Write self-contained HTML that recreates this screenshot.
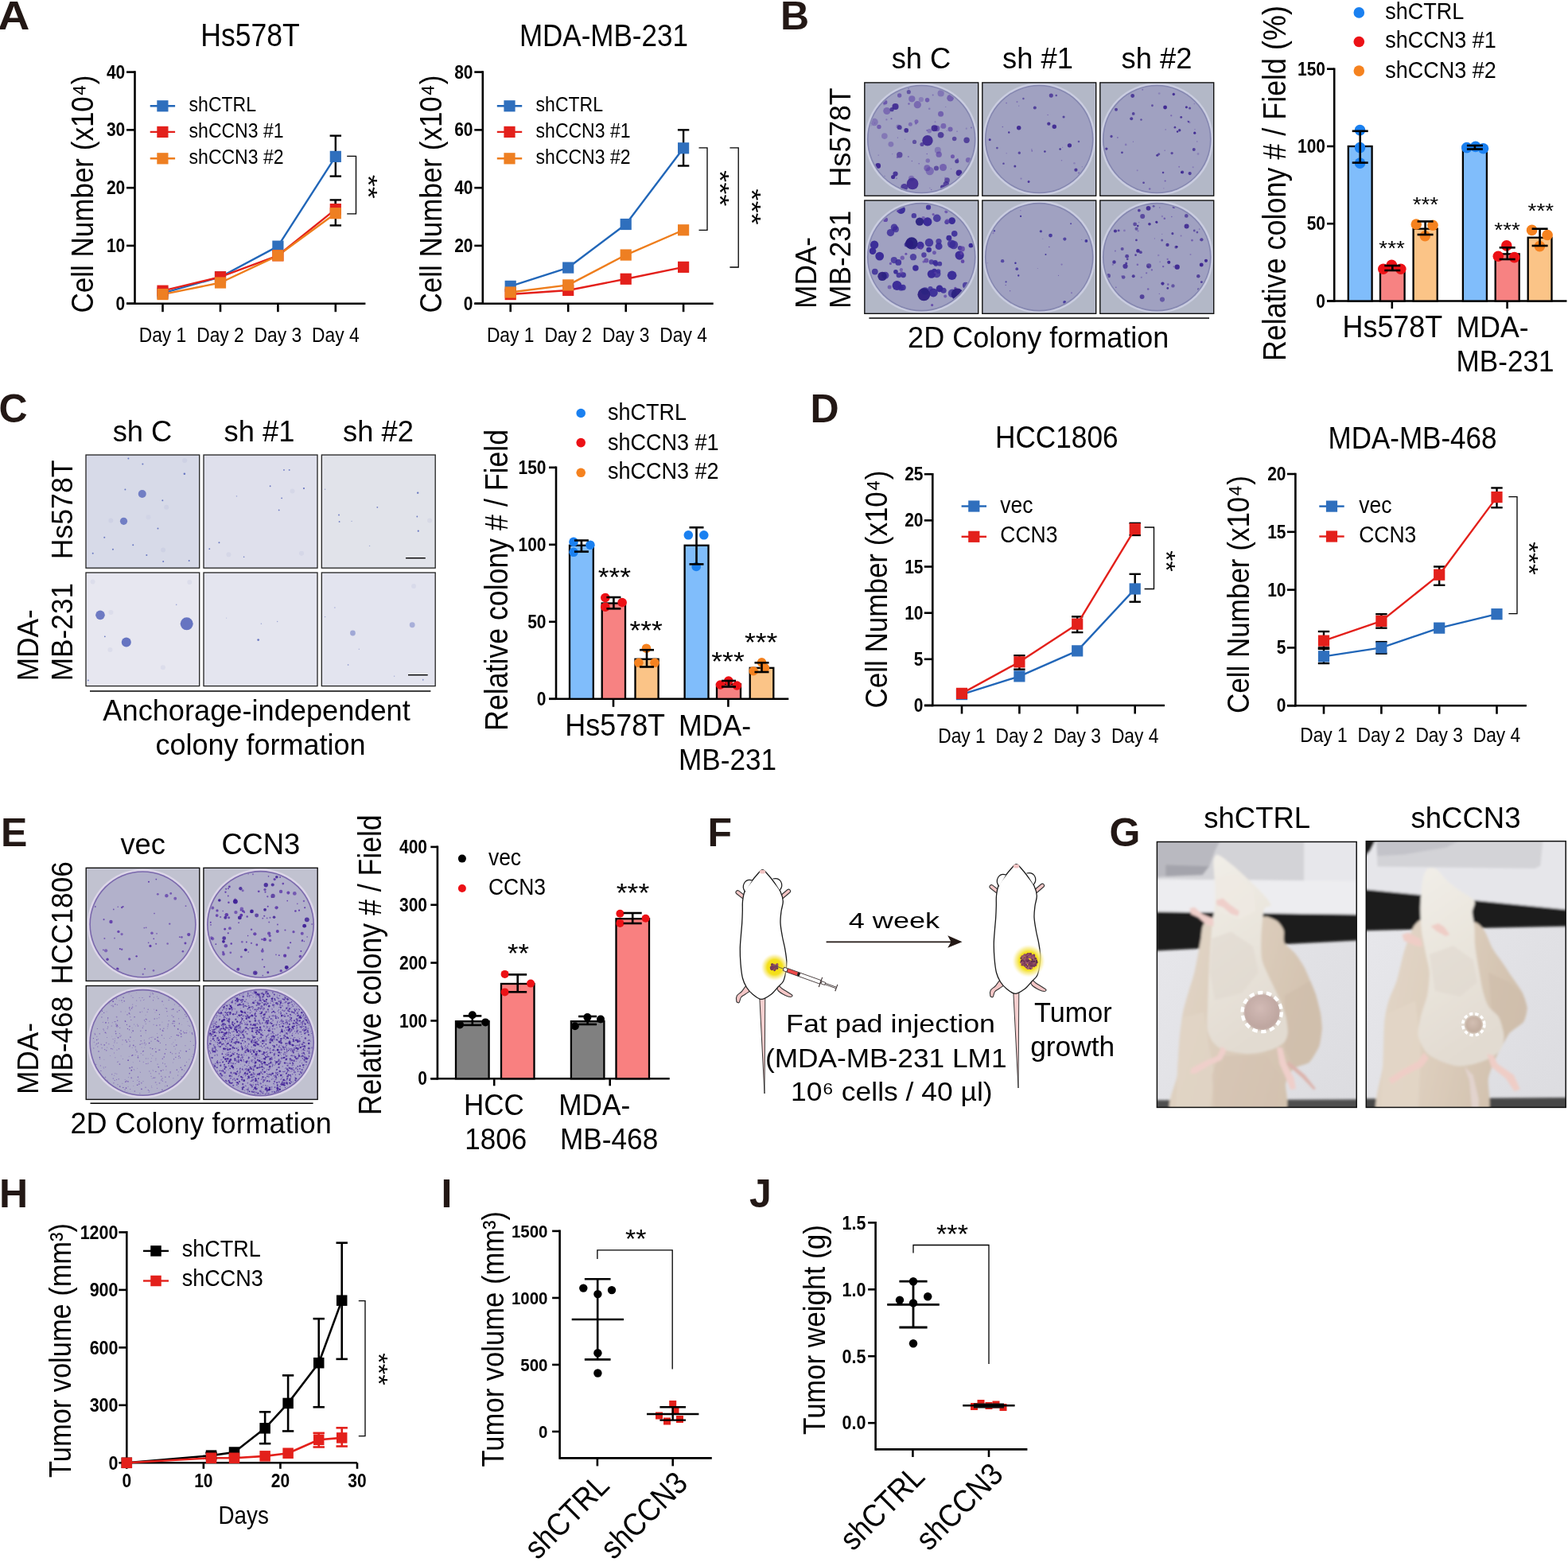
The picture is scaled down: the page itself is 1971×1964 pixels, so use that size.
<!DOCTYPE html>
<html><head><meta charset="utf-8"><title>Figure</title>
<style>html,body{margin:0;padding:0;background:#fff;}svg{display:block;}text{font-family:"Liberation Sans", Arial, Helvetica, sans-serif;}</style></head><body>
<svg xmlns="http://www.w3.org/2000/svg" width="1971" height="1964" viewBox="0 0 1971 1964">
<defs><filter id="soft" x="-20%" y="-20%" width="140%" height="140%"><feGaussianBlur stdDeviation="0.55"/></filter><clipPath id="pc1"><rect x="1086.8" y="103.9" width="142.9" height="142.3"/></clipPath><clipPath id="pc1d"><circle cx="1158.25" cy="175.05" r="66.31"/></clipPath><clipPath id="pc2"><rect x="1234.8" y="103.9" width="142.9" height="142.3"/></clipPath><clipPath id="pc2d"><circle cx="1306.25" cy="175.05" r="66.31"/></clipPath><clipPath id="pc3"><rect x="1382.8" y="103.9" width="142.9" height="142.3"/></clipPath><clipPath id="pc3d"><circle cx="1454.25" cy="175.05" r="66.31"/></clipPath><clipPath id="pc4"><rect x="1086.8" y="252" width="142.9" height="142.3"/></clipPath><clipPath id="pc4d"><circle cx="1158.25" cy="323.15" r="66.31"/></clipPath><clipPath id="pc5"><rect x="1234.8" y="252" width="142.9" height="142.3"/></clipPath><clipPath id="pc5d"><circle cx="1306.25" cy="323.15" r="66.31"/></clipPath><clipPath id="pc6"><rect x="1382.8" y="252" width="142.9" height="142.3"/></clipPath><clipPath id="pc6d"><circle cx="1454.25" cy="323.15" r="66.31"/></clipPath><clipPath id="pc7"><rect x="108" y="572" width="142.7" height="142.2"/></clipPath><clipPath id="pc8"><rect x="256" y="572" width="143" height="142.2"/></clipPath><clipPath id="pc9"><rect x="404.3" y="572" width="142.9" height="142.2"/></clipPath><clipPath id="pc10"><rect x="108" y="720" width="142.7" height="142.6"/></clipPath><clipPath id="pc11"><rect x="256" y="720" width="143" height="142.6"/></clipPath><clipPath id="pc12"><rect x="404.3" y="720" width="142.9" height="142.6"/></clipPath><clipPath id="pc13"><rect x="108.2" y="1091.3" width="142.6" height="142.1"/></clipPath><clipPath id="pc13d"><circle cx="179.5" cy="1162.35" r="65.16"/></clipPath><clipPath id="pc14"><rect x="255.9" y="1091.3" width="143.3" height="142.1"/></clipPath><clipPath id="pc14d"><circle cx="327.55" cy="1162.35" r="65.5"/></clipPath><clipPath id="pc15"><rect x="108.2" y="1239.5" width="142.6" height="142.9"/></clipPath><clipPath id="pc15d"><circle cx="179.5" cy="1310.95" r="65.16"/></clipPath><clipPath id="pc16"><rect x="255.9" y="1239.5" width="143.3" height="142.9"/></clipPath><clipPath id="pc16d"><circle cx="327.55" cy="1310.95" r="65.5"/></clipPath><clipPath id="ph1"><rect x="1454.4" y="1058.5" width="250.8" height="333.9"/></clipPath><linearGradient id="g1bg" x1="0" y1="0" x2="1" y2="1"><stop offset="0" stop-color="#e9e9ed"/><stop offset="1" stop-color="#dcdce0"/></linearGradient><linearGradient id="g1hand" x1="0" y1="0" x2="1" y2="0.4"><stop offset="0" stop-color="#e2d6c8"/><stop offset="0.5" stop-color="#dccdbc"/><stop offset="1" stop-color="#d2c1ae"/></linearGradient><linearGradient id="g1m" x1="0" y1="0" x2="0.3" y2="1"><stop offset="0" stop-color="#f1eee8"/><stop offset="0.6" stop-color="#e8e3da"/><stop offset="1" stop-color="#e2dbd1"/></linearGradient><clipPath id="ph2"><rect x="1717.3" y="1057.7" width="250.9" height="334.7"/></clipPath><linearGradient id="g2hand" x1="0" y1="0" x2="1" y2="0.3"><stop offset="0" stop-color="#e3d7c9"/><stop offset="0.5" stop-color="#ddcebd"/><stop offset="1" stop-color="#d1c0ad"/></linearGradient><filter id="blur1" x="-30%" y="-30%" width="160%" height="160%"><feGaussianBlur stdDeviation="1.2"/></filter><filter id="blur2" x="-5%" y="-5%" width="110%" height="110%"><feGaussianBlur stdDeviation="1.6"/></filter><radialGradient id="glow"><stop offset="0" stop-color="#f2dc00"/><stop offset="0.55" stop-color="#f4e020"/><stop offset="0.8" stop-color="#f8ec90" stop-opacity="0.7"/><stop offset="1" stop-color="#fff8d0" stop-opacity="0"/></radialGradient><radialGradient id="tum1" cx="0.45" cy="0.4"><stop offset="0" stop-color="#d2bab5"/><stop offset="1" stop-color="#bfa7a1"/></radialGradient><radialGradient id="tum2" cx="0.45" cy="0.4"><stop offset="0" stop-color="#d3bfb3"/><stop offset="1" stop-color="#c2ad9f"/></radialGradient></defs>
<rect x="0" y="0" width="1971" height="1964" fill="#fff"/>
<text transform="translate(-2.7 37.2) scale(1.1 1)" x="0" y="0" font-size="50.5" font-weight="bold" fill="#231815">A</text>
<text x="314.5" y="58" font-size="39.76" text-anchor="middle" textLength="124.31" lengthAdjust="spacingAndGlyphs">Hs578T</text>
<line x1="169.5" y1="89.3" x2="169.5" y2="383" stroke="#000" stroke-width="2.6"/>
<line x1="159" y1="90.6" x2="169.5" y2="90.6" stroke="#000" stroke-width="2.6"/>
<text x="157.3" y="98.68" font-size="23.52" text-anchor="end" font-weight="bold" textLength="23.36" lengthAdjust="spacingAndGlyphs">40</text>
<line x1="159" y1="163.38" x2="169.5" y2="163.38" stroke="#000" stroke-width="2.6"/>
<text x="157.3" y="171.46" font-size="23.52" text-anchor="end" font-weight="bold" textLength="23.36" lengthAdjust="spacingAndGlyphs">30</text>
<line x1="159" y1="236.15" x2="169.5" y2="236.15" stroke="#000" stroke-width="2.6"/>
<text x="157.3" y="244.23" font-size="23.52" text-anchor="end" font-weight="bold" textLength="23.36" lengthAdjust="spacingAndGlyphs">20</text>
<line x1="159" y1="308.92" x2="169.5" y2="308.92" stroke="#000" stroke-width="2.6"/>
<text x="157.3" y="317.01" font-size="23.52" text-anchor="end" font-weight="bold" textLength="23.36" lengthAdjust="spacingAndGlyphs">10</text>
<line x1="159" y1="381.7" x2="169.5" y2="381.7" stroke="#000" stroke-width="2.6"/>
<text x="157.3" y="389.78" font-size="23.52" text-anchor="end" font-weight="bold" textLength="11.68" lengthAdjust="spacingAndGlyphs">0</text>
<line x1="159" y1="381.7" x2="459.4" y2="381.7" stroke="#000" stroke-width="2.6"/>
<line x1="204.5" y1="381.7" x2="204.5" y2="392.2" stroke="#000" stroke-width="2.6"/>
<line x1="277" y1="381.7" x2="277" y2="392.2" stroke="#000" stroke-width="2.6"/>
<line x1="349.4" y1="381.7" x2="349.4" y2="392.2" stroke="#000" stroke-width="2.6"/>
<line x1="421.8" y1="381.7" x2="421.8" y2="392.2" stroke="#000" stroke-width="2.6"/>
<text x="204.5" y="429.6" font-size="25.54" text-anchor="middle" textLength="59.56" lengthAdjust="spacingAndGlyphs">Day 1</text>
<text x="277" y="429.6" font-size="25.54" text-anchor="middle" textLength="59.56" lengthAdjust="spacingAndGlyphs">Day 2</text>
<text x="349.4" y="429.6" font-size="25.54" text-anchor="middle" textLength="59.56" lengthAdjust="spacingAndGlyphs">Day 3</text>
<text x="421.8" y="429.6" font-size="25.54" text-anchor="middle" textLength="59.56" lengthAdjust="spacingAndGlyphs">Day 4</text>
<text transform="translate(116.5 244) rotate(-90)" x="0" y="0" font-size="39.2" text-anchor="middle" textLength="299.01" lengthAdjust="spacingAndGlyphs">Cell Number (x10⁴)</text>
<line x1="421.8" y1="170.65" x2="421.8" y2="221.59" stroke="#000" stroke-width="2.4"/>
<line x1="414.6" y1="170.65" x2="429" y2="170.65" stroke="#000" stroke-width="2.4"/>
<line x1="414.6" y1="221.59" x2="429" y2="221.59" stroke="#000" stroke-width="2.4"/>
<line x1="421.8" y1="251.43" x2="421.8" y2="283.45" stroke="#000" stroke-width="2.4"/>
<line x1="414.6" y1="251.43" x2="429" y2="251.43" stroke="#000" stroke-width="2.4"/>
<line x1="414.6" y1="283.45" x2="429" y2="283.45" stroke="#000" stroke-width="2.4"/>
<path d="M204.5 368.6 L277 348.22 L349.4 309.65 L421.8 196.85" fill="none" stroke="#2166b8" stroke-width="2.4" stroke-linejoin="round"/>
<path d="M204.5 365.69 L277 348.22 L349.4 321.3 L421.8 263.08" fill="none" stroke="#e3201b" stroke-width="2.4" stroke-linejoin="round"/>
<path d="M204.5 370.06 L277 355.5 L349.4 321.3 L421.8 268.17" fill="none" stroke="#ee7d1c" stroke-width="2.4" stroke-linejoin="round"/>
<rect x="197.4" y="361.5" width="14.2" height="14.2" fill="#2f6fbd" stroke="none" stroke-width="1"/>
<rect x="269.9" y="341.12" width="14.2" height="14.2" fill="#2f6fbd" stroke="none" stroke-width="1"/>
<rect x="342.3" y="302.55" width="14.2" height="14.2" fill="#2f6fbd" stroke="none" stroke-width="1"/>
<rect x="414.7" y="189.75" width="14.2" height="14.2" fill="#2f6fbd" stroke="none" stroke-width="1"/>
<rect x="197.4" y="358.59" width="14.2" height="14.2" fill="#e3201b" stroke="none" stroke-width="1"/>
<rect x="269.9" y="341.12" width="14.2" height="14.2" fill="#e3201b" stroke="none" stroke-width="1"/>
<rect x="342.3" y="314.2" width="14.2" height="14.2" fill="#e3201b" stroke="none" stroke-width="1"/>
<rect x="414.7" y="255.98" width="14.2" height="14.2" fill="#e3201b" stroke="none" stroke-width="1"/>
<rect x="197.4" y="362.96" width="14.2" height="14.2" fill="#ee7f22" stroke="none" stroke-width="1"/>
<rect x="269.9" y="348.4" width="14.2" height="14.2" fill="#ee7f22" stroke="none" stroke-width="1"/>
<rect x="342.3" y="314.2" width="14.2" height="14.2" fill="#ee7f22" stroke="none" stroke-width="1"/>
<rect x="414.7" y="261.07" width="14.2" height="14.2" fill="#ee7f22" stroke="none" stroke-width="1"/>
<line x1="421.8" y1="251.43" x2="421.8" y2="256.08" stroke="#000" stroke-width="2.4"/>
<path d="M436.2 196.4 L447.5 196.4 L447.5 268.9 L436.2 268.9" fill="none" stroke="#000" stroke-width="1.3"/>
<text transform="translate(452 234.75) rotate(90)" x="0" y="0" font-size="31" text-anchor="middle" textLength="30" lengthAdjust="spacingAndGlyphs">**</text>
<line x1="188.7" y1="133.3" x2="220.1" y2="133.3" stroke="#2166b8" stroke-width="2.4"/>
<rect x="197.3" y="126.2" width="14.2" height="14.2" fill="#2f6fbd" stroke="none" stroke-width="1"/>
<text x="237.6" y="139.9" font-size="25.76" textLength="84.35" lengthAdjust="spacingAndGlyphs">shCTRL</text>
<line x1="188.7" y1="165.9" x2="220.1" y2="165.9" stroke="#e3201b" stroke-width="2.4"/>
<rect x="197.3" y="158.8" width="14.2" height="14.2" fill="#e3201b" stroke="none" stroke-width="1"/>
<text x="237.6" y="172.6" font-size="25.76" textLength="118.89" lengthAdjust="spacingAndGlyphs">shCCN3 #1</text>
<line x1="188.7" y1="199.3" x2="220.1" y2="199.3" stroke="#ee7d1c" stroke-width="2.4"/>
<rect x="197.3" y="192.2" width="14.2" height="14.2" fill="#ee7f22" stroke="none" stroke-width="1"/>
<text x="237.6" y="206.1" font-size="25.76" textLength="118.89" lengthAdjust="spacingAndGlyphs">shCCN3 #2</text>
<text x="758.9" y="58" font-size="39.2" text-anchor="middle" textLength="211.99" lengthAdjust="spacingAndGlyphs">MDA-MB-231</text>
<line x1="606.8" y1="89.3" x2="606.8" y2="383" stroke="#000" stroke-width="2.6"/>
<line x1="596.3" y1="90.58" x2="606.8" y2="90.58" stroke="#000" stroke-width="2.6"/>
<text x="594.5" y="98.66" font-size="23.52" text-anchor="end" font-weight="bold" textLength="23.36" lengthAdjust="spacingAndGlyphs">80</text>
<line x1="596.3" y1="163.36" x2="606.8" y2="163.36" stroke="#000" stroke-width="2.6"/>
<text x="594.5" y="171.45" font-size="23.52" text-anchor="end" font-weight="bold" textLength="23.36" lengthAdjust="spacingAndGlyphs">60</text>
<line x1="596.3" y1="236.14" x2="606.8" y2="236.14" stroke="#000" stroke-width="2.6"/>
<text x="594.5" y="244.22" font-size="23.52" text-anchor="end" font-weight="bold" textLength="23.36" lengthAdjust="spacingAndGlyphs">40</text>
<line x1="596.3" y1="308.92" x2="606.8" y2="308.92" stroke="#000" stroke-width="2.6"/>
<text x="594.5" y="317" font-size="23.52" text-anchor="end" font-weight="bold" textLength="23.36" lengthAdjust="spacingAndGlyphs">20</text>
<line x1="596.3" y1="381.7" x2="606.8" y2="381.7" stroke="#000" stroke-width="2.6"/>
<text x="594.5" y="389.78" font-size="23.52" text-anchor="end" font-weight="bold" textLength="11.68" lengthAdjust="spacingAndGlyphs">0</text>
<line x1="596.5" y1="381.7" x2="896.7" y2="381.7" stroke="#000" stroke-width="2.6"/>
<line x1="641.7" y1="381.7" x2="641.7" y2="392.2" stroke="#000" stroke-width="2.6"/>
<line x1="714.2" y1="381.7" x2="714.2" y2="392.2" stroke="#000" stroke-width="2.6"/>
<line x1="786.7" y1="381.7" x2="786.7" y2="392.2" stroke="#000" stroke-width="2.6"/>
<line x1="859.1" y1="381.7" x2="859.1" y2="392.2" stroke="#000" stroke-width="2.6"/>
<text x="641.7" y="429.6" font-size="25.54" text-anchor="middle" textLength="59.56" lengthAdjust="spacingAndGlyphs">Day 1</text>
<text x="714.2" y="429.6" font-size="25.54" text-anchor="middle" textLength="59.56" lengthAdjust="spacingAndGlyphs">Day 2</text>
<text x="786.7" y="429.6" font-size="25.54" text-anchor="middle" textLength="59.56" lengthAdjust="spacingAndGlyphs">Day 3</text>
<text x="859.1" y="429.6" font-size="25.54" text-anchor="middle" textLength="59.56" lengthAdjust="spacingAndGlyphs">Day 4</text>
<text transform="translate(555 244) rotate(-90)" x="0" y="0" font-size="39.2" text-anchor="middle" textLength="299.01" lengthAdjust="spacingAndGlyphs">Cell Number (x10⁴)</text>
<line x1="859.1" y1="163.36" x2="859.1" y2="208.48" stroke="#000" stroke-width="2.4"/>
<line x1="851.9" y1="163.36" x2="866.3" y2="163.36" stroke="#000" stroke-width="2.4"/>
<line x1="851.9" y1="208.48" x2="866.3" y2="208.48" stroke="#000" stroke-width="2.4"/>
<path d="M641.7 359.87 L714.2 336.58 L786.7 281.99 L859.1 186.29" fill="none" stroke="#2166b8" stroke-width="2.4" stroke-linejoin="round"/>
<path d="M641.7 370.06 L714.2 364.96 L786.7 350.77 L859.1 335.85" fill="none" stroke="#e3201b" stroke-width="2.4" stroke-linejoin="round"/>
<path d="M641.7 367.51 L714.2 358.41 L786.7 320.56 L859.1 289.27" fill="none" stroke="#ee7d1c" stroke-width="2.4" stroke-linejoin="round"/>
<rect x="634.6" y="352.77" width="14.2" height="14.2" fill="#2f6fbd" stroke="none" stroke-width="1"/>
<rect x="707.1" y="329.48" width="14.2" height="14.2" fill="#2f6fbd" stroke="none" stroke-width="1"/>
<rect x="779.6" y="274.89" width="14.2" height="14.2" fill="#2f6fbd" stroke="none" stroke-width="1"/>
<rect x="852" y="179.19" width="14.2" height="14.2" fill="#2f6fbd" stroke="none" stroke-width="1"/>
<rect x="634.6" y="362.96" width="14.2" height="14.2" fill="#e3201b" stroke="none" stroke-width="1"/>
<rect x="707.1" y="357.86" width="14.2" height="14.2" fill="#e3201b" stroke="none" stroke-width="1"/>
<rect x="779.6" y="343.67" width="14.2" height="14.2" fill="#e3201b" stroke="none" stroke-width="1"/>
<rect x="852" y="328.75" width="14.2" height="14.2" fill="#e3201b" stroke="none" stroke-width="1"/>
<rect x="634.6" y="360.41" width="14.2" height="14.2" fill="#ee7f22" stroke="none" stroke-width="1"/>
<rect x="707.1" y="351.31" width="14.2" height="14.2" fill="#ee7f22" stroke="none" stroke-width="1"/>
<rect x="779.6" y="313.46" width="14.2" height="14.2" fill="#ee7f22" stroke="none" stroke-width="1"/>
<rect x="852" y="282.17" width="14.2" height="14.2" fill="#ee7f22" stroke="none" stroke-width="1"/>
<path d="M878.5 185.8 L889 185.8 L889 289.3 L878.5 289.3" fill="none" stroke="#000" stroke-width="1.3"/>
<text transform="translate(894 236.8) rotate(90)" x="0" y="0" font-size="31" text-anchor="middle" textLength="45.5" lengthAdjust="spacingAndGlyphs">***</text>
<path d="M917.4 185.8 L928.2 185.8 L928.2 336 L917.4 336" fill="none" stroke="#000" stroke-width="1.3"/>
<text transform="translate(934.1 260) rotate(90)" x="0" y="0" font-size="31" text-anchor="middle" textLength="45.5" lengthAdjust="spacingAndGlyphs">***</text>
<line x1="624.8" y1="133.3" x2="656.2" y2="133.3" stroke="#2166b8" stroke-width="2.4"/>
<rect x="633.4" y="126.2" width="14.2" height="14.2" fill="#2f6fbd" stroke="none" stroke-width="1"/>
<text x="673.6" y="139.9" font-size="25.76" textLength="84.35" lengthAdjust="spacingAndGlyphs">shCTRL</text>
<line x1="624.8" y1="165.9" x2="656.2" y2="165.9" stroke="#e3201b" stroke-width="2.4"/>
<rect x="633.4" y="158.8" width="14.2" height="14.2" fill="#e3201b" stroke="none" stroke-width="1"/>
<text x="673.6" y="172.6" font-size="25.76" textLength="118.89" lengthAdjust="spacingAndGlyphs">shCCN3 #1</text>
<line x1="624.8" y1="199.3" x2="656.2" y2="199.3" stroke="#ee7d1c" stroke-width="2.4"/>
<rect x="633.4" y="192.2" width="14.2" height="14.2" fill="#ee7f22" stroke="none" stroke-width="1"/>
<text x="673.6" y="206.1" font-size="25.76" textLength="118.89" lengthAdjust="spacingAndGlyphs">shCCN3 #2</text>
<text x="981" y="37" font-size="50" font-weight="bold" fill="#231815">B</text>
<text x="1158" y="86.2" font-size="36.3" text-anchor="middle">sh C</text>
<text x="1304.5" y="86.2" font-size="36.3" text-anchor="middle">sh #1</text>
<text x="1454" y="86.2" font-size="36.3" text-anchor="middle">sh #2</text>
<text transform="translate(1069.3 172.8) rotate(-90)" x="0" y="0" font-size="37.02" text-anchor="middle" textLength="124.66" lengthAdjust="spacingAndGlyphs">Hs578T</text>
<text transform="translate(1026 387.9) rotate(-90)" x="0" y="0" font-size="36.61" textLength="89.95" lengthAdjust="spacingAndGlyphs">MDA-</text>
<text transform="translate(1069.3 387.9) rotate(-90)" x="0" y="0" font-size="36.61" textLength="123.26" lengthAdjust="spacingAndGlyphs">MB-231</text>
<g clip-path="url(#pc1)">
<rect x="1086.8" y="103.9" width="142.9" height="142.3" fill="#b3b8c7" stroke="none" stroke-width="1"/>
<circle cx="1158.25" cy="175.05" r="70.81" fill="#cacde0"/>
<circle cx="1158.25" cy="175.05" r="68.31" fill="#8587b0"/>
<circle cx="1158.25" cy="175.05" r="66.71" fill="#a0a1c1"/>
<g clip-path="url(#pc1d)" filter="url(#soft)">
<circle cx="1185.51" cy="210.5" r="4.53" fill="#5b3fa6" fill-opacity="0.63"/>
<circle cx="1153.31" cy="131.67" r="4.65" fill="#5b3fa6" fill-opacity="0.56"/>
<circle cx="1197.46" cy="196.66" r="2.53" fill="#5b3fa6" fill-opacity="0.72"/>
<circle cx="1194.54" cy="162.52" r="3.02" fill="#5b3fa6" fill-opacity="0.66"/>
<circle cx="1166.26" cy="201.89" r="2.75" fill="#5b3fa6" fill-opacity="0.49"/>
<circle cx="1112.62" cy="128.65" r="2.79" fill="#5b3fa6" fill-opacity="0.73"/>
<circle cx="1099.08" cy="153.58" r="4.72" fill="#5b3fa6" fill-opacity="0.41"/>
<circle cx="1144.35" cy="156.28" r="2.5" fill="#5b3fa6" fill-opacity="0.51"/>
<circle cx="1165.59" cy="125.7" r="2.75" fill="#5b3fa6" fill-opacity="0.69"/>
<circle cx="1185.92" cy="158.4" r="3.4" fill="#5b3fa6" fill-opacity="0.61"/>
<circle cx="1177.54" cy="161.46" r="3.74" fill="#5b3fa6" fill-opacity="0.74"/>
<circle cx="1114.78" cy="139.5" r="4.55" fill="#5b3fa6" fill-opacity="0.55"/>
<circle cx="1145.62" cy="224.41" r="3.65" fill="#5b3fa6" fill-opacity="0.49"/>
<circle cx="1182.57" cy="143.36" r="3.51" fill="#5b3fa6" fill-opacity="0.65"/>
<circle cx="1182.67" cy="117.44" r="4.08" fill="#5b3fa6" fill-opacity="0.45"/>
<circle cx="1194.56" cy="123.29" r="4.31" fill="#5b3fa6" fill-opacity="0.66"/>
<circle cx="1111.84" cy="171.08" r="3.83" fill="#5b3fa6" fill-opacity="0.41"/>
<circle cx="1130.65" cy="120.05" r="2.7" fill="#5b3fa6" fill-opacity="0.65"/>
<circle cx="1151.98" cy="152.85" r="2.53" fill="#5b3fa6" fill-opacity="0.59"/>
<circle cx="1165.36" cy="211.27" r="3.97" fill="#5b3fa6" fill-opacity="0.61"/>
<circle cx="1157.86" cy="125.07" r="3.08" fill="#5b3fa6" fill-opacity="0.36"/>
<circle cx="1180.21" cy="194.17" r="3.64" fill="#5b3fa6" fill-opacity="0.64"/>
<circle cx="1168.76" cy="215.09" r="5.22" fill="#5b3fa6" fill-opacity="0.51"/>
<circle cx="1146.3" cy="124.29" r="4.11" fill="#5b3fa6" fill-opacity="0.54"/>
<circle cx="1104.95" cy="159.53" r="2.69" fill="#5b3fa6" fill-opacity="0.67"/>
<circle cx="1168.29" cy="164.74" r="2.76" fill="#5b3fa6" fill-opacity="0.45"/>
<circle cx="1178.83" cy="188.91" r="4.04" fill="#5b3fa6" fill-opacity="0.4"/>
<circle cx="1217.14" cy="201.33" r="3.26" fill="#5b3fa6" fill-opacity="0.57"/>
<circle cx="1119.89" cy="181.34" r="3.42" fill="#5b3fa6" fill-opacity="0.43"/>
<circle cx="1129.1" cy="159.09" r="2.67" fill="#5b3fa6" fill-opacity="0.43"/>
<circle cx="1103.67" cy="208.39" r="3.42" fill="#3b2590" fill-opacity="0.94"/>
<circle cx="1130.77" cy="194.81" r="3.7" fill="#3b2590" fill-opacity="0.67"/>
<circle cx="1199.68" cy="174.55" r="2.78" fill="#3b2590" fill-opacity="0.69"/>
<circle cx="1136.71" cy="235.5" r="4.48" fill="#3b2590" fill-opacity="0.8"/>
<circle cx="1158.99" cy="181.55" r="2.55" fill="#3b2590" fill-opacity="0.7"/>
<circle cx="1125.51" cy="134.04" r="4.08" fill="#3b2590" fill-opacity="0.89"/>
<circle cx="1125.54" cy="218.55" r="3.09" fill="#3b2590" fill-opacity="0.85"/>
<circle cx="1184.55" cy="235.06" r="2.51" fill="#3b2590" fill-opacity="0.82"/>
<circle cx="1122.63" cy="222.51" r="2.61" fill="#3b2590" fill-opacity="0.91"/>
<circle cx="1215.09" cy="176.2" r="3.68" fill="#3b2590" fill-opacity="0.78"/>
<circle cx="1176.98" cy="211.51" r="3.1" fill="#3b2590" fill-opacity="0.67"/>
<circle cx="1190.54" cy="226.64" r="3.31" fill="#3b2590" fill-opacity="0.69"/>
<circle cx="1121.05" cy="137.65" r="2.6" fill="#3b2590" fill-opacity="0.8"/>
<circle cx="1139.19" cy="163.88" r="2.83" fill="#3b2590" fill-opacity="0.9"/>
<circle cx="1130.72" cy="160.13" r="2.99" fill="#3b2590" fill-opacity="0.76"/>
<circle cx="1142.3" cy="115.64" r="2.55" fill="#3b2590" fill-opacity="0.62"/>
<circle cx="1149.5" cy="178.42" r="2.62" fill="#3b2590" fill-opacity="0.64"/>
<circle cx="1202.78" cy="202.73" r="2.56" fill="#3b2590" fill-opacity="0.8"/>
<circle cx="1182.54" cy="169.8" r="3.82" fill="#3b2590" fill-opacity="0.8"/>
<circle cx="1189.31" cy="231.72" r="3.76" fill="#3b2590" fill-opacity="0.73"/>
<circle cx="1174.6" cy="161.25" r="4.02" fill="#3b2590" fill-opacity="0.89"/>
<circle cx="1205.57" cy="217.3" r="3.89" fill="#3b2590" fill-opacity="0.92"/>
<circle cx="1147.04" cy="230.91" r="7.38" fill="#3b2590" fill-opacity="0.88"/>
<circle cx="1165.96" cy="176.77" r="6.72" fill="#3b2590" fill-opacity="0.9"/>
<circle cx="1195.49" cy="212.29" r="0.61" fill="#5b3fa6" fill-opacity="0.49"/>
<circle cx="1128.4" cy="173.05" r="0.61" fill="#5b3fa6" fill-opacity="0.66"/>
<circle cx="1188.77" cy="134.37" r="0.6" fill="#5b3fa6" fill-opacity="0.51"/>
<circle cx="1214.76" cy="161.67" r="1.06" fill="#5b3fa6" fill-opacity="0.32"/>
<circle cx="1130.06" cy="159.93" r="1.38" fill="#5b3fa6" fill-opacity="0.3"/>
<circle cx="1168.85" cy="236.34" r="0.63" fill="#5b3fa6" fill-opacity="0.42"/>
<circle cx="1136.64" cy="233.44" r="1.06" fill="#5b3fa6" fill-opacity="0.67"/>
<circle cx="1165.27" cy="193.46" r="0.76" fill="#5b3fa6" fill-opacity="0.61"/>
<circle cx="1111.26" cy="131.42" r="1.08" fill="#5b3fa6" fill-opacity="0.33"/>
<circle cx="1146.35" cy="202.51" r="0.71" fill="#5b3fa6" fill-opacity="0.57"/>
<circle cx="1104.15" cy="195.04" r="0.6" fill="#5b3fa6" fill-opacity="0.66"/>
<circle cx="1188.17" cy="223.73" r="1.22" fill="#5b3fa6" fill-opacity="0.32"/>
<circle cx="1095.08" cy="157.83" r="0.6" fill="#5b3fa6" fill-opacity="0.5"/>
<circle cx="1121.72" cy="193.58" r="0.67" fill="#5b3fa6" fill-opacity="0.37"/>
<circle cx="1155.15" cy="205.82" r="0.73" fill="#5b3fa6" fill-opacity="0.66"/>
<circle cx="1190.33" cy="164.41" r="0.6" fill="#5b3fa6" fill-opacity="0.41"/>
<circle cx="1175.52" cy="153.24" r="1.03" fill="#5b3fa6" fill-opacity="0.34"/>
<circle cx="1141.87" cy="196.89" r="0.99" fill="#5b3fa6" fill-opacity="0.45"/>
<circle cx="1165.37" cy="127.85" r="0.81" fill="#5b3fa6" fill-opacity="0.31"/>
<circle cx="1165.18" cy="163.92" r="0.88" fill="#5b3fa6" fill-opacity="0.7"/>
<circle cx="1168.23" cy="136.79" r="1.32" fill="#5b3fa6" fill-opacity="0.4"/>
<circle cx="1114.41" cy="150.4" r="1.09" fill="#5b3fa6" fill-opacity="0.42"/>
<circle cx="1128.02" cy="197.7" r="1.3" fill="#5b3fa6" fill-opacity="0.6"/>
<circle cx="1127.03" cy="224.32" r="0.99" fill="#5b3fa6" fill-opacity="0.4"/>
<circle cx="1137.53" cy="175.17" r="0.68" fill="#5b3fa6" fill-opacity="0.33"/>
<circle cx="1203.72" cy="200.32" r="1.2" fill="#5b3fa6" fill-opacity="0.63"/>
<circle cx="1170.68" cy="238.39" r="0.76" fill="#5b3fa6" fill-opacity="0.58"/>
<circle cx="1120.49" cy="149.21" r="1.06" fill="#5b3fa6" fill-opacity="0.66"/>
<circle cx="1142.49" cy="130.44" r="1.24" fill="#5b3fa6" fill-opacity="0.6"/>
<circle cx="1112.03" cy="221.61" r="0.8" fill="#5b3fa6" fill-opacity="0.32"/>
<circle cx="1220.95" cy="160.47" r="0.91" fill="#5b3fa6" fill-opacity="0.6"/>
<circle cx="1151.32" cy="155.41" r="1.17" fill="#5b3fa6" fill-opacity="0.55"/>
<circle cx="1203.07" cy="165.14" r="0.72" fill="#5b3fa6" fill-opacity="0.61"/>
<circle cx="1099.71" cy="154.82" r="0.61" fill="#5b3fa6" fill-opacity="0.57"/>
<circle cx="1182.13" cy="159.84" r="0.62" fill="#5b3fa6" fill-opacity="0.5"/>
<circle cx="1128.2" cy="131.78" r="0.91" fill="#5b3fa6" fill-opacity="0.44"/>
<circle cx="1142.08" cy="111.15" r="0.89" fill="#5b3fa6" fill-opacity="0.46"/>
<circle cx="1185.65" cy="169.62" r="0.94" fill="#5b3fa6" fill-opacity="0.64"/>
<circle cx="1172.67" cy="119.55" r="1.05" fill="#5b3fa6" fill-opacity="0.48"/>
<circle cx="1160.82" cy="174.49" r="0.82" fill="#5b3fa6" fill-opacity="0.48"/>
</g></g>
<rect x="1086.8" y="103.9" width="142.9" height="142.3" fill="none" stroke="#111" stroke-width="1.4"/>
<g clip-path="url(#pc2)">
<rect x="1234.8" y="103.9" width="142.9" height="142.3" fill="#b3b8c7" stroke="none" stroke-width="1"/>
<circle cx="1306.25" cy="175.05" r="70.81" fill="#cacde0"/>
<circle cx="1306.25" cy="175.05" r="68.31" fill="#8587b0"/>
<circle cx="1306.25" cy="175.05" r="66.71" fill="#a0a1c1"/>
<g clip-path="url(#pc2d)" filter="url(#soft)">
<circle cx="1280.71" cy="160.77" r="2.72" fill="#3b2590" fill-opacity="0.92"/>
<circle cx="1253.39" cy="186.12" r="1.36" fill="#3b2590" fill-opacity="0.68"/>
<circle cx="1293.03" cy="228.62" r="1.36" fill="#3b2590" fill-opacity="0.94"/>
<circle cx="1332.6" cy="187.52" r="1.24" fill="#3b2590" fill-opacity="0.87"/>
<circle cx="1275.81" cy="208.92" r="1.5" fill="#3b2590" fill-opacity="0.82"/>
<circle cx="1281.34" cy="192.23" r="1.65" fill="#3b2590" fill-opacity="0.71"/>
<circle cx="1352.42" cy="213.63" r="2.1" fill="#3b2590" fill-opacity="0.83"/>
<circle cx="1337.05" cy="147.01" r="1.57" fill="#3b2590" fill-opacity="0.75"/>
<circle cx="1261.48" cy="205.66" r="1.2" fill="#3b2590" fill-opacity="0.76"/>
<circle cx="1268.22" cy="166.53" r="1.21" fill="#3b2590" fill-opacity="0.85"/>
<circle cx="1355.98" cy="178" r="1.3" fill="#3b2590" fill-opacity="0.61"/>
<circle cx="1313.41" cy="190.47" r="1.29" fill="#3b2590" fill-opacity="0.84"/>
<circle cx="1300.82" cy="135.48" r="2.04" fill="#3b2590" fill-opacity="0.77"/>
<circle cx="1244.2" cy="175.65" r="1.48" fill="#3b2590" fill-opacity="0.9"/>
<circle cx="1286.42" cy="123.95" r="1.2" fill="#3b2590" fill-opacity="0.63"/>
<circle cx="1344.45" cy="182.83" r="2.67" fill="#3b2590" fill-opacity="0.91"/>
<circle cx="1318.33" cy="155.64" r="2.15" fill="#3b2590" fill-opacity="0.87"/>
<circle cx="1327.72" cy="120.08" r="1.28" fill="#3b2590" fill-opacity="0.66"/>
<circle cx="1321.3" cy="120.1" r="2.55" fill="#3b2590" fill-opacity="0.76"/>
<circle cx="1325.28" cy="159.22" r="2.7" fill="#3b2590" fill-opacity="0.91"/>
<circle cx="1297.24" cy="189.74" r="0.93" fill="#5b3fa6" fill-opacity="0.58"/>
<circle cx="1296.87" cy="187.89" r="0.72" fill="#5b3fa6" fill-opacity="0.63"/>
<circle cx="1360.31" cy="209.66" r="0.7" fill="#5b3fa6" fill-opacity="0.38"/>
<circle cx="1356.27" cy="217.61" r="1.28" fill="#5b3fa6" fill-opacity="0.43"/>
<circle cx="1350.46" cy="205.35" r="1.27" fill="#5b3fa6" fill-opacity="0.3"/>
<circle cx="1265.1" cy="129.52" r="0.85" fill="#5b3fa6" fill-opacity="0.53"/>
<circle cx="1317.08" cy="144.53" r="0.71" fill="#5b3fa6" fill-opacity="0.56"/>
<circle cx="1260.33" cy="159.38" r="0.75" fill="#5b3fa6" fill-opacity="0.67"/>
<circle cx="1293.28" cy="228.12" r="1.28" fill="#5b3fa6" fill-opacity="0.46"/>
<circle cx="1335.58" cy="185.47" r="0.61" fill="#5b3fa6" fill-opacity="0.36"/>
<circle cx="1334.46" cy="201.69" r="0.78" fill="#5b3fa6" fill-opacity="0.48"/>
<circle cx="1278.51" cy="128.08" r="1.06" fill="#5b3fa6" fill-opacity="0.45"/>
<circle cx="1280.66" cy="133.07" r="0.64" fill="#5b3fa6" fill-opacity="0.52"/>
<circle cx="1283.55" cy="224.61" r="1.1" fill="#5b3fa6" fill-opacity="0.4"/>
<circle cx="1265.19" cy="192.78" r="0.73" fill="#5b3fa6" fill-opacity="0.32"/>
</g></g>
<rect x="1234.8" y="103.9" width="142.9" height="142.3" fill="none" stroke="#111" stroke-width="1.4"/>
<g clip-path="url(#pc3)">
<rect x="1382.8" y="103.9" width="142.9" height="142.3" fill="#b3b8c7" stroke="none" stroke-width="1"/>
<circle cx="1454.25" cy="175.05" r="70.81" fill="#cacde0"/>
<circle cx="1454.25" cy="175.05" r="68.31" fill="#8587b0"/>
<circle cx="1454.25" cy="175.05" r="66.71" fill="#a0a1c1"/>
<g clip-path="url(#pc3d)" filter="url(#soft)">
<circle cx="1485.32" cy="216.8" r="1.31" fill="#3b2590" fill-opacity="0.85"/>
<circle cx="1422.22" cy="149.28" r="1.98" fill="#3b2590" fill-opacity="0.8"/>
<circle cx="1500.76" cy="188" r="1.98" fill="#3b2590" fill-opacity="0.78"/>
<circle cx="1495.57" cy="135.99" r="1.57" fill="#3b2590" fill-opacity="0.68"/>
<circle cx="1495.64" cy="218.05" r="2.12" fill="#3b2590" fill-opacity="0.81"/>
<circle cx="1410.43" cy="191.85" r="1.37" fill="#3b2590" fill-opacity="0.79"/>
<circle cx="1486.19" cy="216.41" r="2" fill="#3b2590" fill-opacity="0.83"/>
<circle cx="1454.7" cy="195.16" r="1.51" fill="#3b2590" fill-opacity="0.84"/>
<circle cx="1397.03" cy="171.48" r="1.65" fill="#3b2590" fill-opacity="0.74"/>
<circle cx="1476.91" cy="160.18" r="1.35" fill="#3b2590" fill-opacity="0.81"/>
<circle cx="1424.67" cy="142.99" r="1.87" fill="#3b2590" fill-opacity="0.75"/>
<circle cx="1423.68" cy="120.52" r="2.4" fill="#3b2590" fill-opacity="0.82"/>
<circle cx="1390.84" cy="187.09" r="1.68" fill="#3b2590" fill-opacity="0.82"/>
<circle cx="1491.39" cy="134.74" r="1.59" fill="#3b2590" fill-opacity="0.86"/>
<circle cx="1403.01" cy="137.68" r="1.99" fill="#3b2590" fill-opacity="0.79"/>
<circle cx="1501.77" cy="167.22" r="1.6" fill="#3b2590" fill-opacity="0.93"/>
<circle cx="1480.07" cy="165.58" r="1.23" fill="#3b2590" fill-opacity="0.9"/>
<circle cx="1484.7" cy="147.42" r="1.41" fill="#3b2590" fill-opacity="0.84"/>
<circle cx="1482.72" cy="163.8" r="1.68" fill="#3b2590" fill-opacity="0.83"/>
<circle cx="1462.04" cy="217.04" r="1.29" fill="#3b2590" fill-opacity="0.77"/>
<circle cx="1456.62" cy="193.73" r="1.59" fill="#3b2590" fill-opacity="0.65"/>
<circle cx="1473.13" cy="192.53" r="1.63" fill="#3b2590" fill-opacity="0.71"/>
<circle cx="1448.45" cy="132.76" r="1.39" fill="#3b2590" fill-opacity="0.67"/>
<circle cx="1437.57" cy="229.73" r="1.34" fill="#3b2590" fill-opacity="0.76"/>
<circle cx="1475.31" cy="118.44" r="1.7" fill="#3b2590" fill-opacity="0.89"/>
<circle cx="1434.48" cy="150.42" r="1.25" fill="#3b2590" fill-opacity="0.66"/>
<circle cx="1464.58" cy="134.97" r="2.43" fill="#3b2590" fill-opacity="0.94"/>
<circle cx="1493.96" cy="153.01" r="1.2" fill="#3b2590" fill-opacity="0.7"/>
<circle cx="1464.62" cy="227.45" r="1.07" fill="#5b3fa6" fill-opacity="0.67"/>
<circle cx="1436.19" cy="112.66" r="1.01" fill="#5b3fa6" fill-opacity="0.49"/>
<circle cx="1472.25" cy="145.37" r="1.15" fill="#5b3fa6" fill-opacity="0.59"/>
<circle cx="1465.17" cy="162.95" r="0.67" fill="#5b3fa6" fill-opacity="0.68"/>
<circle cx="1482.19" cy="209.74" r="0.97" fill="#5b3fa6" fill-opacity="0.49"/>
<circle cx="1501.29" cy="130.47" r="0.76" fill="#5b3fa6" fill-opacity="0.35"/>
<circle cx="1492.62" cy="152.2" r="0.7" fill="#5b3fa6" fill-opacity="0.36"/>
<circle cx="1504.78" cy="177.92" r="0.72" fill="#5b3fa6" fill-opacity="0.52"/>
<circle cx="1495.28" cy="153.93" r="1.34" fill="#5b3fa6" fill-opacity="0.33"/>
<circle cx="1457.16" cy="117.52" r="1.35" fill="#5b3fa6" fill-opacity="0.31"/>
<circle cx="1404.84" cy="172.98" r="0.97" fill="#5b3fa6" fill-opacity="0.49"/>
<circle cx="1445.21" cy="237.4" r="1.26" fill="#5b3fa6" fill-opacity="0.58"/>
<circle cx="1501.97" cy="162.54" r="0.62" fill="#5b3fa6" fill-opacity="0.58"/>
<circle cx="1499.68" cy="210.23" r="1.02" fill="#5b3fa6" fill-opacity="0.38"/>
<circle cx="1464.16" cy="189.14" r="0.66" fill="#5b3fa6" fill-opacity="0.69"/>
<circle cx="1462.86" cy="236.8" r="0.64" fill="#5b3fa6" fill-opacity="0.44"/>
<circle cx="1415.16" cy="181.93" r="1.36" fill="#5b3fa6" fill-opacity="0.4"/>
<circle cx="1424.38" cy="178.14" r="0.63" fill="#5b3fa6" fill-opacity="0.58"/>
<circle cx="1429.67" cy="214.26" r="1.06" fill="#5b3fa6" fill-opacity="0.34"/>
<circle cx="1506.04" cy="193.51" r="1.39" fill="#5b3fa6" fill-opacity="0.31"/>
</g></g>
<rect x="1382.8" y="103.9" width="142.9" height="142.3" fill="none" stroke="#111" stroke-width="1.4"/>
<g clip-path="url(#pc4)">
<rect x="1086.8" y="252" width="142.9" height="142.3" fill="#b3b8c7" stroke="none" stroke-width="1"/>
<circle cx="1158.25" cy="323.15" r="70.81" fill="#cacde0"/>
<circle cx="1158.25" cy="323.15" r="68.31" fill="#8587b0"/>
<circle cx="1158.25" cy="323.15" r="66.71" fill="#a0a1c1"/>
<g clip-path="url(#pc4d)" filter="url(#soft)">
<circle cx="1196.08" cy="306.57" r="5.18" fill="#3a2a98" fill-opacity="0.81"/>
<circle cx="1123.79" cy="327.05" r="4.08" fill="#3a2a98" fill-opacity="0.77"/>
<circle cx="1125.96" cy="341.77" r="2.83" fill="#3a2a98" fill-opacity="0.95"/>
<circle cx="1180.17" cy="309.7" r="4.41" fill="#3a2a98" fill-opacity="0.88"/>
<circle cx="1112.86" cy="346.25" r="4.52" fill="#3a2a98" fill-opacity="0.82"/>
<circle cx="1127.53" cy="359.02" r="5.97" fill="#3a2a98" fill-opacity="0.98"/>
<circle cx="1165.87" cy="278.93" r="5.57" fill="#3a2a98" fill-opacity="0.99"/>
<circle cx="1180" cy="303.62" r="3.64" fill="#3a2a98" fill-opacity="0.81"/>
<circle cx="1099.79" cy="341.55" r="3.91" fill="#3a2a98" fill-opacity="0.83"/>
<circle cx="1170.93" cy="344.5" r="5.19" fill="#3a2a98" fill-opacity="0.99"/>
<circle cx="1161.42" cy="320.49" r="3.24" fill="#3a2a98" fill-opacity="0.79"/>
<circle cx="1129.25" cy="329.91" r="3.89" fill="#3a2a98" fill-opacity="0.86"/>
<circle cx="1126" cy="288.19" r="3.94" fill="#3a2a98" fill-opacity="0.76"/>
<circle cx="1198.8" cy="307.86" r="5.4" fill="#3a2a98" fill-opacity="0.83"/>
<circle cx="1213.86" cy="358.72" r="3.91" fill="#3a2a98" fill-opacity="0.79"/>
<circle cx="1220.44" cy="308.58" r="2.92" fill="#3a2a98" fill-opacity="0.99"/>
<circle cx="1174.44" cy="340.62" r="2.98" fill="#3a2a98" fill-opacity="0.97"/>
<circle cx="1119.42" cy="292.57" r="4.67" fill="#3a2a98" fill-opacity="0.82"/>
<circle cx="1175.57" cy="330.14" r="3.17" fill="#3a2a98" fill-opacity="0.9"/>
<circle cx="1170.81" cy="329.39" r="3.09" fill="#3a2a98" fill-opacity="0.75"/>
<circle cx="1181.23" cy="331.65" r="2.93" fill="#3a2a98" fill-opacity="0.83"/>
<circle cx="1190.08" cy="279.3" r="2.8" fill="#3a2a98" fill-opacity="0.77"/>
<circle cx="1134.96" cy="361.59" r="3.78" fill="#3a2a98" fill-opacity="0.88"/>
<circle cx="1148.84" cy="271.16" r="3.19" fill="#3a2a98" fill-opacity="0.82"/>
<circle cx="1206.16" cy="321.07" r="5.61" fill="#3a2a98" fill-opacity="0.98"/>
<circle cx="1177.81" cy="274.45" r="4.84" fill="#3a2a98" fill-opacity="0.82"/>
<circle cx="1169.51" cy="363.03" r="3.06" fill="#3a2a98" fill-opacity="0.8"/>
<circle cx="1179.55" cy="341.08" r="2.81" fill="#3a2a98" fill-opacity="0.78"/>
<circle cx="1156.89" cy="308.57" r="4.71" fill="#3a2a98" fill-opacity="0.93"/>
<circle cx="1181.01" cy="362.9" r="4.3" fill="#3a2a98" fill-opacity="0.99"/>
<circle cx="1139.45" cy="307.51" r="2.84" fill="#3a2a98" fill-opacity="0.79"/>
<circle cx="1197.09" cy="368.73" r="5.29" fill="#3a2a98" fill-opacity="0.78"/>
<circle cx="1167.04" cy="260.74" r="3.13" fill="#3a2a98" fill-opacity="0.88"/>
<circle cx="1162.75" cy="366.09" r="4.94" fill="#3a2a98" fill-opacity="0.8"/>
<circle cx="1105.68" cy="322.1" r="5.39" fill="#3a2a98" fill-opacity="0.99"/>
<circle cx="1192.87" cy="299.3" r="3.46" fill="#3a2a98" fill-opacity="0.98"/>
<circle cx="1196.68" cy="277.59" r="4.32" fill="#3a2a98" fill-opacity="0.99"/>
<circle cx="1177.53" cy="344.3" r="4.92" fill="#3a2a98" fill-opacity="0.82"/>
<circle cx="1124.02" cy="285.95" r="4.35" fill="#3a2a98" fill-opacity="0.82"/>
<circle cx="1206.67" cy="311.87" r="2.8" fill="#3a2a98" fill-opacity="0.83"/>
<circle cx="1097" cy="315.57" r="4.33" fill="#3a2a98" fill-opacity="0.99"/>
<circle cx="1150.9" cy="336.92" r="3.76" fill="#3a2a98" fill-opacity="0.98"/>
<circle cx="1099.04" cy="307.82" r="5.24" fill="#3a2a98" fill-opacity="0.97"/>
<circle cx="1147.95" cy="323.18" r="4.18" fill="#3a2a98" fill-opacity="0.77"/>
<circle cx="1135.41" cy="345.65" r="3.49" fill="#3a2a98" fill-opacity="0.87"/>
<circle cx="1132.64" cy="263.6" r="5.3" fill="#3a2a98" fill-opacity="0.96"/>
<circle cx="1186.08" cy="365.21" r="3.56" fill="#3a2a98" fill-opacity="0.86"/>
<circle cx="1196.66" cy="346.25" r="5.81" fill="#3a2a98" fill-opacity="0.97"/>
<circle cx="1167.95" cy="304.98" r="5.28" fill="#3a2a98" fill-opacity="0.85"/>
<circle cx="1132.49" cy="362.19" r="3.38" fill="#3a2a98" fill-opacity="0.81"/>
<circle cx="1199.74" cy="293.87" r="3.8" fill="#3a2a98" fill-opacity="0.88"/>
<circle cx="1176.51" cy="331.91" r="2.82" fill="#3a2a98" fill-opacity="0.84"/>
<circle cx="1167.64" cy="314.1" r="3.31" fill="#3a2a98" fill-opacity="0.97"/>
<circle cx="1173.26" cy="367.92" r="5.53" fill="#3a2a98" fill-opacity="0.94"/>
<circle cx="1129.82" cy="345.95" r="3.26" fill="#3a2a98" fill-opacity="0.83"/>
<circle cx="1208.57" cy="318.61" r="2.08" fill="#5b3fa6" fill-opacity="0.88"/>
<circle cx="1133.2" cy="343.12" r="2.24" fill="#5b3fa6" fill-opacity="0.63"/>
<circle cx="1160.99" cy="322.08" r="1.96" fill="#5b3fa6" fill-opacity="0.61"/>
<circle cx="1171.64" cy="383.59" r="1.62" fill="#5b3fa6" fill-opacity="0.83"/>
<circle cx="1150.15" cy="310.58" r="3.38" fill="#5b3fa6" fill-opacity="0.61"/>
<circle cx="1189.36" cy="266.34" r="2.01" fill="#5b3fa6" fill-opacity="0.71"/>
<circle cx="1118.13" cy="360.93" r="2.5" fill="#5b3fa6" fill-opacity="0.65"/>
<circle cx="1175.61" cy="342.69" r="1.55" fill="#5b3fa6" fill-opacity="0.63"/>
<circle cx="1134.25" cy="324.15" r="2.62" fill="#5b3fa6" fill-opacity="0.69"/>
<circle cx="1174.45" cy="317.75" r="2.48" fill="#5b3fa6" fill-opacity="0.74"/>
<circle cx="1157.82" cy="312.03" r="1.66" fill="#5b3fa6" fill-opacity="0.88"/>
<circle cx="1119.41" cy="331.38" r="1.55" fill="#5b3fa6" fill-opacity="0.78"/>
<circle cx="1209.52" cy="312.94" r="3.37" fill="#5b3fa6" fill-opacity="0.79"/>
<circle cx="1210.07" cy="328.69" r="2.33" fill="#5b3fa6" fill-opacity="0.89"/>
<circle cx="1173.17" cy="269.55" r="1.6" fill="#5b3fa6" fill-opacity="0.73"/>
<circle cx="1160.61" cy="274.51" r="2.39" fill="#5b3fa6" fill-opacity="0.63"/>
<circle cx="1138.87" cy="319.26" r="1.51" fill="#5b3fa6" fill-opacity="0.82"/>
<circle cx="1132.84" cy="339.14" r="2.14" fill="#5b3fa6" fill-opacity="0.62"/>
<circle cx="1113.1" cy="276.14" r="2.93" fill="#5b3fa6" fill-opacity="0.86"/>
<circle cx="1129.02" cy="265.24" r="2.05" fill="#5b3fa6" fill-opacity="0.63"/>
<circle cx="1161.08" cy="329.11" r="1.69" fill="#5b3fa6" fill-opacity="0.63"/>
<circle cx="1188.19" cy="372.48" r="1.96" fill="#5b3fa6" fill-opacity="0.7"/>
<circle cx="1200.9" cy="362.52" r="1.76" fill="#5b3fa6" fill-opacity="0.87"/>
<circle cx="1164.34" cy="327.54" r="2.99" fill="#5b3fa6" fill-opacity="0.75"/>
<circle cx="1190.8" cy="278.01" r="2.69" fill="#5b3fa6" fill-opacity="0.68"/>
<circle cx="1145.98" cy="305.78" r="7.61" fill="#2a2080" fill-opacity="0.99"/>
<circle cx="1143.11" cy="306.41" r="5.3" fill="#2a2080" fill-opacity="0.95"/>
<circle cx="1203.43" cy="370.14" r="7.67" fill="#2a2080" fill-opacity="0.95"/>
<circle cx="1161.38" cy="370.26" r="7.96" fill="#2a2080" fill-opacity="0.94"/>
<circle cx="1156.02" cy="278.53" r="5.15" fill="#2a2080" fill-opacity="0.93"/>
<circle cx="1109.04" cy="347.37" r="5.72" fill="#2a2080" fill-opacity="0.92"/>
</g></g>
<rect x="1086.8" y="252" width="142.9" height="142.3" fill="none" stroke="#111" stroke-width="1.4"/>
<g clip-path="url(#pc5)">
<rect x="1234.8" y="252" width="142.9" height="142.3" fill="#b3b8c7" stroke="none" stroke-width="1"/>
<circle cx="1306.25" cy="323.15" r="70.81" fill="#cacde0"/>
<circle cx="1306.25" cy="323.15" r="68.31" fill="#8587b0"/>
<circle cx="1306.25" cy="323.15" r="66.71" fill="#a0a1c1"/>
<g clip-path="url(#pc5d)" filter="url(#soft)">
<circle cx="1320.51" cy="296.09" r="2.37" fill="#3a2a98" fill-opacity="0.85"/>
<circle cx="1264.58" cy="354.4" r="1.1" fill="#3a2a98" fill-opacity="0.76"/>
<circle cx="1278.25" cy="338.17" r="1.82" fill="#3a2a98" fill-opacity="0.82"/>
<circle cx="1280.25" cy="346.5" r="1.16" fill="#3a2a98" fill-opacity="0.91"/>
<circle cx="1338.36" cy="300.6" r="2.08" fill="#3a2a98" fill-opacity="0.79"/>
<circle cx="1308.37" cy="290.82" r="1.64" fill="#3a2a98" fill-opacity="0.82"/>
<circle cx="1346.1" cy="281.21" r="1.05" fill="#3a2a98" fill-opacity="0.73"/>
<circle cx="1276.45" cy="330.79" r="1.17" fill="#3a2a98" fill-opacity="0.99"/>
<circle cx="1314.42" cy="319.96" r="1" fill="#3a2a98" fill-opacity="0.89"/>
<circle cx="1365.39" cy="302.95" r="1.87" fill="#3a2a98" fill-opacity="0.92"/>
<circle cx="1260.12" cy="328.14" r="2.19" fill="#3a2a98" fill-opacity="0.73"/>
<circle cx="1283.06" cy="271.91" r="1.09" fill="#3a2a98" fill-opacity="0.93"/>
<circle cx="1338.2" cy="380.03" r="2" fill="#3a2a98" fill-opacity="0.84"/>
<circle cx="1249.71" cy="290.21" r="1.33" fill="#3a2a98" fill-opacity="0.76"/>
<circle cx="1282.88" cy="264.63" r="0.54" fill="#5b3fa6" fill-opacity="0.61"/>
<circle cx="1264.16" cy="358.51" r="0.73" fill="#5b3fa6" fill-opacity="0.68"/>
<circle cx="1248.36" cy="293.17" r="1.16" fill="#5b3fa6" fill-opacity="0.35"/>
<circle cx="1359.68" cy="301.26" r="0.54" fill="#5b3fa6" fill-opacity="0.53"/>
<circle cx="1304.29" cy="337.45" r="0.51" fill="#5b3fa6" fill-opacity="0.45"/>
<circle cx="1318.82" cy="310.45" r="0.81" fill="#5b3fa6" fill-opacity="0.65"/>
<circle cx="1269.6" cy="365.76" r="0.82" fill="#5b3fa6" fill-opacity="0.6"/>
<circle cx="1241" cy="330.74" r="0.68" fill="#5b3fa6" fill-opacity="0.38"/>
<circle cx="1330.54" cy="346.39" r="0.53" fill="#5b3fa6" fill-opacity="0.68"/>
<circle cx="1346.98" cy="368.27" r="0.97" fill="#5b3fa6" fill-opacity="0.49"/>
<circle cx="1334.57" cy="332.52" r="1.13" fill="#5b3fa6" fill-opacity="0.47"/>
<circle cx="1310.83" cy="300.18" r="0.51" fill="#5b3fa6" fill-opacity="0.44"/>
</g></g>
<rect x="1234.8" y="252" width="142.9" height="142.3" fill="none" stroke="#111" stroke-width="1.4"/>
<g clip-path="url(#pc6)">
<rect x="1382.8" y="252" width="142.9" height="142.3" fill="#b3b8c7" stroke="none" stroke-width="1"/>
<circle cx="1454.25" cy="323.15" r="70.81" fill="#cacde0"/>
<circle cx="1454.25" cy="323.15" r="68.31" fill="#8587b0"/>
<circle cx="1454.25" cy="323.15" r="66.71" fill="#a0a1c1"/>
<g clip-path="url(#pc6d)" filter="url(#soft)">
<circle cx="1400.51" cy="329.51" r="2.23" fill="#3b2590" fill-opacity="0.83"/>
<circle cx="1501.24" cy="290.02" r="1.42" fill="#3b2590" fill-opacity="0.64"/>
<circle cx="1414.49" cy="334.76" r="3.1" fill="#3b2590" fill-opacity="0.84"/>
<circle cx="1415.71" cy="330.91" r="1.51" fill="#3b2590" fill-opacity="0.79"/>
<circle cx="1478.33" cy="310.66" r="1.88" fill="#3b2590" fill-opacity="0.69"/>
<circle cx="1428.42" cy="301.92" r="1.33" fill="#3b2590" fill-opacity="0.82"/>
<circle cx="1435.56" cy="373.11" r="2.94" fill="#3b2590" fill-opacity="0.78"/>
<circle cx="1504.86" cy="292.05" r="1.33" fill="#3b2590" fill-opacity="0.65"/>
<circle cx="1430.24" cy="284.08" r="1.3" fill="#3b2590" fill-opacity="0.88"/>
<circle cx="1428.53" cy="287.8" r="2.02" fill="#3b2590" fill-opacity="0.62"/>
<circle cx="1430.48" cy="315.42" r="2.33" fill="#3b2590" fill-opacity="0.93"/>
<circle cx="1461.44" cy="356.53" r="2.13" fill="#3b2590" fill-opacity="0.9"/>
<circle cx="1474.44" cy="359.39" r="2.19" fill="#3b2590" fill-opacity="0.62"/>
<circle cx="1506.27" cy="347.27" r="2.23" fill="#3b2590" fill-opacity="0.78"/>
<circle cx="1433.86" cy="317.13" r="1.93" fill="#3b2590" fill-opacity="0.74"/>
<circle cx="1427.58" cy="320.7" r="1.33" fill="#3b2590" fill-opacity="0.76"/>
<circle cx="1436.17" cy="272.08" r="3.02" fill="#3b2590" fill-opacity="0.7"/>
<circle cx="1424.72" cy="347.25" r="1.98" fill="#3b2590" fill-opacity="0.82"/>
<circle cx="1467.49" cy="307.94" r="2.13" fill="#3b2590" fill-opacity="0.86"/>
<circle cx="1454.14" cy="279.63" r="1.34" fill="#3b2590" fill-opacity="0.68"/>
<circle cx="1406.13" cy="289.88" r="1.49" fill="#3b2590" fill-opacity="0.68"/>
<circle cx="1444.07" cy="334.36" r="3.12" fill="#3b2590" fill-opacity="0.69"/>
<circle cx="1393.36" cy="346.69" r="2.61" fill="#3b2590" fill-opacity="0.66"/>
<circle cx="1510.4" cy="301.33" r="2.11" fill="#3b2590" fill-opacity="0.73"/>
<circle cx="1491.3" cy="271.4" r="2.34" fill="#3b2590" fill-opacity="0.68"/>
<circle cx="1491.59" cy="284.38" r="3" fill="#3b2590" fill-opacity="0.88"/>
<circle cx="1431.86" cy="264.52" r="1.86" fill="#3b2590" fill-opacity="0.79"/>
<circle cx="1453.64" cy="279.19" r="1.39" fill="#3b2590" fill-opacity="0.88"/>
<circle cx="1410.66" cy="312.93" r="2.04" fill="#3b2590" fill-opacity="0.67"/>
<circle cx="1473.89" cy="293.63" r="1.53" fill="#3b2590" fill-opacity="0.8"/>
<circle cx="1417.22" cy="325.81" r="1.34" fill="#3b2590" fill-opacity="0.73"/>
<circle cx="1412.17" cy="348.48" r="2.29" fill="#3b2590" fill-opacity="0.66"/>
<circle cx="1469.24" cy="329.8" r="2.08" fill="#3b2590" fill-opacity="0.92"/>
<circle cx="1450.14" cy="259.37" r="1.41" fill="#3b2590" fill-opacity="0.63"/>
<circle cx="1444.96" cy="281.8" r="1.82" fill="#3b2590" fill-opacity="0.88"/>
<circle cx="1510.37" cy="354.63" r="1.45" fill="#3b2590" fill-opacity="0.78"/>
<circle cx="1426.64" cy="281.91" r="2.43" fill="#3b2590" fill-opacity="0.67"/>
<circle cx="1460.98" cy="376.6" r="3.05" fill="#3b2590" fill-opacity="0.58"/>
<circle cx="1506.34" cy="363.56" r="1.32" fill="#3b2590" fill-opacity="0.6"/>
<circle cx="1416.62" cy="322.19" r="2.42" fill="#3b2590" fill-opacity="0.74"/>
<circle cx="1460.64" cy="302.02" r="1.5" fill="#3b2590" fill-opacity="0.63"/>
<circle cx="1475.54" cy="260.38" r="1.74" fill="#3b2590" fill-opacity="0.64"/>
<circle cx="1479.71" cy="335.69" r="3.15" fill="#3b2590" fill-opacity="0.93"/>
<circle cx="1479.26" cy="310.28" r="1.34" fill="#3b2590" fill-opacity="0.95"/>
<circle cx="1443.53" cy="261.79" r="2.91" fill="#3b2590" fill-opacity="0.9"/>
<circle cx="1515.97" cy="327.84" r="2.11" fill="#3b2590" fill-opacity="0.94"/>
<circle cx="1467.81" cy="362.42" r="1.38" fill="#3b2590" fill-opacity="0.86"/>
<circle cx="1401.94" cy="290.47" r="2.09" fill="#3b2590" fill-opacity="0.87"/>
<circle cx="1443.24" cy="335.47" r="1.33" fill="#3b2590" fill-opacity="0.58"/>
<circle cx="1510.19" cy="332.96" r="2.48" fill="#3b2590" fill-opacity="0.95"/>
<circle cx="1460.76" cy="294.34" r="0.66" fill="#5b3fa6" fill-opacity="0.45"/>
<circle cx="1441.12" cy="343.37" r="1.14" fill="#5b3fa6" fill-opacity="0.59"/>
<circle cx="1410.22" cy="347.14" r="0.97" fill="#5b3fa6" fill-opacity="0.53"/>
<circle cx="1413.41" cy="289.96" r="1.38" fill="#5b3fa6" fill-opacity="0.42"/>
<circle cx="1475.49" cy="335.31" r="0.97" fill="#5b3fa6" fill-opacity="0.49"/>
<circle cx="1498.45" cy="302.16" r="1.29" fill="#5b3fa6" fill-opacity="0.64"/>
<circle cx="1434.76" cy="348.8" r="1.04" fill="#5b3fa6" fill-opacity="0.47"/>
<circle cx="1462.17" cy="335.08" r="1.2" fill="#5b3fa6" fill-opacity="0.69"/>
<circle cx="1451.39" cy="299.92" r="0.6" fill="#5b3fa6" fill-opacity="0.55"/>
<circle cx="1402.79" cy="361.23" r="0.84" fill="#5b3fa6" fill-opacity="0.58"/>
<circle cx="1467.67" cy="325.92" r="1.13" fill="#5b3fa6" fill-opacity="0.55"/>
<circle cx="1484.62" cy="296.48" r="0.93" fill="#5b3fa6" fill-opacity="0.49"/>
<circle cx="1460.85" cy="271.93" r="1.22" fill="#5b3fa6" fill-opacity="0.36"/>
<circle cx="1430.56" cy="290.44" r="1.16" fill="#5b3fa6" fill-opacity="0.46"/>
<circle cx="1458.15" cy="329.25" r="0.89" fill="#5b3fa6" fill-opacity="0.35"/>
<circle cx="1457.69" cy="261" r="0.75" fill="#5b3fa6" fill-opacity="0.6"/>
<circle cx="1431.66" cy="279.53" r="0.62" fill="#5b3fa6" fill-opacity="0.69"/>
<circle cx="1447.88" cy="339.43" r="1.14" fill="#5b3fa6" fill-opacity="0.68"/>
<circle cx="1472.81" cy="272.42" r="0.75" fill="#5b3fa6" fill-opacity="0.69"/>
<circle cx="1398.86" cy="332.71" r="1.16" fill="#5b3fa6" fill-opacity="0.46"/>
<circle cx="1496.47" cy="319.93" r="1.05" fill="#5b3fa6" fill-opacity="0.39"/>
<circle cx="1457.3" cy="369.38" r="0.65" fill="#5b3fa6" fill-opacity="0.58"/>
<circle cx="1468.29" cy="357.61" r="1.28" fill="#5b3fa6" fill-opacity="0.65"/>
<circle cx="1508.53" cy="301.78" r="0.75" fill="#5b3fa6" fill-opacity="0.43"/>
<circle cx="1463.81" cy="274.75" r="1.31" fill="#5b3fa6" fill-opacity="0.67"/>
<circle cx="1429.86" cy="332.74" r="1.27" fill="#5b3fa6" fill-opacity="0.62"/>
<circle cx="1401.88" cy="315.61" r="1.04" fill="#5b3fa6" fill-opacity="0.5"/>
<circle cx="1443.2" cy="363.42" r="1.27" fill="#5b3fa6" fill-opacity="0.65"/>
<circle cx="1507.68" cy="288.12" r="0.88" fill="#5b3fa6" fill-opacity="0.44"/>
<circle cx="1456.2" cy="321.03" r="1.24" fill="#5b3fa6" fill-opacity="0.32"/>
</g></g>
<rect x="1382.8" y="252" width="142.9" height="142.3" fill="none" stroke="#111" stroke-width="1.4"/>
<line x1="1092.4" y1="400" x2="1520" y2="400" stroke="#000" stroke-width="1.6"/>
<text x="1305.2" y="437" font-size="36.72" text-anchor="middle" textLength="328.16" lengthAdjust="spacingAndGlyphs">2D Colony formation</text>
<line x1="1677.2" y1="85.4" x2="1677.2" y2="379.8" stroke="#000" stroke-width="2.6"/>
<line x1="1668" y1="86.7" x2="1677.2" y2="86.7" stroke="#000" stroke-width="2.6"/>
<text x="1666" y="94.79" font-size="23.52" text-anchor="end" font-weight="bold" textLength="35.04" lengthAdjust="spacingAndGlyphs">150</text>
<line x1="1668" y1="183.97" x2="1677.2" y2="183.97" stroke="#000" stroke-width="2.6"/>
<text x="1666" y="192.06" font-size="23.52" text-anchor="end" font-weight="bold" textLength="35.04" lengthAdjust="spacingAndGlyphs">100</text>
<line x1="1668" y1="281.24" x2="1677.2" y2="281.24" stroke="#000" stroke-width="2.6"/>
<text x="1666" y="289.32" font-size="23.52" text-anchor="end" font-weight="bold" textLength="23.36" lengthAdjust="spacingAndGlyphs">50</text>
<line x1="1668" y1="378.5" x2="1677.2" y2="378.5" stroke="#000" stroke-width="2.6"/>
<text x="1666" y="386.58" font-size="23.52" text-anchor="end" font-weight="bold" textLength="11.68" lengthAdjust="spacingAndGlyphs">0</text>
<line x1="1668" y1="378.5" x2="1969.5" y2="378.5" stroke="#000" stroke-width="2.6"/>
<line x1="1749.8" y1="378.5" x2="1749.8" y2="388" stroke="#000" stroke-width="2.6"/>
<line x1="1894.6" y1="378.5" x2="1894.6" y2="388" stroke="#000" stroke-width="2.6"/>
<rect x="1694.8" y="183.97" width="29.8" height="194.53" fill="#80bdfb" stroke="#000" stroke-width="2.3"/>
<rect x="1735" y="337.07" width="30.6" height="41.43" fill="#f78282" stroke="#000" stroke-width="2.3"/>
<rect x="1776.6" y="287.65" width="30.1" height="90.85" fill="#fbc487" stroke="#000" stroke-width="2.3"/>
<rect x="1838.9" y="183.97" width="30" height="194.53" fill="#80bdfb" stroke="#000" stroke-width="2.3"/>
<rect x="1879.7" y="319.36" width="30" height="59.14" fill="#f78282" stroke="#000" stroke-width="2.3"/>
<rect x="1920.7" y="298.74" width="29.8" height="79.76" fill="#fbc487" stroke="#000" stroke-width="2.3"/>
<circle cx="1709.5" cy="163.6" r="6.8" fill="#1a80f0"/>
<circle cx="1709.5" cy="185.6" r="6.8" fill="#1a80f0"/>
<circle cx="1709.5" cy="205.1" r="6.8" fill="#1a80f0"/>
<circle cx="1738.8" cy="338.2" r="6.8" fill="#ec1116"/>
<circle cx="1749.3" cy="333.3" r="6.8" fill="#ec1116"/>
<circle cx="1760.8" cy="338.2" r="6.8" fill="#ec1116"/>
<circle cx="1780.3" cy="282" r="6.8" fill="#f5821f"/>
<circle cx="1791.3" cy="296.7" r="6.8" fill="#f5821f"/>
<circle cx="1801" cy="283.3" r="6.8" fill="#f5821f"/>
<circle cx="1843.8" cy="185.6" r="6.8" fill="#1a80f0"/>
<circle cx="1854.8" cy="184.4" r="6.8" fill="#1a80f0"/>
<circle cx="1864.5" cy="186.8" r="6.8" fill="#1a80f0"/>
<circle cx="1883.3" cy="322.3" r="6.8" fill="#ec1116"/>
<circle cx="1893.8" cy="308.9" r="6.8" fill="#ec1116"/>
<circle cx="1903.6" cy="323.6" r="6.8" fill="#ec1116"/>
<circle cx="1925.6" cy="289.4" r="6.8" fill="#f5821f"/>
<circle cx="1935.4" cy="309.6" r="6.8" fill="#f5821f"/>
<circle cx="1945.1" cy="295.5" r="6.8" fill="#f5821f"/>
<line x1="1709.7" y1="164.8" x2="1709.7" y2="204.6" stroke="#000" stroke-width="2.6"/>
<line x1="1699.7" y1="164.8" x2="1719.7" y2="164.8" stroke="#000" stroke-width="2.6"/>
<line x1="1699.7" y1="204.6" x2="1719.7" y2="204.6" stroke="#000" stroke-width="2.6"/>
<line x1="1750.3" y1="334" x2="1750.3" y2="340" stroke="#000" stroke-width="2.6"/>
<line x1="1740.3" y1="334" x2="1760.3" y2="334" stroke="#000" stroke-width="2.6"/>
<line x1="1740.3" y1="340" x2="1760.3" y2="340" stroke="#000" stroke-width="2.6"/>
<line x1="1791.6" y1="278.4" x2="1791.6" y2="295" stroke="#000" stroke-width="2.6"/>
<line x1="1781.6" y1="278.4" x2="1801.6" y2="278.4" stroke="#000" stroke-width="2.6"/>
<line x1="1781.6" y1="295" x2="1801.6" y2="295" stroke="#000" stroke-width="2.6"/>
<line x1="1853.9" y1="183" x2="1853.9" y2="187.5" stroke="#000" stroke-width="2.6"/>
<line x1="1843.9" y1="183" x2="1863.9" y2="183" stroke="#000" stroke-width="2.6"/>
<line x1="1843.9" y1="187.5" x2="1863.9" y2="187.5" stroke="#000" stroke-width="2.6"/>
<line x1="1894.7" y1="311.3" x2="1894.7" y2="326" stroke="#000" stroke-width="2.6"/>
<line x1="1884.7" y1="311.3" x2="1904.7" y2="311.3" stroke="#000" stroke-width="2.6"/>
<line x1="1884.7" y1="326" x2="1904.7" y2="326" stroke="#000" stroke-width="2.6"/>
<line x1="1935.6" y1="287.7" x2="1935.6" y2="309" stroke="#000" stroke-width="2.6"/>
<line x1="1925.6" y1="287.7" x2="1945.6" y2="287.7" stroke="#000" stroke-width="2.6"/>
<line x1="1925.6" y1="309" x2="1945.6" y2="309" stroke="#000" stroke-width="2.6"/>
<text x="1749.6" y="320.8" font-size="26" text-anchor="middle" textLength="32.5" lengthAdjust="spacingAndGlyphs">***</text>
<text x="1791.9" y="265.5" font-size="26" text-anchor="middle" textLength="32.5" lengthAdjust="spacingAndGlyphs">***</text>
<text x="1894.6" y="297.6" font-size="26" text-anchor="middle" textLength="32.5" lengthAdjust="spacingAndGlyphs">***</text>
<text x="1936.8" y="273.8" font-size="26" text-anchor="middle" textLength="32.5" lengthAdjust="spacingAndGlyphs">***</text>
<circle cx="1708.3" cy="15.9" r="6.8" fill="#1a80f0"/>
<text x="1741.2" y="23.7" font-size="30.24" textLength="99.02" lengthAdjust="spacingAndGlyphs">shCTRL</text>
<circle cx="1708.3" cy="52.5" r="6.8" fill="#ec1116"/>
<text x="1741.2" y="60.3" font-size="30.24" textLength="139.56" lengthAdjust="spacingAndGlyphs">shCCN3 #1</text>
<circle cx="1708.3" cy="89.1" r="6.8" fill="#f5821f"/>
<text x="1741.2" y="97.7" font-size="30.24" textLength="139.56" lengthAdjust="spacingAndGlyphs">shCCN3 #2</text>
<text transform="translate(1615.5 230.6) rotate(-90)" x="0" y="0" font-size="40.21" text-anchor="middle" textLength="446.94" lengthAdjust="spacingAndGlyphs">Relative colony # / Field (%)</text>
<text x="1750.4" y="423.9" font-size="38.05" text-anchor="middle" textLength="125.71" lengthAdjust="spacingAndGlyphs">Hs578T</text>
<text x="1830.6" y="423.9" font-size="37.74" textLength="90.97" lengthAdjust="spacingAndGlyphs">MDA-</text>
<text x="1830.6" y="466.8" font-size="37.21" textLength="122.91" lengthAdjust="spacingAndGlyphs">MB-231</text>
<text x="-1.5" y="530.5" font-size="50" font-weight="bold" fill="#231815">C</text>
<text x="179" y="554.8" font-size="36.3" text-anchor="middle">sh C</text>
<text x="326" y="554.8" font-size="36.3" text-anchor="middle">sh #1</text>
<text x="475.5" y="554.8" font-size="36.3" text-anchor="middle">sh #2</text>
<text transform="translate(91 640.9) rotate(-90)" x="0" y="0" font-size="37.02" text-anchor="middle" textLength="124.66" lengthAdjust="spacingAndGlyphs">Hs578T</text>
<text transform="translate(47.5 856.2) rotate(-90)" x="0" y="0" font-size="36.61" textLength="89.95" lengthAdjust="spacingAndGlyphs">MDA-</text>
<text transform="translate(91 856.2) rotate(-90)" x="0" y="0" font-size="36.61" textLength="123.26" lengthAdjust="spacingAndGlyphs">MB-231</text>
<g clip-path="url(#pc7)">
<rect x="108" y="572" width="142.7" height="142.2" fill="#d7dae8" stroke="none" stroke-width="1"/>
<g filter="url(#soft)">
<circle cx="178.78" cy="621.06" r="5" fill="#4f5fb8" fill-opacity="0.75"/>
<circle cx="155.52" cy="655.33" r="4.6" fill="#4f5fb8" fill-opacity="0.75"/>
<circle cx="231.86" cy="595.75" r="1.3" fill="#4f5fb8" fill-opacity="0.8"/>
<circle cx="204.32" cy="629.16" r="1" fill="#4f5fb8" fill-opacity="0.8"/>
<circle cx="198.47" cy="664.57" r="1" fill="#4f5fb8" fill-opacity="0.8"/>
<circle cx="179.35" cy="583.38" r="1" fill="#4f5fb8" fill-opacity="0.8"/>
<circle cx="131.26" cy="675.66" r="1" fill="#4f5fb8" fill-opacity="0.8"/>
<circle cx="141.96" cy="690.74" r="1" fill="#4f5fb8" fill-opacity="0.8"/>
<circle cx="184.34" cy="697.99" r="1" fill="#4f5fb8" fill-opacity="0.8"/>
<circle cx="205.18" cy="706.09" r="1" fill="#4f5fb8" fill-opacity="0.8"/>
<circle cx="237.71" cy="704.96" r="1" fill="#4f5fb8" fill-opacity="0.8"/>
<circle cx="116.7" cy="695.86" r="1" fill="#4f5fb8" fill-opacity="0.8"/>
<circle cx="167.22" cy="685.19" r="1" fill="#4f5fb8" fill-opacity="0.8"/>
<circle cx="157.37" cy="615.51" r="1" fill="#4f5fb8" fill-opacity="0.8"/>
<circle cx="161.37" cy="576.41" r="1" fill="#4f5fb8" fill-opacity="0.8"/>
<circle cx="209.17" cy="637.84" r="3" fill="#8890c8" fill-opacity="0.12"/>
<circle cx="232.15" cy="579.11" r="3" fill="#8890c8" fill-opacity="0.12"/>
<circle cx="139.39" cy="654.48" r="3" fill="#8890c8" fill-opacity="0.12"/>
<circle cx="205.04" cy="691.45" r="3" fill="#8890c8" fill-opacity="0.12"/>
<circle cx="186.49" cy="650.21" r="3" fill="#8890c8" fill-opacity="0.08"/>
</g></g>
<rect x="108" y="572" width="142.7" height="142.2" fill="none" stroke="#222" stroke-width="1.3"/>
<g clip-path="url(#pc8)">
<rect x="256" y="572" width="143" height="142.2" fill="#dfe0ec" stroke="none" stroke-width="1"/>
<g filter="url(#soft)">
<circle cx="339.65" cy="611.25" r="0.9" fill="#4f5fb8" fill-opacity="0.8"/>
<circle cx="356.96" cy="590.91" r="0.9" fill="#4f5fb8" fill-opacity="0.8"/>
<circle cx="363.68" cy="590.91" r="0.9" fill="#4f5fb8" fill-opacity="0.8"/>
<circle cx="381.98" cy="614.09" r="1.1" fill="#4f5fb8" fill-opacity="0.8"/>
<circle cx="354.1" cy="626.32" r="0.9" fill="#4f5fb8" fill-opacity="0.8"/>
<circle cx="350.67" cy="641.39" r="0.9" fill="#4f5fb8" fill-opacity="0.8"/>
<circle cx="275.45" cy="682.35" r="1" fill="#4f5fb8" fill-opacity="0.8"/>
<circle cx="263.29" cy="690.17" r="0.9" fill="#4f5fb8" fill-opacity="0.8"/>
<circle cx="306.62" cy="700.26" r="0.8" fill="#4f5fb8" fill-opacity="0.8"/>
<circle cx="297.47" cy="623.9" r="0.8" fill="#4f5fb8" fill-opacity="0.4"/>
<circle cx="367.54" cy="617.5" r="3" fill="#8890c8" fill-opacity="0.12"/>
<circle cx="287.46" cy="697.14" r="3" fill="#8890c8" fill-opacity="0.12"/>
<circle cx="378.98" cy="695.71" r="3" fill="#8890c8" fill-opacity="0.12"/>
</g></g>
<rect x="256" y="572" width="143" height="142.2" fill="none" stroke="#222" stroke-width="1.3"/>
<g clip-path="url(#pc9)">
<rect x="404.3" y="572" width="142.9" height="142.2" fill="#e1e3ea" stroke="none" stroke-width="1"/>
<g filter="url(#soft)">
<circle cx="525.19" cy="619.64" r="1.2" fill="#4f5fb8" fill-opacity="0.8"/>
<circle cx="474.32" cy="637.84" r="0.9" fill="#4f5fb8" fill-opacity="0.8"/>
<circle cx="426.02" cy="647.51" r="0.9" fill="#4f5fb8" fill-opacity="0.8"/>
<circle cx="426.59" cy="655.9" r="0.9" fill="#4f5fb8" fill-opacity="0.8"/>
<circle cx="524.34" cy="649.5" r="0.9" fill="#4f5fb8" fill-opacity="0.8"/>
<circle cx="525.77" cy="667.7" r="1.1" fill="#4f5fb8" fill-opacity="0.8"/>
<circle cx="442.03" cy="655.33" r="0.7" fill="#4f5fb8" fill-opacity="0.5"/>
<circle cx="464.6" cy="686.33" r="0.7" fill="#4f5fb8" fill-opacity="0.5"/>
<circle cx="408.59" cy="615.23" r="0.7" fill="#4f5fb8" fill-opacity="0.5"/>
<circle cx="540.06" cy="654.48" r="3" fill="#8890c8" fill-opacity="0.12"/>
</g></g>
<rect x="404.3" y="572" width="142.9" height="142.2" fill="none" stroke="#222" stroke-width="1.3"/>
<g clip-path="url(#pc10)">
<rect x="108" y="720" width="142.7" height="142.6" fill="#e7e7f0" stroke="none" stroke-width="1"/>
<g filter="url(#soft)">
<circle cx="125.98" cy="773.33" r="5.8" fill="#4f5fb8" fill-opacity="0.8"/>
<circle cx="158.8" cy="807.56" r="6" fill="#4f5fb8" fill-opacity="0.85"/>
<circle cx="234.72" cy="784.31" r="8" fill="#4f5fb8" fill-opacity="0.85"/>
<circle cx="131.83" cy="800.28" r="0.9" fill="#4f5fb8" fill-opacity="0.8"/>
<circle cx="110.85" cy="855.47" r="0.9" fill="#4f5fb8" fill-opacity="0.8"/>
<circle cx="138.4" cy="817.11" r="3" fill="#8890c8" fill-opacity="0.12"/>
<circle cx="204.89" cy="839.36" r="3" fill="#8890c8" fill-opacity="0.12"/>
<circle cx="221.73" cy="760.36" r="0.8" fill="#4f5fb8" fill-opacity="0.5"/>
<circle cx="238.29" cy="732.12" r="3" fill="#8890c8" fill-opacity="0.12"/>
<circle cx="139.39" cy="769.91" r="3" fill="#8890c8" fill-opacity="0.12"/>
<circle cx="116.56" cy="731.41" r="3" fill="#8890c8" fill-opacity="0.12"/>
</g></g>
<rect x="108" y="720" width="142.7" height="142.6" fill="none" stroke="#222" stroke-width="1.3"/>
<g clip-path="url(#pc11)">
<rect x="256" y="720" width="143" height="142.6" fill="#e4e5ef" stroke="none" stroke-width="1"/>
<g filter="url(#soft)">
<circle cx="324.64" cy="804.56" r="1.4" fill="#4f5fb8" fill-opacity="0.8"/>
<circle cx="328.36" cy="784.31" r="0.7" fill="#4f5fb8" fill-opacity="0.5"/>
<circle cx="348.66" cy="781.46" r="0.7" fill="#4f5fb8" fill-opacity="0.5"/>
<circle cx="284.6" cy="777.04" r="0.6" fill="#4f5fb8" fill-opacity="0.3"/>
</g></g>
<rect x="256" y="720" width="143" height="142.6" fill="none" stroke="#222" stroke-width="1.3"/>
<g clip-path="url(#pc12)">
<rect x="404.3" y="720" width="142.9" height="142.6" fill="#e3e4ef" stroke="none" stroke-width="1"/>
<g filter="url(#soft)">
<circle cx="443.45" cy="796.01" r="3.4" fill="#4f5fb8" fill-opacity="0.45"/>
<circle cx="518.19" cy="785.74" r="3.4" fill="#4f5fb8" fill-opacity="0.4"/>
<circle cx="420.88" cy="764.06" r="0.7" fill="#4f5fb8" fill-opacity="0.5"/>
<circle cx="408.59" cy="775.61" r="0.7" fill="#4f5fb8" fill-opacity="0.5"/>
<circle cx="437.6" cy="835.93" r="0.9" fill="#4f5fb8" fill-opacity="0.5"/>
<circle cx="451.31" cy="816.25" r="0.7" fill="#4f5fb8" fill-opacity="0.4"/>
<circle cx="495.61" cy="850.19" r="0.7" fill="#4f5fb8" fill-opacity="0.4"/>
<circle cx="531.77" cy="854.76" r="0.9" fill="#4f5fb8" fill-opacity="0.6"/>
<circle cx="520.05" cy="737.11" r="3" fill="#8890c8" fill-opacity="0.12"/>
</g></g>
<rect x="404.3" y="720" width="142.9" height="142.6" fill="none" stroke="#222" stroke-width="1.3"/>
<line x1="510" y1="701.7" x2="534.8" y2="701.7" stroke="#000" stroke-width="1.4"/>
<line x1="513" y1="848.7" x2="537.7" y2="848.7" stroke="#000" stroke-width="1.4"/>
<line x1="113" y1="869" x2="541.4" y2="869" stroke="#000" stroke-width="1.6"/>
<text x="322.6" y="905.7" font-size="36.92" text-anchor="middle" textLength="386.46" lengthAdjust="spacingAndGlyphs">Anchorage-independent</text>
<text x="327.5" y="948.5" font-size="36.72" text-anchor="middle" textLength="264.14" lengthAdjust="spacingAndGlyphs">colony formation</text>
<line x1="699" y1="586.5" x2="699" y2="880.1" stroke="#000" stroke-width="2.6"/>
<line x1="690" y1="587.8" x2="699" y2="587.8" stroke="#000" stroke-width="2.6"/>
<text x="686.5" y="595.88" font-size="23.52" text-anchor="end" font-weight="bold" textLength="35.04" lengthAdjust="spacingAndGlyphs">150</text>
<line x1="690" y1="684.8" x2="699" y2="684.8" stroke="#000" stroke-width="2.6"/>
<text x="686.5" y="692.88" font-size="23.52" text-anchor="end" font-weight="bold" textLength="35.04" lengthAdjust="spacingAndGlyphs">100</text>
<line x1="690" y1="781.8" x2="699" y2="781.8" stroke="#000" stroke-width="2.6"/>
<text x="686.5" y="789.88" font-size="23.52" text-anchor="end" font-weight="bold" textLength="23.36" lengthAdjust="spacingAndGlyphs">50</text>
<line x1="690" y1="878.8" x2="699" y2="878.8" stroke="#000" stroke-width="2.6"/>
<text x="686.5" y="886.88" font-size="23.52" text-anchor="end" font-weight="bold" textLength="11.68" lengthAdjust="spacingAndGlyphs">0</text>
<line x1="690" y1="878.8" x2="991.3" y2="878.8" stroke="#000" stroke-width="2.6"/>
<line x1="771" y1="878.8" x2="771" y2="888.8" stroke="#000" stroke-width="2.6"/>
<line x1="915.4" y1="878.8" x2="915.4" y2="888.8" stroke="#000" stroke-width="2.6"/>
<rect x="716" y="685.77" width="29.8" height="193.03" fill="#80bdfb" stroke="#000" stroke-width="2.3"/>
<rect x="756.7" y="758.52" width="29.3" height="120.28" fill="#f78282" stroke="#000" stroke-width="2.3"/>
<rect x="798.5" y="828.75" width="29.1" height="50.05" fill="#fbc487" stroke="#000" stroke-width="2.3"/>
<rect x="860.6" y="685.77" width="29.9" height="193.03" fill="#80bdfb" stroke="#000" stroke-width="2.3"/>
<rect x="901" y="860.37" width="30" height="18.43" fill="#f78282" stroke="#000" stroke-width="2.3"/>
<rect x="942.7" y="839.81" width="29.6" height="38.99" fill="#fbc487" stroke="#000" stroke-width="2.3"/>
<circle cx="721" cy="681.4" r="5.8" fill="#1a80f0"/>
<circle cx="721" cy="694.3" r="5.8" fill="#1a80f0"/>
<circle cx="741.9" cy="685.2" r="5.8" fill="#1a80f0"/>
<circle cx="760.8" cy="751.5" r="5.8" fill="#ec1116"/>
<circle cx="760.8" cy="763.2" r="5.8" fill="#ec1116"/>
<circle cx="782.1" cy="757.5" r="5.8" fill="#ec1116"/>
<circle cx="812.5" cy="815.2" r="5.8" fill="#f5821f"/>
<circle cx="802.9" cy="833.3" r="5.8" fill="#f5821f"/>
<circle cx="823" cy="833.3" r="5.8" fill="#f5821f"/>
<circle cx="865.3" cy="672.8" r="5.8" fill="#1a80f0"/>
<circle cx="884.8" cy="672.8" r="5.8" fill="#1a80f0"/>
<circle cx="875.2" cy="712.5" r="5.8" fill="#1a80f0"/>
<circle cx="905.5" cy="861" r="5.8" fill="#ec1116"/>
<circle cx="915.8" cy="856" r="5.8" fill="#ec1116"/>
<circle cx="926.3" cy="862" r="5.8" fill="#ec1116"/>
<circle cx="947.1" cy="843.7" r="5.8" fill="#f5821f"/>
<circle cx="957.5" cy="832.8" r="5.8" fill="#f5821f"/>
<circle cx="961.4" cy="839.8" r="5.8" fill="#f5821f"/>
<line x1="730.9" y1="679.5" x2="730.9" y2="693.6" stroke="#000" stroke-width="2.6"/>
<line x1="721.9" y1="679.5" x2="739.9" y2="679.5" stroke="#000" stroke-width="2.6"/>
<line x1="721.9" y1="693.6" x2="739.9" y2="693.6" stroke="#000" stroke-width="2.6"/>
<line x1="771.4" y1="751" x2="771.4" y2="765.3" stroke="#000" stroke-width="2.6"/>
<line x1="762.4" y1="751" x2="780.4" y2="751" stroke="#000" stroke-width="2.6"/>
<line x1="762.4" y1="765.3" x2="780.4" y2="765.3" stroke="#000" stroke-width="2.6"/>
<line x1="813" y1="817.2" x2="813" y2="838.5" stroke="#000" stroke-width="2.6"/>
<line x1="804" y1="817.2" x2="822" y2="817.2" stroke="#000" stroke-width="2.6"/>
<line x1="804" y1="838.5" x2="822" y2="838.5" stroke="#000" stroke-width="2.6"/>
<line x1="875.5" y1="663.2" x2="875.5" y2="709.4" stroke="#000" stroke-width="2.6"/>
<line x1="866.5" y1="663.2" x2="884.5" y2="663.2" stroke="#000" stroke-width="2.6"/>
<line x1="866.5" y1="709.4" x2="884.5" y2="709.4" stroke="#000" stroke-width="2.6"/>
<line x1="916" y1="856" x2="916" y2="863.5" stroke="#000" stroke-width="2.6"/>
<line x1="907" y1="856" x2="925" y2="856" stroke="#000" stroke-width="2.6"/>
<line x1="907" y1="863.5" x2="925" y2="863.5" stroke="#000" stroke-width="2.6"/>
<line x1="957.5" y1="833.3" x2="957.5" y2="845" stroke="#000" stroke-width="2.6"/>
<line x1="948.5" y1="833.3" x2="966.5" y2="833.3" stroke="#000" stroke-width="2.6"/>
<line x1="948.5" y1="845" x2="966.5" y2="845" stroke="#000" stroke-width="2.6"/>
<text x="772.4" y="736.5" font-size="33" text-anchor="middle" textLength="41.5" lengthAdjust="spacingAndGlyphs">***</text>
<text x="812.2" y="803.7" font-size="33" text-anchor="middle" textLength="41.5" lengthAdjust="spacingAndGlyphs">***</text>
<text x="915" y="842.5" font-size="33" text-anchor="middle" textLength="41.5" lengthAdjust="spacingAndGlyphs">***</text>
<text x="956.7" y="818.6" font-size="33" text-anchor="middle" textLength="41.5" lengthAdjust="spacingAndGlyphs">***</text>
<circle cx="730.2" cy="519.5" r="5.8" fill="#1a80f0"/>
<text x="764" y="528" font-size="30.24" textLength="99.02" lengthAdjust="spacingAndGlyphs">shCTRL</text>
<circle cx="730.2" cy="556.6" r="5.8" fill="#ec1116"/>
<text x="764" y="565.7" font-size="30.24" textLength="139.56" lengthAdjust="spacingAndGlyphs">shCCN3 #1</text>
<circle cx="730.2" cy="594.3" r="5.8" fill="#f5821f"/>
<text x="764" y="602" font-size="30.24" textLength="139.56" lengthAdjust="spacingAndGlyphs">shCCN3 #2</text>
<text transform="translate(638 729.4) rotate(-90)" x="0" y="0" font-size="39.98" text-anchor="middle" textLength="379.01" lengthAdjust="spacingAndGlyphs">Relative colony # / Field</text>
<text x="773.2" y="924.8" font-size="38.05" text-anchor="middle" textLength="125.71" lengthAdjust="spacingAndGlyphs">Hs578T</text>
<text x="853.1" y="924.8" font-size="37.74" textLength="90.97" lengthAdjust="spacingAndGlyphs">MDA-</text>
<text x="853.1" y="968" font-size="37.21" textLength="122.91" lengthAdjust="spacingAndGlyphs">MB-231</text>
<text x="1018.5" y="530.7" font-size="50" font-weight="bold" fill="#231815">D</text>
<text x="1328.3" y="563" font-size="39.42" text-anchor="middle" textLength="154.57" lengthAdjust="spacingAndGlyphs">HCC1806</text>
<line x1="1172.3" y1="594.9" x2="1172.3" y2="888.3" stroke="#000" stroke-width="2.6"/>
<line x1="1161.8" y1="596.2" x2="1172.3" y2="596.2" stroke="#000" stroke-width="2.6"/>
<text x="1160.5" y="604.29" font-size="23.52" text-anchor="end" font-weight="bold" textLength="23.36" lengthAdjust="spacingAndGlyphs">25</text>
<line x1="1161.8" y1="654.36" x2="1172.3" y2="654.36" stroke="#000" stroke-width="2.6"/>
<text x="1160.5" y="662.45" font-size="23.52" text-anchor="end" font-weight="bold" textLength="23.36" lengthAdjust="spacingAndGlyphs">20</text>
<line x1="1161.8" y1="712.52" x2="1172.3" y2="712.52" stroke="#000" stroke-width="2.6"/>
<text x="1160.5" y="720.61" font-size="23.52" text-anchor="end" font-weight="bold" textLength="23.36" lengthAdjust="spacingAndGlyphs">15</text>
<line x1="1161.8" y1="770.68" x2="1172.3" y2="770.68" stroke="#000" stroke-width="2.6"/>
<text x="1160.5" y="778.77" font-size="23.52" text-anchor="end" font-weight="bold" textLength="23.36" lengthAdjust="spacingAndGlyphs">10</text>
<line x1="1161.8" y1="828.84" x2="1172.3" y2="828.84" stroke="#000" stroke-width="2.6"/>
<text x="1160.5" y="836.93" font-size="23.52" text-anchor="end" font-weight="bold" textLength="11.68" lengthAdjust="spacingAndGlyphs">5</text>
<line x1="1161.8" y1="887" x2="1172.3" y2="887" stroke="#000" stroke-width="2.6"/>
<text x="1160.5" y="895.09" font-size="23.52" text-anchor="end" font-weight="bold" textLength="11.68" lengthAdjust="spacingAndGlyphs">0</text>
<line x1="1162" y1="887" x2="1464" y2="887" stroke="#000" stroke-width="2.6"/>
<line x1="1209" y1="887" x2="1209" y2="897.5" stroke="#000" stroke-width="2.6"/>
<line x1="1281.4" y1="887" x2="1281.4" y2="897.5" stroke="#000" stroke-width="2.6"/>
<line x1="1354.2" y1="887" x2="1354.2" y2="897.5" stroke="#000" stroke-width="2.6"/>
<line x1="1426.7" y1="887" x2="1426.7" y2="897.5" stroke="#000" stroke-width="2.6"/>
<text x="1209" y="934" font-size="25.54" text-anchor="middle" textLength="59.56" lengthAdjust="spacingAndGlyphs">Day 1</text>
<text x="1281.4" y="934" font-size="25.54" text-anchor="middle" textLength="59.56" lengthAdjust="spacingAndGlyphs">Day 2</text>
<text x="1354.2" y="934" font-size="25.54" text-anchor="middle" textLength="59.56" lengthAdjust="spacingAndGlyphs">Day 3</text>
<text x="1426.7" y="934" font-size="25.54" text-anchor="middle" textLength="59.56" lengthAdjust="spacingAndGlyphs">Day 4</text>
<text transform="translate(1115.2 741) rotate(-90)" x="0" y="0" font-size="39.2" text-anchor="middle" textLength="299.01" lengthAdjust="spacingAndGlyphs">Cell Number (x10⁴)</text>
<line x1="1281.4" y1="824.19" x2="1281.4" y2="841.64" stroke="#000" stroke-width="2.4"/>
<line x1="1274.2" y1="824.19" x2="1288.6" y2="824.19" stroke="#000" stroke-width="2.4"/>
<line x1="1274.2" y1="841.64" x2="1288.6" y2="841.64" stroke="#000" stroke-width="2.4"/>
<line x1="1354.2" y1="775.33" x2="1354.2" y2="795.11" stroke="#000" stroke-width="2.4"/>
<line x1="1347" y1="775.33" x2="1361.4" y2="775.33" stroke="#000" stroke-width="2.4"/>
<line x1="1347" y1="795.11" x2="1361.4" y2="795.11" stroke="#000" stroke-width="2.4"/>
<line x1="1426.7" y1="657.85" x2="1426.7" y2="672.97" stroke="#000" stroke-width="2.4"/>
<line x1="1419.5" y1="657.85" x2="1433.9" y2="657.85" stroke="#000" stroke-width="2.4"/>
<line x1="1419.5" y1="672.97" x2="1433.9" y2="672.97" stroke="#000" stroke-width="2.4"/>
<line x1="1426.7" y1="721.83" x2="1426.7" y2="756.72" stroke="#000" stroke-width="2.4"/>
<line x1="1419.5" y1="721.83" x2="1433.9" y2="721.83" stroke="#000" stroke-width="2.4"/>
<line x1="1419.5" y1="756.72" x2="1433.9" y2="756.72" stroke="#000" stroke-width="2.4"/>
<path d="M1209 873.04 L1281.4 850.36 L1354.2 818.37 L1426.7 740.44" fill="none" stroke="#2166b8" stroke-width="2.4" stroke-linejoin="round"/>
<path d="M1209 871.88 L1281.4 832.33 L1354.2 784.64 L1426.7 665.06" fill="none" stroke="#e3201b" stroke-width="2.4" stroke-linejoin="round"/>
<rect x="1201.9" y="865.94" width="14.2" height="14.2" fill="#2f6fbd" stroke="none" stroke-width="1"/>
<rect x="1274.3" y="843.26" width="14.2" height="14.2" fill="#2f6fbd" stroke="none" stroke-width="1"/>
<rect x="1347.1" y="811.27" width="14.2" height="14.2" fill="#2f6fbd" stroke="none" stroke-width="1"/>
<rect x="1419.6" y="733.34" width="14.2" height="14.2" fill="#2f6fbd" stroke="none" stroke-width="1"/>
<rect x="1201.9" y="864.78" width="14.2" height="14.2" fill="#e3201b" stroke="none" stroke-width="1"/>
<rect x="1274.3" y="825.23" width="14.2" height="14.2" fill="#e3201b" stroke="none" stroke-width="1"/>
<rect x="1347.1" y="777.54" width="14.2" height="14.2" fill="#e3201b" stroke="none" stroke-width="1"/>
<rect x="1419.6" y="657.96" width="14.2" height="14.2" fill="#e3201b" stroke="none" stroke-width="1"/>
<path d="M1438.6 663 L1450.5 663 L1450.5 740.5 L1438.6 740.5" fill="none" stroke="#000" stroke-width="1.3"/>
<text transform="translate(1454.6 705.5) rotate(90)" x="0" y="0" font-size="31" text-anchor="middle" textLength="26.5" lengthAdjust="spacingAndGlyphs">**</text>
<line x1="1208.6" y1="636.5" x2="1240" y2="636.5" stroke="#2166b8" stroke-width="2.4"/>
<rect x="1217.2" y="629.4" width="14.2" height="14.2" fill="#2f6fbd" stroke="none" stroke-width="1"/>
<text x="1257.3" y="644.8" font-size="29.68" textLength="41.24" lengthAdjust="spacingAndGlyphs">vec</text>
<line x1="1208.6" y1="674.8" x2="1240" y2="674.8" stroke="#e3201b" stroke-width="2.4"/>
<rect x="1217.2" y="667.7" width="14.2" height="14.2" fill="#e3201b" stroke="none" stroke-width="1"/>
<text x="1257.3" y="681.6" font-size="29.68" textLength="72.15" lengthAdjust="spacingAndGlyphs">CCN3</text>
<text x="1775.5" y="563.5" font-size="39.2" text-anchor="middle" textLength="211.99" lengthAdjust="spacingAndGlyphs">MDA-MB-468</text>
<line x1="1628.4" y1="594.7" x2="1628.4" y2="888.5" stroke="#000" stroke-width="2.6"/>
<line x1="1617.9" y1="596" x2="1628.4" y2="596" stroke="#000" stroke-width="2.6"/>
<text x="1616.5" y="604.09" font-size="23.52" text-anchor="end" font-weight="bold" textLength="23.36" lengthAdjust="spacingAndGlyphs">20</text>
<line x1="1617.9" y1="668.8" x2="1628.4" y2="668.8" stroke="#000" stroke-width="2.6"/>
<text x="1616.5" y="676.89" font-size="23.52" text-anchor="end" font-weight="bold" textLength="23.36" lengthAdjust="spacingAndGlyphs">15</text>
<line x1="1617.9" y1="741.6" x2="1628.4" y2="741.6" stroke="#000" stroke-width="2.6"/>
<text x="1616.5" y="749.69" font-size="23.52" text-anchor="end" font-weight="bold" textLength="23.36" lengthAdjust="spacingAndGlyphs">10</text>
<line x1="1617.9" y1="814.4" x2="1628.4" y2="814.4" stroke="#000" stroke-width="2.6"/>
<text x="1616.5" y="822.49" font-size="23.52" text-anchor="end" font-weight="bold" textLength="11.68" lengthAdjust="spacingAndGlyphs">5</text>
<line x1="1617.9" y1="887.2" x2="1628.4" y2="887.2" stroke="#000" stroke-width="2.6"/>
<text x="1616.5" y="895.29" font-size="23.52" text-anchor="end" font-weight="bold" textLength="11.68" lengthAdjust="spacingAndGlyphs">0</text>
<line x1="1618.4" y1="887.2" x2="1918.9" y2="887.2" stroke="#000" stroke-width="2.6"/>
<line x1="1664" y1="887.2" x2="1664" y2="897.7" stroke="#000" stroke-width="2.6"/>
<line x1="1736.4" y1="887.2" x2="1736.4" y2="897.7" stroke="#000" stroke-width="2.6"/>
<line x1="1809.2" y1="887.2" x2="1809.2" y2="897.7" stroke="#000" stroke-width="2.6"/>
<line x1="1881.5" y1="887.2" x2="1881.5" y2="897.7" stroke="#000" stroke-width="2.6"/>
<text x="1664" y="932.5" font-size="25.54" text-anchor="middle" textLength="59.56" lengthAdjust="spacingAndGlyphs">Day 1</text>
<text x="1736.4" y="932.5" font-size="25.54" text-anchor="middle" textLength="59.56" lengthAdjust="spacingAndGlyphs">Day 2</text>
<text x="1809.2" y="932.5" font-size="25.54" text-anchor="middle" textLength="59.56" lengthAdjust="spacingAndGlyphs">Day 3</text>
<text x="1881.5" y="932.5" font-size="25.54" text-anchor="middle" textLength="59.56" lengthAdjust="spacingAndGlyphs">Day 4</text>
<text transform="translate(1569.8 747.5) rotate(-90)" x="0" y="0" font-size="39.2" text-anchor="middle" textLength="299.01" lengthAdjust="spacingAndGlyphs">Cell Number (x10⁴)</text>
<line x1="1664" y1="794.02" x2="1664" y2="815.86" stroke="#000" stroke-width="2.4"/>
<line x1="1656.8" y1="794.02" x2="1671.2" y2="794.02" stroke="#000" stroke-width="2.4"/>
<line x1="1656.8" y1="815.86" x2="1671.2" y2="815.86" stroke="#000" stroke-width="2.4"/>
<line x1="1736.4" y1="772.18" x2="1736.4" y2="789.65" stroke="#000" stroke-width="2.4"/>
<line x1="1729.2" y1="772.18" x2="1743.6" y2="772.18" stroke="#000" stroke-width="2.4"/>
<line x1="1729.2" y1="789.65" x2="1743.6" y2="789.65" stroke="#000" stroke-width="2.4"/>
<line x1="1809.2" y1="712.48" x2="1809.2" y2="735.78" stroke="#000" stroke-width="2.4"/>
<line x1="1802" y1="712.48" x2="1816.4" y2="712.48" stroke="#000" stroke-width="2.4"/>
<line x1="1802" y1="735.78" x2="1816.4" y2="735.78" stroke="#000" stroke-width="2.4"/>
<line x1="1881.5" y1="613.47" x2="1881.5" y2="638.22" stroke="#000" stroke-width="2.4"/>
<line x1="1874.3" y1="613.47" x2="1888.7" y2="613.47" stroke="#000" stroke-width="2.4"/>
<line x1="1874.3" y1="638.22" x2="1888.7" y2="638.22" stroke="#000" stroke-width="2.4"/>
<line x1="1664" y1="814.4" x2="1664" y2="834.06" stroke="#000" stroke-width="2.4"/>
<line x1="1656.8" y1="814.4" x2="1671.2" y2="814.4" stroke="#000" stroke-width="2.4"/>
<line x1="1656.8" y1="834.06" x2="1671.2" y2="834.06" stroke="#000" stroke-width="2.4"/>
<line x1="1736.4" y1="807.12" x2="1736.4" y2="821.68" stroke="#000" stroke-width="2.4"/>
<line x1="1729.2" y1="807.12" x2="1743.6" y2="807.12" stroke="#000" stroke-width="2.4"/>
<line x1="1729.2" y1="821.68" x2="1743.6" y2="821.68" stroke="#000" stroke-width="2.4"/>
<path d="M1664 825.32 L1736.4 814.4 L1809.2 789.65 L1881.5 772.18" fill="none" stroke="#2166b8" stroke-width="2.4" stroke-linejoin="round"/>
<path d="M1664 805.66 L1736.4 780.91 L1809.2 722.67 L1881.5 625.12" fill="none" stroke="#e3201b" stroke-width="2.4" stroke-linejoin="round"/>
<rect x="1656.9" y="818.22" width="14.2" height="14.2" fill="#2f6fbd" stroke="none" stroke-width="1"/>
<rect x="1729.3" y="807.3" width="14.2" height="14.2" fill="#2f6fbd" stroke="none" stroke-width="1"/>
<rect x="1802.1" y="782.55" width="14.2" height="14.2" fill="#2f6fbd" stroke="none" stroke-width="1"/>
<rect x="1874.4" y="765.08" width="14.2" height="14.2" fill="#2f6fbd" stroke="none" stroke-width="1"/>
<rect x="1656.9" y="798.56" width="14.2" height="14.2" fill="#e3201b" stroke="none" stroke-width="1"/>
<rect x="1729.3" y="773.81" width="14.2" height="14.2" fill="#e3201b" stroke="none" stroke-width="1"/>
<rect x="1802.1" y="715.57" width="14.2" height="14.2" fill="#e3201b" stroke="none" stroke-width="1"/>
<rect x="1874.4" y="618.02" width="14.2" height="14.2" fill="#e3201b" stroke="none" stroke-width="1"/>
<path d="M1896.4 624.6 L1907 624.6 L1907 771.7 L1896.4 771.7" fill="none" stroke="#000" stroke-width="1.3"/>
<text transform="translate(1910.6 702) rotate(90)" x="0" y="0" font-size="31" text-anchor="middle" textLength="41.5" lengthAdjust="spacingAndGlyphs">***</text>
<line x1="1658.3" y1="636.6" x2="1689.7" y2="636.6" stroke="#2166b8" stroke-width="2.4"/>
<rect x="1666.9" y="629.5" width="14.2" height="14.2" fill="#2f6fbd" stroke="none" stroke-width="1"/>
<text x="1708.2" y="644.8" font-size="29.68" textLength="41.24" lengthAdjust="spacingAndGlyphs">vec</text>
<line x1="1658.3" y1="674.5" x2="1689.7" y2="674.5" stroke="#e3201b" stroke-width="2.4"/>
<rect x="1666.9" y="667.4" width="14.2" height="14.2" fill="#e3201b" stroke="none" stroke-width="1"/>
<text x="1708.2" y="681.6" font-size="29.68" textLength="72.15" lengthAdjust="spacingAndGlyphs">CCN3</text>
<text x="1" y="1063.7" font-size="50" font-weight="bold" fill="#231815">E</text>
<text x="179.7" y="1073.8" font-size="37.03" text-anchor="middle" textLength="56.49" lengthAdjust="spacingAndGlyphs">vec</text>
<text x="327.8" y="1073.8" font-size="37.03" text-anchor="middle" textLength="98.84" lengthAdjust="spacingAndGlyphs">CCN3</text>
<text transform="translate(91 1160.5) rotate(-90)" x="0" y="0" font-size="36.61" text-anchor="middle" textLength="154.57" lengthAdjust="spacingAndGlyphs">HCC1806</text>
<text transform="translate(47.5 1376) rotate(-90)" x="0" y="0" font-size="36.61" textLength="89.95" lengthAdjust="spacingAndGlyphs">MDA-</text>
<text transform="translate(91 1376) rotate(-90)" x="0" y="0" font-size="36.61" textLength="123.26" lengthAdjust="spacingAndGlyphs">MB-468</text>
<g clip-path="url(#pc13)">
<rect x="108.2" y="1091.3" width="142.6" height="142.1" fill="#c1c2d0" stroke="none" stroke-width="1"/>
<circle cx="179.5" cy="1162.35" r="69.66" fill="#dcd6e8"/>
<circle cx="179.5" cy="1162.35" r="67.16" fill="#7a68ac"/>
<circle cx="179.5" cy="1162.35" r="65.56" fill="#b2b1cb"/>
<g clip-path="url(#pc13d)" filter="url(#soft)">
<circle cx="148.23" cy="1140.31" r="0.8" fill="#5a34a8" fill-opacity="0.72"/>
<circle cx="198.31" cy="1124.35" r="1.42" fill="#5a34a8" fill-opacity="0.66"/>
<circle cx="143.97" cy="1179.71" r="0.87" fill="#5a34a8" fill-opacity="0.69"/>
<circle cx="229.88" cy="1196.27" r="1.3" fill="#5a34a8" fill-opacity="0.78"/>
<circle cx="186.97" cy="1108.73" r="1.03" fill="#5a34a8" fill-opacity="0.91"/>
<circle cx="119.76" cy="1140.1" r="1" fill="#5a34a8" fill-opacity="0.72"/>
<circle cx="232.94" cy="1186.01" r="1.49" fill="#5a34a8" fill-opacity="0.88"/>
<circle cx="135.02" cy="1206.21" r="1.71" fill="#5a34a8" fill-opacity="0.88"/>
<circle cx="237.23" cy="1175.08" r="2.11" fill="#5a34a8" fill-opacity="0.86"/>
<circle cx="131.38" cy="1179.93" r="1" fill="#5a34a8" fill-opacity="0.67"/>
<circle cx="220.24" cy="1129.74" r="1.95" fill="#5a34a8" fill-opacity="0.68"/>
<circle cx="129.85" cy="1194.29" r="0.87" fill="#5a34a8" fill-opacity="0.78"/>
<circle cx="148.91" cy="1171.38" r="1.71" fill="#5a34a8" fill-opacity="0.83"/>
<circle cx="133.06" cy="1195.29" r="2.15" fill="#5a34a8" fill-opacity="0.63"/>
<circle cx="213.22" cy="1161.6" r="1.2" fill="#5a34a8" fill-opacity="0.67"/>
<circle cx="225.86" cy="1178.19" r="0.86" fill="#5a34a8" fill-opacity="0.81"/>
<circle cx="233.55" cy="1139.2" r="0.9" fill="#5a34a8" fill-opacity="0.67"/>
<circle cx="209.38" cy="1126.25" r="2.19" fill="#5a34a8" fill-opacity="0.73"/>
<circle cx="142.79" cy="1143.46" r="0.84" fill="#5a34a8" fill-opacity="0.77"/>
<circle cx="139.47" cy="1159" r="2.18" fill="#5a34a8" fill-opacity="0.85"/>
<circle cx="181.31" cy="1166.64" r="0.84" fill="#5a34a8" fill-opacity="0.65"/>
<circle cx="190.95" cy="1173.34" r="1.76" fill="#5a34a8" fill-opacity="0.71"/>
<circle cx="153.18" cy="1193.75" r="1.22" fill="#5a34a8" fill-opacity="0.72"/>
<circle cx="130.55" cy="1156.14" r="1.02" fill="#5a34a8" fill-opacity="0.78"/>
<circle cx="196.18" cy="1186.78" r="1.06" fill="#5a34a8" fill-opacity="0.72"/>
<circle cx="162.66" cy="1205.82" r="1.61" fill="#5a34a8" fill-opacity="0.8"/>
<circle cx="183.62" cy="1166.32" r="0.91" fill="#5a34a8" fill-opacity="0.66"/>
<circle cx="196.33" cy="1105.6" r="0.91" fill="#5a34a8" fill-opacity="0.88"/>
<circle cx="214.72" cy="1123.4" r="1.4" fill="#5a34a8" fill-opacity="0.72"/>
<circle cx="154.6" cy="1140.02" r="1.09" fill="#5a34a8" fill-opacity="0.84"/>
<circle cx="179.69" cy="1224.88" r="1.05" fill="#5a34a8" fill-opacity="0.64"/>
<circle cx="153.15" cy="1140.97" r="1.18" fill="#5a34a8" fill-opacity="0.79"/>
<circle cx="188.95" cy="1189.43" r="1.57" fill="#5a34a8" fill-opacity="0.92"/>
<circle cx="197.06" cy="1173.81" r="0.86" fill="#5a34a8" fill-opacity="0.64"/>
<circle cx="228.45" cy="1178.41" r="1.31" fill="#5a34a8" fill-opacity="0.7"/>
<circle cx="150.84" cy="1193.11" r="1.07" fill="#5a34a8" fill-opacity="0.86"/>
<circle cx="210.64" cy="1186.57" r="1.24" fill="#5a34a8" fill-opacity="0.64"/>
<circle cx="153.08" cy="1174.58" r="1.61" fill="#5a34a8" fill-opacity="0.63"/>
<circle cx="186.63" cy="1185.32" r="0.83" fill="#5a34a8" fill-opacity="0.8"/>
<circle cx="192.96" cy="1220.34" r="1.29" fill="#5a34a8" fill-opacity="0.61"/>
<circle cx="147.66" cy="1218.2" r="1.78" fill="#5a34a8" fill-opacity="0.92"/>
<circle cx="193.26" cy="1180.34" r="0.87" fill="#5a34a8" fill-opacity="0.84"/>
<circle cx="194" cy="1148.56" r="0.83" fill="#5a34a8" fill-opacity="0.78"/>
<circle cx="171.64" cy="1202.35" r="1.18" fill="#5a34a8" fill-opacity="0.94"/>
<circle cx="182.06" cy="1218.29" r="0.92" fill="#5a34a8" fill-opacity="0.79"/>
</g></g>
<rect x="108.2" y="1091.3" width="142.6" height="142.1" fill="none" stroke="#111" stroke-width="1.4"/>
<g clip-path="url(#pc14)">
<rect x="255.9" y="1091.3" width="143.3" height="142.1" fill="#c1c2d0" stroke="none" stroke-width="1"/>
<circle cx="327.55" cy="1162.35" r="70" fill="#dcd6e8"/>
<circle cx="327.55" cy="1162.35" r="67.5" fill="#7a68ac"/>
<circle cx="327.55" cy="1162.35" r="65.9" fill="#b2b1cb"/>
<g clip-path="url(#pc14d)" filter="url(#soft)">
<circle cx="280.45" cy="1197.15" r="1.35" fill="#5a34a8" fill-opacity="0.76"/>
<circle cx="332.24" cy="1215.69" r="1.01" fill="#5a34a8" fill-opacity="0.94"/>
<circle cx="330.28" cy="1226.53" r="0.85" fill="#5a34a8" fill-opacity="0.76"/>
<circle cx="267.17" cy="1141.54" r="2.04" fill="#5a34a8" fill-opacity="0.71"/>
<circle cx="286.96" cy="1117.27" r="0.92" fill="#5a34a8" fill-opacity="0.89"/>
<circle cx="352.1" cy="1102.9" r="0.96" fill="#5a34a8" fill-opacity="0.86"/>
<circle cx="265.79" cy="1179.22" r="1.88" fill="#5a34a8" fill-opacity="0.61"/>
<circle cx="383.16" cy="1141.33" r="1.04" fill="#5a34a8" fill-opacity="0.94"/>
<circle cx="360.58" cy="1216.6" r="1.54" fill="#5a34a8" fill-opacity="0.61"/>
<circle cx="341.32" cy="1128.18" r="0.83" fill="#5a34a8" fill-opacity="0.66"/>
<circle cx="365.14" cy="1185.24" r="1.05" fill="#5a34a8" fill-opacity="0.92"/>
<circle cx="311.59" cy="1176.6" r="0.8" fill="#5a34a8" fill-opacity="0.85"/>
<circle cx="377.46" cy="1202.58" r="1.84" fill="#5a34a8" fill-opacity="0.8"/>
<circle cx="296.43" cy="1147.11" r="2.17" fill="#5a34a8" fill-opacity="0.71"/>
<circle cx="358.12" cy="1201.67" r="2.09" fill="#5a34a8" fill-opacity="0.94"/>
<circle cx="304.28" cy="1184.37" r="1.3" fill="#5a34a8" fill-opacity="0.64"/>
<circle cx="302.65" cy="1144.48" r="1.06" fill="#5a34a8" fill-opacity="0.88"/>
<circle cx="376.01" cy="1144.66" r="1.04" fill="#5a34a8" fill-opacity="0.93"/>
<circle cx="287.41" cy="1134.77" r="1.21" fill="#5a34a8" fill-opacity="0.89"/>
<circle cx="315.97" cy="1185.91" r="1.14" fill="#5a34a8" fill-opacity="0.71"/>
<circle cx="339.56" cy="1182.42" r="1.73" fill="#5a34a8" fill-opacity="0.68"/>
<circle cx="362.36" cy="1122.62" r="2.03" fill="#5a34a8" fill-opacity="0.83"/>
<circle cx="382.37" cy="1183.62" r="0.81" fill="#5a34a8" fill-opacity="0.75"/>
<circle cx="353.05" cy="1121.02" r="2.19" fill="#5a34a8" fill-opacity="0.78"/>
<circle cx="333.49" cy="1121.52" r="1.12" fill="#5a34a8" fill-opacity="0.82"/>
<circle cx="288.94" cy="1167.18" r="1.92" fill="#5a34a8" fill-opacity="0.74"/>
<circle cx="371.41" cy="1145.54" r="1.23" fill="#5a34a8" fill-opacity="0.93"/>
<circle cx="287.64" cy="1153.8" r="1.56" fill="#5a34a8" fill-opacity="0.78"/>
<circle cx="358.42" cy="1169.52" r="1.05" fill="#5a34a8" fill-opacity="0.81"/>
<circle cx="286.81" cy="1173.35" r="1.12" fill="#5a34a8" fill-opacity="0.88"/>
<circle cx="309.89" cy="1184.54" r="0.95" fill="#5a34a8" fill-opacity="0.88"/>
<circle cx="312.2" cy="1197.03" r="0.88" fill="#5a34a8" fill-opacity="0.61"/>
<circle cx="338.23" cy="1159.38" r="1" fill="#5a34a8" fill-opacity="0.68"/>
<circle cx="320.64" cy="1222.7" r="0.82" fill="#5a34a8" fill-opacity="0.93"/>
<circle cx="282.68" cy="1168.24" r="1.39" fill="#5a34a8" fill-opacity="0.91"/>
<circle cx="350.82" cy="1201.17" r="0.93" fill="#5a34a8" fill-opacity="0.85"/>
<circle cx="336.8" cy="1222.71" r="1.48" fill="#5a34a8" fill-opacity="0.95"/>
<circle cx="373.83" cy="1136.34" r="0.8" fill="#5a34a8" fill-opacity="0.73"/>
<circle cx="305.15" cy="1119.82" r="1.55" fill="#5a34a8" fill-opacity="0.65"/>
<circle cx="362.41" cy="1191.73" r="1.74" fill="#5a34a8" fill-opacity="0.61"/>
<circle cx="336.29" cy="1127.31" r="1.1" fill="#5a34a8" fill-opacity="0.8"/>
<circle cx="305.43" cy="1145.59" r="1.65" fill="#5a34a8" fill-opacity="0.89"/>
<circle cx="299.27" cy="1218.78" r="1.97" fill="#5a34a8" fill-opacity="0.89"/>
<circle cx="280.19" cy="1145.52" r="0.8" fill="#5a34a8" fill-opacity="0.77"/>
<circle cx="392.13" cy="1162.06" r="0.82" fill="#5a34a8" fill-opacity="0.94"/>
<circle cx="346.98" cy="1200.32" r="0.91" fill="#5a34a8" fill-opacity="0.67"/>
<circle cx="283.49" cy="1121.76" r="1.15" fill="#5a34a8" fill-opacity="0.86"/>
<circle cx="300.07" cy="1160.18" r="0.85" fill="#5a34a8" fill-opacity="0.88"/>
<circle cx="265.87" cy="1180.36" r="1.07" fill="#5a34a8" fill-opacity="0.64"/>
<circle cx="370.31" cy="1123.38" r="2.37" fill="#5a34a8" fill-opacity="0.71"/>
<circle cx="347.52" cy="1141.32" r="2.09" fill="#5a34a8" fill-opacity="0.83"/>
<circle cx="322.85" cy="1187.98" r="1.43" fill="#5a34a8" fill-opacity="0.83"/>
<circle cx="264.98" cy="1162.84" r="0.95" fill="#5a34a8" fill-opacity="0.73"/>
<circle cx="348.82" cy="1171.06" r="1.98" fill="#5a34a8" fill-opacity="0.88"/>
<circle cx="325.16" cy="1120.85" r="1.43" fill="#5a34a8" fill-opacity="0.66"/>
<circle cx="380.15" cy="1182.06" r="0.91" fill="#5a34a8" fill-opacity="0.86"/>
<circle cx="339.47" cy="1153.84" r="1.07" fill="#5a34a8" fill-opacity="0.64"/>
<circle cx="353.22" cy="1220.66" r="1.65" fill="#5a34a8" fill-opacity="0.82"/>
<circle cx="289.83" cy="1197.78" r="1.37" fill="#5a34a8" fill-opacity="0.67"/>
<circle cx="330.07" cy="1193.34" r="1.07" fill="#5a34a8" fill-opacity="0.77"/>
<circle cx="307.08" cy="1147.21" r="1.05" fill="#5a34a8" fill-opacity="0.85"/>
<circle cx="310.72" cy="1152.42" r="1.27" fill="#5a34a8" fill-opacity="0.82"/>
<circle cx="348.51" cy="1140.75" r="0.9" fill="#5a34a8" fill-opacity="0.81"/>
<circle cx="332.21" cy="1151.77" r="1.06" fill="#5a34a8" fill-opacity="0.83"/>
<circle cx="320.32" cy="1174.34" r="2.16" fill="#5a34a8" fill-opacity="0.84"/>
<circle cx="329.29" cy="1181.13" r="1.02" fill="#5a34a8" fill-opacity="0.81"/>
<circle cx="312.16" cy="1098.79" r="0.8" fill="#5a34a8" fill-opacity="0.8"/>
<circle cx="336.71" cy="1139.86" r="1.01" fill="#5a34a8" fill-opacity="0.92"/>
<circle cx="284.19" cy="1117.77" r="0.96" fill="#5a34a8" fill-opacity="0.91"/>
<circle cx="361.2" cy="1132.63" r="0.8" fill="#5a34a8" fill-opacity="0.91"/>
<circle cx="345.15" cy="1105.57" r="1.63" fill="#5a34a8" fill-opacity="0.85"/>
<circle cx="338.15" cy="1173.68" r="2.15" fill="#5a34a8" fill-opacity="0.82"/>
<circle cx="286.78" cy="1126.47" r="0.93" fill="#5a34a8" fill-opacity="0.87"/>
<circle cx="381.94" cy="1132.98" r="1.16" fill="#5a34a8" fill-opacity="0.66"/>
<circle cx="303.27" cy="1150.79" r="2.05" fill="#5a34a8" fill-opacity="0.95"/>
<circle cx="283.83" cy="1189.29" r="2.27" fill="#5a34a8" fill-opacity="0.79"/>
<circle cx="288.36" cy="1114.97" r="1.38" fill="#5a34a8" fill-opacity="0.91"/>
<circle cx="379.74" cy="1173.78" r="2.01" fill="#5a34a8" fill-opacity="0.77"/>
<circle cx="321.53" cy="1223.61" r="1.72" fill="#5a34a8" fill-opacity="0.61"/>
<circle cx="386.14" cy="1178" r="0.81" fill="#5a34a8" fill-opacity="0.83"/>
<circle cx="271.33" cy="1187.21" r="0.89" fill="#5a34a8" fill-opacity="0.9"/>
<circle cx="277.15" cy="1153.06" r="1.15" fill="#5a34a8" fill-opacity="0.7"/>
<circle cx="316.07" cy="1168.76" r="1.24" fill="#5a34a8" fill-opacity="0.74"/>
<circle cx="267.17" cy="1180.34" r="2.07" fill="#5a34a8" fill-opacity="0.66"/>
<circle cx="295.63" cy="1131.23" r="1.85" fill="#5a34a8" fill-opacity="0.72"/>
<circle cx="303.38" cy="1203.11" r="1.41" fill="#5a34a8" fill-opacity="0.63"/>
<circle cx="273" cy="1144.9" r="1.61" fill="#5a34a8" fill-opacity="0.84"/>
<circle cx="290.74" cy="1186.61" r="1.25" fill="#5a34a8" fill-opacity="0.9"/>
<circle cx="264.76" cy="1159.72" r="0.93" fill="#5a34a8" fill-opacity="0.94"/>
<circle cx="348.95" cy="1162.46" r="1.01" fill="#5a34a8" fill-opacity="0.78"/>
<circle cx="272.69" cy="1151.04" r="1.89" fill="#5a34a8" fill-opacity="0.82"/>
<circle cx="378.39" cy="1196.1" r="1.01" fill="#5a34a8" fill-opacity="0.93"/>
<circle cx="315.76" cy="1146.84" r="1.22" fill="#5a34a8" fill-opacity="0.92"/>
<circle cx="284.8" cy="1150.25" r="2.3" fill="#5a34a8" fill-opacity="0.92"/>
<circle cx="329.83" cy="1195.76" r="1.97" fill="#5a34a8" fill-opacity="0.74"/>
<circle cx="330.29" cy="1154.63" r="0.94" fill="#5a34a8" fill-opacity="0.72"/>
<circle cx="317.96" cy="1099.21" r="0.95" fill="#5a34a8" fill-opacity="0.6"/>
<circle cx="333.01" cy="1118.57" r="1.65" fill="#5a34a8" fill-opacity="0.77"/>
<circle cx="329.86" cy="1206.5" r="0.96" fill="#5a34a8" fill-opacity="0.85"/>
<circle cx="332.66" cy="1181.13" r="2.17" fill="#5a34a8" fill-opacity="0.92"/>
<circle cx="379.85" cy="1182.98" r="1.27" fill="#5a34a8" fill-opacity="0.64"/>
<circle cx="335.67" cy="1154.46" r="0.9" fill="#5a34a8" fill-opacity="0.66"/>
<circle cx="339.2" cy="1176.52" r="1.62" fill="#5a34a8" fill-opacity="0.78"/>
<circle cx="303.85" cy="1142.64" r="2.26" fill="#5a34a8" fill-opacity="0.66"/>
<circle cx="307.06" cy="1146.12" r="0.8" fill="#5a34a8" fill-opacity="0.82"/>
<circle cx="368.99" cy="1171.73" r="1.63" fill="#5a34a8" fill-opacity="0.79"/>
<circle cx="355.79" cy="1111.04" r="1.35" fill="#5a34a8" fill-opacity="0.82"/>
<circle cx="325.38" cy="1120.76" r="0.85" fill="#5a34a8" fill-opacity="0.89"/>
<circle cx="337.52" cy="1101.78" r="0.85" fill="#5a34a8" fill-opacity="0.82"/>
<circle cx="281" cy="1199.66" r="1.84" fill="#5a34a8" fill-opacity="0.79"/>
<circle cx="382.65" cy="1164.19" r="2.41" fill="#3e1e96" fill-opacity="0.94"/>
<circle cx="295.88" cy="1133.58" r="2.95" fill="#3e1e96" fill-opacity="0.94"/>
<circle cx="316.48" cy="1145.88" r="2.36" fill="#3e1e96" fill-opacity="0.94"/>
<circle cx="322.63" cy="1150.96" r="2.48" fill="#3e1e96" fill-opacity="0.71"/>
<circle cx="347.84" cy="1102.77" r="1.83" fill="#3e1e96" fill-opacity="0.86"/>
<circle cx="334.28" cy="1112.74" r="2.66" fill="#3e1e96" fill-opacity="0.86"/>
<circle cx="280.94" cy="1183.82" r="1.9" fill="#3e1e96" fill-opacity="0.95"/>
<circle cx="308.77" cy="1194.29" r="1.9" fill="#3e1e96" fill-opacity="0.94"/>
<circle cx="301.36" cy="1153.9" r="2.44" fill="#3e1e96" fill-opacity="0.9"/>
<circle cx="275.81" cy="1131.99" r="1.8" fill="#3e1e96" fill-opacity="0.92"/>
<circle cx="344.54" cy="1153.26" r="1.83" fill="#3e1e96" fill-opacity="0.83"/>
<circle cx="283.35" cy="1153.68" r="2.05" fill="#3e1e96" fill-opacity="0.83"/>
<circle cx="302.39" cy="1117.27" r="2.15" fill="#3e1e96" fill-opacity="0.83"/>
<circle cx="343.07" cy="1126.43" r="2.63" fill="#3e1e96" fill-opacity="0.7"/>
<circle cx="360.25" cy="1216.44" r="2.48" fill="#3e1e96" fill-opacity="0.92"/>
<circle cx="281.71" cy="1179.67" r="2.41" fill="#3e1e96" fill-opacity="0.83"/>
<circle cx="342.73" cy="1112.44" r="2.06" fill="#3e1e96" fill-opacity="0.82"/>
<circle cx="320.75" cy="1223.25" r="2.76" fill="#3e1e96" fill-opacity="0.73"/>
<circle cx="385.8" cy="1156.37" r="2.93" fill="#3e1e96" fill-opacity="0.83"/>
<circle cx="333.03" cy="1143.79" r="1.87" fill="#3e1e96" fill-opacity="0.91"/>
</g></g>
<rect x="255.9" y="1091.3" width="143.3" height="142.1" fill="none" stroke="#111" stroke-width="1.4"/>
<g clip-path="url(#pc15)">
<rect x="108.2" y="1239.5" width="142.6" height="142.9" fill="#c1c2d0" stroke="none" stroke-width="1"/>
<circle cx="179.5" cy="1310.95" r="69.66" fill="#dcd6e8"/>
<circle cx="179.5" cy="1310.95" r="67.16" fill="#7a68ac"/>
<circle cx="179.5" cy="1310.95" r="65.56" fill="#b2b1cb"/>
<g clip-path="url(#pc15d)" filter="url(#soft)">
<circle cx="152.62" cy="1302.02" r="0.51" fill="#5a34a8" fill-opacity="0.48"/>
<circle cx="127.89" cy="1278.99" r="0.62" fill="#5a34a8" fill-opacity="0.71"/>
<circle cx="162.78" cy="1349.83" r="0.74" fill="#5a34a8" fill-opacity="0.73"/>
<circle cx="198.41" cy="1341.24" r="0.47" fill="#5a34a8" fill-opacity="0.45"/>
<circle cx="162.97" cy="1290.58" r="0.72" fill="#5a34a8" fill-opacity="0.72"/>
<circle cx="230.64" cy="1297.24" r="0.64" fill="#5a34a8" fill-opacity="0.49"/>
<circle cx="163.06" cy="1274.88" r="0.52" fill="#5a34a8" fill-opacity="0.56"/>
<circle cx="191.75" cy="1319.13" r="0.46" fill="#5a34a8" fill-opacity="0.71"/>
<circle cx="219.17" cy="1289.68" r="0.75" fill="#5a34a8" fill-opacity="0.68"/>
<circle cx="130.18" cy="1341.95" r="0.52" fill="#5a34a8" fill-opacity="0.62"/>
<circle cx="133.7" cy="1311.18" r="0.59" fill="#5a34a8" fill-opacity="0.64"/>
<circle cx="147.28" cy="1289.16" r="0.85" fill="#5a34a8" fill-opacity="0.68"/>
<circle cx="212.66" cy="1353.93" r="0.6" fill="#5a34a8" fill-opacity="0.79"/>
<circle cx="159.26" cy="1310.1" r="0.78" fill="#5a34a8" fill-opacity="0.68"/>
<circle cx="219.45" cy="1284.18" r="0.76" fill="#5a34a8" fill-opacity="0.63"/>
<circle cx="170.87" cy="1320.5" r="0.54" fill="#5a34a8" fill-opacity="0.62"/>
<circle cx="128.16" cy="1317.64" r="0.69" fill="#5a34a8" fill-opacity="0.48"/>
<circle cx="144.82" cy="1262.87" r="0.75" fill="#5a34a8" fill-opacity="0.72"/>
<circle cx="190.51" cy="1365.76" r="0.57" fill="#5a34a8" fill-opacity="0.4"/>
<circle cx="187.81" cy="1346.99" r="0.76" fill="#5a34a8" fill-opacity="0.36"/>
<circle cx="191.35" cy="1355.87" r="0.59" fill="#5a34a8" fill-opacity="0.38"/>
<circle cx="232.53" cy="1339.89" r="0.83" fill="#5a34a8" fill-opacity="0.66"/>
<circle cx="183.01" cy="1367.16" r="0.72" fill="#5a34a8" fill-opacity="0.53"/>
<circle cx="159.72" cy="1359.72" r="0.56" fill="#5a34a8" fill-opacity="0.56"/>
<circle cx="198.12" cy="1338.01" r="0.62" fill="#5a34a8" fill-opacity="0.55"/>
<circle cx="154.11" cy="1307.67" r="0.66" fill="#5a34a8" fill-opacity="0.4"/>
<circle cx="150.75" cy="1292.37" r="0.65" fill="#5a34a8" fill-opacity="0.48"/>
<circle cx="188.99" cy="1317.85" r="0.76" fill="#5a34a8" fill-opacity="0.45"/>
<circle cx="144.57" cy="1305.97" r="0.45" fill="#5a34a8" fill-opacity="0.69"/>
<circle cx="165.52" cy="1298.15" r="0.47" fill="#5a34a8" fill-opacity="0.71"/>
<circle cx="146.39" cy="1255.87" r="0.58" fill="#5a34a8" fill-opacity="0.76"/>
<circle cx="207.45" cy="1365.72" r="0.51" fill="#5a34a8" fill-opacity="0.43"/>
<circle cx="159.39" cy="1288.31" r="0.62" fill="#5a34a8" fill-opacity="0.78"/>
<circle cx="207.34" cy="1337.82" r="0.78" fill="#5a34a8" fill-opacity="0.36"/>
<circle cx="174.18" cy="1356.73" r="0.45" fill="#5a34a8" fill-opacity="0.37"/>
<circle cx="179.31" cy="1292.32" r="0.68" fill="#5a34a8" fill-opacity="0.58"/>
<circle cx="179.08" cy="1311.74" r="0.51" fill="#5a34a8" fill-opacity="0.36"/>
<circle cx="200.88" cy="1288.8" r="0.63" fill="#5a34a8" fill-opacity="0.71"/>
<circle cx="216.87" cy="1286.86" r="0.7" fill="#5a34a8" fill-opacity="0.76"/>
<circle cx="226.51" cy="1329.88" r="0.52" fill="#5a34a8" fill-opacity="0.76"/>
<circle cx="153.87" cy="1362.34" r="0.51" fill="#5a34a8" fill-opacity="0.4"/>
<circle cx="179.88" cy="1326.59" r="0.49" fill="#5a34a8" fill-opacity="0.7"/>
<circle cx="164.78" cy="1282.55" r="0.57" fill="#5a34a8" fill-opacity="0.73"/>
<circle cx="125.36" cy="1329.57" r="0.72" fill="#5a34a8" fill-opacity="0.78"/>
<circle cx="125.55" cy="1331.32" r="0.68" fill="#5a34a8" fill-opacity="0.38"/>
<circle cx="156.2" cy="1258.77" r="0.73" fill="#5a34a8" fill-opacity="0.71"/>
<circle cx="135.08" cy="1293.37" r="0.6" fill="#5a34a8" fill-opacity="0.58"/>
<circle cx="197.62" cy="1368.38" r="0.54" fill="#5a34a8" fill-opacity="0.44"/>
<circle cx="180.42" cy="1321.22" r="0.55" fill="#5a34a8" fill-opacity="0.76"/>
<circle cx="224.26" cy="1301.92" r="0.87" fill="#5a34a8" fill-opacity="0.6"/>
<circle cx="234.05" cy="1321.69" r="0.8" fill="#5a34a8" fill-opacity="0.75"/>
<circle cx="181.39" cy="1308.03" r="0.67" fill="#5a34a8" fill-opacity="0.38"/>
<circle cx="143.49" cy="1352.19" r="0.52" fill="#5a34a8" fill-opacity="0.4"/>
<circle cx="119.5" cy="1300.78" r="0.76" fill="#5a34a8" fill-opacity="0.53"/>
<circle cx="210.2" cy="1365.25" r="0.83" fill="#5a34a8" fill-opacity="0.62"/>
<circle cx="205.84" cy="1293.28" r="0.69" fill="#5a34a8" fill-opacity="0.55"/>
<circle cx="192.06" cy="1304.03" r="0.52" fill="#5a34a8" fill-opacity="0.42"/>
<circle cx="134.69" cy="1317.05" r="0.47" fill="#5a34a8" fill-opacity="0.59"/>
<circle cx="197.94" cy="1308.4" r="0.89" fill="#5a34a8" fill-opacity="0.62"/>
<circle cx="205.33" cy="1263.55" r="0.45" fill="#5a34a8" fill-opacity="0.42"/>
<circle cx="143.62" cy="1323.88" r="0.55" fill="#5a34a8" fill-opacity="0.43"/>
<circle cx="146.52" cy="1357.55" r="0.63" fill="#5a34a8" fill-opacity="0.57"/>
<circle cx="135.4" cy="1282.22" r="0.48" fill="#5a34a8" fill-opacity="0.65"/>
<circle cx="172.65" cy="1288.18" r="0.56" fill="#5a34a8" fill-opacity="0.44"/>
<circle cx="176.15" cy="1272.74" r="0.79" fill="#5a34a8" fill-opacity="0.54"/>
<circle cx="187.81" cy="1311.44" r="0.71" fill="#5a34a8" fill-opacity="0.6"/>
<circle cx="163.9" cy="1304.03" r="0.86" fill="#5a34a8" fill-opacity="0.53"/>
<circle cx="157.09" cy="1370.17" r="0.63" fill="#5a34a8" fill-opacity="0.61"/>
<circle cx="200.92" cy="1320.06" r="0.58" fill="#5a34a8" fill-opacity="0.5"/>
<circle cx="148.51" cy="1304.65" r="0.89" fill="#5a34a8" fill-opacity="0.61"/>
<circle cx="162.62" cy="1294.72" r="0.66" fill="#5a34a8" fill-opacity="0.59"/>
<circle cx="147.66" cy="1283.15" r="0.77" fill="#5a34a8" fill-opacity="0.62"/>
<circle cx="191.69" cy="1248.51" r="0.6" fill="#5a34a8" fill-opacity="0.5"/>
<circle cx="206.22" cy="1305.41" r="0.51" fill="#5a34a8" fill-opacity="0.49"/>
<circle cx="168.24" cy="1344.61" r="0.49" fill="#5a34a8" fill-opacity="0.62"/>
<circle cx="165.59" cy="1327.37" r="0.57" fill="#5a34a8" fill-opacity="0.66"/>
<circle cx="203.89" cy="1370.26" r="0.88" fill="#5a34a8" fill-opacity="0.53"/>
<circle cx="144.13" cy="1358.47" r="0.58" fill="#5a34a8" fill-opacity="0.68"/>
<circle cx="217.76" cy="1284.25" r="0.67" fill="#5a34a8" fill-opacity="0.71"/>
<circle cx="150.26" cy="1299.49" r="0.52" fill="#5a34a8" fill-opacity="0.7"/>
<circle cx="234.23" cy="1277.97" r="0.81" fill="#5a34a8" fill-opacity="0.62"/>
<circle cx="220.41" cy="1318.98" r="0.51" fill="#5a34a8" fill-opacity="0.4"/>
<circle cx="165.2" cy="1355.24" r="0.9" fill="#5a34a8" fill-opacity="0.43"/>
<circle cx="121.68" cy="1307.5" r="0.7" fill="#5a34a8" fill-opacity="0.7"/>
<circle cx="176.1" cy="1313.31" r="0.73" fill="#5a34a8" fill-opacity="0.61"/>
<circle cx="183.25" cy="1287.34" r="0.48" fill="#5a34a8" fill-opacity="0.69"/>
<circle cx="143.34" cy="1316.39" r="0.47" fill="#5a34a8" fill-opacity="0.46"/>
<circle cx="180.28" cy="1335.34" r="0.68" fill="#5a34a8" fill-opacity="0.39"/>
<circle cx="176.57" cy="1348.44" r="0.51" fill="#5a34a8" fill-opacity="0.41"/>
<circle cx="190.9" cy="1367.57" r="0.45" fill="#5a34a8" fill-opacity="0.63"/>
<circle cx="145" cy="1284.71" r="0.57" fill="#5a34a8" fill-opacity="0.7"/>
<circle cx="225.41" cy="1287.04" r="0.68" fill="#5a34a8" fill-opacity="0.66"/>
<circle cx="212.28" cy="1283.47" r="0.83" fill="#5a34a8" fill-opacity="0.37"/>
<circle cx="132.63" cy="1341.86" r="0.7" fill="#5a34a8" fill-opacity="0.45"/>
<circle cx="218.88" cy="1315.62" r="0.69" fill="#5a34a8" fill-opacity="0.55"/>
<circle cx="218.26" cy="1283.53" r="0.46" fill="#5a34a8" fill-opacity="0.78"/>
<circle cx="227.76" cy="1303.28" r="0.87" fill="#5a34a8" fill-opacity="0.48"/>
<circle cx="234.25" cy="1322.27" r="0.74" fill="#5a34a8" fill-opacity="0.38"/>
<circle cx="119.08" cy="1299.25" r="0.51" fill="#5a34a8" fill-opacity="0.72"/>
<circle cx="146.94" cy="1320.13" r="0.72" fill="#5a34a8" fill-opacity="0.36"/>
<circle cx="221.71" cy="1314.01" r="0.9" fill="#5a34a8" fill-opacity="0.47"/>
<circle cx="211.38" cy="1287.67" r="0.71" fill="#5a34a8" fill-opacity="0.38"/>
<circle cx="183.59" cy="1337.5" r="0.52" fill="#5a34a8" fill-opacity="0.62"/>
<circle cx="212.81" cy="1255.42" r="0.48" fill="#5a34a8" fill-opacity="0.43"/>
<circle cx="149.98" cy="1258.02" r="0.47" fill="#5a34a8" fill-opacity="0.7"/>
<circle cx="151.03" cy="1303.38" r="0.53" fill="#5a34a8" fill-opacity="0.63"/>
<circle cx="235.84" cy="1284.3" r="0.48" fill="#5a34a8" fill-opacity="0.44"/>
<circle cx="220.86" cy="1329.41" r="0.61" fill="#5a34a8" fill-opacity="0.68"/>
<circle cx="153.9" cy="1313.15" r="0.49" fill="#5a34a8" fill-opacity="0.48"/>
<circle cx="165.21" cy="1345.92" r="0.88" fill="#5a34a8" fill-opacity="0.6"/>
<circle cx="175.82" cy="1374.74" r="0.52" fill="#5a34a8" fill-opacity="0.61"/>
<circle cx="181.54" cy="1282.84" r="0.63" fill="#5a34a8" fill-opacity="0.68"/>
<circle cx="195.97" cy="1347.21" r="0.47" fill="#5a34a8" fill-opacity="0.63"/>
<circle cx="177.26" cy="1324.57" r="0.64" fill="#5a34a8" fill-opacity="0.45"/>
<circle cx="207.26" cy="1324.91" r="0.81" fill="#5a34a8" fill-opacity="0.6"/>
<circle cx="219.38" cy="1262.99" r="0.61" fill="#5a34a8" fill-opacity="0.45"/>
<circle cx="163.02" cy="1309.26" r="0.57" fill="#5a34a8" fill-opacity="0.7"/>
<circle cx="227.23" cy="1342.22" r="0.75" fill="#5a34a8" fill-opacity="0.69"/>
<circle cx="175.15" cy="1254.43" r="0.49" fill="#5a34a8" fill-opacity="0.6"/>
<circle cx="130.66" cy="1343.21" r="0.45" fill="#5a34a8" fill-opacity="0.42"/>
<circle cx="186.15" cy="1269.19" r="0.62" fill="#5a34a8" fill-opacity="0.76"/>
<circle cx="193.38" cy="1355.34" r="0.72" fill="#5a34a8" fill-opacity="0.69"/>
<circle cx="194.92" cy="1306.4" r="0.74" fill="#5a34a8" fill-opacity="0.77"/>
<circle cx="216.1" cy="1276.84" r="0.68" fill="#5a34a8" fill-opacity="0.55"/>
<circle cx="150.72" cy="1366.08" r="0.9" fill="#5a34a8" fill-opacity="0.55"/>
<circle cx="174.87" cy="1363.06" r="0.83" fill="#5a34a8" fill-opacity="0.62"/>
<circle cx="171.71" cy="1248.15" r="0.45" fill="#5a34a8" fill-opacity="0.41"/>
<circle cx="158.99" cy="1358.9" r="0.59" fill="#5a34a8" fill-opacity="0.48"/>
<circle cx="147.8" cy="1335.34" r="0.71" fill="#5a34a8" fill-opacity="0.53"/>
<circle cx="132.37" cy="1298.34" r="0.81" fill="#5a34a8" fill-opacity="0.65"/>
<circle cx="225.29" cy="1327.57" r="0.52" fill="#5a34a8" fill-opacity="0.38"/>
<circle cx="136.91" cy="1312.64" r="0.53" fill="#5a34a8" fill-opacity="0.52"/>
<circle cx="188.32" cy="1253.09" r="0.89" fill="#5a34a8" fill-opacity="0.58"/>
<circle cx="199.43" cy="1309.3" r="0.84" fill="#5a34a8" fill-opacity="0.66"/>
<circle cx="130.71" cy="1295.67" r="0.52" fill="#5a34a8" fill-opacity="0.54"/>
<circle cx="161.34" cy="1354.59" r="0.45" fill="#5a34a8" fill-opacity="0.8"/>
<circle cx="192.35" cy="1249.65" r="0.85" fill="#5a34a8" fill-opacity="0.37"/>
<circle cx="231.7" cy="1298.82" r="0.81" fill="#5a34a8" fill-opacity="0.58"/>
<circle cx="167.72" cy="1314.48" r="0.87" fill="#5a34a8" fill-opacity="0.62"/>
<circle cx="172.64" cy="1364.24" r="0.83" fill="#5a34a8" fill-opacity="0.72"/>
<circle cx="155.08" cy="1254.28" r="0.77" fill="#5a34a8" fill-opacity="0.76"/>
<circle cx="177.25" cy="1302.51" r="0.81" fill="#5a34a8" fill-opacity="0.61"/>
<circle cx="176.77" cy="1296.14" r="0.74" fill="#5a34a8" fill-opacity="0.44"/>
<circle cx="175.59" cy="1334.15" r="0.53" fill="#5a34a8" fill-opacity="0.52"/>
<circle cx="234.44" cy="1335.58" r="0.52" fill="#5a34a8" fill-opacity="0.56"/>
<circle cx="189.26" cy="1325.27" r="0.47" fill="#5a34a8" fill-opacity="0.63"/>
<circle cx="203.99" cy="1355.93" r="0.69" fill="#5a34a8" fill-opacity="0.52"/>
<circle cx="181.31" cy="1312.15" r="0.59" fill="#5a34a8" fill-opacity="0.45"/>
<circle cx="214.08" cy="1349.16" r="0.73" fill="#5a34a8" fill-opacity="0.37"/>
<circle cx="168.15" cy="1308.6" r="0.48" fill="#5a34a8" fill-opacity="0.51"/>
<circle cx="145.71" cy="1299.53" r="0.85" fill="#5a34a8" fill-opacity="0.55"/>
<circle cx="174.98" cy="1360.09" r="0.72" fill="#5a34a8" fill-opacity="0.62"/>
<circle cx="228.86" cy="1344.89" r="0.78" fill="#5a34a8" fill-opacity="0.77"/>
<circle cx="167.21" cy="1296.29" r="0.87" fill="#5a34a8" fill-opacity="0.55"/>
<circle cx="136.41" cy="1286.02" r="0.52" fill="#5a34a8" fill-opacity="0.77"/>
<circle cx="131.23" cy="1313.81" r="0.9" fill="#5a34a8" fill-opacity="0.56"/>
<circle cx="236.82" cy="1289.23" r="0.51" fill="#5a34a8" fill-opacity="0.4"/>
<circle cx="194.96" cy="1272.94" r="0.49" fill="#5a34a8" fill-opacity="0.46"/>
<circle cx="142.9" cy="1361.79" r="0.77" fill="#5a34a8" fill-opacity="0.42"/>
<circle cx="204.99" cy="1345.25" r="0.6" fill="#5a34a8" fill-opacity="0.75"/>
<circle cx="147.97" cy="1363.72" r="0.56" fill="#5a34a8" fill-opacity="0.76"/>
<circle cx="234.38" cy="1298.57" r="0.85" fill="#5a34a8" fill-opacity="0.41"/>
<circle cx="126.36" cy="1339.94" r="0.67" fill="#5a34a8" fill-opacity="0.48"/>
<circle cx="192.01" cy="1345.32" r="0.48" fill="#5a34a8" fill-opacity="0.45"/>
<circle cx="130.69" cy="1273.42" r="0.64" fill="#5a34a8" fill-opacity="0.66"/>
<circle cx="162.06" cy="1249.33" r="0.47" fill="#5a34a8" fill-opacity="0.61"/>
<circle cx="187.37" cy="1311.72" r="0.61" fill="#5a34a8" fill-opacity="0.73"/>
<circle cx="189.25" cy="1250.66" r="0.49" fill="#5a34a8" fill-opacity="0.54"/>
<circle cx="190.74" cy="1330.74" r="0.46" fill="#5a34a8" fill-opacity="0.52"/>
<circle cx="169.06" cy="1278.66" r="0.77" fill="#5a34a8" fill-opacity="0.67"/>
<circle cx="182.58" cy="1284.65" r="0.58" fill="#5a34a8" fill-opacity="0.44"/>
<circle cx="199.37" cy="1341.68" r="0.78" fill="#5a34a8" fill-opacity="0.67"/>
<circle cx="204.03" cy="1259.05" r="0.9" fill="#5a34a8" fill-opacity="0.54"/>
<circle cx="218.9" cy="1286.76" r="0.49" fill="#5a34a8" fill-opacity="0.8"/>
<circle cx="129.96" cy="1294.06" r="0.89" fill="#5a34a8" fill-opacity="0.36"/>
<circle cx="242.77" cy="1325.64" r="0.52" fill="#5a34a8" fill-opacity="0.4"/>
<circle cx="154.41" cy="1331.55" r="0.48" fill="#5a34a8" fill-opacity="0.64"/>
<circle cx="238.08" cy="1319.25" r="0.55" fill="#5a34a8" fill-opacity="0.75"/>
<circle cx="128.3" cy="1271.2" r="0.83" fill="#5a34a8" fill-opacity="0.67"/>
<circle cx="192.51" cy="1257.81" r="0.53" fill="#5a34a8" fill-opacity="0.79"/>
<circle cx="190.06" cy="1309.24" r="0.63" fill="#5a34a8" fill-opacity="0.48"/>
<circle cx="154.81" cy="1367.39" r="0.65" fill="#5a34a8" fill-opacity="0.78"/>
<circle cx="148.08" cy="1290.65" r="0.76" fill="#5a34a8" fill-opacity="0.38"/>
<circle cx="149.5" cy="1318.71" r="0.75" fill="#5a34a8" fill-opacity="0.49"/>
<circle cx="199.93" cy="1279.64" r="0.53" fill="#5a34a8" fill-opacity="0.45"/>
<circle cx="241.78" cy="1300.54" r="0.76" fill="#5a34a8" fill-opacity="0.41"/>
<circle cx="148.75" cy="1334.56" r="0.47" fill="#5a34a8" fill-opacity="0.37"/>
<circle cx="144.81" cy="1349.77" r="0.56" fill="#5a34a8" fill-opacity="0.56"/>
<circle cx="225.44" cy="1265" r="0.79" fill="#5a34a8" fill-opacity="0.43"/>
<circle cx="141.46" cy="1318.94" r="0.74" fill="#5a34a8" fill-opacity="0.37"/>
<circle cx="180.03" cy="1290.15" r="0.58" fill="#5a34a8" fill-opacity="0.39"/>
<circle cx="158.74" cy="1359.15" r="0.46" fill="#5a34a8" fill-opacity="0.62"/>
<circle cx="194.26" cy="1280.98" r="0.85" fill="#5a34a8" fill-opacity="0.49"/>
<circle cx="226.95" cy="1321.13" r="0.54" fill="#5a34a8" fill-opacity="0.62"/>
<circle cx="208.68" cy="1319.31" r="0.61" fill="#5a34a8" fill-opacity="0.76"/>
<circle cx="132.96" cy="1285.81" r="0.85" fill="#5a34a8" fill-opacity="0.74"/>
<circle cx="122.28" cy="1293.53" r="0.56" fill="#5a34a8" fill-opacity="0.67"/>
<circle cx="195.96" cy="1331.05" r="0.51" fill="#5a34a8" fill-opacity="0.59"/>
<circle cx="193.69" cy="1269.1" r="0.46" fill="#5a34a8" fill-opacity="0.65"/>
<circle cx="166.95" cy="1295.77" r="0.48" fill="#5a34a8" fill-opacity="0.69"/>
<circle cx="153.7" cy="1260.6" r="0.47" fill="#5a34a8" fill-opacity="0.66"/>
<circle cx="169.33" cy="1372.09" r="0.81" fill="#5a34a8" fill-opacity="0.48"/>
<circle cx="177.81" cy="1361.64" r="0.89" fill="#5a34a8" fill-opacity="0.39"/>
<circle cx="140.66" cy="1303.04" r="0.46" fill="#5a34a8" fill-opacity="0.37"/>
<circle cx="196.11" cy="1360.91" r="0.54" fill="#5a34a8" fill-opacity="0.36"/>
<circle cx="173.38" cy="1327.78" r="0.51" fill="#5a34a8" fill-opacity="0.73"/>
<circle cx="166.93" cy="1266.64" r="0.45" fill="#5a34a8" fill-opacity="0.77"/>
<circle cx="157.08" cy="1357.55" r="0.47" fill="#5a34a8" fill-opacity="0.62"/>
<circle cx="161.1" cy="1333.21" r="0.88" fill="#5a34a8" fill-opacity="0.77"/>
<circle cx="128.17" cy="1275.37" r="0.49" fill="#5a34a8" fill-opacity="0.4"/>
<circle cx="228.11" cy="1353.71" r="0.82" fill="#5a34a8" fill-opacity="0.38"/>
<circle cx="187.37" cy="1305.87" r="0.51" fill="#5a34a8" fill-opacity="0.53"/>
<circle cx="187.96" cy="1284.13" r="0.64" fill="#5a34a8" fill-opacity="0.43"/>
<circle cx="189.03" cy="1248.69" r="0.5" fill="#5a34a8" fill-opacity="0.49"/>
<circle cx="182.67" cy="1314.21" r="0.5" fill="#5a34a8" fill-opacity="0.38"/>
<circle cx="234.9" cy="1295.85" r="0.49" fill="#5a34a8" fill-opacity="0.36"/>
<circle cx="225.23" cy="1323.89" r="0.53" fill="#5a34a8" fill-opacity="0.75"/>
<circle cx="143.83" cy="1310.89" r="0.67" fill="#5a34a8" fill-opacity="0.36"/>
<circle cx="146.16" cy="1302.72" r="0.47" fill="#5a34a8" fill-opacity="0.37"/>
<circle cx="198.21" cy="1304.38" r="0.8" fill="#5a34a8" fill-opacity="0.67"/>
<circle cx="137.78" cy="1261.92" r="0.45" fill="#5a34a8" fill-opacity="0.57"/>
<circle cx="183.49" cy="1312.73" r="0.68" fill="#5a34a8" fill-opacity="0.39"/>
<circle cx="197.46" cy="1253.08" r="0.57" fill="#5a34a8" fill-opacity="0.4"/>
<circle cx="237.86" cy="1331.93" r="0.52" fill="#5a34a8" fill-opacity="0.5"/>
<circle cx="142.65" cy="1314.75" r="0.46" fill="#5a34a8" fill-opacity="0.67"/>
<circle cx="147.02" cy="1311.32" r="0.48" fill="#5a34a8" fill-opacity="0.69"/>
<circle cx="195.41" cy="1360.92" r="0.67" fill="#5a34a8" fill-opacity="0.4"/>
<circle cx="181.29" cy="1267.81" r="0.53" fill="#5a34a8" fill-opacity="0.71"/>
<circle cx="203.95" cy="1285.11" r="0.47" fill="#5a34a8" fill-opacity="0.71"/>
<circle cx="207.87" cy="1354.19" r="0.81" fill="#5a34a8" fill-opacity="0.53"/>
<circle cx="223.74" cy="1293.92" r="0.86" fill="#5a34a8" fill-opacity="0.72"/>
<circle cx="159.99" cy="1275.78" r="0.65" fill="#5a34a8" fill-opacity="0.76"/>
<circle cx="209" cy="1345.08" r="0.45" fill="#5a34a8" fill-opacity="0.77"/>
<circle cx="166.17" cy="1317.59" r="0.48" fill="#5a34a8" fill-opacity="0.61"/>
<circle cx="217.89" cy="1355.8" r="0.56" fill="#5a34a8" fill-opacity="0.54"/>
<circle cx="177.2" cy="1308.68" r="0.77" fill="#5a34a8" fill-opacity="0.49"/>
<circle cx="210.67" cy="1277.52" r="0.49" fill="#5a34a8" fill-opacity="0.63"/>
<circle cx="135.59" cy="1291.22" r="0.64" fill="#5a34a8" fill-opacity="0.59"/>
<circle cx="204.88" cy="1296.26" r="0.78" fill="#5a34a8" fill-opacity="0.75"/>
<circle cx="181.82" cy="1317.18" r="0.46" fill="#5a34a8" fill-opacity="0.48"/>
<circle cx="225.97" cy="1298.51" r="0.69" fill="#5a34a8" fill-opacity="0.45"/>
<circle cx="191.96" cy="1327.22" r="0.5" fill="#5a34a8" fill-opacity="0.65"/>
<circle cx="151.99" cy="1272.05" r="0.57" fill="#5a34a8" fill-opacity="0.69"/>
<circle cx="223.71" cy="1352.04" r="0.5" fill="#5a34a8" fill-opacity="0.73"/>
<circle cx="167.24" cy="1335.79" r="0.46" fill="#5a34a8" fill-opacity="0.37"/>
<circle cx="146.86" cy="1350.33" r="0.47" fill="#5a34a8" fill-opacity="0.74"/>
<circle cx="176.03" cy="1347.69" r="0.46" fill="#5a34a8" fill-opacity="0.39"/>
<circle cx="208.08" cy="1267.6" r="0.69" fill="#5a34a8" fill-opacity="0.4"/>
<circle cx="157.81" cy="1272.03" r="0.46" fill="#5a34a8" fill-opacity="0.48"/>
<circle cx="146.86" cy="1291.12" r="0.75" fill="#5a34a8" fill-opacity="0.45"/>
<circle cx="151.11" cy="1301.84" r="0.48" fill="#5a34a8" fill-opacity="0.62"/>
<circle cx="202.87" cy="1357.96" r="0.59" fill="#5a34a8" fill-opacity="0.71"/>
<circle cx="241.14" cy="1328.17" r="0.49" fill="#5a34a8" fill-opacity="0.59"/>
<circle cx="200.46" cy="1275.59" r="0.61" fill="#5a34a8" fill-opacity="0.76"/>
<circle cx="145.9" cy="1287.79" r="0.71" fill="#5a34a8" fill-opacity="0.52"/>
<circle cx="146.65" cy="1278.66" r="0.85" fill="#5a34a8" fill-opacity="0.4"/>
<circle cx="122.78" cy="1316" r="0.62" fill="#5a34a8" fill-opacity="0.69"/>
<circle cx="162.92" cy="1315.81" r="0.8" fill="#5a34a8" fill-opacity="0.52"/>
<circle cx="144.31" cy="1308.75" r="0.79" fill="#5a34a8" fill-opacity="0.37"/>
<circle cx="224.64" cy="1330.72" r="0.47" fill="#5a34a8" fill-opacity="0.54"/>
<circle cx="215.17" cy="1303.55" r="0.54" fill="#5a34a8" fill-opacity="0.58"/>
<circle cx="152.89" cy="1258" r="0.63" fill="#5a34a8" fill-opacity="0.78"/>
<circle cx="231.35" cy="1346.21" r="0.54" fill="#5a34a8" fill-opacity="0.41"/>
<circle cx="202.47" cy="1346.39" r="0.8" fill="#5a34a8" fill-opacity="0.75"/>
<circle cx="172.78" cy="1343.32" r="0.49" fill="#5a34a8" fill-opacity="0.45"/>
<circle cx="217.91" cy="1310.71" r="0.45" fill="#5a34a8" fill-opacity="0.46"/>
<circle cx="203.45" cy="1301.77" r="0.66" fill="#5a34a8" fill-opacity="0.61"/>
<circle cx="179.66" cy="1322.02" r="0.82" fill="#5a34a8" fill-opacity="0.62"/>
<circle cx="157.76" cy="1360.26" r="0.82" fill="#5a34a8" fill-opacity="0.73"/>
<circle cx="202.84" cy="1353.31" r="0.65" fill="#5a34a8" fill-opacity="0.7"/>
<circle cx="158.05" cy="1308.01" r="0.82" fill="#5a34a8" fill-opacity="0.69"/>
<circle cx="216.05" cy="1312.86" r="0.5" fill="#5a34a8" fill-opacity="0.39"/>
<circle cx="160.88" cy="1372.39" r="0.45" fill="#5a34a8" fill-opacity="0.4"/>
<circle cx="162.84" cy="1266.73" r="0.52" fill="#5a34a8" fill-opacity="0.58"/>
<circle cx="200.55" cy="1361.91" r="0.86" fill="#5a34a8" fill-opacity="0.39"/>
<circle cx="163.14" cy="1342.76" r="0.88" fill="#5a34a8" fill-opacity="0.64"/>
<circle cx="184.46" cy="1281.91" r="0.77" fill="#5a34a8" fill-opacity="0.38"/>
<circle cx="133.71" cy="1320.81" r="0.83" fill="#5a34a8" fill-opacity="0.46"/>
<circle cx="204.29" cy="1331.28" r="0.77" fill="#5a34a8" fill-opacity="0.57"/>
<circle cx="201.44" cy="1294.06" r="0.69" fill="#5a34a8" fill-opacity="0.63"/>
<circle cx="208.26" cy="1360.46" r="0.81" fill="#5a34a8" fill-opacity="0.39"/>
<circle cx="170.97" cy="1264.79" r="0.52" fill="#5a34a8" fill-opacity="0.51"/>
<circle cx="178.83" cy="1271.99" r="0.45" fill="#5a34a8" fill-opacity="0.7"/>
<circle cx="135.67" cy="1280.06" r="0.72" fill="#5a34a8" fill-opacity="0.77"/>
<circle cx="208.75" cy="1340.86" r="0.85" fill="#5a34a8" fill-opacity="0.42"/>
<circle cx="170.58" cy="1318.99" r="0.58" fill="#5a34a8" fill-opacity="0.44"/>
<circle cx="181.52" cy="1256.87" r="0.47" fill="#5a34a8" fill-opacity="0.54"/>
<circle cx="146.22" cy="1290.12" r="0.84" fill="#5a34a8" fill-opacity="0.38"/>
<circle cx="162.18" cy="1328.59" r="0.45" fill="#5a34a8" fill-opacity="0.58"/>
<circle cx="181.92" cy="1310.84" r="0.54" fill="#5a34a8" fill-opacity="0.75"/>
<circle cx="233.29" cy="1298.84" r="0.57" fill="#5a34a8" fill-opacity="0.42"/>
<circle cx="131.68" cy="1319.65" r="0.72" fill="#5a34a8" fill-opacity="0.52"/>
<circle cx="220.19" cy="1307.73" r="0.49" fill="#5a34a8" fill-opacity="0.48"/>
<circle cx="211.25" cy="1289.02" r="0.56" fill="#5a34a8" fill-opacity="0.41"/>
<circle cx="183.07" cy="1298.84" r="0.45" fill="#5a34a8" fill-opacity="0.5"/>
<circle cx="126.88" cy="1346.5" r="0.6" fill="#5a34a8" fill-opacity="0.76"/>
<circle cx="189" cy="1304.54" r="0.5" fill="#5a34a8" fill-opacity="0.48"/>
<circle cx="132.49" cy="1354.45" r="0.82" fill="#5a34a8" fill-opacity="0.45"/>
<circle cx="217.98" cy="1278.58" r="0.81" fill="#5a34a8" fill-opacity="0.51"/>
<circle cx="166.69" cy="1263.06" r="0.5" fill="#5a34a8" fill-opacity="0.59"/>
<circle cx="200.12" cy="1350.02" r="0.7" fill="#5a34a8" fill-opacity="0.51"/>
<circle cx="186.21" cy="1337.02" r="0.52" fill="#5a34a8" fill-opacity="0.6"/>
<circle cx="173.51" cy="1290.05" r="0.77" fill="#5a34a8" fill-opacity="0.54"/>
<circle cx="178.1" cy="1312.56" r="0.51" fill="#5a34a8" fill-opacity="0.52"/>
<circle cx="210.56" cy="1293.25" r="0.46" fill="#5a34a8" fill-opacity="0.49"/>
<circle cx="172.78" cy="1358.21" r="0.45" fill="#5a34a8" fill-opacity="0.67"/>
<circle cx="168.95" cy="1345.84" r="0.47" fill="#5a34a8" fill-opacity="0.48"/>
<circle cx="144.06" cy="1284.42" r="0.53" fill="#5a34a8" fill-opacity="0.63"/>
<circle cx="161.02" cy="1359.81" r="0.85" fill="#5a34a8" fill-opacity="0.57"/>
<circle cx="147.45" cy="1263.37" r="0.68" fill="#5a34a8" fill-opacity="0.53"/>
<circle cx="141.9" cy="1264.07" r="0.55" fill="#5a34a8" fill-opacity="0.54"/>
<circle cx="171.75" cy="1258.07" r="0.53" fill="#5a34a8" fill-opacity="0.63"/>
<circle cx="228.61" cy="1288.6" r="0.46" fill="#5a34a8" fill-opacity="0.39"/>
<circle cx="191.77" cy="1318.59" r="0.69" fill="#5a34a8" fill-opacity="0.78"/>
<circle cx="117.45" cy="1305.58" r="0.64" fill="#5a34a8" fill-opacity="0.68"/>
<circle cx="200.02" cy="1320.24" r="0.67" fill="#5a34a8" fill-opacity="0.73"/>
<circle cx="239.4" cy="1309.29" r="0.52" fill="#5a34a8" fill-opacity="0.55"/>
<circle cx="172.05" cy="1322.44" r="0.87" fill="#5a34a8" fill-opacity="0.4"/>
<circle cx="152.12" cy="1327.87" r="0.48" fill="#5a34a8" fill-opacity="0.53"/>
<circle cx="222.44" cy="1301.54" r="0.78" fill="#5a34a8" fill-opacity="0.74"/>
<circle cx="158.52" cy="1368.04" r="0.88" fill="#5a34a8" fill-opacity="0.71"/>
<circle cx="134.04" cy="1271.97" r="0.47" fill="#5a34a8" fill-opacity="0.57"/>
<circle cx="157.23" cy="1283.53" r="0.7" fill="#5a34a8" fill-opacity="0.37"/>
<circle cx="142.11" cy="1306.5" r="0.54" fill="#5a34a8" fill-opacity="0.54"/>
<circle cx="189.4" cy="1349.63" r="0.57" fill="#5a34a8" fill-opacity="0.37"/>
<circle cx="224.77" cy="1328.22" r="0.69" fill="#5a34a8" fill-opacity="0.62"/>
<circle cx="195.83" cy="1347.46" r="0.62" fill="#5a34a8" fill-opacity="0.55"/>
<circle cx="178.03" cy="1317.04" r="0.46" fill="#5a34a8" fill-opacity="0.44"/>
<circle cx="167.26" cy="1359.43" r="0.52" fill="#5a34a8" fill-opacity="0.64"/>
<circle cx="140.13" cy="1264.33" r="0.6" fill="#5a34a8" fill-opacity="0.5"/>
<circle cx="196.01" cy="1322.6" r="0.82" fill="#5a34a8" fill-opacity="0.75"/>
<circle cx="196.94" cy="1289.36" r="0.78" fill="#5a34a8" fill-opacity="0.58"/>
<circle cx="118.26" cy="1310.22" r="0.55" fill="#5a34a8" fill-opacity="0.54"/>
<circle cx="243.34" cy="1314.28" r="0.55" fill="#5a34a8" fill-opacity="0.72"/>
<circle cx="166.18" cy="1292.44" r="0.46" fill="#5a34a8" fill-opacity="0.36"/>
<circle cx="209.8" cy="1271.69" r="0.66" fill="#5a34a8" fill-opacity="0.63"/>
<circle cx="216.57" cy="1324.83" r="0.69" fill="#5a34a8" fill-opacity="0.52"/>
<circle cx="157.61" cy="1284.16" r="0.78" fill="#5a34a8" fill-opacity="0.76"/>
<circle cx="206.2" cy="1329.05" r="0.74" fill="#5a34a8" fill-opacity="0.69"/>
<circle cx="167" cy="1254.37" r="0.51" fill="#5a34a8" fill-opacity="0.63"/>
<circle cx="197.06" cy="1363.76" r="0.53" fill="#5a34a8" fill-opacity="0.48"/>
<circle cx="150.44" cy="1338.2" r="0.83" fill="#5a34a8" fill-opacity="0.56"/>
<circle cx="179.95" cy="1359.62" r="0.64" fill="#5a34a8" fill-opacity="0.4"/>
<circle cx="173.46" cy="1329.63" r="0.85" fill="#5a34a8" fill-opacity="0.62"/>
<circle cx="183.47" cy="1281.35" r="0.66" fill="#5a34a8" fill-opacity="0.78"/>
<circle cx="196.7" cy="1270.41" r="0.8" fill="#5a34a8" fill-opacity="0.78"/>
<circle cx="227.66" cy="1300.11" r="0.8" fill="#5a34a8" fill-opacity="0.79"/>
<circle cx="214.37" cy="1323.2" r="0.68" fill="#5a34a8" fill-opacity="0.68"/>
<circle cx="140.72" cy="1350.86" r="0.67" fill="#5a34a8" fill-opacity="0.62"/>
<circle cx="195.04" cy="1355.07" r="0.71" fill="#5a34a8" fill-opacity="0.39"/>
<circle cx="163.73" cy="1269.97" r="0.61" fill="#5a34a8" fill-opacity="0.61"/>
<circle cx="138.64" cy="1327.59" r="0.47" fill="#5a34a8" fill-opacity="0.45"/>
<circle cx="187.68" cy="1371.79" r="0.5" fill="#5a34a8" fill-opacity="0.7"/>
<circle cx="120.48" cy="1338.54" r="0.81" fill="#5a34a8" fill-opacity="0.65"/>
<circle cx="170.14" cy="1326.64" r="0.47" fill="#5a34a8" fill-opacity="0.55"/>
<circle cx="224.19" cy="1347.82" r="0.51" fill="#5a34a8" fill-opacity="0.59"/>
<circle cx="134.94" cy="1358.16" r="0.52" fill="#5a34a8" fill-opacity="0.75"/>
<circle cx="142.28" cy="1265.44" r="0.89" fill="#5a34a8" fill-opacity="0.41"/>
<circle cx="170.1" cy="1316.11" r="0.66" fill="#5a34a8" fill-opacity="0.64"/>
<circle cx="165.61" cy="1267.9" r="0.81" fill="#5a34a8" fill-opacity="0.57"/>
<circle cx="165.49" cy="1345.35" r="0.65" fill="#5a34a8" fill-opacity="0.65"/>
<circle cx="186.29" cy="1370.67" r="0.64" fill="#5a34a8" fill-opacity="0.65"/>
<circle cx="142.07" cy="1259.21" r="0.85" fill="#5a34a8" fill-opacity="0.79"/>
<circle cx="165.86" cy="1341.9" r="0.85" fill="#5a34a8" fill-opacity="0.56"/>
<circle cx="180.59" cy="1257.48" r="0.46" fill="#5a34a8" fill-opacity="0.74"/>
<circle cx="139.67" cy="1318.54" r="0.78" fill="#5a34a8" fill-opacity="0.59"/>
<circle cx="208.52" cy="1313.7" r="0.64" fill="#5a34a8" fill-opacity="0.53"/>
<circle cx="173.48" cy="1354.23" r="0.72" fill="#5a34a8" fill-opacity="0.71"/>
<circle cx="224.58" cy="1280.8" r="0.59" fill="#5a34a8" fill-opacity="0.53"/>
<circle cx="214.18" cy="1347.87" r="0.89" fill="#5a34a8" fill-opacity="0.43"/>
<circle cx="192.59" cy="1346.25" r="0.45" fill="#5a34a8" fill-opacity="0.69"/>
<circle cx="222.3" cy="1345.26" r="0.73" fill="#5a34a8" fill-opacity="0.71"/>
<circle cx="220.88" cy="1324.72" r="0.67" fill="#5a34a8" fill-opacity="0.43"/>
<circle cx="125.2" cy="1299.86" r="0.64" fill="#5a34a8" fill-opacity="0.74"/>
<circle cx="163.41" cy="1313.98" r="0.58" fill="#5a34a8" fill-opacity="0.72"/>
<circle cx="134.48" cy="1304.54" r="0.46" fill="#5a34a8" fill-opacity="0.74"/>
<circle cx="238.31" cy="1290.24" r="0.66" fill="#5a34a8" fill-opacity="0.4"/>
<circle cx="142.29" cy="1356.06" r="0.63" fill="#5a34a8" fill-opacity="0.68"/>
<circle cx="151.99" cy="1252.75" r="0.49" fill="#5a34a8" fill-opacity="0.43"/>
<circle cx="204.39" cy="1359.22" r="0.72" fill="#5a34a8" fill-opacity="0.44"/>
<circle cx="161.01" cy="1366.33" r="0.46" fill="#5a34a8" fill-opacity="0.57"/>
<circle cx="120.2" cy="1314.07" r="0.51" fill="#5a34a8" fill-opacity="0.43"/>
<circle cx="232.65" cy="1275.58" r="0.61" fill="#5a34a8" fill-opacity="0.54"/>
<circle cx="177.92" cy="1369.4" r="0.81" fill="#5a34a8" fill-opacity="0.74"/>
<circle cx="127.24" cy="1313.34" r="0.79" fill="#5a34a8" fill-opacity="0.42"/>
<circle cx="209.48" cy="1268.09" r="0.64" fill="#5a34a8" fill-opacity="0.64"/>
<circle cx="233.03" cy="1314.67" r="0.59" fill="#5a34a8" fill-opacity="0.43"/>
<circle cx="121.55" cy="1312.49" r="0.82" fill="#5a34a8" fill-opacity="0.5"/>
<circle cx="201.44" cy="1311.44" r="0.64" fill="#5a34a8" fill-opacity="0.49"/>
<circle cx="238.76" cy="1297.73" r="0.49" fill="#5a34a8" fill-opacity="0.37"/>
<circle cx="183.28" cy="1295.77" r="0.82" fill="#5a34a8" fill-opacity="0.68"/>
<circle cx="123.28" cy="1306.55" r="0.45" fill="#5a34a8" fill-opacity="0.73"/>
<circle cx="140.17" cy="1290.03" r="0.5" fill="#5a34a8" fill-opacity="0.76"/>
<circle cx="161.75" cy="1307.15" r="0.7" fill="#5a34a8" fill-opacity="0.42"/>
<circle cx="213.34" cy="1305.59" r="0.51" fill="#5a34a8" fill-opacity="0.51"/>
<circle cx="183.04" cy="1276.36" r="0.49" fill="#5a34a8" fill-opacity="0.44"/>
<circle cx="210.88" cy="1290.82" r="0.55" fill="#5a34a8" fill-opacity="0.61"/>
<circle cx="186.09" cy="1330.96" r="0.46" fill="#5a34a8" fill-opacity="0.67"/>
<circle cx="133.54" cy="1299.07" r="0.5" fill="#5a34a8" fill-opacity="0.51"/>
<circle cx="195.84" cy="1333.09" r="0.47" fill="#5a34a8" fill-opacity="0.53"/>
<circle cx="145.25" cy="1296.73" r="0.75" fill="#5a34a8" fill-opacity="0.58"/>
<circle cx="170.42" cy="1289.96" r="0.45" fill="#5a34a8" fill-opacity="0.4"/>
<circle cx="123.57" cy="1311.5" r="0.63" fill="#5a34a8" fill-opacity="0.68"/>
<circle cx="204.18" cy="1295.28" r="0.63" fill="#5a34a8" fill-opacity="0.66"/>
<circle cx="227.41" cy="1295.79" r="0.84" fill="#5a34a8" fill-opacity="0.57"/>
<circle cx="217.75" cy="1268.81" r="0.84" fill="#5a34a8" fill-opacity="0.71"/>
<circle cx="231.02" cy="1280.55" r="0.52" fill="#5a34a8" fill-opacity="0.39"/>
<circle cx="204.59" cy="1336.8" r="0.53" fill="#5a34a8" fill-opacity="0.74"/>
<circle cx="141.19" cy="1285.79" r="0.5" fill="#5a34a8" fill-opacity="0.45"/>
<circle cx="124.01" cy="1321.98" r="0.75" fill="#5a34a8" fill-opacity="0.71"/>
<circle cx="212.14" cy="1257.62" r="0.54" fill="#5a34a8" fill-opacity="0.68"/>
<circle cx="179.01" cy="1254.54" r="0.58" fill="#5a34a8" fill-opacity="0.62"/>
<circle cx="197.47" cy="1299.61" r="0.48" fill="#5a34a8" fill-opacity="0.68"/>
<circle cx="168.59" cy="1288.1" r="0.65" fill="#5a34a8" fill-opacity="0.35"/>
<circle cx="222.91" cy="1272.3" r="0.8" fill="#5a34a8" fill-opacity="0.48"/>
<circle cx="189.89" cy="1334.52" r="0.63" fill="#5a34a8" fill-opacity="0.63"/>
<circle cx="217.39" cy="1335.94" r="0.49" fill="#5a34a8" fill-opacity="0.49"/>
<circle cx="165.01" cy="1251.99" r="0.5" fill="#5a34a8" fill-opacity="0.55"/>
<circle cx="198.99" cy="1255.49" r="0.66" fill="#5a34a8" fill-opacity="0.48"/>
<circle cx="166.64" cy="1326.84" r="0.79" fill="#5a34a8" fill-opacity="0.76"/>
<circle cx="166.43" cy="1266.02" r="0.65" fill="#5a34a8" fill-opacity="0.43"/>
<circle cx="218.58" cy="1331.73" r="0.68" fill="#5a34a8" fill-opacity="0.53"/>
<circle cx="163.77" cy="1278.79" r="0.47" fill="#5a34a8" fill-opacity="0.75"/>
<circle cx="183.51" cy="1331.01" r="0.66" fill="#5a34a8" fill-opacity="0.37"/>
<circle cx="185.01" cy="1337.56" r="0.59" fill="#5a34a8" fill-opacity="0.35"/>
<circle cx="219.48" cy="1290.62" r="0.63" fill="#5a34a8" fill-opacity="0.44"/>
<circle cx="163.74" cy="1369.51" r="0.57" fill="#5a34a8" fill-opacity="0.57"/>
<circle cx="241.41" cy="1299.06" r="0.79" fill="#5a34a8" fill-opacity="0.75"/>
<circle cx="117.77" cy="1317.96" r="0.64" fill="#5a34a8" fill-opacity="0.51"/>
<circle cx="190.07" cy="1353.33" r="0.65" fill="#5a34a8" fill-opacity="0.48"/>
<circle cx="121.83" cy="1303.39" r="0.55" fill="#5a34a8" fill-opacity="0.36"/>
<circle cx="160.43" cy="1293.6" r="0.71" fill="#5a34a8" fill-opacity="0.73"/>
<circle cx="225.29" cy="1270.53" r="0.83" fill="#5a34a8" fill-opacity="0.54"/>
<circle cx="162.33" cy="1274.09" r="0.81" fill="#5a34a8" fill-opacity="0.72"/>
<circle cx="195.71" cy="1318.15" r="0.48" fill="#5a34a8" fill-opacity="0.78"/>
<circle cx="144.93" cy="1329.78" r="0.53" fill="#5a34a8" fill-opacity="0.48"/>
<circle cx="162.71" cy="1268.08" r="0.65" fill="#5a34a8" fill-opacity="0.5"/>
<circle cx="197.33" cy="1280.79" r="0.58" fill="#5a34a8" fill-opacity="0.59"/>
<circle cx="193.09" cy="1288.36" r="0.67" fill="#5a34a8" fill-opacity="0.36"/>
<circle cx="167.85" cy="1365.46" r="0.47" fill="#5a34a8" fill-opacity="0.48"/>
<circle cx="187.19" cy="1373.42" r="0.46" fill="#5a34a8" fill-opacity="0.63"/>
<circle cx="149.26" cy="1356.86" r="0.78" fill="#5a34a8" fill-opacity="0.41"/>
<circle cx="130.88" cy="1332.18" r="0.47" fill="#5a34a8" fill-opacity="0.39"/>
<circle cx="176.69" cy="1258.05" r="0.53" fill="#5a34a8" fill-opacity="0.59"/>
<circle cx="215.97" cy="1269.24" r="0.68" fill="#5a34a8" fill-opacity="0.5"/>
<circle cx="190.63" cy="1304.29" r="0.47" fill="#5a34a8" fill-opacity="0.71"/>
<circle cx="162.56" cy="1266.94" r="0.67" fill="#5a34a8" fill-opacity="0.42"/>
<circle cx="185.15" cy="1272.54" r="0.69" fill="#5a34a8" fill-opacity="0.37"/>
<circle cx="193.42" cy="1254.09" r="0.51" fill="#5a34a8" fill-opacity="0.53"/>
<circle cx="129.18" cy="1285.19" r="0.47" fill="#5a34a8" fill-opacity="0.79"/>
</g></g>
<rect x="108.2" y="1239.5" width="142.6" height="142.9" fill="none" stroke="#111" stroke-width="1.4"/>
<g clip-path="url(#pc16)">
<rect x="255.9" y="1239.5" width="143.3" height="142.9" fill="#c1c2d0" stroke="none" stroke-width="1"/>
<circle cx="327.55" cy="1310.95" r="70" fill="#dcd6e8"/>
<circle cx="327.55" cy="1310.95" r="67.5" fill="#7a68ac"/>
<circle cx="327.55" cy="1310.95" r="65.9" fill="#aba6cb"/>
<g clip-path="url(#pc16d)" filter="url(#soft)">
<circle cx="341.78" cy="1280.93" r="0.52" fill="#3e1e96" fill-opacity="0.67"/>
<circle cx="352.86" cy="1306.21" r="0.87" fill="#3e1e96" fill-opacity="0.72"/>
<circle cx="332.93" cy="1347.7" r="0.65" fill="#3e1e96" fill-opacity="0.82"/>
<circle cx="286.2" cy="1273.21" r="1.02" fill="#3e1e96" fill-opacity="0.59"/>
<circle cx="357.18" cy="1271.16" r="0.93" fill="#3e1e96" fill-opacity="0.58"/>
<circle cx="304.85" cy="1369.4" r="1.12" fill="#3e1e96" fill-opacity="0.91"/>
<circle cx="326.18" cy="1333.75" r="1.3" fill="#3e1e96" fill-opacity="0.95"/>
<circle cx="338.42" cy="1264.45" r="0.89" fill="#3e1e96" fill-opacity="0.5"/>
<circle cx="341.13" cy="1367.55" r="0.51" fill="#3e1e96" fill-opacity="0.67"/>
<circle cx="321.31" cy="1260.28" r="0.5" fill="#3e1e96" fill-opacity="0.49"/>
<circle cx="301.84" cy="1297.41" r="1.01" fill="#3e1e96" fill-opacity="0.69"/>
<circle cx="301.74" cy="1287.2" r="0.66" fill="#3e1e96" fill-opacity="0.91"/>
<circle cx="378.36" cy="1276.43" r="0.68" fill="#3e1e96" fill-opacity="0.6"/>
<circle cx="345.25" cy="1255.78" r="0.89" fill="#3e1e96" fill-opacity="0.89"/>
<circle cx="362.92" cy="1341.51" r="0.56" fill="#3e1e96" fill-opacity="0.73"/>
<circle cx="359.79" cy="1327.9" r="0.95" fill="#3e1e96" fill-opacity="0.72"/>
<circle cx="381.43" cy="1310.68" r="0.95" fill="#3e1e96" fill-opacity="0.82"/>
<circle cx="381.47" cy="1283.62" r="1.04" fill="#3e1e96" fill-opacity="0.61"/>
<circle cx="288.24" cy="1281.38" r="1.22" fill="#3e1e96" fill-opacity="0.62"/>
<circle cx="340.86" cy="1351.81" r="0.82" fill="#3e1e96" fill-opacity="0.64"/>
<circle cx="319.57" cy="1353.71" r="0.61" fill="#3e1e96" fill-opacity="0.75"/>
<circle cx="332.21" cy="1323.57" r="1.38" fill="#3e1e96" fill-opacity="0.81"/>
<circle cx="276.45" cy="1335.98" r="0.96" fill="#3e1e96" fill-opacity="0.51"/>
<circle cx="333.97" cy="1355.04" r="0.85" fill="#3e1e96" fill-opacity="0.62"/>
<circle cx="300.92" cy="1332.93" r="0.57" fill="#3e1e96" fill-opacity="0.78"/>
<circle cx="365.48" cy="1327.24" r="0.53" fill="#3e1e96" fill-opacity="0.82"/>
<circle cx="308.3" cy="1309.86" r="0.88" fill="#3e1e96" fill-opacity="0.85"/>
<circle cx="367.22" cy="1263.46" r="0.58" fill="#3e1e96" fill-opacity="0.92"/>
<circle cx="364.4" cy="1308.13" r="0.53" fill="#3e1e96" fill-opacity="0.48"/>
<circle cx="356.34" cy="1287.07" r="0.86" fill="#3e1e96" fill-opacity="0.76"/>
<circle cx="328.44" cy="1357.03" r="0.6" fill="#3e1e96" fill-opacity="0.78"/>
<circle cx="303.05" cy="1284.67" r="0.79" fill="#3e1e96" fill-opacity="0.88"/>
<circle cx="275.24" cy="1306.96" r="0.5" fill="#3e1e96" fill-opacity="0.66"/>
<circle cx="280.94" cy="1329.26" r="1.02" fill="#3e1e96" fill-opacity="0.87"/>
<circle cx="294.99" cy="1286.81" r="0.74" fill="#3e1e96" fill-opacity="0.79"/>
<circle cx="380.24" cy="1327.45" r="1.25" fill="#3e1e96" fill-opacity="0.58"/>
<circle cx="354.94" cy="1347.36" r="0.53" fill="#3e1e96" fill-opacity="0.54"/>
<circle cx="322.06" cy="1269.34" r="0.98" fill="#3e1e96" fill-opacity="0.5"/>
<circle cx="362.55" cy="1351.54" r="0.99" fill="#3e1e96" fill-opacity="0.93"/>
<circle cx="392.5" cy="1317.46" r="1.24" fill="#3e1e96" fill-opacity="0.47"/>
<circle cx="327.65" cy="1294.28" r="1.14" fill="#3e1e96" fill-opacity="0.67"/>
<circle cx="327.56" cy="1287.52" r="0.62" fill="#3e1e96" fill-opacity="0.67"/>
<circle cx="267.75" cy="1306.41" r="1.16" fill="#3e1e96" fill-opacity="0.8"/>
<circle cx="274.64" cy="1308.34" r="0.94" fill="#3e1e96" fill-opacity="0.71"/>
<circle cx="297.89" cy="1334.96" r="0.74" fill="#3e1e96" fill-opacity="0.83"/>
<circle cx="379.24" cy="1349.58" r="0.72" fill="#3e1e96" fill-opacity="0.66"/>
<circle cx="313.81" cy="1284.63" r="0.93" fill="#3e1e96" fill-opacity="0.75"/>
<circle cx="362.34" cy="1339.22" r="0.56" fill="#3e1e96" fill-opacity="0.72"/>
<circle cx="387.93" cy="1301.19" r="1.09" fill="#3e1e96" fill-opacity="0.71"/>
<circle cx="341.83" cy="1284.25" r="0.51" fill="#3e1e96" fill-opacity="0.46"/>
<circle cx="304.42" cy="1319.21" r="0.85" fill="#3e1e96" fill-opacity="0.59"/>
<circle cx="306.92" cy="1358.65" r="1.07" fill="#3e1e96" fill-opacity="0.8"/>
<circle cx="332.45" cy="1275.59" r="0.97" fill="#3e1e96" fill-opacity="0.91"/>
<circle cx="352.75" cy="1272.32" r="0.85" fill="#3e1e96" fill-opacity="0.52"/>
<circle cx="379.08" cy="1321.01" r="0.61" fill="#3e1e96" fill-opacity="0.56"/>
<circle cx="335.01" cy="1280.46" r="0.51" fill="#3e1e96" fill-opacity="0.94"/>
<circle cx="275.72" cy="1274.32" r="0.77" fill="#3e1e96" fill-opacity="0.88"/>
<circle cx="375.12" cy="1276.73" r="1.26" fill="#3e1e96" fill-opacity="0.65"/>
<circle cx="374.19" cy="1308.39" r="1.27" fill="#3e1e96" fill-opacity="0.72"/>
<circle cx="323.22" cy="1324.75" r="0.73" fill="#3e1e96" fill-opacity="0.93"/>
<circle cx="288.9" cy="1343.39" r="0.52" fill="#3e1e96" fill-opacity="0.65"/>
<circle cx="385.16" cy="1335.23" r="1.09" fill="#3e1e96" fill-opacity="0.7"/>
<circle cx="328.65" cy="1295.74" r="1.32" fill="#3e1e96" fill-opacity="0.5"/>
<circle cx="297.43" cy="1290.42" r="1.27" fill="#3e1e96" fill-opacity="0.71"/>
<circle cx="366.54" cy="1259.66" r="0.89" fill="#3e1e96" fill-opacity="0.65"/>
<circle cx="323.81" cy="1333.27" r="0.63" fill="#3e1e96" fill-opacity="0.92"/>
<circle cx="323.32" cy="1342.99" r="1.07" fill="#3e1e96" fill-opacity="0.94"/>
<circle cx="344.04" cy="1362.5" r="0.75" fill="#3e1e96" fill-opacity="0.72"/>
<circle cx="388.11" cy="1307.92" r="0.56" fill="#3e1e96" fill-opacity="0.94"/>
<circle cx="333.68" cy="1248.73" r="0.82" fill="#3e1e96" fill-opacity="0.6"/>
<circle cx="282.47" cy="1299.87" r="0.85" fill="#3e1e96" fill-opacity="0.94"/>
<circle cx="315.64" cy="1309.12" r="0.79" fill="#3e1e96" fill-opacity="0.74"/>
<circle cx="298.22" cy="1325.35" r="0.61" fill="#3e1e96" fill-opacity="0.9"/>
<circle cx="364.13" cy="1293.96" r="0.68" fill="#3e1e96" fill-opacity="0.92"/>
<circle cx="274.62" cy="1272.81" r="1.08" fill="#3e1e96" fill-opacity="0.74"/>
<circle cx="378.1" cy="1297.49" r="0.94" fill="#3e1e96" fill-opacity="0.62"/>
<circle cx="364.91" cy="1333.88" r="0.51" fill="#3e1e96" fill-opacity="0.89"/>
<circle cx="297.88" cy="1343.85" r="0.57" fill="#3e1e96" fill-opacity="0.68"/>
<circle cx="301.52" cy="1263.34" r="1.26" fill="#3e1e96" fill-opacity="0.76"/>
<circle cx="319.73" cy="1373.12" r="1.18" fill="#3e1e96" fill-opacity="0.5"/>
<circle cx="272.72" cy="1342.24" r="1.04" fill="#3e1e96" fill-opacity="0.81"/>
<circle cx="270.18" cy="1286.5" r="0.63" fill="#3e1e96" fill-opacity="0.74"/>
<circle cx="320.36" cy="1293.22" r="0.7" fill="#3e1e96" fill-opacity="0.56"/>
<circle cx="308.64" cy="1352.66" r="0.61" fill="#3e1e96" fill-opacity="0.67"/>
<circle cx="328.85" cy="1248.99" r="0.82" fill="#3e1e96" fill-opacity="0.73"/>
<circle cx="265.79" cy="1329.31" r="0.56" fill="#3e1e96" fill-opacity="0.49"/>
<circle cx="342.52" cy="1272.03" r="0.53" fill="#3e1e96" fill-opacity="0.52"/>
<circle cx="281.97" cy="1298.45" r="0.59" fill="#3e1e96" fill-opacity="0.94"/>
<circle cx="281.5" cy="1286.6" r="0.72" fill="#3e1e96" fill-opacity="0.91"/>
<circle cx="279.57" cy="1297.59" r="0.74" fill="#3e1e96" fill-opacity="0.81"/>
<circle cx="358.76" cy="1343.42" r="0.58" fill="#3e1e96" fill-opacity="0.48"/>
<circle cx="338.29" cy="1277.24" r="0.57" fill="#3e1e96" fill-opacity="0.66"/>
<circle cx="345.04" cy="1354.74" r="0.55" fill="#3e1e96" fill-opacity="0.48"/>
<circle cx="348.77" cy="1278.37" r="0.58" fill="#3e1e96" fill-opacity="0.63"/>
<circle cx="270.3" cy="1302" r="0.85" fill="#3e1e96" fill-opacity="0.53"/>
<circle cx="335.77" cy="1372.45" r="0.82" fill="#3e1e96" fill-opacity="0.7"/>
<circle cx="280.76" cy="1282.45" r="1.01" fill="#3e1e96" fill-opacity="0.93"/>
<circle cx="386.32" cy="1321.51" r="0.6" fill="#3e1e96" fill-opacity="0.8"/>
<circle cx="325.49" cy="1250.87" r="0.92" fill="#3e1e96" fill-opacity="0.82"/>
<circle cx="317.57" cy="1320.12" r="0.74" fill="#3e1e96" fill-opacity="0.57"/>
<circle cx="315.41" cy="1288.32" r="0.57" fill="#3e1e96" fill-opacity="0.48"/>
<circle cx="359.85" cy="1273.81" r="0.55" fill="#3e1e96" fill-opacity="0.84"/>
<circle cx="347.71" cy="1355.38" r="0.55" fill="#3e1e96" fill-opacity="0.92"/>
<circle cx="336.38" cy="1249.49" r="1" fill="#3e1e96" fill-opacity="0.87"/>
<circle cx="325.77" cy="1298.01" r="1.22" fill="#3e1e96" fill-opacity="0.48"/>
<circle cx="272.65" cy="1290.15" r="0.51" fill="#3e1e96" fill-opacity="0.73"/>
<circle cx="380.86" cy="1277.69" r="0.84" fill="#3e1e96" fill-opacity="0.47"/>
<circle cx="288.8" cy="1352.78" r="1.22" fill="#3e1e96" fill-opacity="0.75"/>
<circle cx="270.19" cy="1316.51" r="1.35" fill="#3e1e96" fill-opacity="0.56"/>
<circle cx="329.76" cy="1334.72" r="0.57" fill="#3e1e96" fill-opacity="0.95"/>
<circle cx="290" cy="1314.66" r="0.56" fill="#3e1e96" fill-opacity="0.54"/>
<circle cx="308.7" cy="1314.69" r="0.53" fill="#3e1e96" fill-opacity="0.95"/>
<circle cx="341.03" cy="1308.09" r="0.66" fill="#3e1e96" fill-opacity="0.92"/>
<circle cx="369.85" cy="1290.24" r="0.87" fill="#3e1e96" fill-opacity="0.94"/>
<circle cx="307.92" cy="1294.21" r="0.52" fill="#3e1e96" fill-opacity="0.47"/>
<circle cx="299.76" cy="1329.06" r="1.38" fill="#3e1e96" fill-opacity="0.81"/>
<circle cx="326.4" cy="1339.04" r="0.77" fill="#3e1e96" fill-opacity="0.8"/>
<circle cx="332.05" cy="1263.39" r="1.08" fill="#3e1e96" fill-opacity="0.82"/>
<circle cx="316.6" cy="1325.22" r="0.87" fill="#3e1e96" fill-opacity="0.83"/>
<circle cx="381.36" cy="1319.89" r="0.89" fill="#3e1e96" fill-opacity="0.76"/>
<circle cx="348.4" cy="1368.34" r="1.27" fill="#3e1e96" fill-opacity="0.57"/>
<circle cx="312.72" cy="1264.38" r="0.65" fill="#3e1e96" fill-opacity="0.88"/>
<circle cx="323.94" cy="1329.22" r="0.76" fill="#3e1e96" fill-opacity="0.45"/>
<circle cx="332.62" cy="1314.8" r="0.54" fill="#3e1e96" fill-opacity="0.51"/>
<circle cx="379.35" cy="1273.22" r="1.33" fill="#3e1e96" fill-opacity="0.81"/>
<circle cx="330.88" cy="1280.2" r="1.33" fill="#3e1e96" fill-opacity="0.6"/>
<circle cx="287.37" cy="1336.89" r="1.14" fill="#3e1e96" fill-opacity="0.81"/>
<circle cx="368.48" cy="1337.37" r="0.91" fill="#3e1e96" fill-opacity="0.77"/>
<circle cx="376.38" cy="1297.45" r="0.51" fill="#3e1e96" fill-opacity="0.81"/>
<circle cx="363.65" cy="1268.87" r="1.07" fill="#3e1e96" fill-opacity="0.68"/>
<circle cx="329.29" cy="1268" r="0.65" fill="#3e1e96" fill-opacity="0.63"/>
<circle cx="280.72" cy="1306.08" r="1.31" fill="#3e1e96" fill-opacity="0.95"/>
<circle cx="364.96" cy="1281.65" r="0.84" fill="#3e1e96" fill-opacity="0.77"/>
<circle cx="305.19" cy="1363.16" r="1.09" fill="#3e1e96" fill-opacity="0.74"/>
<circle cx="268.43" cy="1294.86" r="1.06" fill="#3e1e96" fill-opacity="0.54"/>
<circle cx="374.26" cy="1310.48" r="0.6" fill="#3e1e96" fill-opacity="0.7"/>
<circle cx="363.53" cy="1283.79" r="1.06" fill="#3e1e96" fill-opacity="0.51"/>
<circle cx="328.23" cy="1277.09" r="0.52" fill="#3e1e96" fill-opacity="0.58"/>
<circle cx="308.44" cy="1258.95" r="0.51" fill="#3e1e96" fill-opacity="0.8"/>
<circle cx="313.66" cy="1372.37" r="0.84" fill="#3e1e96" fill-opacity="0.95"/>
<circle cx="362.03" cy="1297.95" r="0.53" fill="#3e1e96" fill-opacity="0.59"/>
<circle cx="338.93" cy="1330.64" r="0.87" fill="#3e1e96" fill-opacity="0.49"/>
<circle cx="297.99" cy="1324.8" r="0.73" fill="#3e1e96" fill-opacity="0.94"/>
<circle cx="266.29" cy="1300.68" r="0.53" fill="#3e1e96" fill-opacity="0.94"/>
<circle cx="276.33" cy="1277.87" r="0.6" fill="#3e1e96" fill-opacity="0.76"/>
<circle cx="351.42" cy="1370.08" r="0.64" fill="#3e1e96" fill-opacity="0.63"/>
<circle cx="323.16" cy="1292.13" r="1.1" fill="#3e1e96" fill-opacity="0.91"/>
<circle cx="337.32" cy="1295.41" r="0.89" fill="#3e1e96" fill-opacity="0.61"/>
<circle cx="374.35" cy="1309.93" r="1.12" fill="#3e1e96" fill-opacity="0.93"/>
<circle cx="326.19" cy="1321.59" r="1.31" fill="#3e1e96" fill-opacity="0.94"/>
<circle cx="379.83" cy="1286.52" r="1.32" fill="#3e1e96" fill-opacity="0.46"/>
<circle cx="381.53" cy="1318.31" r="0.62" fill="#3e1e96" fill-opacity="0.8"/>
<circle cx="370.83" cy="1287.61" r="0.64" fill="#3e1e96" fill-opacity="0.49"/>
<circle cx="264.93" cy="1291.9" r="1.06" fill="#3e1e96" fill-opacity="0.52"/>
<circle cx="277.7" cy="1338.15" r="0.5" fill="#3e1e96" fill-opacity="0.56"/>
<circle cx="346.83" cy="1354.45" r="1.33" fill="#3e1e96" fill-opacity="0.55"/>
<circle cx="347.06" cy="1280.37" r="0.89" fill="#3e1e96" fill-opacity="0.88"/>
<circle cx="347.83" cy="1371.92" r="0.52" fill="#3e1e96" fill-opacity="0.67"/>
<circle cx="328.99" cy="1331.73" r="0.53" fill="#3e1e96" fill-opacity="0.74"/>
<circle cx="358.41" cy="1336.63" r="1.02" fill="#3e1e96" fill-opacity="0.76"/>
<circle cx="342.9" cy="1289.99" r="1.32" fill="#3e1e96" fill-opacity="0.66"/>
<circle cx="358.52" cy="1329.14" r="0.51" fill="#3e1e96" fill-opacity="0.57"/>
<circle cx="360.12" cy="1318.08" r="0.71" fill="#3e1e96" fill-opacity="0.49"/>
<circle cx="347.59" cy="1372.93" r="0.7" fill="#3e1e96" fill-opacity="0.69"/>
<circle cx="375.56" cy="1268.79" r="0.83" fill="#3e1e96" fill-opacity="0.52"/>
<circle cx="281.69" cy="1268.21" r="0.58" fill="#3e1e96" fill-opacity="0.79"/>
<circle cx="353.5" cy="1327.15" r="0.52" fill="#3e1e96" fill-opacity="0.46"/>
<circle cx="365.7" cy="1343.53" r="1.3" fill="#3e1e96" fill-opacity="0.69"/>
<circle cx="305.02" cy="1319.05" r="0.91" fill="#3e1e96" fill-opacity="0.81"/>
<circle cx="319.72" cy="1340.71" r="1.18" fill="#3e1e96" fill-opacity="0.6"/>
<circle cx="324.54" cy="1267.4" r="0.68" fill="#3e1e96" fill-opacity="0.91"/>
<circle cx="344.08" cy="1266.07" r="0.63" fill="#3e1e96" fill-opacity="0.79"/>
<circle cx="353.73" cy="1363.55" r="1.38" fill="#3e1e96" fill-opacity="0.76"/>
<circle cx="322.68" cy="1264.07" r="1.1" fill="#3e1e96" fill-opacity="0.59"/>
<circle cx="382.84" cy="1325.57" r="0.71" fill="#3e1e96" fill-opacity="0.6"/>
<circle cx="327.06" cy="1371.74" r="1.22" fill="#3e1e96" fill-opacity="0.54"/>
<circle cx="334.34" cy="1312.84" r="0.92" fill="#3e1e96" fill-opacity="0.84"/>
<circle cx="367.23" cy="1344.6" r="0.53" fill="#3e1e96" fill-opacity="0.58"/>
<circle cx="299.86" cy="1289.44" r="1.24" fill="#3e1e96" fill-opacity="0.88"/>
<circle cx="334.72" cy="1366.11" r="0.55" fill="#3e1e96" fill-opacity="0.45"/>
<circle cx="326.14" cy="1266.53" r="0.61" fill="#3e1e96" fill-opacity="0.53"/>
<circle cx="282.9" cy="1308.32" r="0.89" fill="#3e1e96" fill-opacity="0.46"/>
<circle cx="283.86" cy="1358.94" r="1.21" fill="#3e1e96" fill-opacity="0.7"/>
<circle cx="298.91" cy="1327.2" r="0.51" fill="#3e1e96" fill-opacity="0.76"/>
<circle cx="328.13" cy="1267.01" r="0.64" fill="#3e1e96" fill-opacity="0.7"/>
<circle cx="348.01" cy="1307.48" r="1" fill="#3e1e96" fill-opacity="0.76"/>
<circle cx="313.54" cy="1252.17" r="0.83" fill="#3e1e96" fill-opacity="0.61"/>
<circle cx="364.08" cy="1256.69" r="0.55" fill="#3e1e96" fill-opacity="0.72"/>
<circle cx="311.36" cy="1314.86" r="0.52" fill="#3e1e96" fill-opacity="0.62"/>
<circle cx="313.97" cy="1348.04" r="1.11" fill="#3e1e96" fill-opacity="0.89"/>
<circle cx="348.28" cy="1335.22" r="1.11" fill="#3e1e96" fill-opacity="0.63"/>
<circle cx="370.7" cy="1287.09" r="0.62" fill="#3e1e96" fill-opacity="0.54"/>
<circle cx="336.26" cy="1285.61" r="1.28" fill="#3e1e96" fill-opacity="0.66"/>
<circle cx="382.27" cy="1296.19" r="0.82" fill="#3e1e96" fill-opacity="0.7"/>
<circle cx="298.11" cy="1284.34" r="1.13" fill="#3e1e96" fill-opacity="0.64"/>
<circle cx="341.65" cy="1273.17" r="0.64" fill="#3e1e96" fill-opacity="0.88"/>
<circle cx="364.07" cy="1312.19" r="1.37" fill="#3e1e96" fill-opacity="0.87"/>
<circle cx="353.07" cy="1357.11" r="0.62" fill="#3e1e96" fill-opacity="0.95"/>
<circle cx="377.59" cy="1291.02" r="0.87" fill="#3e1e96" fill-opacity="0.9"/>
<circle cx="299.63" cy="1362.24" r="0.64" fill="#3e1e96" fill-opacity="0.9"/>
<circle cx="381.79" cy="1290.58" r="0.67" fill="#3e1e96" fill-opacity="0.89"/>
<circle cx="338.66" cy="1293.48" r="1" fill="#3e1e96" fill-opacity="0.59"/>
<circle cx="295.16" cy="1348.6" r="0.56" fill="#3e1e96" fill-opacity="0.83"/>
<circle cx="308.42" cy="1322.73" r="1.22" fill="#3e1e96" fill-opacity="0.68"/>
<circle cx="357.42" cy="1319.45" r="0.84" fill="#3e1e96" fill-opacity="0.78"/>
<circle cx="311.55" cy="1306.63" r="1.05" fill="#3e1e96" fill-opacity="0.51"/>
<circle cx="326.51" cy="1263.17" r="0.59" fill="#3e1e96" fill-opacity="0.93"/>
<circle cx="370.86" cy="1304.47" r="0.56" fill="#3e1e96" fill-opacity="0.62"/>
<circle cx="334.15" cy="1368.33" r="1.08" fill="#3e1e96" fill-opacity="0.83"/>
<circle cx="380.84" cy="1315.67" r="0.93" fill="#3e1e96" fill-opacity="0.58"/>
<circle cx="372.65" cy="1292.95" r="0.52" fill="#3e1e96" fill-opacity="0.59"/>
<circle cx="364.36" cy="1266.95" r="0.51" fill="#3e1e96" fill-opacity="0.49"/>
<circle cx="288.99" cy="1333.93" r="1.33" fill="#3e1e96" fill-opacity="0.62"/>
<circle cx="283.64" cy="1279.17" r="0.57" fill="#3e1e96" fill-opacity="0.68"/>
<circle cx="284.27" cy="1298.93" r="1.24" fill="#3e1e96" fill-opacity="0.87"/>
<circle cx="325.46" cy="1307.83" r="0.6" fill="#3e1e96" fill-opacity="0.75"/>
<circle cx="326.47" cy="1341.66" r="1.11" fill="#3e1e96" fill-opacity="0.5"/>
<circle cx="331.89" cy="1311.5" r="0.57" fill="#3e1e96" fill-opacity="0.65"/>
<circle cx="357.14" cy="1358.26" r="1.09" fill="#3e1e96" fill-opacity="0.74"/>
<circle cx="344.5" cy="1299.59" r="0.5" fill="#3e1e96" fill-opacity="0.58"/>
<circle cx="265.24" cy="1302.57" r="0.77" fill="#3e1e96" fill-opacity="0.68"/>
<circle cx="348.89" cy="1369.96" r="1.25" fill="#3e1e96" fill-opacity="0.67"/>
<circle cx="271.77" cy="1291.22" r="1.21" fill="#3e1e96" fill-opacity="0.65"/>
<circle cx="374.5" cy="1282.34" r="0.51" fill="#3e1e96" fill-opacity="0.79"/>
<circle cx="309.2" cy="1316.99" r="0.67" fill="#3e1e96" fill-opacity="0.78"/>
<circle cx="331.62" cy="1282.53" r="0.78" fill="#3e1e96" fill-opacity="0.83"/>
<circle cx="370.93" cy="1271.04" r="1.04" fill="#3e1e96" fill-opacity="0.81"/>
<circle cx="372.89" cy="1321.64" r="0.68" fill="#3e1e96" fill-opacity="0.55"/>
<circle cx="383.82" cy="1335.12" r="0.58" fill="#3e1e96" fill-opacity="0.68"/>
<circle cx="281.26" cy="1300.32" r="0.71" fill="#3e1e96" fill-opacity="0.87"/>
<circle cx="352.29" cy="1325.46" r="0.59" fill="#3e1e96" fill-opacity="0.49"/>
<circle cx="309.29" cy="1365.43" r="0.54" fill="#3e1e96" fill-opacity="0.59"/>
<circle cx="373.88" cy="1277.31" r="1.01" fill="#3e1e96" fill-opacity="0.65"/>
<circle cx="299.41" cy="1263.71" r="1.13" fill="#3e1e96" fill-opacity="0.8"/>
<circle cx="341.1" cy="1366.45" r="0.5" fill="#3e1e96" fill-opacity="0.73"/>
<circle cx="337.68" cy="1272.15" r="0.66" fill="#3e1e96" fill-opacity="0.55"/>
<circle cx="359.81" cy="1331.94" r="1.34" fill="#3e1e96" fill-opacity="0.8"/>
<circle cx="351.64" cy="1310.49" r="0.93" fill="#3e1e96" fill-opacity="0.9"/>
<circle cx="372.97" cy="1317.7" r="1.07" fill="#3e1e96" fill-opacity="0.94"/>
<circle cx="270.04" cy="1327.01" r="0.84" fill="#3e1e96" fill-opacity="0.56"/>
<circle cx="347.21" cy="1335.56" r="1.38" fill="#3e1e96" fill-opacity="0.78"/>
<circle cx="328.87" cy="1265.24" r="1.27" fill="#3e1e96" fill-opacity="0.56"/>
<circle cx="332.65" cy="1348.07" r="1.25" fill="#3e1e96" fill-opacity="0.77"/>
<circle cx="295.85" cy="1333.63" r="0.55" fill="#3e1e96" fill-opacity="0.51"/>
<circle cx="383.86" cy="1305.47" r="1.24" fill="#3e1e96" fill-opacity="0.71"/>
<circle cx="289.54" cy="1343.63" r="0.56" fill="#3e1e96" fill-opacity="0.76"/>
<circle cx="262.8" cy="1316.87" r="0.6" fill="#3e1e96" fill-opacity="0.57"/>
<circle cx="348.93" cy="1368.41" r="1.09" fill="#3e1e96" fill-opacity="0.89"/>
<circle cx="367.48" cy="1292.37" r="0.53" fill="#3e1e96" fill-opacity="0.86"/>
<circle cx="326.93" cy="1261.56" r="0.64" fill="#3e1e96" fill-opacity="0.9"/>
<circle cx="343.47" cy="1302.53" r="1.35" fill="#3e1e96" fill-opacity="0.65"/>
<circle cx="358.16" cy="1260.77" r="0.66" fill="#3e1e96" fill-opacity="0.71"/>
<circle cx="331.11" cy="1342.57" r="0.54" fill="#3e1e96" fill-opacity="0.79"/>
<circle cx="304.25" cy="1357.51" r="1.1" fill="#3e1e96" fill-opacity="0.79"/>
<circle cx="289.07" cy="1275.53" r="0.72" fill="#3e1e96" fill-opacity="0.76"/>
<circle cx="358.77" cy="1326.54" r="0.5" fill="#3e1e96" fill-opacity="0.6"/>
<circle cx="304.53" cy="1320.48" r="0.53" fill="#3e1e96" fill-opacity="0.64"/>
<circle cx="263.82" cy="1312.15" r="1.02" fill="#3e1e96" fill-opacity="0.5"/>
<circle cx="381.25" cy="1339.28" r="1.22" fill="#3e1e96" fill-opacity="0.73"/>
<circle cx="317.21" cy="1366.47" r="0.67" fill="#3e1e96" fill-opacity="0.58"/>
<circle cx="328.49" cy="1322.03" r="0.81" fill="#3e1e96" fill-opacity="0.47"/>
<circle cx="385.68" cy="1283.48" r="1.13" fill="#3e1e96" fill-opacity="0.47"/>
<circle cx="288.29" cy="1286.32" r="0.65" fill="#3e1e96" fill-opacity="0.58"/>
<circle cx="307.91" cy="1288.17" r="0.58" fill="#3e1e96" fill-opacity="0.48"/>
<circle cx="313.52" cy="1355.68" r="0.58" fill="#3e1e96" fill-opacity="0.45"/>
<circle cx="340.06" cy="1330.53" r="0.53" fill="#3e1e96" fill-opacity="0.65"/>
<circle cx="337.73" cy="1283.9" r="0.81" fill="#3e1e96" fill-opacity="0.71"/>
<circle cx="317.28" cy="1289.43" r="0.6" fill="#3e1e96" fill-opacity="0.69"/>
<circle cx="271.19" cy="1293.38" r="0.61" fill="#3e1e96" fill-opacity="0.87"/>
<circle cx="337.5" cy="1249.68" r="0.5" fill="#3e1e96" fill-opacity="0.81"/>
<circle cx="338.81" cy="1350.91" r="1.18" fill="#3e1e96" fill-opacity="0.56"/>
<circle cx="360.74" cy="1344.48" r="0.98" fill="#3e1e96" fill-opacity="0.63"/>
<circle cx="355.21" cy="1340.95" r="0.6" fill="#3e1e96" fill-opacity="0.66"/>
<circle cx="312.22" cy="1346.11" r="1.4" fill="#3e1e96" fill-opacity="0.68"/>
<circle cx="317.93" cy="1372.96" r="0.69" fill="#3e1e96" fill-opacity="0.48"/>
<circle cx="309.04" cy="1351.32" r="0.66" fill="#3e1e96" fill-opacity="0.54"/>
<circle cx="301.03" cy="1334.1" r="0.71" fill="#3e1e96" fill-opacity="0.57"/>
<circle cx="380.1" cy="1319.57" r="0.54" fill="#3e1e96" fill-opacity="0.46"/>
<circle cx="267.98" cy="1322.05" r="1.37" fill="#3e1e96" fill-opacity="0.72"/>
<circle cx="270.92" cy="1309.88" r="0.55" fill="#3e1e96" fill-opacity="0.63"/>
<circle cx="319.34" cy="1288.45" r="1.16" fill="#3e1e96" fill-opacity="0.84"/>
<circle cx="339.83" cy="1323.5" r="1.18" fill="#3e1e96" fill-opacity="0.6"/>
<circle cx="360.16" cy="1349.44" r="0.64" fill="#3e1e96" fill-opacity="0.59"/>
<circle cx="278.18" cy="1304.96" r="1.09" fill="#3e1e96" fill-opacity="0.51"/>
<circle cx="284.2" cy="1346.52" r="0.6" fill="#3e1e96" fill-opacity="0.47"/>
<circle cx="348.75" cy="1366.65" r="1.19" fill="#3e1e96" fill-opacity="0.46"/>
<circle cx="331.58" cy="1275.79" r="0.53" fill="#3e1e96" fill-opacity="0.68"/>
<circle cx="299.79" cy="1333.03" r="0.5" fill="#3e1e96" fill-opacity="0.48"/>
<circle cx="378.79" cy="1300.43" r="0.6" fill="#3e1e96" fill-opacity="0.59"/>
<circle cx="287.15" cy="1323.38" r="0.86" fill="#3e1e96" fill-opacity="0.47"/>
<circle cx="367.09" cy="1313.71" r="1.11" fill="#3e1e96" fill-opacity="0.52"/>
<circle cx="286.94" cy="1292.64" r="0.78" fill="#3e1e96" fill-opacity="0.68"/>
<circle cx="365.54" cy="1353.9" r="0.62" fill="#3e1e96" fill-opacity="0.89"/>
<circle cx="317" cy="1301.84" r="0.94" fill="#3e1e96" fill-opacity="0.5"/>
<circle cx="331.93" cy="1275.41" r="0.59" fill="#3e1e96" fill-opacity="0.68"/>
<circle cx="293.86" cy="1349.28" r="1" fill="#3e1e96" fill-opacity="0.57"/>
<circle cx="298.97" cy="1321.8" r="0.51" fill="#3e1e96" fill-opacity="0.63"/>
<circle cx="287.7" cy="1284.43" r="1.14" fill="#3e1e96" fill-opacity="0.91"/>
<circle cx="338.61" cy="1252.86" r="0.89" fill="#3e1e96" fill-opacity="0.62"/>
<circle cx="298.18" cy="1257.09" r="0.77" fill="#3e1e96" fill-opacity="0.49"/>
<circle cx="313.33" cy="1266.73" r="1.3" fill="#3e1e96" fill-opacity="0.89"/>
<circle cx="318.13" cy="1364.17" r="0.94" fill="#3e1e96" fill-opacity="0.45"/>
<circle cx="356.18" cy="1358.12" r="0.96" fill="#3e1e96" fill-opacity="0.8"/>
<circle cx="299.53" cy="1320.33" r="1.12" fill="#3e1e96" fill-opacity="0.87"/>
<circle cx="379.71" cy="1345.13" r="1.14" fill="#3e1e96" fill-opacity="0.59"/>
<circle cx="375.2" cy="1325.09" r="0.74" fill="#3e1e96" fill-opacity="0.62"/>
<circle cx="302.06" cy="1347.99" r="0.92" fill="#3e1e96" fill-opacity="0.51"/>
<circle cx="328.93" cy="1366.73" r="1.11" fill="#3e1e96" fill-opacity="0.77"/>
<circle cx="284.6" cy="1305.56" r="0.57" fill="#3e1e96" fill-opacity="0.74"/>
<circle cx="334.78" cy="1369.53" r="0.53" fill="#3e1e96" fill-opacity="0.53"/>
<circle cx="302.92" cy="1257.72" r="1.14" fill="#3e1e96" fill-opacity="0.66"/>
<circle cx="343.89" cy="1271.79" r="1.11" fill="#3e1e96" fill-opacity="0.88"/>
<circle cx="363.55" cy="1311.04" r="1.2" fill="#3e1e96" fill-opacity="0.52"/>
<circle cx="372.02" cy="1356.22" r="1.27" fill="#3e1e96" fill-opacity="0.73"/>
<circle cx="362.04" cy="1277.46" r="0.83" fill="#3e1e96" fill-opacity="0.94"/>
<circle cx="343.29" cy="1277.32" r="1.27" fill="#3e1e96" fill-opacity="0.47"/>
<circle cx="316.04" cy="1344.14" r="0.68" fill="#3e1e96" fill-opacity="0.84"/>
<circle cx="352.05" cy="1263.44" r="0.89" fill="#3e1e96" fill-opacity="0.73"/>
<circle cx="330.64" cy="1269.83" r="0.59" fill="#3e1e96" fill-opacity="0.69"/>
<circle cx="346.94" cy="1348.3" r="0.62" fill="#3e1e96" fill-opacity="0.68"/>
<circle cx="369.21" cy="1327.4" r="0.57" fill="#3e1e96" fill-opacity="0.68"/>
<circle cx="298.65" cy="1291.72" r="0.52" fill="#3e1e96" fill-opacity="0.6"/>
<circle cx="312.17" cy="1331.35" r="0.66" fill="#3e1e96" fill-opacity="0.58"/>
<circle cx="277.29" cy="1311.23" r="1.1" fill="#3e1e96" fill-opacity="0.89"/>
<circle cx="275.25" cy="1296.81" r="0.99" fill="#3e1e96" fill-opacity="0.55"/>
<circle cx="321.57" cy="1248.19" r="1.35" fill="#3e1e96" fill-opacity="0.81"/>
<circle cx="329.25" cy="1272.52" r="1.01" fill="#3e1e96" fill-opacity="0.9"/>
<circle cx="334.27" cy="1272.85" r="1.15" fill="#3e1e96" fill-opacity="0.49"/>
<circle cx="329.93" cy="1298.56" r="0.51" fill="#3e1e96" fill-opacity="0.61"/>
<circle cx="342.57" cy="1297.99" r="0.79" fill="#3e1e96" fill-opacity="0.81"/>
<circle cx="321.35" cy="1356.55" r="1.21" fill="#3e1e96" fill-opacity="0.88"/>
<circle cx="371.98" cy="1358.9" r="1.02" fill="#3e1e96" fill-opacity="0.82"/>
<circle cx="361.06" cy="1304.65" r="1.25" fill="#3e1e96" fill-opacity="0.86"/>
<circle cx="348.36" cy="1260.5" r="0.54" fill="#3e1e96" fill-opacity="0.8"/>
<circle cx="344.79" cy="1250.56" r="1" fill="#3e1e96" fill-opacity="0.81"/>
<circle cx="335.75" cy="1344.48" r="0.59" fill="#3e1e96" fill-opacity="0.95"/>
<circle cx="276.16" cy="1281.69" r="0.97" fill="#3e1e96" fill-opacity="0.66"/>
<circle cx="380.23" cy="1284.8" r="0.81" fill="#3e1e96" fill-opacity="0.88"/>
<circle cx="327.9" cy="1335.33" r="1.23" fill="#3e1e96" fill-opacity="0.51"/>
<circle cx="312.81" cy="1339.45" r="0.5" fill="#3e1e96" fill-opacity="0.88"/>
<circle cx="331.67" cy="1331.12" r="1.18" fill="#3e1e96" fill-opacity="0.67"/>
<circle cx="280.84" cy="1293.25" r="1.24" fill="#3e1e96" fill-opacity="0.8"/>
<circle cx="310.15" cy="1278.86" r="0.89" fill="#3e1e96" fill-opacity="0.61"/>
<circle cx="327.68" cy="1299.46" r="0.62" fill="#3e1e96" fill-opacity="0.52"/>
<circle cx="281.69" cy="1281.62" r="0.53" fill="#3e1e96" fill-opacity="0.62"/>
<circle cx="357.67" cy="1336.42" r="0.91" fill="#3e1e96" fill-opacity="0.85"/>
<circle cx="325.05" cy="1263.79" r="0.68" fill="#3e1e96" fill-opacity="0.7"/>
<circle cx="271.97" cy="1279.33" r="0.59" fill="#3e1e96" fill-opacity="0.58"/>
<circle cx="371.42" cy="1315.05" r="0.92" fill="#3e1e96" fill-opacity="0.52"/>
<circle cx="368.16" cy="1314.34" r="1.27" fill="#3e1e96" fill-opacity="0.94"/>
<circle cx="375.36" cy="1314.39" r="0.55" fill="#3e1e96" fill-opacity="0.47"/>
<circle cx="273.15" cy="1292.11" r="0.76" fill="#3e1e96" fill-opacity="0.64"/>
<circle cx="331.96" cy="1282.89" r="0.54" fill="#3e1e96" fill-opacity="0.84"/>
<circle cx="270.59" cy="1317.94" r="1" fill="#3e1e96" fill-opacity="0.59"/>
<circle cx="287.89" cy="1283.18" r="0.66" fill="#3e1e96" fill-opacity="0.84"/>
<circle cx="342.06" cy="1255.84" r="1.38" fill="#3e1e96" fill-opacity="0.88"/>
<circle cx="368.75" cy="1286.8" r="1.2" fill="#3e1e96" fill-opacity="0.69"/>
<circle cx="276.62" cy="1316.05" r="1.1" fill="#3e1e96" fill-opacity="0.86"/>
<circle cx="277.25" cy="1350.17" r="1.3" fill="#3e1e96" fill-opacity="0.68"/>
<circle cx="319.21" cy="1289.03" r="0.58" fill="#3e1e96" fill-opacity="0.65"/>
<circle cx="317.94" cy="1355.07" r="0.5" fill="#3e1e96" fill-opacity="0.75"/>
<circle cx="304.64" cy="1367.53" r="0.86" fill="#3e1e96" fill-opacity="0.81"/>
<circle cx="335.36" cy="1374.15" r="0.75" fill="#3e1e96" fill-opacity="0.63"/>
<circle cx="377.15" cy="1347.34" r="0.51" fill="#3e1e96" fill-opacity="0.77"/>
<circle cx="375.84" cy="1283.85" r="0.63" fill="#3e1e96" fill-opacity="0.82"/>
<circle cx="338.59" cy="1359.65" r="1.1" fill="#3e1e96" fill-opacity="0.66"/>
<circle cx="307.7" cy="1350.15" r="1.12" fill="#3e1e96" fill-opacity="0.48"/>
<circle cx="301.27" cy="1349.19" r="0.66" fill="#3e1e96" fill-opacity="0.71"/>
<circle cx="353.39" cy="1273.96" r="0.6" fill="#3e1e96" fill-opacity="0.92"/>
<circle cx="327.8" cy="1268.14" r="0.59" fill="#3e1e96" fill-opacity="0.61"/>
<circle cx="272.98" cy="1325.49" r="0.55" fill="#3e1e96" fill-opacity="0.57"/>
<circle cx="367.75" cy="1338.07" r="0.69" fill="#3e1e96" fill-opacity="0.64"/>
<circle cx="332.71" cy="1295.52" r="0.7" fill="#3e1e96" fill-opacity="0.79"/>
<circle cx="334.7" cy="1323.6" r="0.55" fill="#3e1e96" fill-opacity="0.78"/>
<circle cx="368.15" cy="1292.5" r="0.63" fill="#3e1e96" fill-opacity="0.77"/>
<circle cx="333.37" cy="1262.31" r="1.25" fill="#3e1e96" fill-opacity="0.6"/>
<circle cx="301.64" cy="1289.01" r="0.77" fill="#3e1e96" fill-opacity="0.49"/>
<circle cx="348.33" cy="1253.88" r="0.8" fill="#3e1e96" fill-opacity="0.59"/>
<circle cx="316.95" cy="1351.25" r="0.81" fill="#3e1e96" fill-opacity="0.84"/>
<circle cx="383.16" cy="1326.66" r="0.51" fill="#3e1e96" fill-opacity="0.5"/>
<circle cx="385.02" cy="1338.7" r="0.72" fill="#3e1e96" fill-opacity="0.53"/>
<circle cx="327.68" cy="1362.42" r="1.11" fill="#3e1e96" fill-opacity="0.56"/>
<circle cx="321.19" cy="1367.29" r="0.64" fill="#3e1e96" fill-opacity="0.6"/>
<circle cx="334.32" cy="1329.21" r="1.28" fill="#3e1e96" fill-opacity="0.89"/>
<circle cx="324.38" cy="1350.76" r="1.22" fill="#3e1e96" fill-opacity="0.82"/>
<circle cx="273.02" cy="1347.1" r="0.78" fill="#3e1e96" fill-opacity="0.67"/>
<circle cx="309.97" cy="1336.09" r="0.86" fill="#3e1e96" fill-opacity="0.74"/>
<circle cx="273.4" cy="1291.53" r="1.33" fill="#3e1e96" fill-opacity="0.8"/>
<circle cx="331.76" cy="1308.98" r="1.4" fill="#3e1e96" fill-opacity="0.54"/>
<circle cx="335.9" cy="1353.25" r="0.85" fill="#3e1e96" fill-opacity="0.84"/>
<circle cx="318.85" cy="1310.42" r="1.13" fill="#3e1e96" fill-opacity="0.46"/>
<circle cx="337.77" cy="1370.65" r="1.2" fill="#3e1e96" fill-opacity="0.71"/>
<circle cx="307.01" cy="1326.72" r="0.59" fill="#3e1e96" fill-opacity="0.66"/>
<circle cx="380.17" cy="1290.03" r="0.67" fill="#3e1e96" fill-opacity="0.57"/>
<circle cx="323.24" cy="1295.68" r="1.13" fill="#3e1e96" fill-opacity="0.93"/>
<circle cx="302.01" cy="1343.41" r="0.9" fill="#3e1e96" fill-opacity="0.68"/>
<circle cx="383.81" cy="1291.48" r="0.77" fill="#3e1e96" fill-opacity="0.56"/>
<circle cx="339.71" cy="1295.46" r="0.62" fill="#3e1e96" fill-opacity="0.5"/>
<circle cx="337.97" cy="1300.18" r="0.68" fill="#3e1e96" fill-opacity="0.58"/>
<circle cx="284.88" cy="1298.13" r="0.77" fill="#3e1e96" fill-opacity="0.91"/>
<circle cx="327.95" cy="1310.13" r="0.76" fill="#3e1e96" fill-opacity="0.53"/>
<circle cx="324.77" cy="1364.34" r="0.78" fill="#3e1e96" fill-opacity="0.58"/>
<circle cx="369.78" cy="1273.5" r="0.93" fill="#3e1e96" fill-opacity="0.87"/>
<circle cx="356.74" cy="1325.22" r="0.92" fill="#3e1e96" fill-opacity="0.46"/>
<circle cx="362.22" cy="1291.56" r="1.4" fill="#3e1e96" fill-opacity="0.81"/>
<circle cx="291.93" cy="1350.72" r="0.56" fill="#3e1e96" fill-opacity="0.49"/>
<circle cx="306.52" cy="1302.45" r="0.98" fill="#3e1e96" fill-opacity="0.78"/>
<circle cx="303.68" cy="1357.63" r="0.52" fill="#3e1e96" fill-opacity="0.84"/>
<circle cx="320.61" cy="1307.73" r="0.86" fill="#3e1e96" fill-opacity="0.51"/>
<circle cx="318.13" cy="1266.6" r="0.93" fill="#3e1e96" fill-opacity="0.54"/>
<circle cx="344.14" cy="1315.62" r="1" fill="#3e1e96" fill-opacity="0.46"/>
<circle cx="357.35" cy="1256.73" r="1.27" fill="#3e1e96" fill-opacity="0.67"/>
<circle cx="289.8" cy="1265.59" r="0.72" fill="#3e1e96" fill-opacity="0.77"/>
<circle cx="312.83" cy="1330.11" r="0.9" fill="#3e1e96" fill-opacity="0.74"/>
<circle cx="348.8" cy="1351.22" r="1" fill="#3e1e96" fill-opacity="0.88"/>
<circle cx="372.53" cy="1331.02" r="1.05" fill="#3e1e96" fill-opacity="0.9"/>
<circle cx="299.98" cy="1335.38" r="0.91" fill="#3e1e96" fill-opacity="0.91"/>
<circle cx="330.04" cy="1312.17" r="0.88" fill="#3e1e96" fill-opacity="0.92"/>
<circle cx="278.65" cy="1314.73" r="0.57" fill="#3e1e96" fill-opacity="0.46"/>
<circle cx="302.64" cy="1311.7" r="0.67" fill="#3e1e96" fill-opacity="0.51"/>
<circle cx="322.9" cy="1297.48" r="0.78" fill="#3e1e96" fill-opacity="0.56"/>
<circle cx="296.12" cy="1261" r="0.57" fill="#3e1e96" fill-opacity="0.89"/>
<circle cx="352.02" cy="1291.01" r="0.99" fill="#3e1e96" fill-opacity="0.58"/>
<circle cx="360.45" cy="1361.77" r="1.24" fill="#3e1e96" fill-opacity="0.89"/>
<circle cx="372.35" cy="1342.72" r="0.98" fill="#3e1e96" fill-opacity="0.53"/>
<circle cx="363.53" cy="1351.97" r="0.71" fill="#3e1e96" fill-opacity="0.63"/>
<circle cx="366.35" cy="1283.48" r="1.04" fill="#3e1e96" fill-opacity="0.54"/>
<circle cx="359.54" cy="1342.57" r="0.52" fill="#3e1e96" fill-opacity="0.59"/>
<circle cx="336.81" cy="1328.5" r="1.11" fill="#3e1e96" fill-opacity="0.89"/>
<circle cx="374.06" cy="1330.88" r="0.66" fill="#3e1e96" fill-opacity="0.8"/>
<circle cx="321.24" cy="1289.21" r="0.87" fill="#3e1e96" fill-opacity="0.87"/>
<circle cx="321.5" cy="1311.6" r="1" fill="#3e1e96" fill-opacity="0.8"/>
<circle cx="327.82" cy="1347.9" r="0.69" fill="#3e1e96" fill-opacity="0.64"/>
<circle cx="353.15" cy="1323.35" r="0.68" fill="#3e1e96" fill-opacity="0.63"/>
<circle cx="319.56" cy="1322.94" r="1.02" fill="#3e1e96" fill-opacity="0.75"/>
<circle cx="293.59" cy="1289.63" r="0.79" fill="#3e1e96" fill-opacity="0.91"/>
<circle cx="341.48" cy="1329.68" r="0.82" fill="#3e1e96" fill-opacity="0.7"/>
<circle cx="289.92" cy="1332.43" r="1.35" fill="#3e1e96" fill-opacity="0.84"/>
<circle cx="309.6" cy="1335.15" r="1.31" fill="#3e1e96" fill-opacity="0.75"/>
<circle cx="373.36" cy="1314.37" r="0.57" fill="#3e1e96" fill-opacity="0.78"/>
<circle cx="335.04" cy="1263.38" r="0.99" fill="#3e1e96" fill-opacity="0.55"/>
<circle cx="308.39" cy="1287.54" r="0.77" fill="#3e1e96" fill-opacity="0.61"/>
<circle cx="311.58" cy="1268.52" r="0.87" fill="#3e1e96" fill-opacity="0.86"/>
<circle cx="300.26" cy="1295.95" r="1.1" fill="#3e1e96" fill-opacity="0.66"/>
<circle cx="316.58" cy="1333.34" r="1.29" fill="#3e1e96" fill-opacity="0.45"/>
<circle cx="314.51" cy="1363.61" r="1.14" fill="#3e1e96" fill-opacity="0.54"/>
<circle cx="365.25" cy="1359.41" r="0.5" fill="#3e1e96" fill-opacity="0.92"/>
<circle cx="371.38" cy="1351.48" r="0.51" fill="#3e1e96" fill-opacity="0.93"/>
<circle cx="357.94" cy="1275.54" r="0.63" fill="#3e1e96" fill-opacity="0.54"/>
<circle cx="324.48" cy="1313.25" r="1.33" fill="#3e1e96" fill-opacity="0.8"/>
<circle cx="320.97" cy="1290.96" r="0.7" fill="#3e1e96" fill-opacity="0.63"/>
<circle cx="361.06" cy="1327.63" r="0.59" fill="#3e1e96" fill-opacity="0.67"/>
<circle cx="275.81" cy="1311.39" r="0.96" fill="#3e1e96" fill-opacity="0.77"/>
<circle cx="309.93" cy="1343.37" r="0.6" fill="#3e1e96" fill-opacity="0.46"/>
<circle cx="342.84" cy="1314.57" r="0.8" fill="#3e1e96" fill-opacity="0.79"/>
<circle cx="346.82" cy="1278.86" r="0.87" fill="#3e1e96" fill-opacity="0.71"/>
<circle cx="313.93" cy="1306.43" r="0.9" fill="#3e1e96" fill-opacity="0.53"/>
<circle cx="353.62" cy="1311.34" r="1.29" fill="#3e1e96" fill-opacity="0.83"/>
<circle cx="311.85" cy="1293.48" r="0.54" fill="#3e1e96" fill-opacity="0.92"/>
<circle cx="383.58" cy="1288.27" r="0.73" fill="#3e1e96" fill-opacity="0.82"/>
<circle cx="367.86" cy="1320.44" r="0.81" fill="#3e1e96" fill-opacity="0.79"/>
<circle cx="312.29" cy="1367.92" r="0.73" fill="#3e1e96" fill-opacity="0.46"/>
<circle cx="276.92" cy="1309.86" r="0.63" fill="#3e1e96" fill-opacity="0.72"/>
<circle cx="311.87" cy="1371.01" r="0.86" fill="#3e1e96" fill-opacity="0.53"/>
<circle cx="288.24" cy="1334.64" r="1.21" fill="#3e1e96" fill-opacity="0.91"/>
<circle cx="343.14" cy="1299.43" r="0.5" fill="#3e1e96" fill-opacity="0.77"/>
<circle cx="318.89" cy="1322.4" r="1.08" fill="#3e1e96" fill-opacity="0.93"/>
<circle cx="373.71" cy="1286.92" r="1.27" fill="#3e1e96" fill-opacity="0.56"/>
<circle cx="352.88" cy="1274.66" r="0.89" fill="#3e1e96" fill-opacity="0.6"/>
<circle cx="360.15" cy="1299.03" r="1.01" fill="#3e1e96" fill-opacity="0.72"/>
<circle cx="353.84" cy="1319.76" r="1.4" fill="#3e1e96" fill-opacity="0.54"/>
<circle cx="355.14" cy="1270.2" r="1.01" fill="#3e1e96" fill-opacity="0.45"/>
<circle cx="270.22" cy="1322.22" r="1.05" fill="#3e1e96" fill-opacity="0.55"/>
<circle cx="309.76" cy="1280.75" r="1.26" fill="#3e1e96" fill-opacity="0.85"/>
<circle cx="315.33" cy="1354.8" r="0.62" fill="#3e1e96" fill-opacity="0.72"/>
<circle cx="269.55" cy="1302.5" r="0.66" fill="#3e1e96" fill-opacity="0.68"/>
<circle cx="269.73" cy="1341.21" r="1.24" fill="#3e1e96" fill-opacity="0.73"/>
<circle cx="283.23" cy="1328.5" r="0.53" fill="#3e1e96" fill-opacity="0.71"/>
<circle cx="305.61" cy="1273.04" r="0.58" fill="#3e1e96" fill-opacity="0.92"/>
<circle cx="384.32" cy="1330.8" r="1.01" fill="#3e1e96" fill-opacity="0.79"/>
<circle cx="358.92" cy="1295.1" r="0.5" fill="#3e1e96" fill-opacity="0.56"/>
<circle cx="307.81" cy="1271.09" r="0.55" fill="#3e1e96" fill-opacity="0.45"/>
<circle cx="325.03" cy="1267.49" r="0.92" fill="#3e1e96" fill-opacity="0.48"/>
<circle cx="378.42" cy="1348.13" r="0.67" fill="#3e1e96" fill-opacity="0.52"/>
<circle cx="318.14" cy="1353.47" r="0.84" fill="#3e1e96" fill-opacity="0.51"/>
<circle cx="292.54" cy="1311.36" r="0.54" fill="#3e1e96" fill-opacity="0.48"/>
<circle cx="336.99" cy="1249.13" r="1.15" fill="#3e1e96" fill-opacity="0.46"/>
<circle cx="299.25" cy="1334.32" r="0.64" fill="#3e1e96" fill-opacity="0.64"/>
<circle cx="368.67" cy="1272.72" r="0.68" fill="#3e1e96" fill-opacity="0.76"/>
<circle cx="350.66" cy="1332.16" r="1.02" fill="#3e1e96" fill-opacity="0.52"/>
<circle cx="296.97" cy="1295.09" r="1.35" fill="#3e1e96" fill-opacity="0.94"/>
<circle cx="298.44" cy="1361.31" r="1.21" fill="#3e1e96" fill-opacity="0.87"/>
<circle cx="381.71" cy="1323.92" r="1.06" fill="#3e1e96" fill-opacity="0.68"/>
<circle cx="352.51" cy="1366.32" r="0.54" fill="#3e1e96" fill-opacity="0.87"/>
<circle cx="370.17" cy="1269.09" r="1.1" fill="#3e1e96" fill-opacity="0.53"/>
<circle cx="358.96" cy="1303.58" r="0.78" fill="#3e1e96" fill-opacity="0.89"/>
<circle cx="305.43" cy="1277.69" r="0.98" fill="#3e1e96" fill-opacity="0.49"/>
<circle cx="311.48" cy="1369.87" r="1.15" fill="#3e1e96" fill-opacity="0.66"/>
<circle cx="351.23" cy="1314.17" r="0.52" fill="#3e1e96" fill-opacity="0.73"/>
<circle cx="287.88" cy="1294.76" r="1.06" fill="#3e1e96" fill-opacity="0.64"/>
<circle cx="344.39" cy="1327.1" r="0.69" fill="#3e1e96" fill-opacity="0.9"/>
<circle cx="333.98" cy="1317.74" r="0.72" fill="#3e1e96" fill-opacity="0.72"/>
<circle cx="335.04" cy="1338.31" r="0.67" fill="#3e1e96" fill-opacity="0.89"/>
<circle cx="286.19" cy="1312.14" r="1.03" fill="#3e1e96" fill-opacity="0.71"/>
<circle cx="369.49" cy="1309.32" r="0.88" fill="#3e1e96" fill-opacity="0.78"/>
<circle cx="331.7" cy="1290.22" r="0.93" fill="#3e1e96" fill-opacity="0.61"/>
<circle cx="331.97" cy="1315.18" r="0.83" fill="#3e1e96" fill-opacity="0.62"/>
<circle cx="391.06" cy="1324.08" r="0.57" fill="#3e1e96" fill-opacity="0.5"/>
<circle cx="297.12" cy="1350.5" r="1.19" fill="#3e1e96" fill-opacity="0.76"/>
<circle cx="284.04" cy="1305.91" r="0.89" fill="#3e1e96" fill-opacity="0.54"/>
<circle cx="347.98" cy="1349.26" r="0.62" fill="#3e1e96" fill-opacity="0.89"/>
<circle cx="287.57" cy="1272.5" r="0.72" fill="#3e1e96" fill-opacity="0.58"/>
<circle cx="330.01" cy="1344.9" r="0.95" fill="#3e1e96" fill-opacity="0.82"/>
<circle cx="326.26" cy="1267.88" r="0.74" fill="#3e1e96" fill-opacity="0.56"/>
<circle cx="329.72" cy="1316.77" r="0.78" fill="#3e1e96" fill-opacity="0.61"/>
<circle cx="303.98" cy="1282.41" r="0.71" fill="#3e1e96" fill-opacity="0.73"/>
<circle cx="337.11" cy="1318.53" r="0.57" fill="#3e1e96" fill-opacity="0.79"/>
<circle cx="285.08" cy="1306.03" r="0.96" fill="#3e1e96" fill-opacity="0.55"/>
<circle cx="373.65" cy="1283.51" r="0.87" fill="#3e1e96" fill-opacity="0.82"/>
<circle cx="304.79" cy="1330.42" r="0.89" fill="#3e1e96" fill-opacity="0.48"/>
<circle cx="328.68" cy="1274.04" r="0.97" fill="#3e1e96" fill-opacity="0.94"/>
<circle cx="287.94" cy="1281.79" r="0.96" fill="#3e1e96" fill-opacity="0.73"/>
<circle cx="266.73" cy="1330.11" r="1.15" fill="#3e1e96" fill-opacity="0.75"/>
<circle cx="290.41" cy="1348.23" r="0.83" fill="#3e1e96" fill-opacity="0.58"/>
<circle cx="341.49" cy="1357.08" r="0.61" fill="#3e1e96" fill-opacity="0.81"/>
<circle cx="318.69" cy="1345.35" r="1.05" fill="#3e1e96" fill-opacity="0.86"/>
<circle cx="323.02" cy="1375.02" r="0.53" fill="#3e1e96" fill-opacity="0.72"/>
<circle cx="275.31" cy="1311.58" r="0.87" fill="#3e1e96" fill-opacity="0.85"/>
<circle cx="332.49" cy="1258.7" r="1.27" fill="#3e1e96" fill-opacity="0.92"/>
<circle cx="306.71" cy="1324.73" r="0.54" fill="#3e1e96" fill-opacity="0.58"/>
<circle cx="321.84" cy="1298.11" r="1.11" fill="#3e1e96" fill-opacity="0.85"/>
<circle cx="325.49" cy="1283.64" r="1.36" fill="#3e1e96" fill-opacity="0.5"/>
<circle cx="303.12" cy="1271.4" r="1.23" fill="#3e1e96" fill-opacity="0.93"/>
<circle cx="342.4" cy="1340.77" r="0.72" fill="#3e1e96" fill-opacity="0.62"/>
<circle cx="298.35" cy="1259.14" r="1.17" fill="#3e1e96" fill-opacity="0.63"/>
<circle cx="290.39" cy="1361.84" r="0.89" fill="#3e1e96" fill-opacity="0.93"/>
<circle cx="285.94" cy="1283.43" r="1.09" fill="#3e1e96" fill-opacity="0.69"/>
<circle cx="375.84" cy="1326.85" r="1" fill="#3e1e96" fill-opacity="0.51"/>
<circle cx="324.01" cy="1296.9" r="0.5" fill="#3e1e96" fill-opacity="0.54"/>
<circle cx="351.77" cy="1369.86" r="1.26" fill="#3e1e96" fill-opacity="0.94"/>
<circle cx="291.57" cy="1309.37" r="0.52" fill="#3e1e96" fill-opacity="0.92"/>
<circle cx="290.45" cy="1348.9" r="1.27" fill="#3e1e96" fill-opacity="0.54"/>
<circle cx="383.68" cy="1287.49" r="0.71" fill="#3e1e96" fill-opacity="0.55"/>
<circle cx="267.51" cy="1295.7" r="0.56" fill="#3e1e96" fill-opacity="0.71"/>
<circle cx="384.29" cy="1287.38" r="0.68" fill="#3e1e96" fill-opacity="0.61"/>
<circle cx="306.93" cy="1304.36" r="1.19" fill="#3e1e96" fill-opacity="0.65"/>
<circle cx="365.71" cy="1321" r="0.71" fill="#3e1e96" fill-opacity="0.81"/>
<circle cx="342.2" cy="1323.39" r="0.53" fill="#3e1e96" fill-opacity="0.64"/>
<circle cx="364.91" cy="1318.71" r="0.65" fill="#3e1e96" fill-opacity="0.77"/>
<circle cx="333.65" cy="1375.63" r="0.77" fill="#3e1e96" fill-opacity="0.66"/>
<circle cx="334.61" cy="1259.61" r="0.86" fill="#3e1e96" fill-opacity="0.8"/>
<circle cx="281.27" cy="1330.07" r="0.91" fill="#3e1e96" fill-opacity="0.63"/>
<circle cx="314.7" cy="1284.44" r="0.98" fill="#3e1e96" fill-opacity="0.54"/>
<circle cx="355.68" cy="1261.41" r="0.5" fill="#3e1e96" fill-opacity="0.61"/>
<circle cx="317.21" cy="1358.34" r="1.32" fill="#3e1e96" fill-opacity="0.55"/>
<circle cx="306.14" cy="1265.09" r="1.03" fill="#3e1e96" fill-opacity="0.6"/>
<circle cx="284.07" cy="1292.23" r="1.12" fill="#3e1e96" fill-opacity="0.68"/>
<circle cx="294.09" cy="1296.65" r="0.58" fill="#3e1e96" fill-opacity="0.85"/>
<circle cx="295.82" cy="1350.63" r="0.51" fill="#3e1e96" fill-opacity="0.55"/>
<circle cx="330.34" cy="1308.73" r="1.24" fill="#3e1e96" fill-opacity="0.95"/>
<circle cx="303.64" cy="1333.12" r="0.53" fill="#3e1e96" fill-opacity="0.51"/>
<circle cx="263.26" cy="1321.52" r="0.61" fill="#3e1e96" fill-opacity="0.89"/>
<circle cx="297.66" cy="1301.83" r="1.06" fill="#3e1e96" fill-opacity="0.6"/>
<circle cx="326.22" cy="1349.9" r="1.13" fill="#3e1e96" fill-opacity="0.8"/>
<circle cx="285.83" cy="1273.44" r="0.53" fill="#3e1e96" fill-opacity="0.54"/>
<circle cx="341.63" cy="1303.4" r="1.25" fill="#3e1e96" fill-opacity="0.66"/>
<circle cx="362.04" cy="1353.68" r="0.68" fill="#3e1e96" fill-opacity="0.8"/>
<circle cx="320.5" cy="1303.84" r="0.93" fill="#3e1e96" fill-opacity="0.77"/>
<circle cx="285.16" cy="1359.69" r="0.56" fill="#3e1e96" fill-opacity="0.78"/>
<circle cx="299.78" cy="1310.55" r="1.28" fill="#3e1e96" fill-opacity="0.86"/>
<circle cx="276.4" cy="1309.95" r="0.64" fill="#3e1e96" fill-opacity="0.83"/>
<circle cx="363.75" cy="1309.46" r="0.94" fill="#3e1e96" fill-opacity="0.86"/>
<circle cx="311.63" cy="1373.62" r="0.51" fill="#3e1e96" fill-opacity="0.51"/>
<circle cx="349.56" cy="1270.96" r="0.7" fill="#3e1e96" fill-opacity="0.51"/>
<circle cx="333.72" cy="1369.87" r="1.12" fill="#3e1e96" fill-opacity="0.65"/>
<circle cx="307.31" cy="1370.84" r="0.55" fill="#3e1e96" fill-opacity="0.55"/>
<circle cx="300.68" cy="1310.97" r="0.55" fill="#3e1e96" fill-opacity="0.61"/>
<circle cx="332.58" cy="1278.96" r="0.9" fill="#3e1e96" fill-opacity="0.6"/>
<circle cx="265.14" cy="1308.76" r="0.91" fill="#3e1e96" fill-opacity="0.54"/>
<circle cx="383.5" cy="1281.41" r="0.74" fill="#3e1e96" fill-opacity="0.69"/>
<circle cx="293.61" cy="1325.44" r="1" fill="#3e1e96" fill-opacity="0.88"/>
<circle cx="315.29" cy="1288.48" r="1.08" fill="#3e1e96" fill-opacity="0.72"/>
<circle cx="388.46" cy="1328.49" r="0.69" fill="#3e1e96" fill-opacity="0.83"/>
<circle cx="335.06" cy="1346.56" r="0.55" fill="#3e1e96" fill-opacity="0.85"/>
<circle cx="335.35" cy="1322.7" r="0.62" fill="#3e1e96" fill-opacity="0.94"/>
<circle cx="285.76" cy="1317.56" r="0.6" fill="#3e1e96" fill-opacity="0.77"/>
<circle cx="287.17" cy="1302.67" r="0.55" fill="#3e1e96" fill-opacity="0.58"/>
<circle cx="381.33" cy="1328.25" r="0.67" fill="#3e1e96" fill-opacity="0.53"/>
<circle cx="338.14" cy="1370.08" r="1.17" fill="#3e1e96" fill-opacity="0.92"/>
<circle cx="303.43" cy="1279.79" r="0.81" fill="#3e1e96" fill-opacity="0.57"/>
<circle cx="339.12" cy="1252.37" r="1.08" fill="#3e1e96" fill-opacity="0.55"/>
<circle cx="339.82" cy="1308.64" r="0.57" fill="#3e1e96" fill-opacity="0.69"/>
<circle cx="279.06" cy="1313.16" r="1.06" fill="#3e1e96" fill-opacity="0.7"/>
<circle cx="368.26" cy="1322.11" r="1.16" fill="#3e1e96" fill-opacity="0.76"/>
<circle cx="319.13" cy="1261.26" r="0.9" fill="#3e1e96" fill-opacity="0.84"/>
<circle cx="356.5" cy="1330.08" r="1.09" fill="#3e1e96" fill-opacity="0.7"/>
<circle cx="342.06" cy="1272.47" r="0.55" fill="#3e1e96" fill-opacity="0.74"/>
<circle cx="336.88" cy="1282.61" r="0.56" fill="#3e1e96" fill-opacity="0.66"/>
<circle cx="323.86" cy="1252.03" r="0.74" fill="#3e1e96" fill-opacity="0.46"/>
<circle cx="358.88" cy="1285.67" r="0.64" fill="#3e1e96" fill-opacity="0.75"/>
<circle cx="352.6" cy="1260.68" r="0.64" fill="#3e1e96" fill-opacity="0.82"/>
<circle cx="354.16" cy="1330.61" r="1.37" fill="#3e1e96" fill-opacity="0.53"/>
<circle cx="387.52" cy="1293.28" r="0.52" fill="#3e1e96" fill-opacity="0.78"/>
<circle cx="340.56" cy="1306.54" r="1.33" fill="#3e1e96" fill-opacity="0.79"/>
<circle cx="334.01" cy="1285.69" r="1.21" fill="#3e1e96" fill-opacity="0.54"/>
<circle cx="289.65" cy="1361.83" r="0.68" fill="#3e1e96" fill-opacity="0.75"/>
<circle cx="382.89" cy="1333.82" r="0.56" fill="#3e1e96" fill-opacity="0.92"/>
<circle cx="383.43" cy="1329.57" r="1.29" fill="#3e1e96" fill-opacity="0.51"/>
<circle cx="303.88" cy="1316.32" r="1.18" fill="#3e1e96" fill-opacity="0.68"/>
<circle cx="310.87" cy="1350.46" r="1.16" fill="#3e1e96" fill-opacity="0.85"/>
<circle cx="347.58" cy="1345.29" r="0.96" fill="#3e1e96" fill-opacity="0.66"/>
<circle cx="324.62" cy="1333.23" r="0.5" fill="#3e1e96" fill-opacity="0.54"/>
<circle cx="336.87" cy="1269.42" r="1.09" fill="#3e1e96" fill-opacity="0.71"/>
<circle cx="264.98" cy="1330.05" r="0.52" fill="#3e1e96" fill-opacity="0.52"/>
<circle cx="290.37" cy="1336.59" r="0.83" fill="#3e1e96" fill-opacity="0.65"/>
<circle cx="336.8" cy="1301.54" r="0.85" fill="#3e1e96" fill-opacity="0.72"/>
<circle cx="374.31" cy="1340.95" r="0.83" fill="#3e1e96" fill-opacity="0.85"/>
<circle cx="291.48" cy="1340.49" r="1.15" fill="#3e1e96" fill-opacity="0.5"/>
<circle cx="310.97" cy="1320.07" r="1.39" fill="#3e1e96" fill-opacity="0.67"/>
<circle cx="354.64" cy="1295.14" r="0.65" fill="#3e1e96" fill-opacity="0.63"/>
<circle cx="345.06" cy="1359.9" r="1.21" fill="#3e1e96" fill-opacity="0.51"/>
<circle cx="340.03" cy="1261.15" r="0.7" fill="#3e1e96" fill-opacity="0.62"/>
<circle cx="298.09" cy="1347.53" r="0.9" fill="#3e1e96" fill-opacity="0.84"/>
<circle cx="380.69" cy="1315.38" r="0.63" fill="#3e1e96" fill-opacity="0.56"/>
<circle cx="329.92" cy="1286.1" r="0.94" fill="#3e1e96" fill-opacity="0.51"/>
<circle cx="309.51" cy="1336.1" r="0.52" fill="#3e1e96" fill-opacity="0.59"/>
<circle cx="297.68" cy="1256.43" r="1.13" fill="#3e1e96" fill-opacity="0.83"/>
<circle cx="375.04" cy="1295.17" r="0.54" fill="#3e1e96" fill-opacity="0.77"/>
<circle cx="277.93" cy="1273.45" r="1.24" fill="#3e1e96" fill-opacity="0.88"/>
<circle cx="381.23" cy="1276.09" r="0.74" fill="#3e1e96" fill-opacity="0.54"/>
<circle cx="284.63" cy="1268.45" r="1.17" fill="#3e1e96" fill-opacity="0.5"/>
<circle cx="284.71" cy="1273.86" r="0.85" fill="#3e1e96" fill-opacity="0.76"/>
<circle cx="298" cy="1307.45" r="0.83" fill="#3e1e96" fill-opacity="0.79"/>
<circle cx="300.95" cy="1360.19" r="1.09" fill="#3e1e96" fill-opacity="0.49"/>
<circle cx="293.73" cy="1343.99" r="0.54" fill="#3e1e96" fill-opacity="0.87"/>
<circle cx="360.41" cy="1336.73" r="0.53" fill="#3e1e96" fill-opacity="0.88"/>
<circle cx="317.19" cy="1248.85" r="0.51" fill="#3e1e96" fill-opacity="0.69"/>
<circle cx="378.37" cy="1328.26" r="0.55" fill="#3e1e96" fill-opacity="0.46"/>
<circle cx="282.27" cy="1265.56" r="0.62" fill="#3e1e96" fill-opacity="0.6"/>
<circle cx="382.22" cy="1324.46" r="0.77" fill="#3e1e96" fill-opacity="0.65"/>
<circle cx="350.7" cy="1341.98" r="0.87" fill="#3e1e96" fill-opacity="0.78"/>
<circle cx="388.53" cy="1324.45" r="0.5" fill="#3e1e96" fill-opacity="0.49"/>
<circle cx="305.19" cy="1329.07" r="0.67" fill="#3e1e96" fill-opacity="0.73"/>
<circle cx="314.5" cy="1341.84" r="1.03" fill="#3e1e96" fill-opacity="0.78"/>
<circle cx="305.83" cy="1262.65" r="1.08" fill="#3e1e96" fill-opacity="0.76"/>
<circle cx="363.84" cy="1310.6" r="1.2" fill="#3e1e96" fill-opacity="0.81"/>
<circle cx="330.62" cy="1257.11" r="0.92" fill="#3e1e96" fill-opacity="0.81"/>
<circle cx="296.55" cy="1291.97" r="1.01" fill="#3e1e96" fill-opacity="0.7"/>
<circle cx="335.38" cy="1368.37" r="1.14" fill="#3e1e96" fill-opacity="0.84"/>
<circle cx="316.86" cy="1354.72" r="0.9" fill="#3e1e96" fill-opacity="0.66"/>
<circle cx="291.4" cy="1353.16" r="0.69" fill="#3e1e96" fill-opacity="0.84"/>
<circle cx="354.24" cy="1276.99" r="1.21" fill="#3e1e96" fill-opacity="0.8"/>
<circle cx="363.94" cy="1293.53" r="1.1" fill="#3e1e96" fill-opacity="0.94"/>
<circle cx="311.77" cy="1250.09" r="0.96" fill="#3e1e96" fill-opacity="0.57"/>
<circle cx="373.41" cy="1292.28" r="0.75" fill="#3e1e96" fill-opacity="0.74"/>
<circle cx="292.7" cy="1357.55" r="0.85" fill="#3e1e96" fill-opacity="0.61"/>
<circle cx="311.72" cy="1293.75" r="1.04" fill="#3e1e96" fill-opacity="0.61"/>
<circle cx="287.31" cy="1276.95" r="0.57" fill="#3e1e96" fill-opacity="0.65"/>
<circle cx="306.08" cy="1346.18" r="0.55" fill="#3e1e96" fill-opacity="0.47"/>
<circle cx="278.84" cy="1289.04" r="1.15" fill="#3e1e96" fill-opacity="0.63"/>
<circle cx="328.25" cy="1304.39" r="1.08" fill="#3e1e96" fill-opacity="0.78"/>
<circle cx="348.13" cy="1301.58" r="0.63" fill="#3e1e96" fill-opacity="0.79"/>
<circle cx="300.23" cy="1292.83" r="0.8" fill="#3e1e96" fill-opacity="0.8"/>
<circle cx="366.3" cy="1280" r="0.9" fill="#3e1e96" fill-opacity="0.93"/>
<circle cx="273.29" cy="1310.84" r="0.74" fill="#3e1e96" fill-opacity="0.76"/>
<circle cx="388.56" cy="1289.49" r="0.59" fill="#3e1e96" fill-opacity="0.55"/>
<circle cx="385.38" cy="1294.39" r="0.53" fill="#3e1e96" fill-opacity="0.54"/>
<circle cx="334.53" cy="1339.04" r="0.68" fill="#3e1e96" fill-opacity="0.78"/>
<circle cx="300.17" cy="1310.73" r="0.51" fill="#3e1e96" fill-opacity="0.59"/>
<circle cx="316.97" cy="1308.32" r="1.39" fill="#3e1e96" fill-opacity="0.55"/>
<circle cx="364.19" cy="1358.16" r="1.03" fill="#3e1e96" fill-opacity="0.91"/>
<circle cx="340.07" cy="1286.36" r="1.24" fill="#3e1e96" fill-opacity="0.56"/>
<circle cx="364.15" cy="1268.3" r="0.83" fill="#3e1e96" fill-opacity="0.8"/>
<circle cx="364.9" cy="1331.56" r="1.36" fill="#3e1e96" fill-opacity="0.71"/>
<circle cx="281.81" cy="1278.56" r="0.99" fill="#3e1e96" fill-opacity="0.75"/>
<circle cx="358.97" cy="1312.83" r="0.61" fill="#3e1e96" fill-opacity="0.49"/>
<circle cx="284.48" cy="1334.39" r="0.78" fill="#3e1e96" fill-opacity="0.88"/>
<circle cx="279.81" cy="1287.23" r="0.85" fill="#3e1e96" fill-opacity="0.86"/>
<circle cx="312.92" cy="1355.26" r="0.97" fill="#3e1e96" fill-opacity="0.75"/>
<circle cx="385.76" cy="1331.19" r="1.27" fill="#3e1e96" fill-opacity="0.9"/>
<circle cx="284.33" cy="1270.8" r="0.64" fill="#3e1e96" fill-opacity="0.58"/>
<circle cx="321.18" cy="1311.1" r="0.64" fill="#3e1e96" fill-opacity="0.85"/>
<circle cx="317.06" cy="1296.61" r="1.2" fill="#3e1e96" fill-opacity="0.93"/>
<circle cx="268.2" cy="1291.39" r="0.76" fill="#3e1e96" fill-opacity="0.9"/>
<circle cx="386.35" cy="1286.11" r="0.65" fill="#3e1e96" fill-opacity="0.63"/>
<circle cx="266.68" cy="1294.53" r="0.53" fill="#3e1e96" fill-opacity="0.74"/>
<circle cx="336.53" cy="1261.7" r="1.16" fill="#3e1e96" fill-opacity="0.72"/>
<circle cx="320.75" cy="1318.93" r="0.58" fill="#3e1e96" fill-opacity="0.49"/>
<circle cx="287.69" cy="1359" r="0.53" fill="#3e1e96" fill-opacity="0.49"/>
<circle cx="307.68" cy="1339.34" r="0.92" fill="#3e1e96" fill-opacity="0.49"/>
<circle cx="388.6" cy="1324.07" r="1.01" fill="#3e1e96" fill-opacity="0.65"/>
<circle cx="388.19" cy="1311.99" r="1.36" fill="#3e1e96" fill-opacity="0.91"/>
<circle cx="275.62" cy="1282.69" r="0.5" fill="#3e1e96" fill-opacity="0.91"/>
<circle cx="330.89" cy="1364.86" r="0.6" fill="#3e1e96" fill-opacity="0.72"/>
<circle cx="361.79" cy="1257.7" r="0.66" fill="#3e1e96" fill-opacity="0.54"/>
<circle cx="268.4" cy="1338.68" r="1.1" fill="#3e1e96" fill-opacity="0.5"/>
<circle cx="303.55" cy="1314.66" r="0.51" fill="#3e1e96" fill-opacity="0.9"/>
<circle cx="384.52" cy="1293.92" r="1.22" fill="#3e1e96" fill-opacity="0.5"/>
<circle cx="367.79" cy="1336.2" r="0.82" fill="#3e1e96" fill-opacity="0.94"/>
<circle cx="335.22" cy="1246.88" r="1.35" fill="#3e1e96" fill-opacity="0.7"/>
<circle cx="320.39" cy="1292.31" r="0.57" fill="#3e1e96" fill-opacity="0.62"/>
<circle cx="305.05" cy="1297.3" r="1.27" fill="#3e1e96" fill-opacity="0.68"/>
<circle cx="334.19" cy="1257.56" r="0.51" fill="#3e1e96" fill-opacity="0.48"/>
<circle cx="319.06" cy="1249.68" r="0.51" fill="#3e1e96" fill-opacity="0.56"/>
<circle cx="276.89" cy="1294.81" r="1.32" fill="#3e1e96" fill-opacity="0.47"/>
<circle cx="361" cy="1330.91" r="0.53" fill="#3e1e96" fill-opacity="0.69"/>
<circle cx="379.62" cy="1336.86" r="0.61" fill="#3e1e96" fill-opacity="0.65"/>
<circle cx="311.21" cy="1252.47" r="1.1" fill="#3e1e96" fill-opacity="0.5"/>
<circle cx="272.28" cy="1298.67" r="0.56" fill="#3e1e96" fill-opacity="0.7"/>
<circle cx="292.25" cy="1258.36" r="0.69" fill="#3e1e96" fill-opacity="0.85"/>
<circle cx="295.8" cy="1275.09" r="0.58" fill="#3e1e96" fill-opacity="0.74"/>
<circle cx="317.27" cy="1277.24" r="1.19" fill="#3e1e96" fill-opacity="0.62"/>
<circle cx="369.62" cy="1334.12" r="1.15" fill="#3e1e96" fill-opacity="0.67"/>
<circle cx="377.2" cy="1278.7" r="1.33" fill="#3e1e96" fill-opacity="0.95"/>
<circle cx="383.64" cy="1332.67" r="0.5" fill="#3e1e96" fill-opacity="0.93"/>
<circle cx="267.3" cy="1318.54" r="1.3" fill="#3e1e96" fill-opacity="0.53"/>
<circle cx="280.14" cy="1269.51" r="0.5" fill="#3e1e96" fill-opacity="0.83"/>
<circle cx="363.96" cy="1319.79" r="0.74" fill="#3e1e96" fill-opacity="0.64"/>
<circle cx="358.3" cy="1300.07" r="0.6" fill="#3e1e96" fill-opacity="0.6"/>
<circle cx="319.84" cy="1314.23" r="1.36" fill="#3e1e96" fill-opacity="0.69"/>
<circle cx="329.35" cy="1301.53" r="0.99" fill="#3e1e96" fill-opacity="0.6"/>
<circle cx="283.52" cy="1291.07" r="0.51" fill="#3e1e96" fill-opacity="0.59"/>
<circle cx="332.24" cy="1335.69" r="1.25" fill="#3e1e96" fill-opacity="0.73"/>
<circle cx="298.65" cy="1346.85" r="0.79" fill="#3e1e96" fill-opacity="0.65"/>
<circle cx="304.13" cy="1297.9" r="0.73" fill="#3e1e96" fill-opacity="0.83"/>
<circle cx="286.38" cy="1319.68" r="1.3" fill="#3e1e96" fill-opacity="0.85"/>
<circle cx="352.45" cy="1261.36" r="0.83" fill="#3e1e96" fill-opacity="0.8"/>
<circle cx="311.05" cy="1305.3" r="0.59" fill="#3e1e96" fill-opacity="0.92"/>
<circle cx="286.44" cy="1331.45" r="1.34" fill="#3e1e96" fill-opacity="0.47"/>
<circle cx="339.2" cy="1341.17" r="1.34" fill="#3e1e96" fill-opacity="0.75"/>
<circle cx="320.6" cy="1274.86" r="1.06" fill="#3e1e96" fill-opacity="0.88"/>
<circle cx="300.76" cy="1359.47" r="0.79" fill="#3e1e96" fill-opacity="0.65"/>
<circle cx="354.92" cy="1290.41" r="0.54" fill="#3e1e96" fill-opacity="0.45"/>
<circle cx="321.55" cy="1325.1" r="1.02" fill="#3e1e96" fill-opacity="0.84"/>
<circle cx="299.48" cy="1363.29" r="0.73" fill="#3e1e96" fill-opacity="0.6"/>
<circle cx="361.32" cy="1347.69" r="0.68" fill="#3e1e96" fill-opacity="0.82"/>
<circle cx="371.44" cy="1343.83" r="0.7" fill="#3e1e96" fill-opacity="0.56"/>
<circle cx="382.83" cy="1315.57" r="1.35" fill="#3e1e96" fill-opacity="0.87"/>
<circle cx="382.57" cy="1320.48" r="0.76" fill="#3e1e96" fill-opacity="0.56"/>
<circle cx="353.61" cy="1277.99" r="0.56" fill="#3e1e96" fill-opacity="0.85"/>
<circle cx="292.43" cy="1324.65" r="1.07" fill="#3e1e96" fill-opacity="0.51"/>
<circle cx="296.01" cy="1258.23" r="0.89" fill="#3e1e96" fill-opacity="0.68"/>
<circle cx="311.69" cy="1248.55" r="0.76" fill="#3e1e96" fill-opacity="0.79"/>
<circle cx="268.55" cy="1321.56" r="0.5" fill="#3e1e96" fill-opacity="0.75"/>
<circle cx="325.33" cy="1296.59" r="0.67" fill="#3e1e96" fill-opacity="0.47"/>
<circle cx="288.93" cy="1304.69" r="0.82" fill="#3e1e96" fill-opacity="0.47"/>
<circle cx="281.93" cy="1282.4" r="1.37" fill="#3e1e96" fill-opacity="0.81"/>
<circle cx="351.87" cy="1336.54" r="1.29" fill="#3e1e96" fill-opacity="0.45"/>
<circle cx="367.27" cy="1344.32" r="1.01" fill="#3e1e96" fill-opacity="0.62"/>
<circle cx="316.19" cy="1316.56" r="0.71" fill="#3e1e96" fill-opacity="0.59"/>
<circle cx="326.76" cy="1321.47" r="1" fill="#3e1e96" fill-opacity="0.77"/>
<circle cx="336.16" cy="1283.86" r="0.63" fill="#3e1e96" fill-opacity="0.94"/>
<circle cx="306.56" cy="1367.06" r="0.88" fill="#3e1e96" fill-opacity="0.75"/>
<circle cx="307.78" cy="1292.69" r="0.57" fill="#3e1e96" fill-opacity="0.46"/>
<circle cx="351.45" cy="1251.86" r="0.92" fill="#3e1e96" fill-opacity="0.53"/>
<circle cx="305.19" cy="1341.29" r="0.52" fill="#3e1e96" fill-opacity="0.53"/>
<circle cx="271.63" cy="1288.14" r="0.82" fill="#3e1e96" fill-opacity="0.47"/>
<circle cx="298.32" cy="1258.77" r="0.55" fill="#3e1e96" fill-opacity="0.56"/>
<circle cx="264.6" cy="1295.91" r="0.64" fill="#3e1e96" fill-opacity="0.85"/>
<circle cx="310.7" cy="1288.2" r="1.31" fill="#3e1e96" fill-opacity="0.63"/>
<circle cx="357.57" cy="1302.31" r="1.33" fill="#3e1e96" fill-opacity="0.62"/>
<circle cx="281.84" cy="1279.72" r="0.59" fill="#3e1e96" fill-opacity="0.89"/>
<circle cx="294.75" cy="1303.66" r="0.94" fill="#3e1e96" fill-opacity="0.5"/>
<circle cx="279.41" cy="1325.15" r="0.85" fill="#3e1e96" fill-opacity="0.91"/>
<circle cx="368.84" cy="1293.49" r="0.93" fill="#3e1e96" fill-opacity="0.7"/>
<circle cx="367.5" cy="1299.71" r="0.52" fill="#3e1e96" fill-opacity="0.74"/>
<circle cx="341.17" cy="1256.07" r="0.58" fill="#3e1e96" fill-opacity="0.93"/>
<circle cx="388.16" cy="1327.01" r="0.62" fill="#3e1e96" fill-opacity="0.77"/>
<circle cx="383.33" cy="1318.01" r="0.71" fill="#3e1e96" fill-opacity="0.62"/>
<circle cx="373.43" cy="1295.09" r="0.7" fill="#3e1e96" fill-opacity="0.82"/>
<circle cx="291.95" cy="1297.37" r="0.66" fill="#3e1e96" fill-opacity="0.68"/>
<circle cx="331.64" cy="1276.18" r="1.32" fill="#3e1e96" fill-opacity="0.54"/>
<circle cx="366.29" cy="1266.55" r="0.56" fill="#3e1e96" fill-opacity="0.54"/>
<circle cx="308.88" cy="1297.23" r="0.73" fill="#3e1e96" fill-opacity="0.91"/>
<circle cx="369.23" cy="1339.35" r="0.57" fill="#3e1e96" fill-opacity="0.47"/>
<circle cx="344.44" cy="1372.54" r="0.89" fill="#3e1e96" fill-opacity="0.49"/>
<circle cx="379.19" cy="1313.62" r="0.56" fill="#3e1e96" fill-opacity="0.5"/>
<circle cx="326.24" cy="1274.44" r="0.62" fill="#3e1e96" fill-opacity="0.46"/>
<circle cx="342.34" cy="1320.59" r="0.5" fill="#3e1e96" fill-opacity="0.52"/>
<circle cx="368.15" cy="1306.54" r="0.7" fill="#3e1e96" fill-opacity="0.61"/>
<circle cx="342.26" cy="1336.87" r="0.72" fill="#3e1e96" fill-opacity="0.53"/>
<circle cx="320.96" cy="1287.85" r="1.15" fill="#3e1e96" fill-opacity="0.55"/>
<circle cx="353.29" cy="1287.16" r="0.52" fill="#3e1e96" fill-opacity="0.6"/>
<circle cx="311.44" cy="1316" r="0.57" fill="#3e1e96" fill-opacity="0.7"/>
<circle cx="340.65" cy="1281.12" r="0.83" fill="#3e1e96" fill-opacity="0.93"/>
<circle cx="324.71" cy="1342.45" r="1" fill="#3e1e96" fill-opacity="0.7"/>
<circle cx="362.21" cy="1296.54" r="0.81" fill="#3e1e96" fill-opacity="0.46"/>
<circle cx="360.94" cy="1299.96" r="0.92" fill="#3e1e96" fill-opacity="0.65"/>
<circle cx="314.43" cy="1292.02" r="0.5" fill="#3e1e96" fill-opacity="0.93"/>
<circle cx="320.91" cy="1292.23" r="0.67" fill="#3e1e96" fill-opacity="0.66"/>
<circle cx="366.74" cy="1318.95" r="1.05" fill="#3e1e96" fill-opacity="0.5"/>
<circle cx="349.39" cy="1300.34" r="0.59" fill="#3e1e96" fill-opacity="0.9"/>
<circle cx="371.74" cy="1317.79" r="1.36" fill="#3e1e96" fill-opacity="0.56"/>
<circle cx="276.54" cy="1303.53" r="0.5" fill="#3e1e96" fill-opacity="0.55"/>
<circle cx="346.65" cy="1301.72" r="0.62" fill="#3e1e96" fill-opacity="0.91"/>
<circle cx="297.89" cy="1255.68" r="1.1" fill="#3e1e96" fill-opacity="0.94"/>
<circle cx="290.57" cy="1292.87" r="1.27" fill="#3e1e96" fill-opacity="0.82"/>
<circle cx="355.12" cy="1360.69" r="1.37" fill="#3e1e96" fill-opacity="0.57"/>
<circle cx="320.22" cy="1349.44" r="0.51" fill="#3e1e96" fill-opacity="0.48"/>
<circle cx="382.91" cy="1286.47" r="0.79" fill="#3e1e96" fill-opacity="0.73"/>
<circle cx="369.98" cy="1283.33" r="1.14" fill="#3e1e96" fill-opacity="0.76"/>
<circle cx="330.84" cy="1372.56" r="0.7" fill="#3e1e96" fill-opacity="0.5"/>
<circle cx="359.55" cy="1291.95" r="0.59" fill="#3e1e96" fill-opacity="0.58"/>
<circle cx="321.33" cy="1366.49" r="0.96" fill="#3e1e96" fill-opacity="0.6"/>
<circle cx="298.35" cy="1284.78" r="1.15" fill="#3e1e96" fill-opacity="0.81"/>
<circle cx="303.13" cy="1298.88" r="0.62" fill="#3e1e96" fill-opacity="0.83"/>
<circle cx="288.86" cy="1342.94" r="0.55" fill="#3e1e96" fill-opacity="0.88"/>
<circle cx="284.97" cy="1334.21" r="1" fill="#3e1e96" fill-opacity="0.64"/>
<circle cx="289.59" cy="1323.08" r="0.81" fill="#3e1e96" fill-opacity="0.46"/>
<circle cx="326.1" cy="1294.81" r="1.17" fill="#3e1e96" fill-opacity="0.76"/>
<circle cx="349.12" cy="1320.2" r="1.37" fill="#3e1e96" fill-opacity="0.94"/>
<circle cx="290.75" cy="1308.92" r="0.78" fill="#3e1e96" fill-opacity="0.75"/>
<circle cx="371.3" cy="1356.4" r="0.53" fill="#3e1e96" fill-opacity="0.63"/>
<circle cx="288.82" cy="1307.7" r="0.58" fill="#3e1e96" fill-opacity="0.78"/>
<circle cx="362.31" cy="1261.8" r="1.36" fill="#3e1e96" fill-opacity="0.66"/>
<circle cx="356.18" cy="1347.63" r="0.71" fill="#3e1e96" fill-opacity="0.5"/>
<circle cx="354.1" cy="1355.75" r="0.6" fill="#3e1e96" fill-opacity="0.8"/>
<circle cx="283.81" cy="1315.43" r="0.83" fill="#3e1e96" fill-opacity="0.55"/>
<circle cx="382.22" cy="1280.19" r="0.57" fill="#3e1e96" fill-opacity="0.9"/>
<circle cx="297.56" cy="1333.13" r="0.64" fill="#3e1e96" fill-opacity="0.69"/>
<circle cx="291.26" cy="1266.46" r="1" fill="#3e1e96" fill-opacity="0.62"/>
<circle cx="284.13" cy="1290.32" r="0.71" fill="#3e1e96" fill-opacity="0.7"/>
<circle cx="376.42" cy="1350.79" r="0.89" fill="#3e1e96" fill-opacity="0.73"/>
<circle cx="329.44" cy="1337.57" r="1.25" fill="#3e1e96" fill-opacity="0.74"/>
<circle cx="315.93" cy="1266.09" r="1" fill="#3e1e96" fill-opacity="0.51"/>
<circle cx="362.03" cy="1345.72" r="1.15" fill="#3e1e96" fill-opacity="0.75"/>
<circle cx="329.84" cy="1249.12" r="0.91" fill="#3e1e96" fill-opacity="0.77"/>
<circle cx="266.64" cy="1320.13" r="0.54" fill="#3e1e96" fill-opacity="0.65"/>
<circle cx="313.48" cy="1307.79" r="0.5" fill="#3e1e96" fill-opacity="0.9"/>
<circle cx="364.49" cy="1298.62" r="0.5" fill="#3e1e96" fill-opacity="0.79"/>
<circle cx="347.91" cy="1313.81" r="1.04" fill="#3e1e96" fill-opacity="0.67"/>
<circle cx="371.02" cy="1354.61" r="0.51" fill="#3e1e96" fill-opacity="0.91"/>
<circle cx="361.81" cy="1282.74" r="0.6" fill="#3e1e96" fill-opacity="0.49"/>
<circle cx="281.91" cy="1340.91" r="0.81" fill="#3e1e96" fill-opacity="0.47"/>
<circle cx="302.05" cy="1285.55" r="0.8" fill="#3e1e96" fill-opacity="0.94"/>
<circle cx="347.42" cy="1288.56" r="1.12" fill="#3e1e96" fill-opacity="0.59"/>
<circle cx="313.72" cy="1284.19" r="0.83" fill="#3e1e96" fill-opacity="0.5"/>
<circle cx="345.6" cy="1273.02" r="0.79" fill="#3e1e96" fill-opacity="0.9"/>
<circle cx="318.18" cy="1303.53" r="1.2" fill="#3e1e96" fill-opacity="0.56"/>
<circle cx="308.85" cy="1274.43" r="0.62" fill="#3e1e96" fill-opacity="0.74"/>
<circle cx="299.79" cy="1301.92" r="1.05" fill="#3e1e96" fill-opacity="0.79"/>
<circle cx="304.28" cy="1259.65" r="0.82" fill="#3e1e96" fill-opacity="0.75"/>
<circle cx="318.13" cy="1373.07" r="0.86" fill="#3e1e96" fill-opacity="0.82"/>
<circle cx="344.4" cy="1317.33" r="0.58" fill="#3e1e96" fill-opacity="0.6"/>
<circle cx="379.95" cy="1312.85" r="1.22" fill="#3e1e96" fill-opacity="0.59"/>
<circle cx="382.55" cy="1328.99" r="0.81" fill="#3e1e96" fill-opacity="0.52"/>
<circle cx="306.59" cy="1276.84" r="0.54" fill="#3e1e96" fill-opacity="0.67"/>
<circle cx="308.22" cy="1264.7" r="0.89" fill="#3e1e96" fill-opacity="0.84"/>
<circle cx="336.76" cy="1354.15" r="0.51" fill="#3e1e96" fill-opacity="0.47"/>
<circle cx="381.82" cy="1284.78" r="0.54" fill="#3e1e96" fill-opacity="0.62"/>
<circle cx="324.48" cy="1374.5" r="0.78" fill="#3e1e96" fill-opacity="0.94"/>
<circle cx="268.12" cy="1300.3" r="0.68" fill="#3e1e96" fill-opacity="0.62"/>
<circle cx="324.92" cy="1257.77" r="0.55" fill="#3e1e96" fill-opacity="0.74"/>
<circle cx="293.66" cy="1301.54" r="0.72" fill="#3e1e96" fill-opacity="0.59"/>
<circle cx="325.93" cy="1261.74" r="0.76" fill="#3e1e96" fill-opacity="0.66"/>
<circle cx="355.09" cy="1284.52" r="1.21" fill="#3e1e96" fill-opacity="0.52"/>
<circle cx="291.69" cy="1260.17" r="1.23" fill="#3e1e96" fill-opacity="0.69"/>
<circle cx="268.27" cy="1289.87" r="0.82" fill="#3e1e96" fill-opacity="0.53"/>
<circle cx="349.63" cy="1304.67" r="1.1" fill="#3e1e96" fill-opacity="0.46"/>
<circle cx="363.11" cy="1290.24" r="0.75" fill="#3e1e96" fill-opacity="0.59"/>
<circle cx="305.05" cy="1257.23" r="1.28" fill="#3e1e96" fill-opacity="0.7"/>
<circle cx="306.5" cy="1311.61" r="0.61" fill="#3e1e96" fill-opacity="0.51"/>
<circle cx="326.43" cy="1286.13" r="1.01" fill="#3e1e96" fill-opacity="0.67"/>
<circle cx="368.89" cy="1323.6" r="1.06" fill="#3e1e96" fill-opacity="0.71"/>
<circle cx="350.29" cy="1368.78" r="0.66" fill="#3e1e96" fill-opacity="0.56"/>
<circle cx="337.16" cy="1282.91" r="0.84" fill="#3e1e96" fill-opacity="0.7"/>
<circle cx="318.73" cy="1343.04" r="0.67" fill="#3e1e96" fill-opacity="0.65"/>
<circle cx="292.35" cy="1285.38" r="1.07" fill="#3e1e96" fill-opacity="0.91"/>
<circle cx="318.54" cy="1348.91" r="0.83" fill="#3e1e96" fill-opacity="0.67"/>
<circle cx="351.14" cy="1288.56" r="0.79" fill="#3e1e96" fill-opacity="0.75"/>
<circle cx="280.69" cy="1287.95" r="1.14" fill="#3e1e96" fill-opacity="0.83"/>
<circle cx="312.89" cy="1279.42" r="1.37" fill="#3e1e96" fill-opacity="0.92"/>
<circle cx="309.39" cy="1320.75" r="0.77" fill="#3e1e96" fill-opacity="0.76"/>
<circle cx="328.44" cy="1348.87" r="0.9" fill="#3e1e96" fill-opacity="0.61"/>
<circle cx="300.04" cy="1352.95" r="0.72" fill="#3e1e96" fill-opacity="0.62"/>
<circle cx="342.77" cy="1338.98" r="1.06" fill="#3e1e96" fill-opacity="0.49"/>
<circle cx="371.36" cy="1308.08" r="0.8" fill="#3e1e96" fill-opacity="0.6"/>
<circle cx="306.04" cy="1332.69" r="0.74" fill="#3e1e96" fill-opacity="0.88"/>
<circle cx="289.1" cy="1268.27" r="0.97" fill="#3e1e96" fill-opacity="0.75"/>
<circle cx="283.58" cy="1318.59" r="1.05" fill="#3e1e96" fill-opacity="0.74"/>
<circle cx="326.33" cy="1257.43" r="0.51" fill="#3e1e96" fill-opacity="0.91"/>
<circle cx="358.77" cy="1269.98" r="0.5" fill="#3e1e96" fill-opacity="0.83"/>
<circle cx="316.74" cy="1343.9" r="0.68" fill="#3e1e96" fill-opacity="0.78"/>
<circle cx="315.13" cy="1343.17" r="1.2" fill="#3e1e96" fill-opacity="0.67"/>
<circle cx="323.74" cy="1306.01" r="0.75" fill="#3e1e96" fill-opacity="0.78"/>
<circle cx="317.84" cy="1268.17" r="0.51" fill="#3e1e96" fill-opacity="0.92"/>
<circle cx="310.67" cy="1318.6" r="0.57" fill="#3e1e96" fill-opacity="0.62"/>
<circle cx="338.09" cy="1250.93" r="0.72" fill="#3e1e96" fill-opacity="0.69"/>
<circle cx="340.84" cy="1350.98" r="1.16" fill="#3e1e96" fill-opacity="0.46"/>
<circle cx="354.46" cy="1283.48" r="0.59" fill="#3e1e96" fill-opacity="0.49"/>
<circle cx="320.44" cy="1280.27" r="1" fill="#3e1e96" fill-opacity="0.52"/>
<circle cx="325.18" cy="1293.86" r="0.51" fill="#3e1e96" fill-opacity="0.52"/>
<circle cx="350.81" cy="1323.3" r="1.25" fill="#3e1e96" fill-opacity="0.86"/>
<circle cx="378.22" cy="1279.78" r="1.29" fill="#3e1e96" fill-opacity="0.91"/>
<circle cx="360.44" cy="1274.61" r="0.74" fill="#3e1e96" fill-opacity="0.87"/>
<circle cx="291.44" cy="1327.15" r="0.69" fill="#3e1e96" fill-opacity="0.8"/>
<circle cx="298.52" cy="1255.62" r="1.07" fill="#3e1e96" fill-opacity="0.56"/>
<circle cx="369.57" cy="1332.96" r="0.76" fill="#3e1e96" fill-opacity="0.71"/>
<circle cx="374.06" cy="1344.62" r="0.86" fill="#3e1e96" fill-opacity="0.69"/>
<circle cx="366.95" cy="1327.31" r="1.03" fill="#3e1e96" fill-opacity="0.63"/>
<circle cx="295.96" cy="1337.33" r="0.64" fill="#3e1e96" fill-opacity="0.86"/>
<circle cx="352.96" cy="1258.94" r="1.22" fill="#3e1e96" fill-opacity="0.47"/>
<circle cx="373.12" cy="1331.95" r="0.51" fill="#3e1e96" fill-opacity="0.69"/>
<circle cx="333.07" cy="1331.27" r="1.16" fill="#3e1e96" fill-opacity="0.74"/>
<circle cx="330.01" cy="1346.92" r="0.71" fill="#3e1e96" fill-opacity="0.51"/>
<circle cx="322.67" cy="1271.35" r="0.55" fill="#3e1e96" fill-opacity="0.95"/>
<circle cx="304.73" cy="1317.92" r="0.99" fill="#3e1e96" fill-opacity="0.9"/>
<circle cx="330.81" cy="1374.47" r="0.8" fill="#3e1e96" fill-opacity="0.67"/>
<circle cx="334.9" cy="1283.82" r="0.97" fill="#3e1e96" fill-opacity="0.91"/>
<circle cx="295.65" cy="1358.26" r="0.84" fill="#3e1e96" fill-opacity="0.85"/>
<circle cx="324.21" cy="1249.13" r="0.64" fill="#3e1e96" fill-opacity="0.59"/>
<circle cx="358.72" cy="1316.59" r="0.88" fill="#3e1e96" fill-opacity="0.58"/>
<circle cx="349.91" cy="1372.07" r="0.95" fill="#3e1e96" fill-opacity="0.77"/>
<circle cx="324.57" cy="1262.17" r="1" fill="#3e1e96" fill-opacity="0.86"/>
<circle cx="290.56" cy="1327.05" r="1.08" fill="#3e1e96" fill-opacity="0.9"/>
<circle cx="319.15" cy="1350.56" r="0.7" fill="#3e1e96" fill-opacity="0.75"/>
<circle cx="368.26" cy="1265.2" r="0.9" fill="#3e1e96" fill-opacity="0.48"/>
<circle cx="360.43" cy="1319.41" r="0.77" fill="#3e1e96" fill-opacity="0.69"/>
<circle cx="343.85" cy="1310.19" r="0.51" fill="#3e1e96" fill-opacity="0.5"/>
<circle cx="371.05" cy="1358.28" r="0.73" fill="#3e1e96" fill-opacity="0.94"/>
<circle cx="288.97" cy="1291.32" r="1.19" fill="#3e1e96" fill-opacity="0.58"/>
<circle cx="357.08" cy="1329.75" r="1.12" fill="#3e1e96" fill-opacity="0.95"/>
<circle cx="283.81" cy="1310.47" r="0.56" fill="#3e1e96" fill-opacity="0.59"/>
<circle cx="302.97" cy="1295.7" r="0.56" fill="#3e1e96" fill-opacity="0.93"/>
<circle cx="271.31" cy="1320.06" r="0.88" fill="#3e1e96" fill-opacity="0.85"/>
<circle cx="345.5" cy="1367.04" r="0.84" fill="#3e1e96" fill-opacity="0.76"/>
<circle cx="362.09" cy="1270.28" r="1.14" fill="#3e1e96" fill-opacity="0.5"/>
<circle cx="319.24" cy="1313.95" r="1.14" fill="#3e1e96" fill-opacity="0.81"/>
<circle cx="368.75" cy="1309.05" r="0.64" fill="#3e1e96" fill-opacity="0.83"/>
<circle cx="350.46" cy="1269.65" r="0.56" fill="#3e1e96" fill-opacity="0.54"/>
<circle cx="298.43" cy="1257.87" r="0.51" fill="#3e1e96" fill-opacity="0.95"/>
<circle cx="292.86" cy="1337.22" r="1.13" fill="#3e1e96" fill-opacity="0.53"/>
<circle cx="266.53" cy="1320.83" r="0.7" fill="#3e1e96" fill-opacity="0.68"/>
<circle cx="342.13" cy="1308.18" r="1.23" fill="#3e1e96" fill-opacity="0.82"/>
<circle cx="319.38" cy="1329.12" r="0.57" fill="#3e1e96" fill-opacity="0.69"/>
<circle cx="374.76" cy="1330.09" r="0.79" fill="#3e1e96" fill-opacity="0.73"/>
<circle cx="354.15" cy="1282.12" r="0.74" fill="#3e1e96" fill-opacity="0.79"/>
<circle cx="323.44" cy="1286.4" r="0.5" fill="#3e1e96" fill-opacity="0.75"/>
<circle cx="367.31" cy="1339.64" r="0.71" fill="#3e1e96" fill-opacity="0.65"/>
<circle cx="280.72" cy="1312.45" r="1.03" fill="#3e1e96" fill-opacity="0.69"/>
<circle cx="268.24" cy="1306.27" r="0.73" fill="#3e1e96" fill-opacity="0.78"/>
<circle cx="295.4" cy="1261.89" r="0.56" fill="#3e1e96" fill-opacity="0.48"/>
<circle cx="369.49" cy="1286.72" r="0.62" fill="#3e1e96" fill-opacity="0.56"/>
<circle cx="378.71" cy="1328.75" r="0.65" fill="#3e1e96" fill-opacity="0.51"/>
<circle cx="339.68" cy="1318.33" r="0.87" fill="#3e1e96" fill-opacity="0.62"/>
<circle cx="372.95" cy="1281.87" r="0.96" fill="#3e1e96" fill-opacity="0.64"/>
<circle cx="365.05" cy="1356.41" r="0.65" fill="#3e1e96" fill-opacity="0.57"/>
<circle cx="360.62" cy="1321.1" r="0.65" fill="#3e1e96" fill-opacity="0.92"/>
<circle cx="354.33" cy="1296.64" r="1.37" fill="#3e1e96" fill-opacity="0.82"/>
<circle cx="289.45" cy="1302.01" r="0.73" fill="#3e1e96" fill-opacity="0.52"/>
<circle cx="343.05" cy="1283.16" r="0.79" fill="#3e1e96" fill-opacity="0.56"/>
<circle cx="264.5" cy="1312.45" r="1.32" fill="#3e1e96" fill-opacity="0.56"/>
<circle cx="279.3" cy="1284.47" r="1.16" fill="#3e1e96" fill-opacity="0.84"/>
<circle cx="339.88" cy="1296.61" r="0.55" fill="#3e1e96" fill-opacity="0.61"/>
<circle cx="270.11" cy="1322.22" r="1.24" fill="#3e1e96" fill-opacity="0.76"/>
<circle cx="379.46" cy="1324.31" r="0.64" fill="#3e1e96" fill-opacity="0.57"/>
<circle cx="321.66" cy="1363.72" r="0.99" fill="#3e1e96" fill-opacity="0.6"/>
<circle cx="349.95" cy="1255.35" r="1.19" fill="#3e1e96" fill-opacity="0.46"/>
<circle cx="302.29" cy="1293.5" r="0.5" fill="#3e1e96" fill-opacity="0.82"/>
<circle cx="283.41" cy="1300.07" r="0.72" fill="#3e1e96" fill-opacity="0.57"/>
<circle cx="269.45" cy="1289.65" r="0.88" fill="#3e1e96" fill-opacity="0.46"/>
<circle cx="297.18" cy="1296.49" r="1.07" fill="#3e1e96" fill-opacity="0.52"/>
<circle cx="311.61" cy="1349.05" r="0.74" fill="#3e1e96" fill-opacity="0.55"/>
<circle cx="341.61" cy="1286.93" r="0.95" fill="#3e1e96" fill-opacity="0.93"/>
<circle cx="273.1" cy="1326.86" r="0.72" fill="#3e1e96" fill-opacity="0.49"/>
<circle cx="312.71" cy="1353.56" r="1.23" fill="#3e1e96" fill-opacity="0.56"/>
<circle cx="315.27" cy="1287.04" r="0.58" fill="#3e1e96" fill-opacity="0.48"/>
<circle cx="387.23" cy="1298.1" r="1.15" fill="#3e1e96" fill-opacity="0.49"/>
<circle cx="292.05" cy="1340.21" r="0.98" fill="#3e1e96" fill-opacity="0.85"/>
<circle cx="321.19" cy="1328.88" r="0.54" fill="#3e1e96" fill-opacity="0.53"/>
<circle cx="298.82" cy="1258.24" r="1.09" fill="#3e1e96" fill-opacity="0.86"/>
<circle cx="350.61" cy="1349.47" r="0.55" fill="#3e1e96" fill-opacity="0.61"/>
<circle cx="292.27" cy="1291.19" r="0.5" fill="#3e1e96" fill-opacity="0.67"/>
<circle cx="321.88" cy="1369.34" r="1.4" fill="#3e1e96" fill-opacity="0.69"/>
<circle cx="301.9" cy="1291.5" r="1.28" fill="#3e1e96" fill-opacity="0.59"/>
<circle cx="385.3" cy="1282.65" r="1.17" fill="#3e1e96" fill-opacity="0.9"/>
<circle cx="321.97" cy="1326.19" r="1.32" fill="#3e1e96" fill-opacity="0.94"/>
<circle cx="376.8" cy="1343.81" r="0.93" fill="#3e1e96" fill-opacity="0.69"/>
<circle cx="304.57" cy="1355.03" r="1.25" fill="#3e1e96" fill-opacity="0.62"/>
<circle cx="283.89" cy="1300.56" r="0.73" fill="#3e1e96" fill-opacity="0.6"/>
<circle cx="281.42" cy="1266.25" r="1.34" fill="#3e1e96" fill-opacity="0.73"/>
<circle cx="287" cy="1300.18" r="0.63" fill="#3e1e96" fill-opacity="0.84"/>
<circle cx="320.5" cy="1367.96" r="1.32" fill="#3e1e96" fill-opacity="0.93"/>
<circle cx="288.25" cy="1359.91" r="0.76" fill="#3e1e96" fill-opacity="0.8"/>
<circle cx="335.09" cy="1291.03" r="0.82" fill="#3e1e96" fill-opacity="0.62"/>
<circle cx="373.71" cy="1296.17" r="0.87" fill="#3e1e96" fill-opacity="0.49"/>
<circle cx="333.43" cy="1274.82" r="0.86" fill="#3e1e96" fill-opacity="0.55"/>
<circle cx="295.41" cy="1310.7" r="1.2" fill="#3e1e96" fill-opacity="0.46"/>
<circle cx="296.24" cy="1258.02" r="0.69" fill="#3e1e96" fill-opacity="0.65"/>
<circle cx="275.55" cy="1307.49" r="0.58" fill="#3e1e96" fill-opacity="0.67"/>
<circle cx="322.24" cy="1250.56" r="1.17" fill="#3e1e96" fill-opacity="0.49"/>
<circle cx="351.78" cy="1346.98" r="1.34" fill="#3e1e96" fill-opacity="0.82"/>
<circle cx="323.21" cy="1312.57" r="0.97" fill="#3e1e96" fill-opacity="0.83"/>
<circle cx="290.89" cy="1306.93" r="0.53" fill="#3e1e96" fill-opacity="0.65"/>
<circle cx="283.59" cy="1294.86" r="0.73" fill="#3e1e96" fill-opacity="0.47"/>
<circle cx="381.67" cy="1276.03" r="0.72" fill="#3e1e96" fill-opacity="0.81"/>
<circle cx="340.77" cy="1258.59" r="0.52" fill="#3e1e96" fill-opacity="0.95"/>
<circle cx="304.96" cy="1308.41" r="1.18" fill="#3e1e96" fill-opacity="0.47"/>
<circle cx="333.39" cy="1370.09" r="0.52" fill="#3e1e96" fill-opacity="0.85"/>
<circle cx="297.9" cy="1329.33" r="0.57" fill="#3e1e96" fill-opacity="0.62"/>
<circle cx="348.37" cy="1335.98" r="0.5" fill="#3e1e96" fill-opacity="0.68"/>
<circle cx="320.34" cy="1269.26" r="0.76" fill="#3e1e96" fill-opacity="0.91"/>
<circle cx="363.37" cy="1295.67" r="1.31" fill="#3e1e96" fill-opacity="0.52"/>
<circle cx="301.93" cy="1346.17" r="0.56" fill="#3e1e96" fill-opacity="0.79"/>
<circle cx="317.32" cy="1366.16" r="0.63" fill="#3e1e96" fill-opacity="0.82"/>
<circle cx="364.29" cy="1336.91" r="0.54" fill="#3e1e96" fill-opacity="0.91"/>
<circle cx="271.6" cy="1294.05" r="0.51" fill="#3e1e96" fill-opacity="0.61"/>
<circle cx="289.82" cy="1292.01" r="1.36" fill="#3e1e96" fill-opacity="0.49"/>
<circle cx="317.54" cy="1311.52" r="0.5" fill="#3e1e96" fill-opacity="0.55"/>
<circle cx="284.9" cy="1280.75" r="0.71" fill="#3e1e96" fill-opacity="0.86"/>
<circle cx="323.92" cy="1363.37" r="0.69" fill="#3e1e96" fill-opacity="0.92"/>
<circle cx="367.02" cy="1333.17" r="1.2" fill="#3e1e96" fill-opacity="0.71"/>
<circle cx="263.25" cy="1301.04" r="0.58" fill="#3e1e96" fill-opacity="0.87"/>
<circle cx="348.73" cy="1262.34" r="1.36" fill="#3e1e96" fill-opacity="0.61"/>
<circle cx="269.33" cy="1308.2" r="0.75" fill="#3e1e96" fill-opacity="0.93"/>
<circle cx="353.24" cy="1261.35" r="0.73" fill="#3e1e96" fill-opacity="0.69"/>
<circle cx="340.95" cy="1277.18" r="0.51" fill="#3e1e96" fill-opacity="0.75"/>
<circle cx="316.65" cy="1276.83" r="1.37" fill="#3e1e96" fill-opacity="0.87"/>
<circle cx="299.56" cy="1333.25" r="0.62" fill="#3e1e96" fill-opacity="0.92"/>
<circle cx="368.98" cy="1345.04" r="0.56" fill="#3e1e96" fill-opacity="0.67"/>
<circle cx="319.57" cy="1259.07" r="0.78" fill="#3e1e96" fill-opacity="0.51"/>
<circle cx="339.19" cy="1307.52" r="0.89" fill="#3e1e96" fill-opacity="0.5"/>
<circle cx="326.2" cy="1258.76" r="0.51" fill="#3e1e96" fill-opacity="0.88"/>
<circle cx="348.02" cy="1371.54" r="0.68" fill="#3e1e96" fill-opacity="0.76"/>
<circle cx="340.71" cy="1335.46" r="0.79" fill="#3e1e96" fill-opacity="0.82"/>
<circle cx="312.47" cy="1354.11" r="1.36" fill="#3e1e96" fill-opacity="0.65"/>
<circle cx="316.18" cy="1349.83" r="0.54" fill="#3e1e96" fill-opacity="0.79"/>
<circle cx="345.41" cy="1306.95" r="0.5" fill="#3e1e96" fill-opacity="0.94"/>
<circle cx="342.68" cy="1255.12" r="0.54" fill="#3e1e96" fill-opacity="0.8"/>
<circle cx="331.76" cy="1358.4" r="1.35" fill="#3e1e96" fill-opacity="0.65"/>
<circle cx="290.73" cy="1310.48" r="0.69" fill="#3e1e96" fill-opacity="0.95"/>
<circle cx="312.48" cy="1344.67" r="1.28" fill="#3e1e96" fill-opacity="0.79"/>
<circle cx="361.05" cy="1305.42" r="0.53" fill="#3e1e96" fill-opacity="0.65"/>
<circle cx="378.16" cy="1348.3" r="1.13" fill="#3e1e96" fill-opacity="0.52"/>
<circle cx="378.34" cy="1349.83" r="0.59" fill="#3e1e96" fill-opacity="0.58"/>
<circle cx="361.96" cy="1266.53" r="0.55" fill="#3e1e96" fill-opacity="0.57"/>
<circle cx="320.81" cy="1341.94" r="0.6" fill="#3e1e96" fill-opacity="0.65"/>
<circle cx="373.79" cy="1321.35" r="0.57" fill="#3e1e96" fill-opacity="0.68"/>
<circle cx="312.57" cy="1305.72" r="0.83" fill="#3e1e96" fill-opacity="0.63"/>
<circle cx="326.12" cy="1305.22" r="0.72" fill="#3e1e96" fill-opacity="0.73"/>
<circle cx="349.67" cy="1280.07" r="0.66" fill="#3e1e96" fill-opacity="0.83"/>
<circle cx="375.98" cy="1315.05" r="0.61" fill="#3e1e96" fill-opacity="0.71"/>
<circle cx="360.91" cy="1322.3" r="0.83" fill="#3e1e96" fill-opacity="0.59"/>
<circle cx="358.87" cy="1325.3" r="0.55" fill="#3e1e96" fill-opacity="0.57"/>
<circle cx="336.34" cy="1339.1" r="0.98" fill="#3e1e96" fill-opacity="0.83"/>
<circle cx="285.03" cy="1313.06" r="0.81" fill="#3e1e96" fill-opacity="0.79"/>
<circle cx="340.14" cy="1331.24" r="1.2" fill="#3e1e96" fill-opacity="0.72"/>
<circle cx="277.55" cy="1274.65" r="0.66" fill="#3e1e96" fill-opacity="0.92"/>
<circle cx="309.46" cy="1292.3" r="1.27" fill="#3e1e96" fill-opacity="0.84"/>
<circle cx="378.13" cy="1285.29" r="0.66" fill="#3e1e96" fill-opacity="0.68"/>
<circle cx="357.42" cy="1295.79" r="0.52" fill="#3e1e96" fill-opacity="0.92"/>
<circle cx="367.09" cy="1346.54" r="0.54" fill="#3e1e96" fill-opacity="0.5"/>
<circle cx="363.68" cy="1271.68" r="0.81" fill="#3e1e96" fill-opacity="0.84"/>
<circle cx="372.07" cy="1328.96" r="0.57" fill="#3e1e96" fill-opacity="0.71"/>
<circle cx="278.51" cy="1346.53" r="0.7" fill="#3e1e96" fill-opacity="0.86"/>
<circle cx="321.86" cy="1247.26" r="0.93" fill="#3e1e96" fill-opacity="0.47"/>
<circle cx="266.45" cy="1287.56" r="0.95" fill="#3e1e96" fill-opacity="0.8"/>
<circle cx="355.71" cy="1350.51" r="0.51" fill="#3e1e96" fill-opacity="0.47"/>
<circle cx="348.66" cy="1307.65" r="0.59" fill="#3e1e96" fill-opacity="0.93"/>
<circle cx="296.06" cy="1275.31" r="0.59" fill="#3e1e96" fill-opacity="0.92"/>
<circle cx="285.93" cy="1331.28" r="1.33" fill="#3e1e96" fill-opacity="0.67"/>
<circle cx="291.95" cy="1287.54" r="1.16" fill="#3e1e96" fill-opacity="0.68"/>
<circle cx="297.77" cy="1364.24" r="0.88" fill="#3e1e96" fill-opacity="0.62"/>
<circle cx="362.08" cy="1337.13" r="0.67" fill="#3e1e96" fill-opacity="0.64"/>
<circle cx="310.03" cy="1326.87" r="0.59" fill="#3e1e96" fill-opacity="0.54"/>
<circle cx="343.34" cy="1297.71" r="0.58" fill="#3e1e96" fill-opacity="0.65"/>
<circle cx="335.12" cy="1303.12" r="1.05" fill="#3e1e96" fill-opacity="0.61"/>
<circle cx="335.49" cy="1350.01" r="0.63" fill="#3e1e96" fill-opacity="0.79"/>
<circle cx="321.2" cy="1295.24" r="0.8" fill="#3e1e96" fill-opacity="0.61"/>
<circle cx="304.62" cy="1281.08" r="1.14" fill="#3e1e96" fill-opacity="0.87"/>
<circle cx="285.33" cy="1324.09" r="0.53" fill="#3e1e96" fill-opacity="0.82"/>
<circle cx="288.16" cy="1263.13" r="0.53" fill="#3e1e96" fill-opacity="0.91"/>
<circle cx="297.63" cy="1310.11" r="1.39" fill="#3e1e96" fill-opacity="0.64"/>
<circle cx="380.73" cy="1339.35" r="0.71" fill="#3e1e96" fill-opacity="0.58"/>
<circle cx="334.87" cy="1288.63" r="0.58" fill="#3e1e96" fill-opacity="0.49"/>
<circle cx="319.3" cy="1288.87" r="0.86" fill="#3e1e96" fill-opacity="0.71"/>
<circle cx="307.25" cy="1308.73" r="0.53" fill="#3e1e96" fill-opacity="0.55"/>
<circle cx="303.24" cy="1260.38" r="0.54" fill="#3e1e96" fill-opacity="0.72"/>
<circle cx="342.74" cy="1349.66" r="1.26" fill="#3e1e96" fill-opacity="0.89"/>
<circle cx="378.91" cy="1315.96" r="0.79" fill="#3e1e96" fill-opacity="0.77"/>
<circle cx="335.13" cy="1307.11" r="0.51" fill="#3e1e96" fill-opacity="0.84"/>
<circle cx="289.94" cy="1314.42" r="1.2" fill="#3e1e96" fill-opacity="0.78"/>
<circle cx="363.59" cy="1260.92" r="1.09" fill="#3e1e96" fill-opacity="0.59"/>
<circle cx="384.22" cy="1279.33" r="1.02" fill="#3e1e96" fill-opacity="0.71"/>
<circle cx="328.3" cy="1335.15" r="0.5" fill="#3e1e96" fill-opacity="0.73"/>
<circle cx="365.49" cy="1310.16" r="0.56" fill="#3e1e96" fill-opacity="0.87"/>
<circle cx="293.21" cy="1364.86" r="1.13" fill="#3e1e96" fill-opacity="0.6"/>
<circle cx="352.22" cy="1302.51" r="0.75" fill="#3e1e96" fill-opacity="0.7"/>
<circle cx="304.44" cy="1308.54" r="0.64" fill="#3e1e96" fill-opacity="0.84"/>
<circle cx="331.75" cy="1267.48" r="0.59" fill="#3e1e96" fill-opacity="0.49"/>
<circle cx="286.93" cy="1326.28" r="1.28" fill="#3e1e96" fill-opacity="0.52"/>
<circle cx="273.52" cy="1313.05" r="0.6" fill="#3e1e96" fill-opacity="0.9"/>
<circle cx="298.31" cy="1356.83" r="1.18" fill="#3e1e96" fill-opacity="0.81"/>
<circle cx="278.83" cy="1352.37" r="1.35" fill="#3e1e96" fill-opacity="0.61"/>
<circle cx="288.13" cy="1361.54" r="0.79" fill="#3e1e96" fill-opacity="0.76"/>
<circle cx="301.35" cy="1262.55" r="1.09" fill="#3e1e96" fill-opacity="0.61"/>
<circle cx="318.24" cy="1292.66" r="1.02" fill="#3e1e96" fill-opacity="0.83"/>
<circle cx="342.1" cy="1372.79" r="0.89" fill="#3e1e96" fill-opacity="0.56"/>
<circle cx="326.63" cy="1255.95" r="0.72" fill="#3e1e96" fill-opacity="0.66"/>
<circle cx="301.25" cy="1287.95" r="0.52" fill="#3e1e96" fill-opacity="0.88"/>
<circle cx="338.93" cy="1328.46" r="0.55" fill="#3e1e96" fill-opacity="0.88"/>
<circle cx="314.25" cy="1273.84" r="0.62" fill="#3e1e96" fill-opacity="0.92"/>
<circle cx="293.96" cy="1311" r="0.86" fill="#3e1e96" fill-opacity="0.5"/>
<circle cx="388.39" cy="1286.72" r="1.33" fill="#3e1e96" fill-opacity="0.51"/>
<circle cx="304.33" cy="1286.88" r="0.75" fill="#3e1e96" fill-opacity="0.64"/>
<circle cx="326.83" cy="1271.7" r="0.73" fill="#3e1e96" fill-opacity="0.46"/>
<circle cx="283.23" cy="1272.91" r="0.79" fill="#3e1e96" fill-opacity="0.94"/>
<circle cx="305.68" cy="1253.04" r="1.23" fill="#3e1e96" fill-opacity="0.65"/>
<circle cx="272.76" cy="1276.89" r="0.59" fill="#3e1e96" fill-opacity="0.47"/>
<circle cx="349" cy="1342.61" r="0.51" fill="#3e1e96" fill-opacity="0.55"/>
<circle cx="320.27" cy="1375.74" r="0.53" fill="#3e1e96" fill-opacity="0.93"/>
<circle cx="391.52" cy="1299.37" r="0.56" fill="#3e1e96" fill-opacity="0.71"/>
<circle cx="338.63" cy="1278.95" r="0.83" fill="#3e1e96" fill-opacity="0.8"/>
<circle cx="320.4" cy="1280.67" r="0.84" fill="#3e1e96" fill-opacity="0.54"/>
<circle cx="283.45" cy="1331.64" r="1.24" fill="#3e1e96" fill-opacity="0.88"/>
<circle cx="282.98" cy="1288.08" r="1.19" fill="#3e1e96" fill-opacity="0.69"/>
<circle cx="335.65" cy="1272.09" r="0.54" fill="#3e1e96" fill-opacity="0.8"/>
<circle cx="319.11" cy="1304.08" r="0.58" fill="#3e1e96" fill-opacity="0.79"/>
<circle cx="356.44" cy="1284.06" r="0.5" fill="#3e1e96" fill-opacity="0.86"/>
<circle cx="343.43" cy="1263.75" r="1.24" fill="#3e1e96" fill-opacity="0.66"/>
<circle cx="286.89" cy="1311.75" r="0.98" fill="#3e1e96" fill-opacity="0.79"/>
<circle cx="318.11" cy="1320.86" r="0.88" fill="#3e1e96" fill-opacity="0.79"/>
<circle cx="288.28" cy="1268.43" r="1.16" fill="#3e1e96" fill-opacity="0.82"/>
<circle cx="303.01" cy="1353.79" r="1.13" fill="#3e1e96" fill-opacity="0.73"/>
<circle cx="349.76" cy="1279.74" r="0.81" fill="#3e1e96" fill-opacity="0.61"/>
<circle cx="318.77" cy="1370.04" r="0.71" fill="#3e1e96" fill-opacity="0.82"/>
<circle cx="366.14" cy="1281.73" r="0.7" fill="#3e1e96" fill-opacity="0.51"/>
<circle cx="290.99" cy="1355.78" r="0.53" fill="#3e1e96" fill-opacity="0.52"/>
<circle cx="285.79" cy="1275.89" r="1.24" fill="#3e1e96" fill-opacity="0.74"/>
<circle cx="360" cy="1314.8" r="0.8" fill="#3e1e96" fill-opacity="0.77"/>
<circle cx="301.46" cy="1276.84" r="1.31" fill="#3e1e96" fill-opacity="0.75"/>
<circle cx="357.11" cy="1347.54" r="0.73" fill="#3e1e96" fill-opacity="0.65"/>
<circle cx="339.16" cy="1332.45" r="0.69" fill="#3e1e96" fill-opacity="0.94"/>
<circle cx="366.36" cy="1360.58" r="0.83" fill="#3e1e96" fill-opacity="0.65"/>
<circle cx="352.9" cy="1266.79" r="0.96" fill="#3e1e96" fill-opacity="0.89"/>
<circle cx="355.78" cy="1363.61" r="1.29" fill="#3e1e96" fill-opacity="0.94"/>
<circle cx="310.86" cy="1299.94" r="0.88" fill="#3e1e96" fill-opacity="0.56"/>
<circle cx="342.1" cy="1308.84" r="0.6" fill="#3e1e96" fill-opacity="0.84"/>
<circle cx="270.13" cy="1297.21" r="0.53" fill="#3e1e96" fill-opacity="0.74"/>
<circle cx="346.63" cy="1350.89" r="0.56" fill="#3e1e96" fill-opacity="0.52"/>
<circle cx="273.53" cy="1305.21" r="1.22" fill="#3e1e96" fill-opacity="0.76"/>
<circle cx="369.65" cy="1319.78" r="0.94" fill="#3e1e96" fill-opacity="0.77"/>
<circle cx="333.72" cy="1364.76" r="0.74" fill="#3e1e96" fill-opacity="0.68"/>
<circle cx="362.92" cy="1295.06" r="1.28" fill="#3e1e96" fill-opacity="0.8"/>
<circle cx="321.57" cy="1248.16" r="1.24" fill="#3e1e96" fill-opacity="0.59"/>
<circle cx="289.37" cy="1319.25" r="0.52" fill="#3e1e96" fill-opacity="0.6"/>
<circle cx="363.9" cy="1287.88" r="1.14" fill="#3e1e96" fill-opacity="0.76"/>
<circle cx="350.44" cy="1338.04" r="1.26" fill="#3e1e96" fill-opacity="0.88"/>
<circle cx="277.44" cy="1295.78" r="0.55" fill="#3e1e96" fill-opacity="0.5"/>
<circle cx="366.77" cy="1294.59" r="0.86" fill="#3e1e96" fill-opacity="0.72"/>
<circle cx="320.73" cy="1277.02" r="0.92" fill="#3e1e96" fill-opacity="0.48"/>
<circle cx="296.78" cy="1309.99" r="0.66" fill="#3e1e96" fill-opacity="0.88"/>
<circle cx="281.11" cy="1289.17" r="0.58" fill="#3e1e96" fill-opacity="0.7"/>
<circle cx="285.36" cy="1292.4" r="0.96" fill="#3e1e96" fill-opacity="0.82"/>
<circle cx="338.23" cy="1296.09" r="1.32" fill="#3e1e96" fill-opacity="0.83"/>
<circle cx="323.86" cy="1260.44" r="1.24" fill="#3e1e96" fill-opacity="0.52"/>
<circle cx="289.57" cy="1352.77" r="0.94" fill="#3e1e96" fill-opacity="0.48"/>
<circle cx="342.77" cy="1293.91" r="0.71" fill="#3e1e96" fill-opacity="0.83"/>
<circle cx="354.29" cy="1294.73" r="1.18" fill="#3e1e96" fill-opacity="0.57"/>
<circle cx="307.46" cy="1259.26" r="0.64" fill="#3e1e96" fill-opacity="0.83"/>
<circle cx="375.75" cy="1288.63" r="0.83" fill="#3e1e96" fill-opacity="0.74"/>
<circle cx="382.81" cy="1311.14" r="0.72" fill="#3e1e96" fill-opacity="0.94"/>
<circle cx="345.03" cy="1326.1" r="0.79" fill="#3e1e96" fill-opacity="0.9"/>
<circle cx="279.97" cy="1345.39" r="0.52" fill="#3e1e96" fill-opacity="0.74"/>
<circle cx="344.76" cy="1315.17" r="0.94" fill="#3e1e96" fill-opacity="0.89"/>
<circle cx="373.86" cy="1273.86" r="1.3" fill="#3e1e96" fill-opacity="0.55"/>
<circle cx="380.1" cy="1288.43" r="0.6" fill="#3e1e96" fill-opacity="0.71"/>
<circle cx="326.62" cy="1342.29" r="0.95" fill="#3e1e96" fill-opacity="0.5"/>
<circle cx="367.19" cy="1272.57" r="1.14" fill="#3e1e96" fill-opacity="0.77"/>
<circle cx="361.15" cy="1355.94" r="1.06" fill="#3e1e96" fill-opacity="0.68"/>
<circle cx="376.9" cy="1283.45" r="1.13" fill="#3e1e96" fill-opacity="0.81"/>
<circle cx="293.3" cy="1297.08" r="0.69" fill="#3e1e96" fill-opacity="0.5"/>
<circle cx="291.05" cy="1267.23" r="1.14" fill="#3e1e96" fill-opacity="0.88"/>
<circle cx="289.41" cy="1292.51" r="0.61" fill="#3e1e96" fill-opacity="0.95"/>
<circle cx="270.77" cy="1302.23" r="1.18" fill="#3e1e96" fill-opacity="0.77"/>
<circle cx="355.32" cy="1354.06" r="0.54" fill="#3e1e96" fill-opacity="0.82"/>
<circle cx="387.74" cy="1330.35" r="0.57" fill="#3e1e96" fill-opacity="0.82"/>
<circle cx="332.1" cy="1343.17" r="0.67" fill="#3e1e96" fill-opacity="0.85"/>
<circle cx="321.29" cy="1258.11" r="0.82" fill="#3e1e96" fill-opacity="0.69"/>
<circle cx="316.99" cy="1293.65" r="1.39" fill="#3e1e96" fill-opacity="0.49"/>
<circle cx="311.15" cy="1277.38" r="1.38" fill="#3e1e96" fill-opacity="0.53"/>
<circle cx="288.8" cy="1361.1" r="0.97" fill="#3e1e96" fill-opacity="0.86"/>
<circle cx="361.24" cy="1339.76" r="0.9" fill="#3e1e96" fill-opacity="0.65"/>
<circle cx="359.81" cy="1259.8" r="1.05" fill="#3e1e96" fill-opacity="0.47"/>
<circle cx="309.6" cy="1370.04" r="0.54" fill="#3e1e96" fill-opacity="0.77"/>
<circle cx="345.49" cy="1333.79" r="0.64" fill="#3e1e96" fill-opacity="0.69"/>
<circle cx="327.63" cy="1258.1" r="0.64" fill="#3e1e96" fill-opacity="0.78"/>
<circle cx="325" cy="1297.7" r="0.82" fill="#3e1e96" fill-opacity="0.87"/>
<circle cx="331.58" cy="1268.74" r="0.95" fill="#3e1e96" fill-opacity="0.5"/>
<circle cx="316.95" cy="1292.76" r="1.08" fill="#3e1e96" fill-opacity="0.82"/>
<circle cx="292" cy="1361.38" r="0.9" fill="#3e1e96" fill-opacity="0.79"/>
<circle cx="265.67" cy="1300.82" r="1.32" fill="#3e1e96" fill-opacity="0.53"/>
<circle cx="285.2" cy="1315.21" r="0.51" fill="#3e1e96" fill-opacity="0.59"/>
<circle cx="324.76" cy="1320.42" r="0.64" fill="#3e1e96" fill-opacity="0.74"/>
<circle cx="376.91" cy="1335.35" r="0.55" fill="#3e1e96" fill-opacity="0.57"/>
<circle cx="274.36" cy="1315.73" r="0.58" fill="#3e1e96" fill-opacity="0.7"/>
<circle cx="300.88" cy="1351.58" r="0.68" fill="#3e1e96" fill-opacity="0.67"/>
<circle cx="273.31" cy="1333.55" r="0.51" fill="#3e1e96" fill-opacity="0.91"/>
<circle cx="332.72" cy="1336.23" r="1.39" fill="#3e1e96" fill-opacity="0.94"/>
<circle cx="335.75" cy="1252.49" r="0.69" fill="#3e1e96" fill-opacity="0.92"/>
<circle cx="280.03" cy="1303.36" r="0.96" fill="#3e1e96" fill-opacity="0.72"/>
<circle cx="302.97" cy="1333.07" r="1.16" fill="#3e1e96" fill-opacity="0.92"/>
<circle cx="311.86" cy="1319.95" r="0.84" fill="#3e1e96" fill-opacity="0.54"/>
<circle cx="328.44" cy="1277.71" r="0.52" fill="#3e1e96" fill-opacity="0.89"/>
<circle cx="304.78" cy="1344.78" r="1.03" fill="#3e1e96" fill-opacity="0.6"/>
<circle cx="346.23" cy="1277.59" r="1.13" fill="#3e1e96" fill-opacity="0.57"/>
<circle cx="281.93" cy="1302.04" r="0.52" fill="#3e1e96" fill-opacity="0.78"/>
<circle cx="336.22" cy="1291.94" r="0.69" fill="#3e1e96" fill-opacity="0.62"/>
<circle cx="310.6" cy="1340.87" r="0.58" fill="#3e1e96" fill-opacity="0.68"/>
<circle cx="357.4" cy="1278.11" r="0.73" fill="#3e1e96" fill-opacity="0.76"/>
<circle cx="343.11" cy="1306.68" r="0.94" fill="#3e1e96" fill-opacity="0.75"/>
<circle cx="380.32" cy="1330.92" r="0.64" fill="#3e1e96" fill-opacity="0.95"/>
<circle cx="338.05" cy="1344.79" r="0.85" fill="#3e1e96" fill-opacity="0.65"/>
<circle cx="364.75" cy="1337.06" r="0.97" fill="#3e1e96" fill-opacity="0.52"/>
<circle cx="324.81" cy="1356.25" r="1.02" fill="#3e1e96" fill-opacity="0.78"/>
<circle cx="345.74" cy="1357.71" r="0.54" fill="#3e1e96" fill-opacity="0.64"/>
<circle cx="299.61" cy="1319.22" r="0.55" fill="#3e1e96" fill-opacity="0.84"/>
<circle cx="320.69" cy="1283.52" r="0.91" fill="#3e1e96" fill-opacity="0.59"/>
<circle cx="331.09" cy="1282.08" r="0.6" fill="#3e1e96" fill-opacity="0.83"/>
<circle cx="321.36" cy="1248.49" r="0.51" fill="#3e1e96" fill-opacity="0.78"/>
<circle cx="376.38" cy="1269.7" r="0.65" fill="#3e1e96" fill-opacity="0.91"/>
<circle cx="307.78" cy="1273.12" r="1.2" fill="#3e1e96" fill-opacity="0.89"/>
<circle cx="286.15" cy="1308.93" r="0.5" fill="#3e1e96" fill-opacity="0.66"/>
<circle cx="376.09" cy="1327.96" r="1.37" fill="#3e1e96" fill-opacity="0.77"/>
<circle cx="300.68" cy="1299.9" r="0.63" fill="#3e1e96" fill-opacity="0.64"/>
<circle cx="380.03" cy="1328.1" r="0.6" fill="#3e1e96" fill-opacity="0.8"/>
<circle cx="321.61" cy="1314.09" r="0.93" fill="#3e1e96" fill-opacity="0.66"/>
<circle cx="335.75" cy="1326.31" r="0.7" fill="#3e1e96" fill-opacity="0.91"/>
<circle cx="344.69" cy="1305.7" r="0.89" fill="#3e1e96" fill-opacity="0.5"/>
<circle cx="360.98" cy="1361.21" r="0.65" fill="#3e1e96" fill-opacity="0.46"/>
<circle cx="292.83" cy="1342.04" r="1.36" fill="#3e1e96" fill-opacity="0.92"/>
<circle cx="287.49" cy="1284.06" r="0.72" fill="#3e1e96" fill-opacity="0.58"/>
<circle cx="268.69" cy="1313.98" r="0.88" fill="#3e1e96" fill-opacity="0.53"/>
<circle cx="273.03" cy="1321.12" r="0.72" fill="#3e1e96" fill-opacity="0.78"/>
<circle cx="282.84" cy="1294.71" r="1.16" fill="#3e1e96" fill-opacity="0.77"/>
<circle cx="268.94" cy="1284.09" r="0.55" fill="#3e1e96" fill-opacity="0.49"/>
<circle cx="338.43" cy="1342.83" r="0.57" fill="#3e1e96" fill-opacity="0.59"/>
<circle cx="382.62" cy="1330.19" r="0.65" fill="#3e1e96" fill-opacity="0.56"/>
<circle cx="336.74" cy="1253.31" r="1.06" fill="#3e1e96" fill-opacity="0.64"/>
<circle cx="327.39" cy="1257.44" r="1.3" fill="#3e1e96" fill-opacity="0.56"/>
<circle cx="377.1" cy="1340.36" r="1.08" fill="#3e1e96" fill-opacity="0.85"/>
<circle cx="334.05" cy="1248.59" r="0.54" fill="#3e1e96" fill-opacity="0.89"/>
<circle cx="295.33" cy="1331.27" r="1.32" fill="#3e1e96" fill-opacity="0.69"/>
<circle cx="368.11" cy="1309.48" r="0.53" fill="#3e1e96" fill-opacity="0.89"/>
<circle cx="390.41" cy="1309.04" r="0.52" fill="#3e1e96" fill-opacity="0.67"/>
<circle cx="323.94" cy="1250.09" r="1.18" fill="#3e1e96" fill-opacity="0.95"/>
<circle cx="315.19" cy="1320.08" r="0.77" fill="#3e1e96" fill-opacity="0.7"/>
<circle cx="358.14" cy="1253.72" r="0.95" fill="#3e1e96" fill-opacity="0.49"/>
<circle cx="345.08" cy="1325.03" r="1.15" fill="#3e1e96" fill-opacity="0.46"/>
<circle cx="278.22" cy="1293.34" r="0.88" fill="#3e1e96" fill-opacity="0.9"/>
<circle cx="321.14" cy="1272.86" r="0.57" fill="#3e1e96" fill-opacity="0.91"/>
<circle cx="289.93" cy="1328.26" r="0.92" fill="#3e1e96" fill-opacity="0.71"/>
<circle cx="367.24" cy="1262.52" r="0.53" fill="#3e1e96" fill-opacity="0.54"/>
<circle cx="321.77" cy="1253.85" r="0.68" fill="#3e1e96" fill-opacity="0.6"/>
<circle cx="353" cy="1284.07" r="0.78" fill="#3e1e96" fill-opacity="0.61"/>
<circle cx="281.9" cy="1264.02" r="0.63" fill="#3e1e96" fill-opacity="0.71"/>
<circle cx="296.35" cy="1360.51" r="0.53" fill="#3e1e96" fill-opacity="0.54"/>
<circle cx="383.17" cy="1287.71" r="0.7" fill="#3e1e96" fill-opacity="0.46"/>
<circle cx="299.34" cy="1331.71" r="0.54" fill="#3e1e96" fill-opacity="0.78"/>
<circle cx="287.19" cy="1344.93" r="0.52" fill="#3e1e96" fill-opacity="0.64"/>
<circle cx="292.3" cy="1318.65" r="0.61" fill="#3e1e96" fill-opacity="0.7"/>
<circle cx="353.25" cy="1352.06" r="1.39" fill="#3e1e96" fill-opacity="0.88"/>
<circle cx="305.72" cy="1359.6" r="0.5" fill="#3e1e96" fill-opacity="0.52"/>
<circle cx="388.43" cy="1321.69" r="0.81" fill="#3e1e96" fill-opacity="0.82"/>
<circle cx="357.47" cy="1361.69" r="1.21" fill="#3e1e96" fill-opacity="0.8"/>
<circle cx="346.21" cy="1348.23" r="0.5" fill="#3e1e96" fill-opacity="0.73"/>
<circle cx="280.07" cy="1335.38" r="0.98" fill="#3e1e96" fill-opacity="0.89"/>
<circle cx="300.25" cy="1256.74" r="0.95" fill="#3e1e96" fill-opacity="0.92"/>
<circle cx="278.6" cy="1297.9" r="1.14" fill="#3e1e96" fill-opacity="0.85"/>
<circle cx="333.17" cy="1332.13" r="0.75" fill="#3e1e96" fill-opacity="0.66"/>
<circle cx="381.58" cy="1318.78" r="0.69" fill="#3e1e96" fill-opacity="0.61"/>
<circle cx="355.17" cy="1265.06" r="0.61" fill="#3e1e96" fill-opacity="0.57"/>
<circle cx="325.37" cy="1250.86" r="1.25" fill="#3e1e96" fill-opacity="0.82"/>
<circle cx="267.93" cy="1285.07" r="0.59" fill="#3e1e96" fill-opacity="0.7"/>
<circle cx="350.92" cy="1309.84" r="1.39" fill="#3e1e96" fill-opacity="0.73"/>
<circle cx="341.52" cy="1331.87" r="1.24" fill="#3e1e96" fill-opacity="0.48"/>
<circle cx="282.41" cy="1344" r="1.02" fill="#3e1e96" fill-opacity="0.86"/>
<circle cx="269.53" cy="1294.58" r="0.99" fill="#3e1e96" fill-opacity="0.81"/>
<circle cx="345.2" cy="1263.36" r="0.58" fill="#3e1e96" fill-opacity="0.47"/>
<circle cx="328.22" cy="1300.64" r="1.23" fill="#3e1e96" fill-opacity="0.73"/>
<circle cx="364.01" cy="1342.63" r="0.91" fill="#3e1e96" fill-opacity="0.71"/>
<circle cx="372.4" cy="1307.81" r="1.35" fill="#3e1e96" fill-opacity="0.75"/>
<circle cx="386.81" cy="1295.62" r="0.74" fill="#3e1e96" fill-opacity="0.85"/>
<circle cx="388.57" cy="1308.16" r="0.87" fill="#3e1e96" fill-opacity="0.6"/>
<circle cx="280.89" cy="1267.17" r="0.54" fill="#3e1e96" fill-opacity="0.76"/>
<circle cx="350.71" cy="1259.1" r="1.21" fill="#3e1e96" fill-opacity="0.53"/>
<circle cx="283.28" cy="1276.21" r="0.7" fill="#3e1e96" fill-opacity="0.71"/>
<circle cx="269.17" cy="1340.07" r="0.83" fill="#3e1e96" fill-opacity="0.47"/>
<circle cx="336.86" cy="1280.42" r="0.55" fill="#3e1e96" fill-opacity="0.81"/>
<circle cx="291.63" cy="1269.2" r="1.37" fill="#3e1e96" fill-opacity="0.5"/>
<circle cx="367.24" cy="1301.88" r="0.95" fill="#3e1e96" fill-opacity="0.56"/>
<circle cx="282.34" cy="1302.35" r="1.02" fill="#3e1e96" fill-opacity="0.93"/>
<circle cx="323.18" cy="1368.71" r="0.94" fill="#3e1e96" fill-opacity="0.45"/>
<circle cx="330.32" cy="1350.31" r="0.83" fill="#3e1e96" fill-opacity="0.48"/>
<circle cx="382.22" cy="1297.9" r="0.5" fill="#3e1e96" fill-opacity="0.74"/>
<circle cx="338.06" cy="1304.57" r="0.57" fill="#3e1e96" fill-opacity="0.53"/>
<circle cx="288.02" cy="1285.29" r="0.6" fill="#3e1e96" fill-opacity="0.59"/>
<circle cx="314.26" cy="1269.41" r="0.5" fill="#3e1e96" fill-opacity="0.81"/>
<circle cx="346.41" cy="1280.08" r="0.6" fill="#3e1e96" fill-opacity="0.81"/>
<circle cx="283.48" cy="1341.67" r="1.18" fill="#3e1e96" fill-opacity="0.92"/>
<circle cx="291.08" cy="1340.64" r="1.33" fill="#3e1e96" fill-opacity="0.59"/>
<circle cx="325.59" cy="1252.23" r="0.84" fill="#3e1e96" fill-opacity="0.5"/>
<circle cx="338.14" cy="1337.43" r="1.01" fill="#3e1e96" fill-opacity="0.82"/>
<circle cx="376.17" cy="1279.73" r="1.19" fill="#3e1e96" fill-opacity="0.53"/>
<circle cx="296.25" cy="1309.97" r="0.57" fill="#3e1e96" fill-opacity="0.81"/>
<circle cx="359.28" cy="1292.3" r="0.76" fill="#3e1e96" fill-opacity="0.95"/>
<circle cx="356.66" cy="1357.56" r="1.15" fill="#3e1e96" fill-opacity="0.79"/>
<circle cx="319.37" cy="1248.12" r="0.86" fill="#3e1e96" fill-opacity="0.48"/>
<circle cx="346.21" cy="1320.91" r="0.52" fill="#3e1e96" fill-opacity="0.82"/>
<circle cx="384.38" cy="1291.13" r="0.98" fill="#3e1e96" fill-opacity="0.62"/>
<circle cx="293.08" cy="1288.73" r="0.91" fill="#3e1e96" fill-opacity="0.88"/>
<circle cx="353.22" cy="1282.96" r="0.52" fill="#3e1e96" fill-opacity="0.75"/>
<circle cx="363.41" cy="1343.22" r="0.8" fill="#3e1e96" fill-opacity="0.86"/>
<circle cx="314.86" cy="1270.62" r="0.68" fill="#3e1e96" fill-opacity="0.65"/>
<circle cx="280.56" cy="1276.46" r="0.61" fill="#3e1e96" fill-opacity="0.91"/>
<circle cx="338.12" cy="1265.31" r="1.25" fill="#3e1e96" fill-opacity="0.86"/>
<circle cx="327.73" cy="1274.43" r="0.88" fill="#3e1e96" fill-opacity="0.78"/>
<circle cx="319.42" cy="1366.74" r="0.51" fill="#3e1e96" fill-opacity="0.47"/>
<circle cx="336.09" cy="1365.25" r="0.62" fill="#3e1e96" fill-opacity="0.69"/>
<circle cx="312.03" cy="1355.42" r="0.68" fill="#3e1e96" fill-opacity="0.52"/>
<circle cx="358.12" cy="1297.56" r="0.54" fill="#3e1e96" fill-opacity="0.64"/>
<circle cx="304.22" cy="1272.4" r="1.27" fill="#3e1e96" fill-opacity="0.9"/>
<circle cx="314.83" cy="1251.29" r="0.5" fill="#3e1e96" fill-opacity="0.89"/>
<circle cx="321.76" cy="1277.72" r="1.08" fill="#3e1e96" fill-opacity="0.79"/>
<circle cx="357.86" cy="1323.36" r="1" fill="#3e1e96" fill-opacity="0.52"/>
<circle cx="317.06" cy="1341.51" r="0.61" fill="#3e1e96" fill-opacity="0.78"/>
<circle cx="345.02" cy="1316.16" r="1.34" fill="#3e1e96" fill-opacity="0.47"/>
<circle cx="310" cy="1265.21" r="0.8" fill="#3e1e96" fill-opacity="0.92"/>
<circle cx="373.25" cy="1297.33" r="1.04" fill="#3e1e96" fill-opacity="0.72"/>
<circle cx="306.41" cy="1295.6" r="1.08" fill="#3e1e96" fill-opacity="0.6"/>
<circle cx="311.88" cy="1321.76" r="1.13" fill="#3e1e96" fill-opacity="0.59"/>
<circle cx="303.96" cy="1329.23" r="0.55" fill="#3e1e96" fill-opacity="0.46"/>
<circle cx="285.25" cy="1304.85" r="0.57" fill="#3e1e96" fill-opacity="0.49"/>
<circle cx="340.82" cy="1299.67" r="0.77" fill="#3e1e96" fill-opacity="0.49"/>
<circle cx="330.76" cy="1325.44" r="1.19" fill="#3e1e96" fill-opacity="0.51"/>
<circle cx="301.4" cy="1344.41" r="0.69" fill="#3e1e96" fill-opacity="0.55"/>
<circle cx="289.49" cy="1274.25" r="1.27" fill="#3e1e96" fill-opacity="0.59"/>
<circle cx="326.19" cy="1351.39" r="0.91" fill="#3e1e96" fill-opacity="0.72"/>
<circle cx="372.36" cy="1285.67" r="1.18" fill="#3e1e96" fill-opacity="0.77"/>
<circle cx="320.75" cy="1274.46" r="0.57" fill="#3e1e96" fill-opacity="0.55"/>
<circle cx="336.38" cy="1317.32" r="1.09" fill="#3e1e96" fill-opacity="0.64"/>
<circle cx="343.09" cy="1356.56" r="0.68" fill="#3e1e96" fill-opacity="0.61"/>
<circle cx="364.94" cy="1275.86" r="1.08" fill="#3e1e96" fill-opacity="0.68"/>
<circle cx="353.04" cy="1308.64" r="1.11" fill="#3e1e96" fill-opacity="0.86"/>
<circle cx="356.8" cy="1305.15" r="1.21" fill="#3e1e96" fill-opacity="0.5"/>
<circle cx="333.14" cy="1338.46" r="0.91" fill="#3e1e96" fill-opacity="0.45"/>
<circle cx="269.19" cy="1297.81" r="1.2" fill="#3e1e96" fill-opacity="0.83"/>
<circle cx="354.45" cy="1276.8" r="0.92" fill="#3e1e96" fill-opacity="0.94"/>
<circle cx="298.27" cy="1278.45" r="0.62" fill="#3e1e96" fill-opacity="0.64"/>
<circle cx="275.31" cy="1307.81" r="1.13" fill="#3e1e96" fill-opacity="0.65"/>
<circle cx="353.53" cy="1260.68" r="0.66" fill="#3e1e96" fill-opacity="0.78"/>
<circle cx="348.13" cy="1361.23" r="0.93" fill="#3e1e96" fill-opacity="0.91"/>
<circle cx="338.84" cy="1369.76" r="1.35" fill="#3e1e96" fill-opacity="0.91"/>
<circle cx="348.12" cy="1292.01" r="0.58" fill="#3e1e96" fill-opacity="0.65"/>
<circle cx="296.42" cy="1281.85" r="1.24" fill="#3e1e96" fill-opacity="0.58"/>
<circle cx="286.85" cy="1281.57" r="0.6" fill="#3e1e96" fill-opacity="0.46"/>
<circle cx="292.74" cy="1316.91" r="1.13" fill="#3e1e96" fill-opacity="0.86"/>
<circle cx="289.39" cy="1355.9" r="0.58" fill="#3e1e96" fill-opacity="0.75"/>
<circle cx="315.32" cy="1344.21" r="0.61" fill="#3e1e96" fill-opacity="0.88"/>
<circle cx="320.11" cy="1289.44" r="0.8" fill="#3e1e96" fill-opacity="0.72"/>
<circle cx="383.52" cy="1282.31" r="0.52" fill="#3e1e96" fill-opacity="0.56"/>
<circle cx="325.09" cy="1334.42" r="0.53" fill="#3e1e96" fill-opacity="0.85"/>
<circle cx="283.04" cy="1319.77" r="0.61" fill="#3e1e96" fill-opacity="0.82"/>
<circle cx="350.1" cy="1327.1" r="1.22" fill="#3e1e96" fill-opacity="0.76"/>
<circle cx="303.73" cy="1326.47" r="1.21" fill="#3e1e96" fill-opacity="0.56"/>
<circle cx="320" cy="1246.27" r="1.21" fill="#3e1e96" fill-opacity="0.56"/>
<circle cx="306.78" cy="1334.81" r="0.52" fill="#3e1e96" fill-opacity="0.91"/>
<circle cx="303.66" cy="1276.11" r="1.08" fill="#3e1e96" fill-opacity="0.86"/>
<circle cx="294.79" cy="1287.38" r="0.53" fill="#3e1e96" fill-opacity="0.75"/>
<circle cx="351.46" cy="1365.96" r="0.83" fill="#3e1e96" fill-opacity="0.59"/>
<circle cx="320.15" cy="1320.21" r="0.93" fill="#3e1e96" fill-opacity="0.53"/>
<circle cx="317.58" cy="1265.49" r="0.56" fill="#3e1e96" fill-opacity="0.76"/>
<circle cx="284.96" cy="1298.07" r="0.88" fill="#3e1e96" fill-opacity="0.64"/>
<circle cx="288.66" cy="1269.15" r="0.58" fill="#3e1e96" fill-opacity="0.79"/>
<circle cx="337.61" cy="1374.94" r="1.12" fill="#3e1e96" fill-opacity="0.54"/>
<circle cx="361.41" cy="1311.99" r="0.66" fill="#3e1e96" fill-opacity="0.69"/>
<circle cx="322.75" cy="1352.94" r="0.59" fill="#3e1e96" fill-opacity="0.57"/>
<circle cx="320.29" cy="1351.01" r="0.51" fill="#3e1e96" fill-opacity="0.82"/>
<circle cx="383.4" cy="1277.38" r="0.56" fill="#3e1e96" fill-opacity="0.84"/>
<circle cx="363.28" cy="1294.74" r="0.52" fill="#3e1e96" fill-opacity="0.53"/>
<circle cx="275.06" cy="1290.83" r="1.23" fill="#3e1e96" fill-opacity="0.87"/>
<circle cx="279.07" cy="1306.94" r="0.82" fill="#3e1e96" fill-opacity="0.68"/>
<circle cx="296.1" cy="1281.72" r="0.77" fill="#3e1e96" fill-opacity="0.46"/>
<circle cx="331.46" cy="1250.37" r="0.87" fill="#3e1e96" fill-opacity="0.76"/>
<circle cx="354.16" cy="1362.03" r="1.1" fill="#3e1e96" fill-opacity="0.53"/>
<circle cx="331.07" cy="1325.32" r="0.76" fill="#3e1e96" fill-opacity="0.94"/>
<circle cx="297.65" cy="1272.04" r="1.03" fill="#3e1e96" fill-opacity="0.49"/>
<circle cx="358.51" cy="1367.32" r="0.57" fill="#3e1e96" fill-opacity="0.93"/>
<circle cx="321.24" cy="1359.23" r="0.93" fill="#3e1e96" fill-opacity="0.9"/>
<circle cx="361.16" cy="1363.06" r="1.08" fill="#3e1e96" fill-opacity="0.54"/>
<circle cx="280.29" cy="1346.75" r="1.04" fill="#3e1e96" fill-opacity="0.63"/>
<circle cx="289.85" cy="1264.94" r="1.3" fill="#3e1e96" fill-opacity="0.94"/>
<circle cx="346.56" cy="1352.82" r="0.93" fill="#3e1e96" fill-opacity="0.79"/>
<circle cx="302.57" cy="1305.02" r="0.95" fill="#3e1e96" fill-opacity="0.86"/>
<circle cx="332.16" cy="1267.82" r="0.66" fill="#3e1e96" fill-opacity="0.8"/>
<circle cx="382.15" cy="1332.86" r="0.78" fill="#3e1e96" fill-opacity="0.52"/>
<circle cx="321.06" cy="1310.7" r="1.4" fill="#3e1e96" fill-opacity="0.71"/>
<circle cx="375.86" cy="1317.7" r="0.64" fill="#3e1e96" fill-opacity="0.61"/>
<circle cx="308.74" cy="1277.71" r="0.9" fill="#3e1e96" fill-opacity="0.64"/>
<circle cx="302.81" cy="1311.06" r="0.5" fill="#3e1e96" fill-opacity="0.45"/>
<circle cx="360.66" cy="1294.9" r="0.53" fill="#3e1e96" fill-opacity="0.92"/>
<circle cx="345.76" cy="1257.32" r="0.94" fill="#3e1e96" fill-opacity="0.89"/>
<circle cx="280.39" cy="1347.11" r="0.72" fill="#3e1e96" fill-opacity="0.54"/>
<circle cx="316.18" cy="1310.05" r="0.98" fill="#3e1e96" fill-opacity="0.88"/>
<circle cx="289.43" cy="1299.02" r="0.65" fill="#3e1e96" fill-opacity="0.93"/>
<circle cx="352.76" cy="1334.2" r="0.68" fill="#3e1e96" fill-opacity="0.56"/>
<circle cx="334.25" cy="1246.71" r="0.62" fill="#3e1e96" fill-opacity="0.6"/>
<circle cx="384.52" cy="1298.49" r="0.8" fill="#3e1e96" fill-opacity="0.72"/>
<circle cx="374.57" cy="1347.06" r="0.87" fill="#3e1e96" fill-opacity="0.54"/>
<circle cx="356.73" cy="1277.08" r="0.72" fill="#3e1e96" fill-opacity="0.63"/>
<circle cx="382.28" cy="1332.29" r="0.89" fill="#3e1e96" fill-opacity="0.52"/>
<circle cx="367.53" cy="1302.43" r="0.63" fill="#3e1e96" fill-opacity="0.65"/>
<circle cx="361.31" cy="1353.39" r="1.14" fill="#3e1e96" fill-opacity="0.79"/>
<circle cx="333.38" cy="1246.76" r="0.63" fill="#3e1e96" fill-opacity="0.62"/>
<circle cx="346.9" cy="1357.28" r="0.83" fill="#3e1e96" fill-opacity="0.6"/>
<circle cx="376.47" cy="1309.16" r="1.29" fill="#3e1e96" fill-opacity="0.67"/>
<circle cx="328.35" cy="1315.26" r="0.67" fill="#3e1e96" fill-opacity="0.8"/>
<circle cx="299.47" cy="1299.79" r="0.51" fill="#3e1e96" fill-opacity="0.53"/>
<circle cx="264.42" cy="1323.15" r="0.62" fill="#3e1e96" fill-opacity="0.58"/>
<circle cx="270.8" cy="1337.33" r="0.88" fill="#3e1e96" fill-opacity="0.47"/>
<circle cx="351.76" cy="1266.18" r="0.65" fill="#3e1e96" fill-opacity="0.57"/>
<circle cx="373.21" cy="1289.65" r="0.83" fill="#3e1e96" fill-opacity="0.88"/>
<circle cx="296.94" cy="1318" r="0.58" fill="#3e1e96" fill-opacity="0.9"/>
<circle cx="379.29" cy="1291.36" r="0.85" fill="#3e1e96" fill-opacity="0.85"/>
<circle cx="368.12" cy="1289.37" r="0.5" fill="#3e1e96" fill-opacity="0.56"/>
<circle cx="353.14" cy="1297.38" r="0.52" fill="#3e1e96" fill-opacity="0.93"/>
<circle cx="287.68" cy="1340.17" r="0.57" fill="#3e1e96" fill-opacity="0.84"/>
<circle cx="293.2" cy="1275.24" r="1.24" fill="#3e1e96" fill-opacity="0.81"/>
<circle cx="276.51" cy="1346.22" r="0.87" fill="#3e1e96" fill-opacity="0.67"/>
<circle cx="328.2" cy="1373.01" r="0.74" fill="#3e1e96" fill-opacity="0.86"/>
<circle cx="279.45" cy="1283.55" r="1.34" fill="#3e1e96" fill-opacity="0.87"/>
<circle cx="315.36" cy="1364.48" r="0.56" fill="#3e1e96" fill-opacity="0.68"/>
<circle cx="334.59" cy="1304.78" r="0.51" fill="#3e1e96" fill-opacity="0.74"/>
<circle cx="315.05" cy="1322.83" r="1.03" fill="#3e1e96" fill-opacity="0.68"/>
<circle cx="297.74" cy="1318.3" r="0.74" fill="#3e1e96" fill-opacity="0.8"/>
<circle cx="282.83" cy="1263.45" r="0.63" fill="#3e1e96" fill-opacity="0.86"/>
<circle cx="283.87" cy="1325.65" r="0.73" fill="#3e1e96" fill-opacity="0.67"/>
<circle cx="340.33" cy="1323.29" r="0.5" fill="#3e1e96" fill-opacity="0.8"/>
<circle cx="320.84" cy="1307.27" r="0.73" fill="#3e1e96" fill-opacity="0.56"/>
<circle cx="280.75" cy="1301.12" r="0.62" fill="#3e1e96" fill-opacity="0.61"/>
<circle cx="295.43" cy="1333.12" r="1.1" fill="#3e1e96" fill-opacity="0.84"/>
<circle cx="327.09" cy="1291.69" r="1.18" fill="#3e1e96" fill-opacity="0.89"/>
<circle cx="296.24" cy="1349.72" r="1.33" fill="#3e1e96" fill-opacity="0.61"/>
<circle cx="378.82" cy="1290" r="0.61" fill="#3e1e96" fill-opacity="0.5"/>
<circle cx="304.12" cy="1272.15" r="0.99" fill="#3e1e96" fill-opacity="0.83"/>
<circle cx="364.96" cy="1351.85" r="0.94" fill="#3e1e96" fill-opacity="0.89"/>
<circle cx="326.6" cy="1253.66" r="1.39" fill="#3e1e96" fill-opacity="0.6"/>
<circle cx="327.24" cy="1255.19" r="0.63" fill="#3e1e96" fill-opacity="0.74"/>
<circle cx="339.61" cy="1310.8" r="1.37" fill="#3e1e96" fill-opacity="0.78"/>
<circle cx="345.33" cy="1293.82" r="0.59" fill="#3e1e96" fill-opacity="0.93"/>
<circle cx="352.69" cy="1317.38" r="0.67" fill="#3e1e96" fill-opacity="0.47"/>
<circle cx="348.88" cy="1335.6" r="0.5" fill="#3e1e96" fill-opacity="0.54"/>
<circle cx="303.19" cy="1312.26" r="0.89" fill="#3e1e96" fill-opacity="0.79"/>
<circle cx="288.04" cy="1320.26" r="0.62" fill="#3e1e96" fill-opacity="0.53"/>
<circle cx="365.02" cy="1313.15" r="1.05" fill="#3e1e96" fill-opacity="0.49"/>
<circle cx="334.47" cy="1308.64" r="0.67" fill="#3e1e96" fill-opacity="0.67"/>
<circle cx="369.44" cy="1345.68" r="0.62" fill="#3e1e96" fill-opacity="0.88"/>
<circle cx="322.39" cy="1286.79" r="0.52" fill="#3e1e96" fill-opacity="0.49"/>
<circle cx="326.13" cy="1298.59" r="1" fill="#3e1e96" fill-opacity="0.49"/>
<circle cx="375.36" cy="1271.53" r="0.57" fill="#3e1e96" fill-opacity="0.63"/>
<circle cx="340.18" cy="1336.43" r="1.12" fill="#3e1e96" fill-opacity="0.8"/>
<circle cx="342.92" cy="1289.34" r="0.59" fill="#3e1e96" fill-opacity="0.75"/>
<circle cx="316.36" cy="1351.35" r="0.9" fill="#3e1e96" fill-opacity="0.65"/>
<circle cx="332.53" cy="1327.09" r="0.79" fill="#3e1e96" fill-opacity="0.7"/>
<circle cx="355.35" cy="1297.4" r="0.73" fill="#3e1e96" fill-opacity="0.92"/>
<circle cx="264.2" cy="1299.57" r="1.36" fill="#3e1e96" fill-opacity="0.93"/>
<circle cx="298.52" cy="1257.32" r="0.67" fill="#3e1e96" fill-opacity="0.8"/>
<circle cx="335.54" cy="1359.86" r="0.75" fill="#3e1e96" fill-opacity="0.79"/>
<circle cx="309.94" cy="1344.21" r="0.8" fill="#3e1e96" fill-opacity="0.91"/>
<circle cx="336.32" cy="1286.75" r="1.29" fill="#3e1e96" fill-opacity="0.73"/>
<circle cx="355.45" cy="1256.15" r="0.89" fill="#3e1e96" fill-opacity="0.68"/>
<circle cx="329.48" cy="1325.33" r="0.61" fill="#3e1e96" fill-opacity="0.52"/>
<circle cx="358.45" cy="1277.81" r="1.07" fill="#3e1e96" fill-opacity="0.56"/>
<circle cx="318.68" cy="1357.29" r="0.6" fill="#3e1e96" fill-opacity="0.85"/>
<circle cx="304.76" cy="1328.92" r="0.82" fill="#3e1e96" fill-opacity="0.45"/>
<circle cx="280.34" cy="1290.93" r="0.84" fill="#3e1e96" fill-opacity="0.64"/>
<circle cx="324.87" cy="1307.78" r="0.75" fill="#3e1e96" fill-opacity="0.59"/>
<circle cx="323.15" cy="1342.28" r="1" fill="#3e1e96" fill-opacity="0.46"/>
<circle cx="326.63" cy="1261.55" r="0.79" fill="#3e1e96" fill-opacity="0.55"/>
<circle cx="297.5" cy="1273.69" r="0.77" fill="#3e1e96" fill-opacity="0.88"/>
<circle cx="309.81" cy="1346.19" r="0.69" fill="#3e1e96" fill-opacity="0.61"/>
<circle cx="342.39" cy="1258.56" r="1.1" fill="#3e1e96" fill-opacity="0.77"/>
<circle cx="359.77" cy="1282.8" r="1.03" fill="#3e1e96" fill-opacity="0.45"/>
<circle cx="303.77" cy="1283.57" r="0.5" fill="#3e1e96" fill-opacity="0.78"/>
<circle cx="280.63" cy="1334.82" r="0.59" fill="#3e1e96" fill-opacity="0.54"/>
<circle cx="348.71" cy="1364.39" r="1.02" fill="#3e1e96" fill-opacity="0.91"/>
<circle cx="302.65" cy="1257.27" r="0.89" fill="#3e1e96" fill-opacity="0.53"/>
<circle cx="289.83" cy="1318.47" r="0.74" fill="#3e1e96" fill-opacity="0.72"/>
<circle cx="383.3" cy="1331.86" r="0.5" fill="#3e1e96" fill-opacity="0.88"/>
<circle cx="331.26" cy="1250.43" r="1.27" fill="#3e1e96" fill-opacity="0.72"/>
<circle cx="322.97" cy="1309.6" r="1.2" fill="#3e1e96" fill-opacity="0.51"/>
<circle cx="287.84" cy="1297.14" r="0.53" fill="#3e1e96" fill-opacity="0.77"/>
<circle cx="371.05" cy="1329.06" r="1.26" fill="#3e1e96" fill-opacity="0.76"/>
<circle cx="355.49" cy="1315.88" r="1.04" fill="#3e1e96" fill-opacity="0.52"/>
<circle cx="320.38" cy="1337.06" r="0.86" fill="#3e1e96" fill-opacity="0.6"/>
<circle cx="340.32" cy="1336.9" r="0.56" fill="#3e1e96" fill-opacity="0.46"/>
<circle cx="276.17" cy="1298.27" r="0.73" fill="#3e1e96" fill-opacity="0.84"/>
<circle cx="350.33" cy="1333.97" r="1.35" fill="#3e1e96" fill-opacity="0.55"/>
<circle cx="311.36" cy="1276.55" r="0.6" fill="#3e1e96" fill-opacity="0.66"/>
<circle cx="323.82" cy="1295.79" r="0.52" fill="#3e1e96" fill-opacity="0.59"/>
<circle cx="364.06" cy="1361.62" r="1.01" fill="#3e1e96" fill-opacity="0.61"/>
<circle cx="359.88" cy="1349.75" r="1.04" fill="#3e1e96" fill-opacity="0.79"/>
<circle cx="350.57" cy="1273.54" r="0.52" fill="#3e1e96" fill-opacity="0.72"/>
<circle cx="330.43" cy="1354.31" r="1.31" fill="#3e1e96" fill-opacity="0.7"/>
<circle cx="342.8" cy="1281.17" r="0.53" fill="#3e1e96" fill-opacity="0.48"/>
<circle cx="303.1" cy="1286.83" r="0.71" fill="#3e1e96" fill-opacity="0.75"/>
<circle cx="324.57" cy="1288.15" r="0.52" fill="#3e1e96" fill-opacity="0.46"/>
<circle cx="268.01" cy="1303.69" r="0.89" fill="#3e1e96" fill-opacity="0.54"/>
<circle cx="267.44" cy="1320.15" r="0.74" fill="#3e1e96" fill-opacity="0.46"/>
<circle cx="370.44" cy="1296.72" r="0.61" fill="#3e1e96" fill-opacity="0.53"/>
<circle cx="299.4" cy="1316.79" r="0.51" fill="#3e1e96" fill-opacity="0.51"/>
<circle cx="288.54" cy="1319.01" r="0.9" fill="#3e1e96" fill-opacity="0.77"/>
<circle cx="323" cy="1322.35" r="0.8" fill="#3e1e96" fill-opacity="0.76"/>
<circle cx="384.92" cy="1292.4" r="0.67" fill="#3e1e96" fill-opacity="0.54"/>
<circle cx="302.32" cy="1330.5" r="0.58" fill="#3e1e96" fill-opacity="0.92"/>
<circle cx="291.02" cy="1290.19" r="0.55" fill="#3e1e96" fill-opacity="0.57"/>
<circle cx="336.89" cy="1350.97" r="0.68" fill="#3e1e96" fill-opacity="0.59"/>
<circle cx="359.12" cy="1306.67" r="0.69" fill="#3e1e96" fill-opacity="0.65"/>
<circle cx="305.37" cy="1300.96" r="1.1" fill="#3e1e96" fill-opacity="0.81"/>
<circle cx="295.21" cy="1294.07" r="1.28" fill="#3e1e96" fill-opacity="0.82"/>
<circle cx="310.18" cy="1275.84" r="0.59" fill="#3e1e96" fill-opacity="0.91"/>
<circle cx="305.73" cy="1366.99" r="1.22" fill="#3e1e96" fill-opacity="0.57"/>
<circle cx="270.09" cy="1340.14" r="1.2" fill="#3e1e96" fill-opacity="0.57"/>
<circle cx="282.01" cy="1338.8" r="1.01" fill="#3e1e96" fill-opacity="0.78"/>
<circle cx="284.81" cy="1341.84" r="0.68" fill="#3e1e96" fill-opacity="0.89"/>
<circle cx="305.28" cy="1305.33" r="0.67" fill="#3e1e96" fill-opacity="0.8"/>
<circle cx="298.1" cy="1297.63" r="1.21" fill="#3e1e96" fill-opacity="0.92"/>
<circle cx="288.69" cy="1289.52" r="1.19" fill="#3e1e96" fill-opacity="0.65"/>
<circle cx="352.75" cy="1261.63" r="0.62" fill="#3e1e96" fill-opacity="0.56"/>
<circle cx="379.27" cy="1303.47" r="0.55" fill="#3e1e96" fill-opacity="0.79"/>
<circle cx="324.06" cy="1269.36" r="0.79" fill="#3e1e96" fill-opacity="0.93"/>
<circle cx="314.59" cy="1277.86" r="0.89" fill="#3e1e96" fill-opacity="0.72"/>
<circle cx="331.57" cy="1252.09" r="0.59" fill="#3e1e96" fill-opacity="0.84"/>
<circle cx="310.24" cy="1319.18" r="0.51" fill="#3e1e96" fill-opacity="0.89"/>
<circle cx="367.99" cy="1291.27" r="1.38" fill="#3e1e96" fill-opacity="0.88"/>
<circle cx="360.24" cy="1267.73" r="1.25" fill="#3e1e96" fill-opacity="0.71"/>
<circle cx="336.68" cy="1295.79" r="0.55" fill="#3e1e96" fill-opacity="0.59"/>
<circle cx="294.4" cy="1356.17" r="1.01" fill="#3e1e96" fill-opacity="0.49"/>
<circle cx="316.53" cy="1372.7" r="0.81" fill="#3e1e96" fill-opacity="0.91"/>
<circle cx="370.35" cy="1320.82" r="0.64" fill="#3e1e96" fill-opacity="0.48"/>
<circle cx="362.7" cy="1305.48" r="0.74" fill="#3e1e96" fill-opacity="0.88"/>
<circle cx="331.24" cy="1261.66" r="0.65" fill="#3e1e96" fill-opacity="0.47"/>
<circle cx="358.75" cy="1254.82" r="0.63" fill="#3e1e96" fill-opacity="0.73"/>
<circle cx="369.61" cy="1317.78" r="0.76" fill="#3e1e96" fill-opacity="0.59"/>
<circle cx="287.55" cy="1298.36" r="1.08" fill="#3e1e96" fill-opacity="0.53"/>
<circle cx="308.23" cy="1344.25" r="0.67" fill="#3e1e96" fill-opacity="0.85"/>
<circle cx="351.52" cy="1285.06" r="0.5" fill="#3e1e96" fill-opacity="0.76"/>
<circle cx="337.92" cy="1353.87" r="0.85" fill="#3e1e96" fill-opacity="0.57"/>
<circle cx="320.98" cy="1283.39" r="1.28" fill="#3e1e96" fill-opacity="0.66"/>
<circle cx="323.74" cy="1359.42" r="0.78" fill="#3e1e96" fill-opacity="0.54"/>
<circle cx="360.46" cy="1285.22" r="1.18" fill="#3e1e96" fill-opacity="0.63"/>
<circle cx="361.61" cy="1286.66" r="0.54" fill="#3e1e96" fill-opacity="0.84"/>
<circle cx="309.82" cy="1259.91" r="0.52" fill="#3e1e96" fill-opacity="0.51"/>
<circle cx="295.3" cy="1291.63" r="1.16" fill="#3e1e96" fill-opacity="0.65"/>
<circle cx="285.28" cy="1264.47" r="1.05" fill="#3e1e96" fill-opacity="0.9"/>
<circle cx="315.33" cy="1359.49" r="0.67" fill="#3e1e96" fill-opacity="0.66"/>
<circle cx="336.12" cy="1358.97" r="0.93" fill="#3e1e96" fill-opacity="0.83"/>
<circle cx="358.8" cy="1254.81" r="1.02" fill="#3e1e96" fill-opacity="0.57"/>
<circle cx="315.24" cy="1247.03" r="0.69" fill="#3e1e96" fill-opacity="0.57"/>
<circle cx="367.7" cy="1350.77" r="0.69" fill="#3e1e96" fill-opacity="0.6"/>
<circle cx="307.29" cy="1373.23" r="0.6" fill="#3e1e96" fill-opacity="0.57"/>
<circle cx="324.32" cy="1332.53" r="0.7" fill="#3e1e96" fill-opacity="0.57"/>
<circle cx="348.59" cy="1286.13" r="0.55" fill="#3e1e96" fill-opacity="0.54"/>
<circle cx="329.6" cy="1374.35" r="0.9" fill="#3e1e96" fill-opacity="0.55"/>
<circle cx="386.62" cy="1285.27" r="0.98" fill="#3e1e96" fill-opacity="0.76"/>
<circle cx="331.23" cy="1322.6" r="0.62" fill="#3e1e96" fill-opacity="0.92"/>
<circle cx="344.3" cy="1288.57" r="0.82" fill="#3e1e96" fill-opacity="0.64"/>
<circle cx="373.95" cy="1319.31" r="0.61" fill="#3e1e96" fill-opacity="0.75"/>
<circle cx="307.86" cy="1318.41" r="0.54" fill="#3e1e96" fill-opacity="0.79"/>
<circle cx="328.32" cy="1259.1" r="0.5" fill="#3e1e96" fill-opacity="0.73"/>
<circle cx="318.15" cy="1260.65" r="1.26" fill="#3e1e96" fill-opacity="0.76"/>
<circle cx="343.04" cy="1247.81" r="1.09" fill="#3e1e96" fill-opacity="0.52"/>
<circle cx="267.8" cy="1303.2" r="0.54" fill="#3e1e96" fill-opacity="0.64"/>
<circle cx="345.6" cy="1373.17" r="0.96" fill="#3e1e96" fill-opacity="0.75"/>
<circle cx="348.31" cy="1344.47" r="0.72" fill="#3e1e96" fill-opacity="0.78"/>
<circle cx="295.31" cy="1254.42" r="0.62" fill="#3e1e96" fill-opacity="0.65"/>
<circle cx="329.29" cy="1341.46" r="1.39" fill="#3e1e96" fill-opacity="0.73"/>
<circle cx="360.63" cy="1357.5" r="1" fill="#3e1e96" fill-opacity="0.5"/>
<circle cx="275.48" cy="1298.64" r="0.64" fill="#3e1e96" fill-opacity="0.9"/>
<circle cx="330.73" cy="1360.6" r="0.81" fill="#3e1e96" fill-opacity="0.79"/>
<circle cx="320.86" cy="1339.99" r="1.2" fill="#3e1e96" fill-opacity="0.69"/>
<circle cx="348.69" cy="1284.88" r="0.64" fill="#3e1e96" fill-opacity="0.81"/>
<circle cx="372.61" cy="1269.41" r="0.59" fill="#3e1e96" fill-opacity="0.56"/>
<circle cx="337.58" cy="1345.24" r="0.67" fill="#3e1e96" fill-opacity="0.65"/>
<circle cx="350.82" cy="1316.36" r="1.14" fill="#3e1e96" fill-opacity="0.59"/>
<circle cx="338.91" cy="1367.58" r="1.03" fill="#3e1e96" fill-opacity="0.93"/>
<circle cx="318.15" cy="1352.88" r="0.61" fill="#3e1e96" fill-opacity="0.56"/>
<circle cx="365.62" cy="1305.54" r="0.54" fill="#3e1e96" fill-opacity="0.87"/>
<circle cx="376.32" cy="1313.35" r="0.52" fill="#3e1e96" fill-opacity="0.7"/>
<circle cx="347.54" cy="1306.64" r="0.7" fill="#3e1e96" fill-opacity="0.49"/>
<circle cx="273.12" cy="1335.47" r="1.21" fill="#3e1e96" fill-opacity="0.74"/>
<circle cx="267.33" cy="1297.32" r="1.09" fill="#3e1e96" fill-opacity="0.72"/>
<circle cx="267.65" cy="1299.06" r="0.57" fill="#3e1e96" fill-opacity="0.87"/>
<circle cx="303.39" cy="1354.02" r="1.09" fill="#3e1e96" fill-opacity="0.72"/>
<circle cx="318.55" cy="1288.13" r="0.88" fill="#3e1e96" fill-opacity="0.48"/>
<circle cx="353.69" cy="1306.15" r="1.05" fill="#3e1e96" fill-opacity="0.74"/>
<circle cx="284.33" cy="1303.62" r="0.51" fill="#3e1e96" fill-opacity="0.65"/>
<circle cx="368.86" cy="1307.54" r="1.15" fill="#3e1e96" fill-opacity="0.89"/>
<circle cx="343.73" cy="1320.29" r="1.3" fill="#3e1e96" fill-opacity="0.67"/>
<circle cx="360.86" cy="1343.78" r="1.07" fill="#3e1e96" fill-opacity="0.45"/>
<circle cx="330.75" cy="1367.45" r="0.52" fill="#3e1e96" fill-opacity="0.49"/>
<circle cx="324.08" cy="1261.42" r="0.95" fill="#3e1e96" fill-opacity="0.52"/>
<circle cx="358.78" cy="1358.65" r="0.56" fill="#3e1e96" fill-opacity="0.68"/>
<circle cx="307" cy="1359.17" r="0.64" fill="#3e1e96" fill-opacity="0.66"/>
<circle cx="370.37" cy="1348.21" r="1.39" fill="#3e1e96" fill-opacity="0.47"/>
<circle cx="321.77" cy="1373.35" r="0.61" fill="#3e1e96" fill-opacity="0.62"/>
<circle cx="338.97" cy="1320.05" r="0.63" fill="#3e1e96" fill-opacity="0.71"/>
<circle cx="383.49" cy="1295.46" r="1.1" fill="#3e1e96" fill-opacity="0.94"/>
<circle cx="361.55" cy="1256.13" r="1.39" fill="#3e1e96" fill-opacity="0.8"/>
<circle cx="312.14" cy="1278.81" r="0.79" fill="#3e1e96" fill-opacity="0.83"/>
<circle cx="321.26" cy="1335.91" r="1.36" fill="#3e1e96" fill-opacity="0.92"/>
<circle cx="377.75" cy="1317.1" r="1.14" fill="#3e1e96" fill-opacity="0.9"/>
<circle cx="287.4" cy="1358.93" r="1.07" fill="#3e1e96" fill-opacity="0.74"/>
<circle cx="362.6" cy="1320.74" r="0.83" fill="#3e1e96" fill-opacity="0.9"/>
<circle cx="293.31" cy="1304.73" r="0.62" fill="#3e1e96" fill-opacity="0.84"/>
<circle cx="322.88" cy="1300.13" r="0.93" fill="#3e1e96" fill-opacity="0.89"/>
<circle cx="312.61" cy="1329.42" r="0.94" fill="#3e1e96" fill-opacity="0.65"/>
<circle cx="373.14" cy="1281.35" r="1.35" fill="#3e1e96" fill-opacity="0.48"/>
<circle cx="364.81" cy="1362.23" r="0.91" fill="#3e1e96" fill-opacity="0.82"/>
<circle cx="277.3" cy="1339.81" r="1.13" fill="#3e1e96" fill-opacity="0.79"/>
<circle cx="312.23" cy="1321.53" r="1.29" fill="#3e1e96" fill-opacity="0.94"/>
<circle cx="344.59" cy="1352.54" r="0.9" fill="#3e1e96" fill-opacity="0.63"/>
<circle cx="388.34" cy="1318.25" r="1.39" fill="#3e1e96" fill-opacity="0.68"/>
<circle cx="315.96" cy="1359.5" r="0.59" fill="#3e1e96" fill-opacity="0.9"/>
<circle cx="327.36" cy="1268.64" r="0.63" fill="#3e1e96" fill-opacity="0.93"/>
<circle cx="354.88" cy="1297.54" r="0.63" fill="#3e1e96" fill-opacity="0.57"/>
<circle cx="308.24" cy="1349.3" r="1.28" fill="#3e1e96" fill-opacity="0.84"/>
<circle cx="279.29" cy="1305.9" r="0.88" fill="#3e1e96" fill-opacity="0.63"/>
<circle cx="294.48" cy="1318" r="1.05" fill="#3e1e96" fill-opacity="0.92"/>
<circle cx="298.9" cy="1264.22" r="0.75" fill="#3e1e96" fill-opacity="0.78"/>
<circle cx="281.48" cy="1318.74" r="1.38" fill="#3e1e96" fill-opacity="0.9"/>
<circle cx="271.93" cy="1285.11" r="0.82" fill="#3e1e96" fill-opacity="0.83"/>
<circle cx="300.25" cy="1326.22" r="1.06" fill="#3e1e96" fill-opacity="0.79"/>
<circle cx="294.75" cy="1311.06" r="0.78" fill="#3e1e96" fill-opacity="0.47"/>
<circle cx="300.22" cy="1276.51" r="1.13" fill="#3e1e96" fill-opacity="0.75"/>
<circle cx="355.51" cy="1290.39" r="1.19" fill="#3e1e96" fill-opacity="0.94"/>
<circle cx="346.53" cy="1337.68" r="0.65" fill="#3e1e96" fill-opacity="0.72"/>
<circle cx="374.46" cy="1318.85" r="1.29" fill="#3e1e96" fill-opacity="0.81"/>
<circle cx="320.67" cy="1330.97" r="1.03" fill="#3e1e96" fill-opacity="0.63"/>
<circle cx="296.05" cy="1312.09" r="1.19" fill="#3e1e96" fill-opacity="0.57"/>
<circle cx="304.69" cy="1343.88" r="0.68" fill="#3e1e96" fill-opacity="0.69"/>
<circle cx="273.67" cy="1336.76" r="1.09" fill="#3e1e96" fill-opacity="0.46"/>
<circle cx="350.77" cy="1360.55" r="1.07" fill="#3e1e96" fill-opacity="0.6"/>
<circle cx="310.74" cy="1334.33" r="0.97" fill="#3e1e96" fill-opacity="0.86"/>
<circle cx="344.5" cy="1303.62" r="1.27" fill="#3e1e96" fill-opacity="0.82"/>
<circle cx="356.65" cy="1326.49" r="0.54" fill="#3e1e96" fill-opacity="0.45"/>
<circle cx="356.42" cy="1316.94" r="1.21" fill="#3e1e96" fill-opacity="0.64"/>
<circle cx="383.1" cy="1299.52" r="1" fill="#3e1e96" fill-opacity="0.81"/>
<circle cx="364.41" cy="1356.6" r="0.89" fill="#3e1e96" fill-opacity="0.68"/>
<circle cx="313.08" cy="1336.62" r="0.83" fill="#3e1e96" fill-opacity="0.48"/>
<circle cx="374.84" cy="1299.22" r="0.66" fill="#3e1e96" fill-opacity="0.55"/>
<circle cx="322.45" cy="1322.67" r="0.95" fill="#3e1e96" fill-opacity="0.56"/>
<circle cx="268.56" cy="1287.36" r="0.51" fill="#3e1e96" fill-opacity="0.55"/>
<circle cx="289.48" cy="1319.27" r="1.03" fill="#3e1e96" fill-opacity="0.71"/>
<circle cx="334.36" cy="1292.95" r="0.55" fill="#3e1e96" fill-opacity="0.67"/>
<circle cx="318.04" cy="1253.55" r="0.55" fill="#3e1e96" fill-opacity="0.69"/>
<circle cx="321.85" cy="1358.4" r="1.22" fill="#3e1e96" fill-opacity="0.84"/>
<circle cx="359.56" cy="1312.07" r="1.1" fill="#3e1e96" fill-opacity="0.83"/>
<circle cx="323.88" cy="1332.24" r="0.86" fill="#3e1e96" fill-opacity="0.79"/>
<circle cx="313.08" cy="1334.26" r="0.6" fill="#3e1e96" fill-opacity="0.86"/>
<circle cx="362.82" cy="1271.36" r="0.56" fill="#3e1e96" fill-opacity="0.73"/>
<circle cx="334.95" cy="1256.84" r="1.17" fill="#3e1e96" fill-opacity="0.83"/>
<circle cx="312.62" cy="1312.78" r="0.94" fill="#3e1e96" fill-opacity="0.62"/>
<circle cx="285.9" cy="1326.52" r="0.71" fill="#3e1e96" fill-opacity="0.5"/>
<circle cx="318.82" cy="1304.42" r="1.25" fill="#3e1e96" fill-opacity="0.69"/>
<circle cx="362.61" cy="1317.96" r="0.56" fill="#3e1e96" fill-opacity="0.49"/>
<circle cx="289.39" cy="1273.12" r="1.22" fill="#3e1e96" fill-opacity="0.91"/>
<circle cx="347.23" cy="1261.18" r="1.21" fill="#3e1e96" fill-opacity="0.73"/>
<circle cx="324.47" cy="1374.63" r="0.84" fill="#3e1e96" fill-opacity="0.8"/>
<circle cx="311.18" cy="1356.45" r="0.81" fill="#3e1e96" fill-opacity="0.65"/>
<circle cx="269.13" cy="1315.46" r="0.5" fill="#3e1e96" fill-opacity="0.82"/>
<circle cx="306.69" cy="1358.38" r="1.36" fill="#3e1e96" fill-opacity="0.57"/>
<circle cx="361.3" cy="1304.87" r="1.19" fill="#3e1e96" fill-opacity="0.54"/>
<circle cx="329.51" cy="1260.66" r="0.71" fill="#3e1e96" fill-opacity="0.85"/>
<circle cx="386.62" cy="1296.65" r="1.25" fill="#3e1e96" fill-opacity="0.58"/>
<circle cx="270.24" cy="1298.2" r="1.04" fill="#3e1e96" fill-opacity="0.48"/>
<circle cx="380.47" cy="1294.63" r="0.65" fill="#3e1e96" fill-opacity="0.52"/>
<circle cx="335.68" cy="1370.63" r="1.26" fill="#3e1e96" fill-opacity="0.91"/>
<circle cx="315.4" cy="1351.53" r="1.11" fill="#3e1e96" fill-opacity="0.84"/>
<circle cx="365.75" cy="1296.31" r="1.18" fill="#3e1e96" fill-opacity="0.45"/>
<circle cx="348.92" cy="1348.57" r="0.68" fill="#3e1e96" fill-opacity="0.88"/>
<circle cx="338.86" cy="1369.55" r="1.09" fill="#3e1e96" fill-opacity="0.68"/>
<circle cx="283.47" cy="1331.27" r="1.05" fill="#3e1e96" fill-opacity="0.72"/>
<circle cx="292.14" cy="1306.59" r="1.08" fill="#3e1e96" fill-opacity="0.81"/>
<circle cx="279.63" cy="1270.46" r="0.57" fill="#3e1e96" fill-opacity="0.74"/>
<circle cx="330.3" cy="1247.76" r="0.5" fill="#3e1e96" fill-opacity="0.55"/>
<circle cx="306.49" cy="1283.41" r="0.62" fill="#3e1e96" fill-opacity="0.77"/>
<circle cx="320.99" cy="1315.24" r="0.84" fill="#3e1e96" fill-opacity="0.67"/>
<circle cx="306.15" cy="1266.61" r="0.52" fill="#3e1e96" fill-opacity="0.77"/>
<circle cx="282.52" cy="1348.76" r="1.36" fill="#3e1e96" fill-opacity="0.64"/>
<circle cx="355.47" cy="1286.75" r="0.54" fill="#3e1e96" fill-opacity="0.54"/>
<circle cx="326.44" cy="1349.63" r="0.72" fill="#3e1e96" fill-opacity="0.9"/>
<circle cx="323.42" cy="1361.15" r="0.55" fill="#3e1e96" fill-opacity="0.56"/>
<circle cx="357.55" cy="1364.4" r="1.18" fill="#3e1e96" fill-opacity="0.92"/>
<circle cx="303.89" cy="1263.53" r="0.71" fill="#3e1e96" fill-opacity="0.63"/>
<circle cx="323.24" cy="1287.76" r="0.84" fill="#3e1e96" fill-opacity="0.52"/>
<circle cx="311.99" cy="1261.96" r="0.77" fill="#3e1e96" fill-opacity="0.55"/>
<circle cx="315.5" cy="1321.22" r="0.62" fill="#3e1e96" fill-opacity="0.55"/>
<circle cx="316.01" cy="1364.76" r="1.15" fill="#3e1e96" fill-opacity="0.63"/>
<circle cx="330.42" cy="1253.32" r="1.22" fill="#3e1e96" fill-opacity="0.66"/>
<circle cx="288.7" cy="1363.07" r="0.54" fill="#5a34a8" fill-opacity="0.56"/>
<circle cx="381.5" cy="1342.31" r="0.69" fill="#5a34a8" fill-opacity="0.53"/>
<circle cx="332.78" cy="1287.19" r="0.4" fill="#5a34a8" fill-opacity="0.37"/>
<circle cx="287.23" cy="1316.75" r="0.41" fill="#5a34a8" fill-opacity="0.42"/>
<circle cx="355.08" cy="1275.64" r="0.51" fill="#5a34a8" fill-opacity="0.42"/>
<circle cx="270.58" cy="1286.93" r="0.55" fill="#5a34a8" fill-opacity="0.45"/>
<circle cx="299.65" cy="1357.09" r="0.4" fill="#5a34a8" fill-opacity="0.31"/>
<circle cx="389.18" cy="1292.73" r="0.43" fill="#5a34a8" fill-opacity="0.36"/>
<circle cx="329.89" cy="1356.65" r="0.72" fill="#5a34a8" fill-opacity="0.6"/>
<circle cx="342.49" cy="1248.66" r="0.53" fill="#5a34a8" fill-opacity="0.44"/>
<circle cx="362.11" cy="1271.14" r="0.79" fill="#5a34a8" fill-opacity="0.58"/>
<circle cx="306.07" cy="1271.58" r="0.41" fill="#5a34a8" fill-opacity="0.42"/>
<circle cx="325.85" cy="1354.9" r="0.41" fill="#5a34a8" fill-opacity="0.56"/>
<circle cx="343.6" cy="1289.26" r="0.42" fill="#5a34a8" fill-opacity="0.33"/>
<circle cx="272.59" cy="1277.37" r="0.68" fill="#5a34a8" fill-opacity="0.66"/>
<circle cx="290.74" cy="1291.76" r="0.42" fill="#5a34a8" fill-opacity="0.68"/>
<circle cx="337.72" cy="1294.83" r="0.41" fill="#5a34a8" fill-opacity="0.42"/>
<circle cx="328.69" cy="1371.87" r="0.57" fill="#5a34a8" fill-opacity="0.67"/>
<circle cx="283.9" cy="1354.75" r="0.53" fill="#5a34a8" fill-opacity="0.37"/>
<circle cx="316.25" cy="1272.09" r="0.55" fill="#5a34a8" fill-opacity="0.68"/>
<circle cx="321.88" cy="1270.4" r="0.67" fill="#5a34a8" fill-opacity="0.63"/>
<circle cx="374.93" cy="1303.96" r="0.43" fill="#5a34a8" fill-opacity="0.69"/>
<circle cx="369.22" cy="1264.55" r="0.47" fill="#5a34a8" fill-opacity="0.51"/>
<circle cx="279.98" cy="1306.27" r="0.51" fill="#5a34a8" fill-opacity="0.38"/>
<circle cx="302.24" cy="1267.9" r="0.55" fill="#5a34a8" fill-opacity="0.44"/>
<circle cx="349.3" cy="1301.93" r="0.77" fill="#5a34a8" fill-opacity="0.38"/>
<circle cx="309.91" cy="1272.74" r="0.53" fill="#5a34a8" fill-opacity="0.6"/>
<circle cx="371.24" cy="1270.23" r="0.64" fill="#5a34a8" fill-opacity="0.47"/>
<circle cx="332.04" cy="1254.69" r="0.49" fill="#5a34a8" fill-opacity="0.33"/>
<circle cx="353.76" cy="1297.52" r="0.4" fill="#5a34a8" fill-opacity="0.49"/>
<circle cx="381.42" cy="1294.64" r="0.58" fill="#5a34a8" fill-opacity="0.55"/>
<circle cx="374.06" cy="1309.1" r="0.46" fill="#5a34a8" fill-opacity="0.44"/>
<circle cx="361.09" cy="1325.4" r="0.46" fill="#5a34a8" fill-opacity="0.52"/>
<circle cx="353.54" cy="1314.54" r="0.68" fill="#5a34a8" fill-opacity="0.39"/>
<circle cx="315.5" cy="1287.65" r="0.8" fill="#5a34a8" fill-opacity="0.37"/>
<circle cx="381.63" cy="1308.29" r="0.71" fill="#5a34a8" fill-opacity="0.37"/>
<circle cx="307.29" cy="1349.94" r="0.6" fill="#5a34a8" fill-opacity="0.54"/>
<circle cx="356.15" cy="1284.27" r="0.82" fill="#5a34a8" fill-opacity="0.31"/>
<circle cx="324.95" cy="1366.93" r="0.5" fill="#5a34a8" fill-opacity="0.54"/>
<circle cx="337.27" cy="1351.93" r="0.78" fill="#5a34a8" fill-opacity="0.3"/>
<circle cx="281.16" cy="1289.74" r="0.7" fill="#5a34a8" fill-opacity="0.36"/>
<circle cx="299.2" cy="1366.27" r="0.57" fill="#5a34a8" fill-opacity="0.59"/>
<circle cx="334.36" cy="1271.97" r="0.83" fill="#5a34a8" fill-opacity="0.64"/>
<circle cx="323.91" cy="1263.02" r="0.44" fill="#5a34a8" fill-opacity="0.33"/>
<circle cx="308.84" cy="1347.29" r="0.41" fill="#5a34a8" fill-opacity="0.69"/>
<circle cx="368.4" cy="1327.91" r="0.51" fill="#5a34a8" fill-opacity="0.53"/>
<circle cx="322.85" cy="1317.86" r="0.4" fill="#5a34a8" fill-opacity="0.45"/>
<circle cx="263.78" cy="1306.42" r="0.4" fill="#5a34a8" fill-opacity="0.37"/>
<circle cx="267.77" cy="1306.1" r="0.41" fill="#5a34a8" fill-opacity="0.65"/>
<circle cx="381.12" cy="1322.8" r="0.56" fill="#5a34a8" fill-opacity="0.34"/>
<circle cx="295.93" cy="1349.35" r="0.87" fill="#5a34a8" fill-opacity="0.31"/>
<circle cx="289.13" cy="1314.55" r="0.71" fill="#5a34a8" fill-opacity="0.35"/>
<circle cx="324.65" cy="1249.87" r="0.81" fill="#5a34a8" fill-opacity="0.42"/>
<circle cx="284.16" cy="1352.39" r="0.41" fill="#5a34a8" fill-opacity="0.68"/>
<circle cx="349.48" cy="1367.37" r="0.72" fill="#5a34a8" fill-opacity="0.48"/>
<circle cx="358.32" cy="1347.02" r="0.83" fill="#5a34a8" fill-opacity="0.46"/>
<circle cx="291.08" cy="1342.9" r="0.4" fill="#5a34a8" fill-opacity="0.35"/>
<circle cx="376.15" cy="1290.92" r="0.4" fill="#5a34a8" fill-opacity="0.58"/>
<circle cx="341.37" cy="1368.91" r="0.49" fill="#5a34a8" fill-opacity="0.63"/>
<circle cx="326.35" cy="1330.17" r="0.83" fill="#5a34a8" fill-opacity="0.41"/>
<circle cx="374.72" cy="1300.25" r="0.46" fill="#5a34a8" fill-opacity="0.31"/>
<circle cx="279.35" cy="1297.91" r="0.67" fill="#5a34a8" fill-opacity="0.55"/>
<circle cx="309.51" cy="1256.8" r="0.73" fill="#5a34a8" fill-opacity="0.65"/>
<circle cx="350.31" cy="1314.21" r="0.47" fill="#5a34a8" fill-opacity="0.34"/>
<circle cx="270.04" cy="1294.66" r="0.44" fill="#5a34a8" fill-opacity="0.55"/>
<circle cx="296.97" cy="1304.83" r="0.72" fill="#5a34a8" fill-opacity="0.69"/>
<circle cx="330.03" cy="1341.46" r="0.42" fill="#5a34a8" fill-opacity="0.49"/>
<circle cx="382.93" cy="1338.51" r="0.41" fill="#5a34a8" fill-opacity="0.61"/>
<circle cx="274.28" cy="1277.37" r="0.44" fill="#5a34a8" fill-opacity="0.63"/>
<circle cx="321.96" cy="1328.9" r="0.55" fill="#5a34a8" fill-opacity="0.54"/>
<circle cx="264.73" cy="1305.64" r="0.43" fill="#5a34a8" fill-opacity="0.35"/>
<circle cx="351.99" cy="1324.26" r="0.44" fill="#5a34a8" fill-opacity="0.66"/>
<circle cx="386.45" cy="1293.09" r="0.55" fill="#5a34a8" fill-opacity="0.39"/>
<circle cx="376.58" cy="1314.68" r="0.58" fill="#5a34a8" fill-opacity="0.44"/>
<circle cx="362.17" cy="1276.48" r="0.64" fill="#5a34a8" fill-opacity="0.49"/>
<circle cx="307.55" cy="1345.88" r="0.43" fill="#5a34a8" fill-opacity="0.48"/>
<circle cx="350.55" cy="1353.46" r="0.49" fill="#5a34a8" fill-opacity="0.67"/>
<circle cx="360.07" cy="1359.97" r="0.6" fill="#5a34a8" fill-opacity="0.61"/>
<circle cx="302.84" cy="1305.23" r="0.64" fill="#5a34a8" fill-opacity="0.53"/>
<circle cx="360.94" cy="1287.49" r="0.68" fill="#5a34a8" fill-opacity="0.66"/>
<circle cx="324.93" cy="1326.98" r="0.67" fill="#5a34a8" fill-opacity="0.66"/>
<circle cx="352.21" cy="1320.07" r="0.63" fill="#5a34a8" fill-opacity="0.38"/>
<circle cx="284.99" cy="1327.3" r="0.86" fill="#5a34a8" fill-opacity="0.41"/>
<circle cx="286.78" cy="1280.35" r="0.61" fill="#5a34a8" fill-opacity="0.35"/>
<circle cx="294.54" cy="1323.81" r="0.55" fill="#5a34a8" fill-opacity="0.65"/>
<circle cx="288.42" cy="1279.8" r="0.45" fill="#5a34a8" fill-opacity="0.63"/>
<circle cx="342.34" cy="1297.13" r="0.78" fill="#5a34a8" fill-opacity="0.7"/>
<circle cx="322.6" cy="1352.86" r="0.48" fill="#5a34a8" fill-opacity="0.31"/>
<circle cx="294.7" cy="1304.02" r="0.4" fill="#5a34a8" fill-opacity="0.43"/>
<circle cx="311.73" cy="1345.17" r="0.59" fill="#5a34a8" fill-opacity="0.58"/>
<circle cx="282.23" cy="1314.1" r="0.75" fill="#5a34a8" fill-opacity="0.32"/>
<circle cx="291.55" cy="1301.63" r="0.47" fill="#5a34a8" fill-opacity="0.45"/>
<circle cx="353.13" cy="1264.79" r="0.58" fill="#5a34a8" fill-opacity="0.69"/>
<circle cx="386.69" cy="1308.61" r="0.54" fill="#5a34a8" fill-opacity="0.63"/>
<circle cx="273.76" cy="1338.77" r="0.78" fill="#5a34a8" fill-opacity="0.3"/>
<circle cx="356.61" cy="1256.18" r="0.51" fill="#5a34a8" fill-opacity="0.7"/>
<circle cx="345.43" cy="1251.93" r="0.45" fill="#5a34a8" fill-opacity="0.4"/>
<circle cx="282.18" cy="1353.34" r="0.61" fill="#5a34a8" fill-opacity="0.35"/>
<circle cx="328.18" cy="1251.29" r="0.57" fill="#5a34a8" fill-opacity="0.35"/>
<circle cx="346.06" cy="1366.43" r="0.4" fill="#5a34a8" fill-opacity="0.34"/>
<circle cx="309.77" cy="1299.51" r="0.79" fill="#5a34a8" fill-opacity="0.45"/>
<circle cx="308.02" cy="1298.26" r="0.46" fill="#5a34a8" fill-opacity="0.6"/>
<circle cx="284.09" cy="1306.3" r="0.66" fill="#5a34a8" fill-opacity="0.54"/>
<circle cx="390.98" cy="1296.85" r="0.8" fill="#5a34a8" fill-opacity="0.41"/>
<circle cx="320.53" cy="1339.03" r="0.51" fill="#5a34a8" fill-opacity="0.55"/>
<circle cx="316.91" cy="1371.53" r="0.59" fill="#5a34a8" fill-opacity="0.61"/>
<circle cx="321.42" cy="1363.81" r="0.75" fill="#5a34a8" fill-opacity="0.66"/>
<circle cx="270.41" cy="1286.39" r="0.42" fill="#5a34a8" fill-opacity="0.65"/>
<circle cx="319.75" cy="1276.35" r="0.78" fill="#5a34a8" fill-opacity="0.61"/>
<circle cx="320.01" cy="1321.63" r="0.62" fill="#5a34a8" fill-opacity="0.41"/>
<circle cx="371.77" cy="1285.18" r="0.57" fill="#5a34a8" fill-opacity="0.54"/>
<circle cx="301.44" cy="1301.04" r="0.72" fill="#5a34a8" fill-opacity="0.59"/>
<circle cx="346.99" cy="1349.77" r="0.84" fill="#5a34a8" fill-opacity="0.46"/>
<circle cx="345.53" cy="1327.92" r="0.41" fill="#5a34a8" fill-opacity="0.42"/>
<circle cx="295.8" cy="1254.1" r="0.77" fill="#5a34a8" fill-opacity="0.61"/>
<circle cx="316.56" cy="1251.39" r="0.62" fill="#5a34a8" fill-opacity="0.5"/>
<circle cx="372.4" cy="1334.38" r="0.74" fill="#5a34a8" fill-opacity="0.46"/>
<circle cx="333.23" cy="1306.59" r="0.52" fill="#5a34a8" fill-opacity="0.46"/>
<circle cx="306.06" cy="1326.47" r="0.76" fill="#5a34a8" fill-opacity="0.32"/>
<circle cx="278.06" cy="1332.64" r="0.82" fill="#5a34a8" fill-opacity="0.52"/>
<circle cx="365.46" cy="1272.12" r="0.43" fill="#5a34a8" fill-opacity="0.53"/>
<circle cx="307.81" cy="1315.92" r="0.7" fill="#5a34a8" fill-opacity="0.65"/>
<circle cx="316.06" cy="1311.42" r="0.7" fill="#5a34a8" fill-opacity="0.64"/>
<circle cx="327.03" cy="1375.57" r="0.88" fill="#5a34a8" fill-opacity="0.49"/>
<circle cx="303.63" cy="1333.44" r="0.49" fill="#5a34a8" fill-opacity="0.59"/>
<circle cx="268.32" cy="1290.26" r="0.49" fill="#5a34a8" fill-opacity="0.45"/>
<circle cx="299.33" cy="1279.09" r="0.55" fill="#5a34a8" fill-opacity="0.42"/>
<circle cx="385.26" cy="1329.5" r="0.87" fill="#5a34a8" fill-opacity="0.68"/>
<circle cx="388.22" cy="1315.7" r="0.42" fill="#5a34a8" fill-opacity="0.3"/>
<circle cx="380.29" cy="1295.39" r="0.77" fill="#5a34a8" fill-opacity="0.36"/>
<circle cx="287.9" cy="1286.83" r="0.42" fill="#5a34a8" fill-opacity="0.67"/>
<circle cx="385.27" cy="1281.82" r="0.56" fill="#5a34a8" fill-opacity="0.58"/>
<circle cx="387.36" cy="1284.95" r="0.47" fill="#5a34a8" fill-opacity="0.39"/>
<circle cx="335.1" cy="1249.11" r="0.75" fill="#5a34a8" fill-opacity="0.35"/>
<circle cx="370.12" cy="1262.41" r="0.84" fill="#5a34a8" fill-opacity="0.38"/>
<circle cx="269.03" cy="1317.56" r="0.66" fill="#5a34a8" fill-opacity="0.35"/>
<circle cx="385.85" cy="1281.27" r="0.74" fill="#5a34a8" fill-opacity="0.35"/>
<circle cx="350.65" cy="1335.07" r="0.46" fill="#5a34a8" fill-opacity="0.5"/>
<circle cx="316.25" cy="1311.24" r="0.46" fill="#5a34a8" fill-opacity="0.59"/>
<circle cx="386.25" cy="1319.28" r="0.46" fill="#5a34a8" fill-opacity="0.59"/>
<circle cx="326.92" cy="1277.01" r="0.44" fill="#5a34a8" fill-opacity="0.48"/>
<circle cx="366.23" cy="1271.48" r="0.69" fill="#5a34a8" fill-opacity="0.43"/>
<circle cx="277.06" cy="1293.49" r="0.74" fill="#5a34a8" fill-opacity="0.58"/>
<circle cx="371.48" cy="1275.44" r="0.76" fill="#5a34a8" fill-opacity="0.48"/>
<circle cx="343.47" cy="1292.64" r="0.45" fill="#5a34a8" fill-opacity="0.58"/>
<circle cx="318.02" cy="1335.7" r="0.86" fill="#5a34a8" fill-opacity="0.38"/>
<circle cx="293.78" cy="1267.79" r="0.5" fill="#5a34a8" fill-opacity="0.57"/>
<circle cx="363.47" cy="1346.7" r="0.76" fill="#5a34a8" fill-opacity="0.52"/>
<circle cx="349.07" cy="1321.57" r="0.81" fill="#5a34a8" fill-opacity="0.32"/>
<circle cx="365.96" cy="1293.61" r="0.74" fill="#5a34a8" fill-opacity="0.64"/>
<circle cx="280.85" cy="1347.04" r="0.86" fill="#5a34a8" fill-opacity="0.55"/>
<circle cx="292.21" cy="1316.38" r="0.72" fill="#5a34a8" fill-opacity="0.31"/>
<circle cx="385.57" cy="1314.42" r="0.42" fill="#5a34a8" fill-opacity="0.66"/>
<circle cx="319.48" cy="1308.47" r="0.66" fill="#5a34a8" fill-opacity="0.55"/>
<circle cx="380.51" cy="1287.03" r="0.75" fill="#5a34a8" fill-opacity="0.47"/>
<circle cx="352.75" cy="1334.93" r="0.81" fill="#5a34a8" fill-opacity="0.5"/>
<circle cx="301.19" cy="1311.63" r="0.69" fill="#5a34a8" fill-opacity="0.34"/>
<circle cx="312.06" cy="1338.83" r="0.42" fill="#5a34a8" fill-opacity="0.62"/>
<circle cx="268.64" cy="1290.04" r="0.42" fill="#5a34a8" fill-opacity="0.47"/>
<circle cx="292.85" cy="1321.42" r="0.43" fill="#5a34a8" fill-opacity="0.44"/>
<circle cx="291.23" cy="1362.35" r="0.76" fill="#5a34a8" fill-opacity="0.63"/>
<circle cx="302.14" cy="1294.76" r="0.4" fill="#5a34a8" fill-opacity="0.53"/>
<circle cx="278.74" cy="1351.61" r="0.6" fill="#5a34a8" fill-opacity="0.37"/>
<circle cx="303.91" cy="1263.79" r="0.49" fill="#5a34a8" fill-opacity="0.55"/>
<circle cx="370.08" cy="1290.51" r="0.73" fill="#5a34a8" fill-opacity="0.69"/>
<circle cx="339.86" cy="1306.4" r="0.49" fill="#5a34a8" fill-opacity="0.67"/>
<circle cx="380.96" cy="1295.24" r="0.58" fill="#5a34a8" fill-opacity="0.54"/>
<circle cx="333.18" cy="1319.53" r="0.5" fill="#5a34a8" fill-opacity="0.6"/>
<circle cx="288.78" cy="1359.5" r="0.7" fill="#5a34a8" fill-opacity="0.65"/>
<circle cx="366.43" cy="1276.8" r="0.57" fill="#5a34a8" fill-opacity="0.42"/>
<circle cx="346.07" cy="1328.23" r="0.4" fill="#5a34a8" fill-opacity="0.49"/>
<circle cx="381.97" cy="1293.4" r="0.79" fill="#5a34a8" fill-opacity="0.57"/>
<circle cx="311.74" cy="1372.45" r="0.55" fill="#5a34a8" fill-opacity="0.52"/>
<circle cx="336.23" cy="1321.37" r="0.47" fill="#5a34a8" fill-opacity="0.52"/>
<circle cx="298.76" cy="1328.79" r="0.47" fill="#5a34a8" fill-opacity="0.31"/>
<circle cx="339.09" cy="1311" r="0.46" fill="#5a34a8" fill-opacity="0.45"/>
<circle cx="322.33" cy="1359.75" r="0.41" fill="#5a34a8" fill-opacity="0.36"/>
<circle cx="264.34" cy="1304.89" r="0.48" fill="#5a34a8" fill-opacity="0.5"/>
<circle cx="363.2" cy="1295.44" r="0.77" fill="#5a34a8" fill-opacity="0.52"/>
<circle cx="386.4" cy="1321.73" r="0.59" fill="#5a34a8" fill-opacity="0.32"/>
<circle cx="305.69" cy="1253.41" r="0.85" fill="#5a34a8" fill-opacity="0.65"/>
<circle cx="291.69" cy="1325.12" r="0.65" fill="#5a34a8" fill-opacity="0.31"/>
<circle cx="336.65" cy="1324.85" r="0.74" fill="#5a34a8" fill-opacity="0.64"/>
<circle cx="361.76" cy="1300.97" r="0.46" fill="#5a34a8" fill-opacity="0.32"/>
<circle cx="358.01" cy="1271.24" r="0.44" fill="#5a34a8" fill-opacity="0.37"/>
<circle cx="295.45" cy="1317.45" r="0.48" fill="#5a34a8" fill-opacity="0.32"/>
<circle cx="333.52" cy="1276.75" r="0.46" fill="#5a34a8" fill-opacity="0.65"/>
<circle cx="318.01" cy="1288.96" r="0.84" fill="#5a34a8" fill-opacity="0.47"/>
<circle cx="374.4" cy="1331.06" r="0.85" fill="#5a34a8" fill-opacity="0.3"/>
<circle cx="368.3" cy="1360.44" r="0.68" fill="#5a34a8" fill-opacity="0.35"/>
<circle cx="319.68" cy="1289.37" r="0.71" fill="#5a34a8" fill-opacity="0.63"/>
<circle cx="301.87" cy="1332.44" r="0.57" fill="#5a34a8" fill-opacity="0.42"/>
<circle cx="293.59" cy="1322.17" r="0.42" fill="#5a34a8" fill-opacity="0.64"/>
<circle cx="351.12" cy="1369.69" r="0.84" fill="#5a34a8" fill-opacity="0.45"/>
<circle cx="291.4" cy="1315.28" r="0.68" fill="#5a34a8" fill-opacity="0.33"/>
<circle cx="373.31" cy="1265.48" r="0.86" fill="#5a34a8" fill-opacity="0.31"/>
<circle cx="306.15" cy="1365.58" r="0.46" fill="#5a34a8" fill-opacity="0.41"/>
<circle cx="384.87" cy="1312.19" r="0.54" fill="#5a34a8" fill-opacity="0.44"/>
<circle cx="342.76" cy="1263.65" r="0.63" fill="#5a34a8" fill-opacity="0.57"/>
<circle cx="310.06" cy="1285.71" r="0.84" fill="#5a34a8" fill-opacity="0.42"/>
<circle cx="327.56" cy="1293.06" r="0.56" fill="#5a34a8" fill-opacity="0.69"/>
<circle cx="321.31" cy="1281.53" r="0.68" fill="#5a34a8" fill-opacity="0.32"/>
<circle cx="389.33" cy="1307.3" r="0.41" fill="#5a34a8" fill-opacity="0.62"/>
<circle cx="307.41" cy="1285.61" r="0.73" fill="#5a34a8" fill-opacity="0.63"/>
<circle cx="322.19" cy="1350.83" r="0.51" fill="#5a34a8" fill-opacity="0.64"/>
<circle cx="302.74" cy="1338.17" r="0.46" fill="#5a34a8" fill-opacity="0.51"/>
<circle cx="364.56" cy="1297.31" r="0.84" fill="#5a34a8" fill-opacity="0.62"/>
<circle cx="312.79" cy="1323.04" r="0.58" fill="#5a34a8" fill-opacity="0.41"/>
<circle cx="293.9" cy="1337.77" r="0.53" fill="#5a34a8" fill-opacity="0.56"/>
<circle cx="340.4" cy="1334.08" r="0.6" fill="#5a34a8" fill-opacity="0.61"/>
<circle cx="348" cy="1325.16" r="0.51" fill="#5a34a8" fill-opacity="0.57"/>
<circle cx="334.44" cy="1258.57" r="0.46" fill="#5a34a8" fill-opacity="0.62"/>
<circle cx="295.38" cy="1268.57" r="0.89" fill="#5a34a8" fill-opacity="0.38"/>
<circle cx="321.18" cy="1274.04" r="0.54" fill="#5a34a8" fill-opacity="0.58"/>
<circle cx="374.16" cy="1329.54" r="0.42" fill="#5a34a8" fill-opacity="0.46"/>
<circle cx="262.32" cy="1314.45" r="0.72" fill="#5a34a8" fill-opacity="0.66"/>
<circle cx="286.41" cy="1266.2" r="0.48" fill="#5a34a8" fill-opacity="0.46"/>
<circle cx="387" cy="1294.85" r="0.61" fill="#5a34a8" fill-opacity="0.32"/>
<circle cx="360.45" cy="1348.73" r="0.73" fill="#5a34a8" fill-opacity="0.53"/>
<circle cx="358.73" cy="1259.61" r="0.78" fill="#5a34a8" fill-opacity="0.57"/>
<circle cx="301.34" cy="1251.57" r="0.8" fill="#5a34a8" fill-opacity="0.68"/>
<circle cx="322.62" cy="1373.55" r="0.82" fill="#5a34a8" fill-opacity="0.66"/>
<circle cx="325.71" cy="1288.2" r="0.74" fill="#5a34a8" fill-opacity="0.45"/>
<circle cx="303.53" cy="1263.43" r="0.43" fill="#5a34a8" fill-opacity="0.52"/>
<circle cx="378.49" cy="1292.86" r="0.78" fill="#5a34a8" fill-opacity="0.49"/>
<circle cx="328.12" cy="1278.71" r="0.51" fill="#5a34a8" fill-opacity="0.43"/>
<circle cx="322.74" cy="1327.18" r="0.75" fill="#5a34a8" fill-opacity="0.37"/>
<circle cx="357.43" cy="1328.98" r="0.57" fill="#5a34a8" fill-opacity="0.3"/>
<circle cx="337.85" cy="1270.76" r="0.45" fill="#5a34a8" fill-opacity="0.42"/>
<circle cx="279.26" cy="1282.17" r="0.6" fill="#5a34a8" fill-opacity="0.3"/>
<circle cx="304.15" cy="1354.97" r="0.4" fill="#5a34a8" fill-opacity="0.33"/>
<circle cx="326.64" cy="1315.44" r="0.88" fill="#5a34a8" fill-opacity="0.37"/>
<circle cx="328.06" cy="1287.29" r="0.48" fill="#5a34a8" fill-opacity="0.55"/>
<circle cx="312.88" cy="1275.17" r="0.42" fill="#5a34a8" fill-opacity="0.3"/>
<circle cx="278.96" cy="1309.52" r="0.54" fill="#5a34a8" fill-opacity="0.53"/>
<circle cx="345.78" cy="1323.98" r="0.62" fill="#5a34a8" fill-opacity="0.51"/>
<circle cx="335.47" cy="1250.69" r="0.81" fill="#5a34a8" fill-opacity="0.58"/>
<circle cx="327.93" cy="1347.37" r="0.59" fill="#5a34a8" fill-opacity="0.69"/>
<circle cx="279.8" cy="1274.81" r="0.67" fill="#5a34a8" fill-opacity="0.64"/>
<circle cx="363.47" cy="1299.66" r="0.49" fill="#5a34a8" fill-opacity="0.36"/>
<circle cx="348.4" cy="1251.19" r="0.64" fill="#5a34a8" fill-opacity="0.51"/>
<circle cx="350.47" cy="1342.18" r="0.85" fill="#5a34a8" fill-opacity="0.48"/>
<circle cx="292.44" cy="1307.7" r="0.89" fill="#5a34a8" fill-opacity="0.44"/>
<circle cx="288.63" cy="1357.64" r="0.43" fill="#5a34a8" fill-opacity="0.68"/>
<circle cx="324.18" cy="1283.05" r="0.49" fill="#5a34a8" fill-opacity="0.39"/>
<circle cx="287.22" cy="1337.33" r="0.41" fill="#5a34a8" fill-opacity="0.57"/>
<circle cx="321.17" cy="1292.81" r="0.59" fill="#5a34a8" fill-opacity="0.57"/>
<circle cx="353.44" cy="1351.26" r="0.42" fill="#5a34a8" fill-opacity="0.48"/>
<circle cx="334.23" cy="1306.5" r="0.63" fill="#5a34a8" fill-opacity="0.62"/>
<circle cx="290.05" cy="1355.61" r="0.87" fill="#5a34a8" fill-opacity="0.39"/>
<circle cx="330.53" cy="1302.05" r="0.69" fill="#5a34a8" fill-opacity="0.66"/>
<circle cx="349.33" cy="1364.36" r="0.47" fill="#5a34a8" fill-opacity="0.38"/>
<circle cx="361.33" cy="1305.75" r="0.56" fill="#5a34a8" fill-opacity="0.59"/>
<circle cx="360.64" cy="1366.43" r="0.46" fill="#5a34a8" fill-opacity="0.47"/>
<circle cx="322.3" cy="1247.95" r="0.6" fill="#5a34a8" fill-opacity="0.34"/>
<circle cx="352.38" cy="1308.93" r="0.6" fill="#5a34a8" fill-opacity="0.48"/>
<circle cx="324.8" cy="1361.35" r="0.67" fill="#5a34a8" fill-opacity="0.63"/>
<circle cx="283.79" cy="1298.61" r="0.84" fill="#5a34a8" fill-opacity="0.59"/>
<circle cx="308.42" cy="1320.46" r="0.58" fill="#5a34a8" fill-opacity="0.52"/>
<circle cx="362.1" cy="1264.55" r="0.86" fill="#5a34a8" fill-opacity="0.56"/>
<circle cx="349.21" cy="1283.81" r="0.47" fill="#5a34a8" fill-opacity="0.42"/>
<circle cx="342.71" cy="1366.65" r="0.59" fill="#5a34a8" fill-opacity="0.3"/>
<circle cx="295.43" cy="1340.02" r="0.45" fill="#5a34a8" fill-opacity="0.37"/>
<circle cx="300.26" cy="1273.02" r="0.48" fill="#5a34a8" fill-opacity="0.51"/>
<circle cx="290.83" cy="1303.36" r="0.4" fill="#5a34a8" fill-opacity="0.43"/>
<circle cx="301.65" cy="1345.17" r="0.42" fill="#5a34a8" fill-opacity="0.37"/>
<circle cx="310.31" cy="1335.73" r="0.53" fill="#5a34a8" fill-opacity="0.38"/>
<circle cx="336.74" cy="1290.5" r="0.62" fill="#5a34a8" fill-opacity="0.7"/>
<circle cx="354.72" cy="1264.23" r="0.75" fill="#5a34a8" fill-opacity="0.56"/>
<circle cx="311.6" cy="1307.33" r="0.5" fill="#5a34a8" fill-opacity="0.43"/>
<circle cx="288.64" cy="1313.61" r="0.64" fill="#5a34a8" fill-opacity="0.32"/>
<circle cx="288.24" cy="1309.72" r="0.8" fill="#5a34a8" fill-opacity="0.46"/>
<circle cx="329.56" cy="1340.17" r="0.72" fill="#5a34a8" fill-opacity="0.57"/>
<circle cx="365.92" cy="1347.29" r="0.65" fill="#5a34a8" fill-opacity="0.45"/>
<circle cx="380.88" cy="1313.2" r="0.68" fill="#5a34a8" fill-opacity="0.61"/>
<circle cx="291.49" cy="1338.93" r="0.48" fill="#5a34a8" fill-opacity="0.49"/>
<circle cx="346.49" cy="1276.4" r="0.62" fill="#5a34a8" fill-opacity="0.42"/>
<circle cx="297.28" cy="1305.65" r="0.41" fill="#5a34a8" fill-opacity="0.66"/>
<circle cx="367.5" cy="1313.86" r="0.54" fill="#5a34a8" fill-opacity="0.4"/>
<circle cx="364.23" cy="1361.99" r="0.49" fill="#5a34a8" fill-opacity="0.48"/>
<circle cx="364.3" cy="1284.89" r="0.47" fill="#5a34a8" fill-opacity="0.48"/>
<circle cx="329.83" cy="1266.69" r="0.57" fill="#5a34a8" fill-opacity="0.45"/>
<circle cx="346.08" cy="1308.53" r="0.41" fill="#5a34a8" fill-opacity="0.35"/>
<circle cx="287.05" cy="1304.87" r="0.88" fill="#5a34a8" fill-opacity="0.7"/>
<circle cx="318.55" cy="1316.23" r="0.52" fill="#5a34a8" fill-opacity="0.42"/>
<circle cx="325.59" cy="1334.32" r="0.48" fill="#5a34a8" fill-opacity="0.34"/>
<circle cx="315.54" cy="1287.98" r="0.44" fill="#5a34a8" fill-opacity="0.35"/>
<circle cx="342.62" cy="1354.85" r="0.44" fill="#5a34a8" fill-opacity="0.63"/>
<circle cx="353.2" cy="1292.99" r="0.4" fill="#5a34a8" fill-opacity="0.39"/>
<circle cx="349.21" cy="1283.21" r="0.49" fill="#5a34a8" fill-opacity="0.33"/>
<circle cx="311.78" cy="1283.89" r="0.43" fill="#5a34a8" fill-opacity="0.41"/>
<circle cx="311.63" cy="1318.06" r="0.58" fill="#5a34a8" fill-opacity="0.69"/>
<circle cx="310.09" cy="1311" r="0.42" fill="#5a34a8" fill-opacity="0.34"/>
<circle cx="356.55" cy="1363.15" r="0.56" fill="#5a34a8" fill-opacity="0.65"/>
<circle cx="313.97" cy="1320.48" r="0.71" fill="#5a34a8" fill-opacity="0.42"/>
<circle cx="322.41" cy="1252.15" r="0.44" fill="#5a34a8" fill-opacity="0.61"/>
<circle cx="307.01" cy="1253.6" r="0.43" fill="#5a34a8" fill-opacity="0.54"/>
<circle cx="311.56" cy="1260.61" r="0.56" fill="#5a34a8" fill-opacity="0.39"/>
<circle cx="335.27" cy="1284.28" r="0.55" fill="#5a34a8" fill-opacity="0.37"/>
<circle cx="299.88" cy="1349.49" r="0.63" fill="#5a34a8" fill-opacity="0.61"/>
<circle cx="376.55" cy="1306.17" r="0.83" fill="#5a34a8" fill-opacity="0.55"/>
<circle cx="369.42" cy="1304.99" r="0.89" fill="#5a34a8" fill-opacity="0.47"/>
<circle cx="338.55" cy="1332.69" r="0.52" fill="#5a34a8" fill-opacity="0.5"/>
<circle cx="311.79" cy="1283.25" r="0.83" fill="#5a34a8" fill-opacity="0.33"/>
<circle cx="371.79" cy="1299.22" r="0.68" fill="#5a34a8" fill-opacity="0.58"/>
<circle cx="319.94" cy="1358.8" r="0.53" fill="#5a34a8" fill-opacity="0.36"/>
<circle cx="373.76" cy="1270.95" r="0.52" fill="#5a34a8" fill-opacity="0.44"/>
<circle cx="294.16" cy="1314.89" r="0.61" fill="#5a34a8" fill-opacity="0.32"/>
<circle cx="308.92" cy="1288.33" r="0.57" fill="#5a34a8" fill-opacity="0.31"/>
<circle cx="306.42" cy="1249.09" r="0.65" fill="#5a34a8" fill-opacity="0.53"/>
<circle cx="306.04" cy="1266.38" r="0.65" fill="#5a34a8" fill-opacity="0.69"/>
<circle cx="340.79" cy="1294.85" r="0.41" fill="#5a34a8" fill-opacity="0.53"/>
<circle cx="283.21" cy="1309.1" r="0.68" fill="#5a34a8" fill-opacity="0.32"/>
<circle cx="351.25" cy="1320.75" r="0.55" fill="#5a34a8" fill-opacity="0.47"/>
<circle cx="318.55" cy="1349.13" r="0.4" fill="#5a34a8" fill-opacity="0.32"/>
<circle cx="388.55" cy="1322.72" r="0.5" fill="#5a34a8" fill-opacity="0.37"/>
<circle cx="311.37" cy="1361.71" r="0.86" fill="#5a34a8" fill-opacity="0.61"/>
<circle cx="280.78" cy="1276.45" r="0.43" fill="#5a34a8" fill-opacity="0.39"/>
<circle cx="305.85" cy="1295.24" r="0.78" fill="#5a34a8" fill-opacity="0.56"/>
<circle cx="291.46" cy="1271.01" r="0.59" fill="#5a34a8" fill-opacity="0.61"/>
<circle cx="352.49" cy="1269.09" r="0.48" fill="#5a34a8" fill-opacity="0.61"/>
<circle cx="368.71" cy="1298.76" r="0.45" fill="#5a34a8" fill-opacity="0.45"/>
<circle cx="342.43" cy="1331.01" r="0.75" fill="#5a34a8" fill-opacity="0.35"/>
<circle cx="359.64" cy="1323.71" r="0.88" fill="#5a34a8" fill-opacity="0.4"/>
<circle cx="273.35" cy="1326.88" r="0.57" fill="#5a34a8" fill-opacity="0.5"/>
<circle cx="380.59" cy="1348.03" r="0.75" fill="#5a34a8" fill-opacity="0.49"/>
<circle cx="318.2" cy="1297.87" r="0.5" fill="#5a34a8" fill-opacity="0.6"/>
<circle cx="319.12" cy="1327.13" r="0.59" fill="#5a34a8" fill-opacity="0.67"/>
<circle cx="319.53" cy="1270.23" r="0.82" fill="#5a34a8" fill-opacity="0.31"/>
<circle cx="345.22" cy="1339.35" r="0.73" fill="#5a34a8" fill-opacity="0.43"/>
<circle cx="288.23" cy="1328.29" r="0.85" fill="#5a34a8" fill-opacity="0.57"/>
<circle cx="303.65" cy="1330.11" r="0.53" fill="#5a34a8" fill-opacity="0.64"/>
<circle cx="317.56" cy="1328.2" r="0.84" fill="#5a34a8" fill-opacity="0.47"/>
<circle cx="280.46" cy="1321.6" r="0.83" fill="#5a34a8" fill-opacity="0.4"/>
<circle cx="323.71" cy="1350.97" r="0.73" fill="#5a34a8" fill-opacity="0.49"/>
<circle cx="329.47" cy="1350.38" r="0.64" fill="#5a34a8" fill-opacity="0.49"/>
<circle cx="313.09" cy="1248.2" r="0.4" fill="#5a34a8" fill-opacity="0.64"/>
<circle cx="370.63" cy="1327.05" r="0.6" fill="#5a34a8" fill-opacity="0.4"/>
<circle cx="344.83" cy="1264.98" r="0.59" fill="#5a34a8" fill-opacity="0.49"/>
<circle cx="268.97" cy="1283.54" r="0.41" fill="#5a34a8" fill-opacity="0.44"/>
<circle cx="315.3" cy="1273.65" r="0.47" fill="#5a34a8" fill-opacity="0.45"/>
<circle cx="311.62" cy="1273" r="0.73" fill="#5a34a8" fill-opacity="0.55"/>
<circle cx="376.24" cy="1313.33" r="0.47" fill="#5a34a8" fill-opacity="0.67"/>
<circle cx="328.57" cy="1369.68" r="0.42" fill="#5a34a8" fill-opacity="0.65"/>
<circle cx="349.29" cy="1271.59" r="0.62" fill="#5a34a8" fill-opacity="0.31"/>
<circle cx="292.52" cy="1326.33" r="0.77" fill="#5a34a8" fill-opacity="0.34"/>
<circle cx="303.74" cy="1251.12" r="0.44" fill="#5a34a8" fill-opacity="0.66"/>
<circle cx="341.32" cy="1369.65" r="0.85" fill="#5a34a8" fill-opacity="0.43"/>
<circle cx="291.34" cy="1354.91" r="0.4" fill="#5a34a8" fill-opacity="0.38"/>
<circle cx="372.02" cy="1330.9" r="0.86" fill="#5a34a8" fill-opacity="0.67"/>
<circle cx="322.59" cy="1334.06" r="0.8" fill="#5a34a8" fill-opacity="0.34"/>
<circle cx="329.4" cy="1254.98" r="0.64" fill="#5a34a8" fill-opacity="0.66"/>
<circle cx="300.26" cy="1354.07" r="0.42" fill="#5a34a8" fill-opacity="0.54"/>
<circle cx="312.62" cy="1295.5" r="0.81" fill="#5a34a8" fill-opacity="0.36"/>
<circle cx="378.61" cy="1317.51" r="0.66" fill="#5a34a8" fill-opacity="0.48"/>
<circle cx="278.79" cy="1272.25" r="0.57" fill="#5a34a8" fill-opacity="0.43"/>
<circle cx="316.12" cy="1334.87" r="0.8" fill="#5a34a8" fill-opacity="0.59"/>
<circle cx="313.87" cy="1254.16" r="0.87" fill="#5a34a8" fill-opacity="0.3"/>
<circle cx="295.72" cy="1274.47" r="0.4" fill="#5a34a8" fill-opacity="0.51"/>
<circle cx="296.41" cy="1262.75" r="0.42" fill="#5a34a8" fill-opacity="0.62"/>
<circle cx="318.7" cy="1361.33" r="0.82" fill="#5a34a8" fill-opacity="0.37"/>
<circle cx="317.28" cy="1306.45" r="0.8" fill="#5a34a8" fill-opacity="0.49"/>
<circle cx="375.47" cy="1299.94" r="0.49" fill="#5a34a8" fill-opacity="0.33"/>
<circle cx="347.77" cy="1367.73" r="0.42" fill="#5a34a8" fill-opacity="0.47"/>
<circle cx="279.47" cy="1332.11" r="0.41" fill="#5a34a8" fill-opacity="0.5"/>
<circle cx="326.7" cy="1249.27" r="0.77" fill="#5a34a8" fill-opacity="0.55"/>
<circle cx="274.36" cy="1303.05" r="0.56" fill="#5a34a8" fill-opacity="0.66"/>
<circle cx="277.26" cy="1315.43" r="0.43" fill="#5a34a8" fill-opacity="0.68"/>
<circle cx="364.92" cy="1356.79" r="0.45" fill="#5a34a8" fill-opacity="0.35"/>
<circle cx="264.69" cy="1324.57" r="0.74" fill="#5a34a8" fill-opacity="0.56"/>
<circle cx="303.83" cy="1334.54" r="0.79" fill="#5a34a8" fill-opacity="0.68"/>
<circle cx="339.55" cy="1343.54" r="0.85" fill="#5a34a8" fill-opacity="0.38"/>
<circle cx="305.64" cy="1259.33" r="0.4" fill="#5a34a8" fill-opacity="0.46"/>
<circle cx="269.11" cy="1305.66" r="0.53" fill="#5a34a8" fill-opacity="0.65"/>
<circle cx="343.24" cy="1253.58" r="0.79" fill="#5a34a8" fill-opacity="0.33"/>
<circle cx="308.41" cy="1365.14" r="0.74" fill="#5a34a8" fill-opacity="0.67"/>
<circle cx="333.57" cy="1357.38" r="0.84" fill="#5a34a8" fill-opacity="0.46"/>
<circle cx="341.5" cy="1267.67" r="0.4" fill="#5a34a8" fill-opacity="0.58"/>
<circle cx="390.65" cy="1301.98" r="0.43" fill="#5a34a8" fill-opacity="0.43"/>
<circle cx="288.48" cy="1313.52" r="0.81" fill="#5a34a8" fill-opacity="0.58"/>
<circle cx="339.41" cy="1291.29" r="0.74" fill="#5a34a8" fill-opacity="0.61"/>
<circle cx="369.47" cy="1301.01" r="0.43" fill="#5a34a8" fill-opacity="0.37"/>
<circle cx="270.13" cy="1288.79" r="0.44" fill="#5a34a8" fill-opacity="0.5"/>
<circle cx="317.03" cy="1256.79" r="0.43" fill="#5a34a8" fill-opacity="0.65"/>
<circle cx="350.62" cy="1266.59" r="0.61" fill="#5a34a8" fill-opacity="0.44"/>
<circle cx="316" cy="1261.96" r="0.69" fill="#5a34a8" fill-opacity="0.33"/>
<circle cx="340.1" cy="1320.85" r="0.59" fill="#5a34a8" fill-opacity="0.57"/>
<circle cx="377.51" cy="1287.65" r="0.73" fill="#5a34a8" fill-opacity="0.61"/>
<circle cx="369.65" cy="1262.12" r="0.45" fill="#5a34a8" fill-opacity="0.39"/>
<circle cx="350.07" cy="1353.72" r="0.58" fill="#5a34a8" fill-opacity="0.34"/>
<circle cx="359.46" cy="1282.46" r="0.5" fill="#5a34a8" fill-opacity="0.3"/>
<circle cx="378.05" cy="1333.5" r="0.72" fill="#5a34a8" fill-opacity="0.39"/>
<circle cx="277.34" cy="1316.71" r="0.46" fill="#5a34a8" fill-opacity="0.34"/>
<circle cx="349.44" cy="1323.42" r="0.63" fill="#5a34a8" fill-opacity="0.62"/>
<circle cx="309.06" cy="1323.77" r="0.81" fill="#5a34a8" fill-opacity="0.48"/>
<circle cx="296.15" cy="1257.4" r="0.41" fill="#5a34a8" fill-opacity="0.34"/>
<circle cx="330.53" cy="1305.3" r="0.41" fill="#5a34a8" fill-opacity="0.46"/>
<circle cx="357.38" cy="1357.93" r="0.76" fill="#5a34a8" fill-opacity="0.67"/>
<circle cx="280.67" cy="1345.74" r="0.58" fill="#5a34a8" fill-opacity="0.36"/>
<circle cx="392.57" cy="1304.36" r="0.48" fill="#5a34a8" fill-opacity="0.53"/>
<circle cx="263.02" cy="1302.19" r="0.78" fill="#5a34a8" fill-opacity="0.68"/>
<circle cx="309.36" cy="1346.39" r="0.5" fill="#5a34a8" fill-opacity="0.42"/>
<circle cx="365.27" cy="1268.36" r="0.77" fill="#5a34a8" fill-opacity="0.36"/>
<circle cx="320.08" cy="1333.85" r="0.76" fill="#5a34a8" fill-opacity="0.57"/>
<circle cx="297.8" cy="1293.8" r="0.71" fill="#5a34a8" fill-opacity="0.63"/>
<circle cx="387.5" cy="1318.14" r="0.73" fill="#5a34a8" fill-opacity="0.62"/>
<circle cx="267.16" cy="1323.4" r="0.42" fill="#5a34a8" fill-opacity="0.41"/>
<circle cx="358.58" cy="1333" r="0.55" fill="#5a34a8" fill-opacity="0.56"/>
<circle cx="343.86" cy="1374.35" r="0.48" fill="#5a34a8" fill-opacity="0.56"/>
<circle cx="271.25" cy="1326.07" r="0.48" fill="#5a34a8" fill-opacity="0.42"/>
<circle cx="301.16" cy="1347.32" r="0.52" fill="#5a34a8" fill-opacity="0.37"/>
<circle cx="330.37" cy="1301.73" r="0.81" fill="#5a34a8" fill-opacity="0.65"/>
<circle cx="344.99" cy="1363.88" r="0.48" fill="#5a34a8" fill-opacity="0.69"/>
<circle cx="360.99" cy="1313.5" r="0.45" fill="#5a34a8" fill-opacity="0.69"/>
<circle cx="305.9" cy="1351.73" r="0.64" fill="#5a34a8" fill-opacity="0.62"/>
<circle cx="328.86" cy="1325.68" r="0.79" fill="#5a34a8" fill-opacity="0.44"/>
<circle cx="387.99" cy="1312.46" r="0.8" fill="#5a34a8" fill-opacity="0.31"/>
<circle cx="269.95" cy="1286.38" r="0.42" fill="#5a34a8" fill-opacity="0.63"/>
<circle cx="389.78" cy="1302.77" r="0.42" fill="#5a34a8" fill-opacity="0.37"/>
<circle cx="322.8" cy="1293.59" r="0.56" fill="#5a34a8" fill-opacity="0.47"/>
<circle cx="263.45" cy="1321.23" r="0.54" fill="#5a34a8" fill-opacity="0.54"/>
<circle cx="383.39" cy="1316.79" r="0.42" fill="#5a34a8" fill-opacity="0.34"/>
<circle cx="343.98" cy="1260.58" r="0.82" fill="#5a34a8" fill-opacity="0.4"/>
<circle cx="365.06" cy="1260.79" r="0.7" fill="#5a34a8" fill-opacity="0.59"/>
<circle cx="281.88" cy="1273" r="0.41" fill="#5a34a8" fill-opacity="0.4"/>
<circle cx="274.32" cy="1314.28" r="0.57" fill="#5a34a8" fill-opacity="0.51"/>
<circle cx="275.78" cy="1293.62" r="0.48" fill="#5a34a8" fill-opacity="0.63"/>
<circle cx="356.76" cy="1317.78" r="0.74" fill="#5a34a8" fill-opacity="0.53"/>
<circle cx="303.28" cy="1367.41" r="0.51" fill="#5a34a8" fill-opacity="0.31"/>
<circle cx="344.94" cy="1304.52" r="0.48" fill="#5a34a8" fill-opacity="0.31"/>
<circle cx="363.43" cy="1264.82" r="0.51" fill="#5a34a8" fill-opacity="0.69"/>
<circle cx="383.61" cy="1320.69" r="0.54" fill="#5a34a8" fill-opacity="0.62"/>
<circle cx="337.75" cy="1366.08" r="0.54" fill="#5a34a8" fill-opacity="0.45"/>
<circle cx="323.05" cy="1311.62" r="0.78" fill="#5a34a8" fill-opacity="0.47"/>
<circle cx="341.48" cy="1292.87" r="0.43" fill="#5a34a8" fill-opacity="0.58"/>
<circle cx="284.77" cy="1360.53" r="0.44" fill="#5a34a8" fill-opacity="0.31"/>
<circle cx="287.56" cy="1289.43" r="0.84" fill="#5a34a8" fill-opacity="0.7"/>
<circle cx="333.58" cy="1307.97" r="0.54" fill="#5a34a8" fill-opacity="0.6"/>
<circle cx="314.11" cy="1297.39" r="0.55" fill="#5a34a8" fill-opacity="0.34"/>
<circle cx="354.15" cy="1324.01" r="0.49" fill="#5a34a8" fill-opacity="0.37"/>
<circle cx="353.78" cy="1286.45" r="0.59" fill="#5a34a8" fill-opacity="0.39"/>
<circle cx="352.21" cy="1298.8" r="0.79" fill="#5a34a8" fill-opacity="0.67"/>
<circle cx="314.08" cy="1292.47" r="0.89" fill="#5a34a8" fill-opacity="0.53"/>
<circle cx="372.38" cy="1268.65" r="0.81" fill="#5a34a8" fill-opacity="0.34"/>
<circle cx="318.21" cy="1332.35" r="0.52" fill="#5a34a8" fill-opacity="0.61"/>
<circle cx="309.47" cy="1257.66" r="0.4" fill="#5a34a8" fill-opacity="0.3"/>
<circle cx="351.09" cy="1342.81" r="0.43" fill="#5a34a8" fill-opacity="0.65"/>
<circle cx="295.38" cy="1323.45" r="0.57" fill="#5a34a8" fill-opacity="0.7"/>
<circle cx="331.21" cy="1267.2" r="0.66" fill="#5a34a8" fill-opacity="0.54"/>
<circle cx="373.32" cy="1269.02" r="0.69" fill="#5a34a8" fill-opacity="0.48"/>
<circle cx="332.76" cy="1279.35" r="0.41" fill="#5a34a8" fill-opacity="0.6"/>
<circle cx="387.43" cy="1291.88" r="0.5" fill="#5a34a8" fill-opacity="0.55"/>
<circle cx="318.65" cy="1350.78" r="0.65" fill="#5a34a8" fill-opacity="0.41"/>
<circle cx="374.4" cy="1347.12" r="0.43" fill="#5a34a8" fill-opacity="0.42"/>
<circle cx="338.84" cy="1359.27" r="0.45" fill="#5a34a8" fill-opacity="0.48"/>
<circle cx="366.86" cy="1295.16" r="0.7" fill="#5a34a8" fill-opacity="0.69"/>
<circle cx="277.69" cy="1340.87" r="0.49" fill="#5a34a8" fill-opacity="0.31"/>
<circle cx="368.29" cy="1342.8" r="0.79" fill="#5a34a8" fill-opacity="0.68"/>
<circle cx="377.08" cy="1312.5" r="0.53" fill="#5a34a8" fill-opacity="0.52"/>
<circle cx="297.95" cy="1290.5" r="0.4" fill="#5a34a8" fill-opacity="0.31"/>
<circle cx="358.3" cy="1287.19" r="0.79" fill="#5a34a8" fill-opacity="0.53"/>
<circle cx="364.34" cy="1302.93" r="0.65" fill="#5a34a8" fill-opacity="0.44"/>
<circle cx="317.56" cy="1295.95" r="0.6" fill="#5a34a8" fill-opacity="0.68"/>
<circle cx="316.54" cy="1366.7" r="0.9" fill="#5a34a8" fill-opacity="0.65"/>
<circle cx="366.86" cy="1322.85" r="0.69" fill="#5a34a8" fill-opacity="0.44"/>
<circle cx="280.55" cy="1298.21" r="0.9" fill="#5a34a8" fill-opacity="0.57"/>
<circle cx="273.01" cy="1307.48" r="0.85" fill="#5a34a8" fill-opacity="0.57"/>
<circle cx="326.23" cy="1327.75" r="0.45" fill="#5a34a8" fill-opacity="0.59"/>
<circle cx="340.76" cy="1350.02" r="0.47" fill="#5a34a8" fill-opacity="0.31"/>
<circle cx="269.54" cy="1340.04" r="0.41" fill="#5a34a8" fill-opacity="0.46"/>
<circle cx="280.76" cy="1301.88" r="0.69" fill="#5a34a8" fill-opacity="0.36"/>
<circle cx="279.54" cy="1323.32" r="0.41" fill="#5a34a8" fill-opacity="0.53"/>
<circle cx="343.92" cy="1325.41" r="0.55" fill="#5a34a8" fill-opacity="0.7"/>
<circle cx="318.99" cy="1307.99" r="0.41" fill="#5a34a8" fill-opacity="0.52"/>
<circle cx="311.92" cy="1321.99" r="0.43" fill="#5a34a8" fill-opacity="0.58"/>
<circle cx="363.2" cy="1317.87" r="0.74" fill="#5a34a8" fill-opacity="0.32"/>
<circle cx="303.95" cy="1299.18" r="0.46" fill="#5a34a8" fill-opacity="0.48"/>
<circle cx="381.33" cy="1341.76" r="0.65" fill="#5a34a8" fill-opacity="0.38"/>
<circle cx="357.47" cy="1252.74" r="0.45" fill="#5a34a8" fill-opacity="0.65"/>
<circle cx="290.35" cy="1316.24" r="0.41" fill="#5a34a8" fill-opacity="0.47"/>
<circle cx="332.19" cy="1291.16" r="0.78" fill="#5a34a8" fill-opacity="0.47"/>
<circle cx="329.74" cy="1286.85" r="0.53" fill="#5a34a8" fill-opacity="0.62"/>
<circle cx="305.16" cy="1250.58" r="0.76" fill="#5a34a8" fill-opacity="0.32"/>
<circle cx="328.75" cy="1249.96" r="0.67" fill="#5a34a8" fill-opacity="0.42"/>
<circle cx="318.91" cy="1313.3" r="0.51" fill="#5a34a8" fill-opacity="0.35"/>
<circle cx="376.57" cy="1279.3" r="0.57" fill="#5a34a8" fill-opacity="0.58"/>
<circle cx="297.46" cy="1317.13" r="0.49" fill="#5a34a8" fill-opacity="0.3"/>
<circle cx="328.92" cy="1328.5" r="0.49" fill="#5a34a8" fill-opacity="0.35"/>
<circle cx="282.77" cy="1293.36" r="0.71" fill="#5a34a8" fill-opacity="0.5"/>
<circle cx="334.72" cy="1250.14" r="0.43" fill="#5a34a8" fill-opacity="0.33"/>
<circle cx="365.27" cy="1352.31" r="0.63" fill="#5a34a8" fill-opacity="0.4"/>
<circle cx="380.3" cy="1324.33" r="0.86" fill="#5a34a8" fill-opacity="0.37"/>
<circle cx="375.21" cy="1322.41" r="0.4" fill="#5a34a8" fill-opacity="0.63"/>
<circle cx="276.53" cy="1270.08" r="0.66" fill="#5a34a8" fill-opacity="0.52"/>
<circle cx="314.44" cy="1273.01" r="0.49" fill="#5a34a8" fill-opacity="0.68"/>
<circle cx="351.46" cy="1350.37" r="0.45" fill="#5a34a8" fill-opacity="0.37"/>
<circle cx="360.86" cy="1287.96" r="0.53" fill="#5a34a8" fill-opacity="0.51"/>
<circle cx="342.17" cy="1268.96" r="0.9" fill="#5a34a8" fill-opacity="0.49"/>
<circle cx="364.49" cy="1278.91" r="0.87" fill="#5a34a8" fill-opacity="0.67"/>
<circle cx="345.46" cy="1330.15" r="0.85" fill="#5a34a8" fill-opacity="0.38"/>
</g></g>
<rect x="255.9" y="1239.5" width="143.3" height="142.9" fill="none" stroke="#111" stroke-width="1.4"/>
<line x1="113.5" y1="1387.2" x2="393.6" y2="1387.2" stroke="#000" stroke-width="1.6"/>
<text x="252.6" y="1425" font-size="36.72" text-anchor="middle" textLength="328.16" lengthAdjust="spacingAndGlyphs">2D Colony formation</text>
<line x1="549.9" y1="1063.6" x2="549.9" y2="1357.6" stroke="#000" stroke-width="2.6"/>
<line x1="541.3" y1="1064.9" x2="549.9" y2="1064.9" stroke="#000" stroke-width="2.6"/>
<text x="537" y="1072.98" font-size="23.52" text-anchor="end" font-weight="bold" textLength="35.04" lengthAdjust="spacingAndGlyphs">400</text>
<line x1="541.3" y1="1137.75" x2="549.9" y2="1137.75" stroke="#000" stroke-width="2.6"/>
<text x="537" y="1145.84" font-size="23.52" text-anchor="end" font-weight="bold" textLength="35.04" lengthAdjust="spacingAndGlyphs">300</text>
<line x1="541.3" y1="1210.6" x2="549.9" y2="1210.6" stroke="#000" stroke-width="2.6"/>
<text x="537" y="1218.68" font-size="23.52" text-anchor="end" font-weight="bold" textLength="35.04" lengthAdjust="spacingAndGlyphs">200</text>
<line x1="541.3" y1="1283.45" x2="549.9" y2="1283.45" stroke="#000" stroke-width="2.6"/>
<text x="537" y="1291.54" font-size="23.52" text-anchor="end" font-weight="bold" textLength="35.04" lengthAdjust="spacingAndGlyphs">100</text>
<line x1="541.3" y1="1356.3" x2="549.9" y2="1356.3" stroke="#000" stroke-width="2.6"/>
<text x="537" y="1364.38" font-size="23.52" text-anchor="end" font-weight="bold" textLength="11.68" lengthAdjust="spacingAndGlyphs">0</text>
<line x1="541.3" y1="1356.3" x2="841.7" y2="1356.3" stroke="#000" stroke-width="2.6"/>
<line x1="621.2" y1="1356.3" x2="621.2" y2="1365.3" stroke="#000" stroke-width="2.6"/>
<line x1="766.7" y1="1356.3" x2="766.7" y2="1365.3" stroke="#000" stroke-width="2.6"/>
<rect x="573" y="1284.18" width="41.6" height="72.12" fill="#808080" stroke="#000" stroke-width="2.3"/>
<rect x="630" y="1236.97" width="41.5" height="119.33" fill="#f98080" stroke="#000" stroke-width="2.3"/>
<rect x="717.9" y="1284.18" width="41.5" height="72.12" fill="#808080" stroke="#000" stroke-width="2.3"/>
<rect x="774.5" y="1155.23" width="41.5" height="201.07" fill="#f98080" stroke="#000" stroke-width="2.3"/>
<circle cx="578" cy="1288.4" r="5" fill="#000"/>
<circle cx="593.8" cy="1276.2" r="5" fill="#000"/>
<circle cx="610.2" cy="1285.4" r="5" fill="#000"/>
<circle cx="634.6" cy="1224.9" r="5" fill="#ec1116"/>
<circle cx="667.1" cy="1236.6" r="5" fill="#ec1116"/>
<circle cx="634.6" cy="1247.4" r="5" fill="#ec1116"/>
<circle cx="722.8" cy="1290.3" r="5" fill="#000"/>
<circle cx="738.4" cy="1279.1" r="5" fill="#000"/>
<circle cx="755" cy="1281.5" r="5" fill="#000"/>
<circle cx="779.4" cy="1148.7" r="5" fill="#ec1116"/>
<circle cx="779.4" cy="1160.9" r="5" fill="#ec1116"/>
<circle cx="811.6" cy="1154.8" r="5" fill="#ec1116"/>
<line x1="593.8" y1="1277.4" x2="593.8" y2="1288.9" stroke="#000" stroke-width="2.6"/>
<line x1="582.3" y1="1277.4" x2="605.3" y2="1277.4" stroke="#000" stroke-width="2.6"/>
<line x1="582.3" y1="1288.9" x2="605.3" y2="1288.9" stroke="#000" stroke-width="2.6"/>
<line x1="650.7" y1="1225.4" x2="650.7" y2="1247.3" stroke="#000" stroke-width="2.6"/>
<line x1="639.2" y1="1225.4" x2="662.2" y2="1225.4" stroke="#000" stroke-width="2.6"/>
<line x1="639.2" y1="1247.3" x2="662.2" y2="1247.3" stroke="#000" stroke-width="2.6"/>
<line x1="738.6" y1="1278" x2="738.6" y2="1288" stroke="#000" stroke-width="2.6"/>
<line x1="727.1" y1="1278" x2="750.1" y2="1278" stroke="#000" stroke-width="2.6"/>
<line x1="727.1" y1="1288" x2="750.1" y2="1288" stroke="#000" stroke-width="2.6"/>
<line x1="795.2" y1="1148" x2="795.2" y2="1161" stroke="#000" stroke-width="2.6"/>
<line x1="783.7" y1="1148" x2="806.7" y2="1148" stroke="#000" stroke-width="2.6"/>
<line x1="783.7" y1="1161" x2="806.7" y2="1161" stroke="#000" stroke-width="2.6"/>
<text x="651.5" y="1209.7" font-size="33" text-anchor="middle" textLength="27" lengthAdjust="spacingAndGlyphs">**</text>
<text x="795.5" y="1133.5" font-size="33" text-anchor="middle" textLength="41.5" lengthAdjust="spacingAndGlyphs">***</text>
<circle cx="580.9" cy="1079.6" r="5" fill="#000"/>
<text x="613.9" y="1088.1" font-size="29.68" textLength="41.24" lengthAdjust="spacingAndGlyphs">vec</text>
<circle cx="580.9" cy="1117" r="5" fill="#ec1116"/>
<text x="613.9" y="1124.8" font-size="29.68" textLength="72.15" lengthAdjust="spacingAndGlyphs">CCN3</text>
<text transform="translate(479 1213.3) rotate(-90)" x="0" y="0" font-size="39.87" text-anchor="middle" textLength="377.94" lengthAdjust="spacingAndGlyphs">Relative colony # / Field</text>
<text x="621" y="1401.6" font-size="37.1" text-anchor="middle" textLength="75.83" lengthAdjust="spacingAndGlyphs">HCC</text>
<text x="623.3" y="1444.9" font-size="37.1" text-anchor="middle" textLength="77.86" lengthAdjust="spacingAndGlyphs">1806</text>
<text x="702.3" y="1401.6" font-size="37.31" textLength="89.95" lengthAdjust="spacingAndGlyphs">MDA-</text>
<text x="765.6" y="1444.9" font-size="37.31" text-anchor="middle" textLength="123.26" lengthAdjust="spacingAndGlyphs">MB-468</text>
<text x="889.5" y="1063.7" font-size="50" font-weight="bold" fill="#231815">F</text>
<path d="M954.8 1254 L961.8 1254 L961 1375 Z" fill="#f6cfcf" stroke="#222" stroke-width="0.9"/>
<g fill="#f4c6c6" stroke="#333" stroke-width="1.1">

<rect x="0" y="-2.3" width="17.8" height="4.6" rx="2.3" transform="translate(925.5 1120.5) rotate(38.16)"/>
<rect x="0" y="-2.3" width="17.73" height="4.6" rx="2.3" transform="translate(993 1119) rotate(139.57)"/>
<path d="M943.5 1237 C944.67 1237.67 945.58 1241.83 944.5 1244 C943.42 1246.17 939.17 1248.33 937 1250 C934.83 1251.67 932.83 1252.25 931.5 1254 C930.17 1255.75 929.95 1259.67 929 1260.5 C928.05 1261.33 926.25 1260.42 925.8 1259 C925.35 1257.58 925.27 1254 926.3 1252 C927.33 1250 930.13 1249 932 1247 C933.87 1245 935.58 1241.67 937.5 1240 C939.42 1238.33 942.33 1236.33 943.5 1237 Z"/>
<path d="M978 1238.5 C979.08 1238.83 980.83 1241.42 983 1243 C985.17 1244.58 988.83 1246.58 991 1248 C993.17 1249.42 995.58 1250.58 996 1251.5 C996.42 1252.42 995 1253.5 993.5 1253.5 C992 1253.5 989.5 1252.75 987 1251.5 C984.5 1250.25 980.25 1247.75 978.5 1246 C976.75 1244.25 976.58 1242.25 976.5 1241 C976.42 1239.75 976.92 1238.17 978 1238.5 Z"/>
</g>
<path d="M958.5 1093.7 C961 1093.7 963.42 1097.7 966 1100.5 C968.58 1103.3 971.5 1107.08 974 1110.5 C976.5 1113.92 979.28 1117.22 981 1121 C982.72 1124.78 984.13 1129.03 984.3 1133.2 C984.47 1137.37 982.55 1141.43 982 1146 C981.45 1150.57 980.75 1155.27 981 1160.6 C981.25 1165.93 982.55 1172.63 983.5 1178 C984.45 1183.37 985.82 1187.63 986.7 1192.8 C987.58 1197.97 988.67 1203.97 988.8 1209 C988.93 1214.03 988.22 1218.83 987.5 1223 C986.78 1227.17 986.08 1231 984.5 1234 C982.92 1237 980.58 1238.25 978 1241 C975.42 1243.75 972.5 1247.93 969 1250.5 C965.5 1253.07 960.83 1256.48 957 1256.4 C953.17 1256.32 949.08 1252.48 946 1250 C942.92 1247.52 940.58 1244.83 938.5 1241.5 C936.42 1238.17 934.75 1234.92 933.5 1230 C932.25 1225.08 931.53 1218.2 931 1212 C930.47 1205.8 930.22 1198.97 930.3 1192.8 C930.38 1186.63 931.1 1180.37 931.5 1175 C931.9 1169.63 932.4 1165.43 932.7 1160.6 C933 1155.77 933.17 1150.57 933.3 1146 C933.43 1141.43 933.05 1137.37 933.5 1133.2 C933.95 1129.03 934.42 1124.78 936 1121 C937.58 1117.22 940.5 1113.92 943 1110.5 C945.5 1107.08 948.42 1103.3 951 1100.5 C953.58 1097.7 956 1093.7 958.5 1093.7 Z" fill="#fff" stroke="#1a1a1a" stroke-width="1.3"/>
<path d="M936.8 1121.5 C931 1114 936.5 1104 945.5 1107" fill="#fff" stroke="#1a1a1a" stroke-width="1.2"/>
<path d="M980.2 1119.5 C986 1112 981 1102.5 971.5 1105" fill="#fff" stroke="#1a1a1a" stroke-width="1.2"/>
<ellipse cx="958.5" cy="1096.2" rx="3.6" ry="2.4" fill="#f2c4c4"/>
<circle cx="973.8" cy="1216.1" r="17.5" fill="url(#glow)"/>
<g>
<circle cx="974.41" cy="1216.92" r="1.19" fill="#5e2e4e"/>
<circle cx="976.92" cy="1212.71" r="1.49" fill="#7a3c5a"/>
<circle cx="972.51" cy="1216.43" r="1.16" fill="#7a3c5a"/>
<circle cx="972.02" cy="1215.53" r="1.34" fill="#8e4a62"/>
<circle cx="974.08" cy="1214.85" r="1.19" fill="#a05a70"/>
<circle cx="969.51" cy="1215.71" r="0.9" fill="#a05a70"/>
<circle cx="974.32" cy="1219.18" r="1.06" fill="#5e2e4e"/>
<circle cx="972.06" cy="1216.05" r="1.59" fill="#8e4a62"/>
<circle cx="974" cy="1213.57" r="0.91" fill="#8e4a62"/>
<circle cx="973.81" cy="1215.75" r="1.39" fill="#8e4a62"/>
<circle cx="969.29" cy="1217.94" r="1.19" fill="#5e2e4e"/>
<circle cx="972.35" cy="1213.08" r="1.17" fill="#a05a70"/>
<circle cx="976.86" cy="1215.09" r="1.41" fill="#8e4a62"/>
<circle cx="973.01" cy="1216.39" r="1.14" fill="#7a3c5a"/>
<circle cx="975.52" cy="1215.97" r="1.05" fill="#8e4a62"/>
<circle cx="969.84" cy="1217.39" r="1.27" fill="#7a3c5a"/>
<circle cx="971.33" cy="1214.87" r="1.24" fill="#7a3c5a"/>
<circle cx="973.48" cy="1220.02" r="1.21" fill="#7a3c5a"/>
<circle cx="975.75" cy="1213.09" r="1.14" fill="#a05a70"/>
<circle cx="971.11" cy="1213.2" r="1.41" fill="#8e4a62"/>
<circle cx="971.97" cy="1217.49" r="1.17" fill="#7a3c5a"/>
<circle cx="969.4" cy="1216.14" r="1.52" fill="#7a3c5a"/>
<circle cx="970.42" cy="1216.21" r="1" fill="#7a3c5a"/>
<circle cx="970.32" cy="1218.87" r="1.44" fill="#5e2e4e"/>
<circle cx="971.6" cy="1213.25" r="1.14" fill="#5e2e4e"/>
<circle cx="975.68" cy="1215.69" r="1.12" fill="#8e4a62"/>
<circle cx="976.11" cy="1218.3" r="1.04" fill="#a05a70"/>
<circle cx="976.98" cy="1212.8" r="1.13" fill="#a05a70"/>
<circle cx="975.27" cy="1215.48" r="1.06" fill="#7a3c5a"/>
<circle cx="976.84" cy="1214.75" r="1.53" fill="#8e4a62"/>
<circle cx="973.34" cy="1217.31" r="1" fill="#a05a70"/>
<circle cx="972.93" cy="1212.86" r="1.16" fill="#a05a70"/>
<circle cx="976.92" cy="1217.49" r="1.33" fill="#5e2e4e"/>
<circle cx="976.41" cy="1215.88" r="1.36" fill="#8e4a62"/>
<circle cx="972.67" cy="1216.62" r="1.3" fill="#7a3c5a"/>
<circle cx="975.93" cy="1214.66" r="1.17" fill="#a05a70"/>
<circle cx="970.55" cy="1212.85" r="1.49" fill="#5e2e4e"/>
<circle cx="976.59" cy="1213.99" r="1" fill="#8e4a62"/>
<circle cx="976.14" cy="1213.81" r="1.09" fill="#8e4a62"/>
<circle cx="970" cy="1218.32" r="1.46" fill="#7a3c5a"/>
<circle cx="976.03" cy="1215.62" r="1.25" fill="#7a3c5a"/>
<circle cx="971.52" cy="1218.51" r="1.34" fill="#7a3c5a"/>
<circle cx="970.47" cy="1214.33" r="1.04" fill="#5e2e4e"/>
<circle cx="970.97" cy="1213.7" r="1.13" fill="#8e4a62"/>
</g>
<g transform="translate(985.9 1218.6) rotate(19.72)" stroke="#3a2e2e" stroke-width="0.8">
<line x1="-14" y1="0" x2="0" y2="0" stroke="#555" stroke-width="0.8"/>
<rect x="-1" y="-2.2" width="5" height="4.4" fill="#fff"/>
<rect x="4" y="-2.4" width="14" height="4.8" fill="#ef4b4b"/>
<rect x="18" y="-2.4" width="2.4" height="4.8" fill="#111"/>
<rect x="20.4" y="-2.4" width="28" height="4.8" fill="#fff"/>
<line x1="48.4" y1="-6.5" x2="48.4" y2="6.5" stroke-width="1.1"/>
<rect x="49.5" y="-1.6" width="5" height="3.2" fill="#fff"/>
<line x1="54.5" y1="-0.8" x2="69" y2="-0.8"/><line x1="54.5" y1="0.8" x2="69" y2="0.8"/>
<line x1="69.5" y1="-4.5" x2="69.5" y2="4.5" stroke-width="1.1"/>
</g>
<path d="M1273.8 1247 L1280.8 1247 L1280 1368 Z" fill="#f6cfcf" stroke="#222" stroke-width="0.9"/>
<g fill="#f4c6c6" stroke="#333" stroke-width="1.1">

<rect x="0" y="-2.3" width="17.8" height="4.6" rx="2.3" transform="translate(1244.5 1113.5) rotate(38.16)"/>
<rect x="0" y="-2.3" width="17.73" height="4.6" rx="2.3" transform="translate(1312 1112) rotate(139.57)"/>
<path d="M1262.5 1230 C1263.67 1230.67 1264.58 1234.83 1263.5 1237 C1262.42 1239.17 1258.17 1241.33 1256 1243 C1253.83 1244.67 1251.83 1245.25 1250.5 1247 C1249.17 1248.75 1248.95 1252.67 1248 1253.5 C1247.05 1254.33 1245.25 1253.42 1244.8 1252 C1244.35 1250.58 1244.27 1247 1245.3 1245 C1246.33 1243 1249.13 1242 1251 1240 C1252.87 1238 1254.58 1234.67 1256.5 1233 C1258.42 1231.33 1261.33 1229.33 1262.5 1230 Z"/>
<path d="M1297 1231.5 C1298.08 1231.83 1299.83 1234.42 1302 1236 C1304.17 1237.58 1307.83 1239.58 1310 1241 C1312.17 1242.42 1314.58 1243.58 1315 1244.5 C1315.42 1245.42 1314 1246.5 1312.5 1246.5 C1311 1246.5 1308.5 1245.75 1306 1244.5 C1303.5 1243.25 1299.25 1240.75 1297.5 1239 C1295.75 1237.25 1295.58 1235.25 1295.5 1234 C1295.42 1232.75 1295.92 1231.17 1297 1231.5 Z"/>
</g>
<path d="M1277.5 1086.7 C1280 1086.7 1282.42 1090.7 1285 1093.5 C1287.58 1096.3 1290.5 1100.08 1293 1103.5 C1295.5 1106.92 1298.28 1110.22 1300 1114 C1301.72 1117.78 1303.13 1122.03 1303.3 1126.2 C1303.47 1130.37 1301.55 1134.43 1301 1139 C1300.45 1143.57 1299.75 1148.27 1300 1153.6 C1300.25 1158.93 1301.55 1165.63 1302.5 1171 C1303.45 1176.37 1304.82 1180.63 1305.7 1185.8 C1306.58 1190.97 1307.67 1196.97 1307.8 1202 C1307.93 1207.03 1307.22 1211.83 1306.5 1216 C1305.78 1220.17 1305.08 1224 1303.5 1227 C1301.92 1230 1299.58 1231.25 1297 1234 C1294.42 1236.75 1291.5 1240.93 1288 1243.5 C1284.5 1246.07 1279.83 1249.48 1276 1249.4 C1272.17 1249.32 1268.08 1245.48 1265 1243 C1261.92 1240.52 1259.58 1237.83 1257.5 1234.5 C1255.42 1231.17 1253.75 1227.92 1252.5 1223 C1251.25 1218.08 1250.53 1211.2 1250 1205 C1249.47 1198.8 1249.22 1191.97 1249.3 1185.8 C1249.38 1179.63 1250.1 1173.37 1250.5 1168 C1250.9 1162.63 1251.4 1158.43 1251.7 1153.6 C1252 1148.77 1252.17 1143.57 1252.3 1139 C1252.43 1134.43 1252.05 1130.37 1252.5 1126.2 C1252.95 1122.03 1253.42 1117.78 1255 1114 C1256.58 1110.22 1259.5 1106.92 1262 1103.5 C1264.5 1100.08 1267.42 1096.3 1270 1093.5 C1272.58 1090.7 1275 1086.7 1277.5 1086.7 Z" fill="#fff" stroke="#1a1a1a" stroke-width="1.3"/>
<path d="M1255.8 1114.5 C1250 1107 1255.5 1097 1264.5 1100" fill="#fff" stroke="#1a1a1a" stroke-width="1.2"/>
<path d="M1299.2 1112.5 C1305 1105 1300 1095.5 1290.5 1098" fill="#fff" stroke="#1a1a1a" stroke-width="1.2"/>
<ellipse cx="1277.5" cy="1089.2" rx="3.6" ry="2.4" fill="#f2c4c4"/>
<circle cx="1293" cy="1208.3" r="21" fill="url(#glow)"/>
<g>
<circle cx="1292.23" cy="1210.37" r="1.29" fill="#a05a70"/>
<circle cx="1283.44" cy="1209.85" r="1.37" fill="#8e4a62"/>
<circle cx="1293.6" cy="1209.99" r="1.52" fill="#7a3c5a"/>
<circle cx="1296.65" cy="1211.85" r="1.43" fill="#5e2e4e"/>
<circle cx="1293.52" cy="1210.78" r="1.07" fill="#5e2e4e"/>
<circle cx="1292.69" cy="1204.12" r="1.06" fill="#8e4a62"/>
<circle cx="1290.66" cy="1205.52" r="1.5" fill="#a05a70"/>
<circle cx="1290.93" cy="1203.34" r="1.37" fill="#5e2e4e"/>
<circle cx="1293.74" cy="1213.74" r="1.53" fill="#7a3c5a"/>
<circle cx="1301.89" cy="1211.1" r="0.92" fill="#8e4a62"/>
<circle cx="1295.27" cy="1214.9" r="1.27" fill="#5e2e4e"/>
<circle cx="1291.07" cy="1200.38" r="1.57" fill="#7a3c5a"/>
<circle cx="1292.4" cy="1209.15" r="1.29" fill="#a05a70"/>
<circle cx="1291.08" cy="1210.26" r="1" fill="#a05a70"/>
<circle cx="1283.6" cy="1204.77" r="1.2" fill="#5e2e4e"/>
<circle cx="1286.61" cy="1208.63" r="1.55" fill="#7a3c5a"/>
<circle cx="1297.02" cy="1206.11" r="1.09" fill="#a05a70"/>
<circle cx="1296.77" cy="1214.82" r="1.58" fill="#5e2e4e"/>
<circle cx="1287.41" cy="1213.57" r="1.36" fill="#7a3c5a"/>
<circle cx="1284.25" cy="1210.56" r="1.02" fill="#7a3c5a"/>
<circle cx="1290.4" cy="1213.24" r="1" fill="#8e4a62"/>
<circle cx="1291.59" cy="1200.54" r="1.12" fill="#7a3c5a"/>
<circle cx="1289.09" cy="1204.62" r="1.47" fill="#7a3c5a"/>
<circle cx="1300.07" cy="1208.9" r="1.46" fill="#5e2e4e"/>
<circle cx="1298.24" cy="1212.29" r="1.17" fill="#5e2e4e"/>
<circle cx="1285.29" cy="1210.7" r="1.28" fill="#8e4a62"/>
<circle cx="1286.36" cy="1203.3" r="1.05" fill="#5e2e4e"/>
<circle cx="1295.07" cy="1210.28" r="1.01" fill="#8e4a62"/>
<circle cx="1287.55" cy="1204.19" r="1.05" fill="#5e2e4e"/>
<circle cx="1301.8" cy="1205.33" r="1.32" fill="#7a3c5a"/>
<circle cx="1289.02" cy="1211" r="1.53" fill="#5e2e4e"/>
<circle cx="1294.05" cy="1203.82" r="1.21" fill="#8e4a62"/>
<circle cx="1284.5" cy="1207.58" r="1.29" fill="#8e4a62"/>
<circle cx="1297.93" cy="1203.33" r="1.56" fill="#7a3c5a"/>
<circle cx="1297.42" cy="1202.14" r="1.05" fill="#7a3c5a"/>
<circle cx="1294.33" cy="1199.06" r="1.01" fill="#5e2e4e"/>
<circle cx="1294.2" cy="1213.51" r="0.91" fill="#8e4a62"/>
<circle cx="1296.85" cy="1214.18" r="1.23" fill="#5e2e4e"/>
<circle cx="1292.16" cy="1201.12" r="1.29" fill="#8e4a62"/>
<circle cx="1287.55" cy="1209.32" r="1.26" fill="#5e2e4e"/>
<circle cx="1298.06" cy="1207.02" r="1.19" fill="#a05a70"/>
<circle cx="1293.41" cy="1203.26" r="1.44" fill="#7a3c5a"/>
<circle cx="1288.78" cy="1206.7" r="1.1" fill="#7a3c5a"/>
<circle cx="1291.52" cy="1215.51" r="1.05" fill="#8e4a62"/>
<circle cx="1292.16" cy="1201.26" r="1.51" fill="#7a3c5a"/>
<circle cx="1289.23" cy="1208.64" r="0.93" fill="#5e2e4e"/>
<circle cx="1293.73" cy="1199.24" r="1.07" fill="#a05a70"/>
<circle cx="1292.99" cy="1212.82" r="1.04" fill="#8e4a62"/>
<circle cx="1286.35" cy="1206.62" r="1.41" fill="#8e4a62"/>
<circle cx="1297.22" cy="1203.17" r="1.51" fill="#7a3c5a"/>
<circle cx="1292.9" cy="1199.59" r="0.95" fill="#5e2e4e"/>
<circle cx="1296.39" cy="1210.66" r="1.19" fill="#8e4a62"/>
<circle cx="1299.47" cy="1206.67" r="1.26" fill="#5e2e4e"/>
<circle cx="1300.27" cy="1207.24" r="1.5" fill="#5e2e4e"/>
<circle cx="1290.74" cy="1216.84" r="1.36" fill="#a05a70"/>
<circle cx="1290.91" cy="1203.32" r="1.04" fill="#7a3c5a"/>
<circle cx="1294.11" cy="1199.55" r="1.23" fill="#a05a70"/>
<circle cx="1289.63" cy="1213.53" r="1.43" fill="#5e2e4e"/>
<circle cx="1299.99" cy="1212.11" r="1.57" fill="#5e2e4e"/>
<circle cx="1289.9" cy="1209.42" r="1.18" fill="#5e2e4e"/>
<circle cx="1296.57" cy="1205.17" r="1.27" fill="#a05a70"/>
<circle cx="1294.64" cy="1216.99" r="1.55" fill="#a05a70"/>
<circle cx="1300.87" cy="1204.8" r="0.95" fill="#5e2e4e"/>
<circle cx="1298.89" cy="1211.9" r="1.59" fill="#5e2e4e"/>
<circle cx="1290.08" cy="1202.91" r="1.48" fill="#8e4a62"/>
<circle cx="1285.8" cy="1211.11" r="0.9" fill="#8e4a62"/>
<circle cx="1285.92" cy="1202.84" r="1.48" fill="#5e2e4e"/>
<circle cx="1288.68" cy="1205.4" r="1.19" fill="#8e4a62"/>
<circle cx="1302.76" cy="1207.68" r="0.95" fill="#a05a70"/>
<circle cx="1303.05" cy="1210.11" r="1.57" fill="#5e2e4e"/>
<circle cx="1297.05" cy="1202.55" r="1.53" fill="#7a3c5a"/>
<circle cx="1294.16" cy="1202.79" r="1" fill="#8e4a62"/>
<circle cx="1289.38" cy="1214.83" r="1.1" fill="#7a3c5a"/>
<circle cx="1292.93" cy="1208.99" r="1.08" fill="#5e2e4e"/>
<circle cx="1296.51" cy="1209.08" r="1.48" fill="#5e2e4e"/>
<circle cx="1289.66" cy="1205.36" r="1.46" fill="#7a3c5a"/>
<circle cx="1299.97" cy="1202.84" r="1.29" fill="#8e4a62"/>
<circle cx="1297.46" cy="1201.79" r="1.31" fill="#7a3c5a"/>
<circle cx="1286.63" cy="1211.44" r="0.96" fill="#a05a70"/>
<circle cx="1291.87" cy="1201.81" r="1.11" fill="#5e2e4e"/>
<circle cx="1286.53" cy="1212.7" r="0.97" fill="#5e2e4e"/>
<circle cx="1299.88" cy="1213.28" r="1.05" fill="#5e2e4e"/>
<circle cx="1293.97" cy="1216.08" r="1.23" fill="#a05a70"/>
<circle cx="1284.7" cy="1207.67" r="1.5" fill="#5e2e4e"/>
<circle cx="1299.47" cy="1213.91" r="1.32" fill="#a05a70"/>
<circle cx="1292.85" cy="1206.39" r="0.94" fill="#a05a70"/>
<circle cx="1288.14" cy="1200.83" r="1.32" fill="#5e2e4e"/>
<circle cx="1289.51" cy="1210.76" r="1.59" fill="#a05a70"/>
<circle cx="1290.71" cy="1201.75" r="0.97" fill="#7a3c5a"/>
<circle cx="1285.97" cy="1202.98" r="1" fill="#5e2e4e"/>
<circle cx="1294.9" cy="1210.09" r="1.28" fill="#5e2e4e"/>
<circle cx="1287.79" cy="1211.79" r="1.14" fill="#8e4a62"/>
<circle cx="1289.23" cy="1205.05" r="1.23" fill="#a05a70"/>
<circle cx="1284.3" cy="1210.81" r="1.36" fill="#a05a70"/>
<circle cx="1300.08" cy="1212.31" r="1.36" fill="#a05a70"/>
<circle cx="1300.97" cy="1211.75" r="1.57" fill="#a05a70"/>
<circle cx="1292.5" cy="1210.51" r="1.56" fill="#8e4a62"/>
<circle cx="1298.91" cy="1213.31" r="1.07" fill="#5e2e4e"/>
<circle cx="1293.82" cy="1211.64" r="1.43" fill="#5e2e4e"/>
<circle cx="1292.89" cy="1208.62" r="1.47" fill="#7a3c5a"/>
<circle cx="1294.03" cy="1201.77" r="1.55" fill="#5e2e4e"/>
<circle cx="1295.8" cy="1212.54" r="1.15" fill="#5e2e4e"/>
<circle cx="1291.76" cy="1204.97" r="1.2" fill="#a05a70"/>
<circle cx="1293.97" cy="1217.72" r="0.9" fill="#a05a70"/>
<circle cx="1288.7" cy="1215.26" r="1.05" fill="#5e2e4e"/>
<circle cx="1294.31" cy="1203.15" r="1.16" fill="#8e4a62"/>
<circle cx="1295.9" cy="1217.32" r="1.16" fill="#5e2e4e"/>
<circle cx="1286.42" cy="1212.42" r="1.27" fill="#5e2e4e"/>
<circle cx="1287.75" cy="1208.21" r="1.15" fill="#8e4a62"/>
<circle cx="1294.15" cy="1208.02" r="0.96" fill="#5e2e4e"/>
<circle cx="1289.73" cy="1210.54" r="1.36" fill="#a05a70"/>
<circle cx="1295.76" cy="1211.72" r="1.14" fill="#7a3c5a"/>
<circle cx="1286.5" cy="1213.14" r="1.06" fill="#a05a70"/>
<circle cx="1297.85" cy="1214.33" r="1.38" fill="#5e2e4e"/>
<circle cx="1298.23" cy="1209.39" r="1.46" fill="#5e2e4e"/>
<circle cx="1295.38" cy="1217.55" r="1.37" fill="#5e2e4e"/>
<circle cx="1289.43" cy="1201.28" r="1.09" fill="#a05a70"/>
<circle cx="1296.88" cy="1212.73" r="1.52" fill="#7a3c5a"/>
<circle cx="1292.06" cy="1199.88" r="1.32" fill="#7a3c5a"/>
<circle cx="1300.37" cy="1203.66" r="1.07" fill="#8e4a62"/>
<circle cx="1289.63" cy="1207.09" r="1.45" fill="#8e4a62"/>
<circle cx="1296.83" cy="1217.05" r="1.45" fill="#a05a70"/>
<circle cx="1284.7" cy="1203" r="0.98" fill="#8e4a62"/>
<circle cx="1286.87" cy="1207.8" r="1.1" fill="#a05a70"/>
<circle cx="1291.49" cy="1207.32" r="1.13" fill="#7a3c5a"/>
<circle cx="1298.29" cy="1204.42" r="1.2" fill="#7a3c5a"/>
<circle cx="1302.39" cy="1208.11" r="1.49" fill="#a05a70"/>
<circle cx="1295.89" cy="1216.24" r="1.28" fill="#8e4a62"/>
<circle cx="1292.83" cy="1211.32" r="1.24" fill="#8e4a62"/>
<circle cx="1288.85" cy="1213.94" r="1.3" fill="#7a3c5a"/>
<circle cx="1287.8" cy="1200.65" r="1.17" fill="#a05a70"/>
<circle cx="1298.79" cy="1211.46" r="0.91" fill="#8e4a62"/>
<circle cx="1291.93" cy="1210.31" r="1.01" fill="#a05a70"/>
<circle cx="1299.63" cy="1201.08" r="1.53" fill="#7a3c5a"/>
<circle cx="1298.78" cy="1210.76" r="0.99" fill="#a05a70"/>
<circle cx="1286.43" cy="1209.34" r="1.23" fill="#a05a70"/>
<circle cx="1302.91" cy="1209.21" r="1.34" fill="#5e2e4e"/>
<circle cx="1290.64" cy="1215.5" r="1.11" fill="#8e4a62"/>
<circle cx="1287.37" cy="1208.35" r="1.34" fill="#8e4a62"/>
<circle cx="1295.65" cy="1200.05" r="1.3" fill="#8e4a62"/>
<circle cx="1287.12" cy="1208.22" r="1.04" fill="#5e2e4e"/>
<circle cx="1292.84" cy="1207.34" r="0.99" fill="#5e2e4e"/>
<circle cx="1284.86" cy="1202.93" r="1.44" fill="#8e4a62"/>
<circle cx="1299.33" cy="1202.06" r="0.92" fill="#5e2e4e"/>
<circle cx="1297.84" cy="1201.94" r="1.6" fill="#a05a70"/>
<circle cx="1291.92" cy="1199.27" r="0.96" fill="#7a3c5a"/>
<circle cx="1297.3" cy="1211.12" r="1.34" fill="#7a3c5a"/>
<circle cx="1290.96" cy="1215.69" r="1.24" fill="#a05a70"/>
<circle cx="1291.75" cy="1201.11" r="0.98" fill="#7a3c5a"/>
<circle cx="1299.79" cy="1214.78" r="1.4" fill="#7a3c5a"/>
<circle cx="1296.59" cy="1217.1" r="1.28" fill="#a05a70"/>
<circle cx="1292.12" cy="1200.07" r="1.31" fill="#7a3c5a"/>
<circle cx="1288.87" cy="1207.2" r="1.43" fill="#a05a70"/>
<circle cx="1291.2" cy="1207.75" r="1.1" fill="#7a3c5a"/>
<circle cx="1290.69" cy="1215.27" r="1.41" fill="#5e2e4e"/>
<circle cx="1296.3" cy="1203.89" r="0.97" fill="#a05a70"/>
<circle cx="1296.14" cy="1203.16" r="1.6" fill="#8e4a62"/>
<circle cx="1301.67" cy="1212.28" r="1.52" fill="#7a3c5a"/>
<circle cx="1290.12" cy="1215.48" r="1.41" fill="#5e2e4e"/>
<circle cx="1294.43" cy="1202.58" r="1.53" fill="#a05a70"/>
<circle cx="1292.19" cy="1217.57" r="1.54" fill="#a05a70"/>
<circle cx="1284.99" cy="1213.18" r="1.43" fill="#7a3c5a"/>
<circle cx="1283.74" cy="1208.67" r="0.94" fill="#5e2e4e"/>
<circle cx="1293.16" cy="1199.92" r="1.35" fill="#8e4a62"/>
<circle cx="1290.44" cy="1210.69" r="1.56" fill="#a05a70"/>
<circle cx="1298.52" cy="1213.46" r="1.08" fill="#7a3c5a"/>
<circle cx="1286.16" cy="1202.93" r="1.57" fill="#a05a70"/>
<circle cx="1292.08" cy="1201.09" r="1.11" fill="#a05a70"/>
<circle cx="1297.34" cy="1205.3" r="1.2" fill="#8e4a62"/>
<circle cx="1290.49" cy="1206.86" r="1.56" fill="#7a3c5a"/>
<circle cx="1285.64" cy="1205.56" r="1.15" fill="#8e4a62"/>
<circle cx="1289.5" cy="1207.97" r="1.06" fill="#7a3c5a"/>
<circle cx="1286.2" cy="1212.78" r="1.28" fill="#8e4a62"/>
<circle cx="1295.61" cy="1199.47" r="1.42" fill="#7a3c5a"/>
<circle cx="1287.75" cy="1210.74" r="1.55" fill="#7a3c5a"/>
<circle cx="1291.4" cy="1208.78" r="1.12" fill="#5e2e4e"/>
<circle cx="1286.71" cy="1206.3" r="0.9" fill="#8e4a62"/>
<circle cx="1302.88" cy="1207.52" r="0.94" fill="#5e2e4e"/>
<circle cx="1295.51" cy="1210.48" r="1.22" fill="#7a3c5a"/>
<circle cx="1299.45" cy="1202.37" r="0.98" fill="#7a3c5a"/>
<circle cx="1290.35" cy="1204.57" r="1.37" fill="#8e4a62"/>
<circle cx="1299.7" cy="1206.95" r="1.08" fill="#a05a70"/>
<circle cx="1297.97" cy="1206.8" r="0.94" fill="#5e2e4e"/>
<circle cx="1286.04" cy="1210.67" r="0.92" fill="#8e4a62"/>
<circle cx="1292.32" cy="1202.62" r="1.03" fill="#5e2e4e"/>
<circle cx="1298.54" cy="1202.16" r="1.56" fill="#8e4a62"/>
<circle cx="1298.7" cy="1203.84" r="0.97" fill="#a05a70"/>
<circle cx="1299.35" cy="1211.82" r="1.37" fill="#8e4a62"/>
<circle cx="1287.16" cy="1200.65" r="0.99" fill="#a05a70"/>
<circle cx="1289.31" cy="1200.92" r="1.54" fill="#8e4a62"/>
<circle cx="1301.65" cy="1213.39" r="1.59" fill="#7a3c5a"/>
<circle cx="1289.72" cy="1215.15" r="1.27" fill="#a05a70"/>
<circle cx="1293.14" cy="1203.23" r="1.24" fill="#a05a70"/>
<circle cx="1298.44" cy="1203.95" r="1.39" fill="#a05a70"/>
<circle cx="1294.71" cy="1208.67" r="1.32" fill="#8e4a62"/>
<circle cx="1292.85" cy="1213.89" r="1.17" fill="#8e4a62"/>
<circle cx="1291.33" cy="1203.96" r="1.31" fill="#7a3c5a"/>
<circle cx="1302.88" cy="1210.05" r="0.96" fill="#5e2e4e"/>
</g>
<line x1="1038.6" y1="1184.3" x2="1196" y2="1184.3" stroke="#231815" stroke-width="1.7"/>
<path d="M1191.2 1176.2 L1209.5 1184.3 L1191.2 1191.8 L1195.5 1184.3 Z" fill="#231815"/>
<text x="1123.9" y="1166.9" font-size="28.5" text-anchor="middle" textLength="114.3" lengthAdjust="spacingAndGlyphs">4 week</text>
<text x="1119.5" y="1297.9" font-size="31.8" text-anchor="middle" textLength="263" lengthAdjust="spacingAndGlyphs">Fat pad injection</text>
<text x="1113.7" y="1341.9" font-size="33.5" text-anchor="middle" textLength="303.6" lengthAdjust="spacingAndGlyphs">(MDA-MB-231 LM1</text>
<text x="1120.8" y="1383.6" font-size="33.5" text-anchor="middle" textLength="253.6" lengthAdjust="spacingAndGlyphs">10⁶ cells / 40 µl)</text>
<text x="1348.8" y="1284.8" font-size="34.5" text-anchor="middle" textLength="97.6" lengthAdjust="spacingAndGlyphs">Tumor</text>
<text x="1348.2" y="1327.6" font-size="34.5" text-anchor="middle" textLength="106" lengthAdjust="spacingAndGlyphs">growth</text>
<text x="1394.5" y="1064" font-size="50" font-weight="bold" fill="#231815">G</text>
<text x="1580.2" y="1040.9" font-size="36.5" text-anchor="middle">shCTRL</text>
<text x="1842.5" y="1040.9" font-size="36.5" text-anchor="middle">shCCN3</text>
<g clip-path="url(#ph1)">
<rect x="1454.4" y="1058.5" width="250.8" height="333.9" fill="url(#g1bg)" stroke="none" stroke-width="1"/>
<g filter="url(#blur2)">
<path d="M1453.29 1056.57 L1639.33 1056.57 L1639.33 1107.15 L1453.29 1105.44 Z" fill="#d3d3d7" stroke="none" stroke-width="1"/>
<path d="M1453.29 1056.57 L1533.88 1056.57 L1527.02 1070.29 L1520.16 1089.15 L1506.44 1099.44 L1453.29 1102.87 Z" fill="#b9b9c0" stroke="none" stroke-width="1"/>
<path d="M1465.29 1087.43 L1520.16 1089.15 L1511.58 1100.29 L1465.29 1102.01 Z" fill="#a4a4ac" stroke="none" stroke-width="1"/>
<path d="M1639.33 1056.57 L1712.2 1056.57 L1712.2 1149.16 L1639.33 1149.16 Z" fill="#e7e7eb" stroke="none" stroke-width="1"/>
<path d="M1453.29 1105.44 L1639.33 1107.15 L1712.2 1108.01 L1712.2 1150.02 L1453.29 1146.59 Z" fill="#ededf0" stroke="none" stroke-width="1"/>
<path d="M1453.29 1146.59 L1712.2 1150.02 L1712.2 1182.09 L1453.29 1195.46 Z" fill="#1b1b1b" stroke="none" stroke-width="1"/>
<path d="M1453.29 1383.22 L1712.2 1382.36 L1712.2 1402.94 L1453.29 1402.94 Z" fill="#4f4f4f" stroke="none" stroke-width="1"/>
<path d="M1512.44 1162.88 C1514.48 1159.68 1522.52 1153.39 1527.02 1152.59 C1531.52 1151.79 1545.42 1155.92 1551.02 1156.02 C1556.62 1156.12 1570.23 1153.85 1575.03 1153.45 C1579.83 1153.05 1588.57 1151.99 1592.17 1152.59 C1595.78 1153.19 1603.39 1156.59 1605.89 1158.59 C1608.39 1160.59 1612.61 1166.64 1613.61 1169.74 C1614.61 1172.84 1612.76 1181.77 1614.47 1185.17 C1616.17 1188.57 1625.38 1195.49 1628.18 1198.89 C1630.98 1202.29 1636.27 1210.32 1638.47 1214.32 C1640.67 1218.32 1645.24 1228.98 1647.04 1233.18 C1648.84 1237.38 1652.4 1245.53 1653.9 1250.33 C1655.4 1255.13 1659 1269.33 1659.9 1274.33 C1660.8 1279.34 1661.82 1288.4 1661.62 1293.2 C1661.42 1298 1660.09 1310.49 1658.19 1315.49 C1656.29 1320.49 1649.03 1332.86 1645.33 1336.06 C1641.63 1339.26 1629.87 1339.92 1626.47 1342.92 C1623.07 1345.92 1618.18 1354.78 1616.18 1361.78 C1614.18 1368.78 1625.72 1398.13 1609.32 1402.94 C1592.92 1407.74 1490.68 1408.94 1475.58 1402.94 C1460.47 1396.93 1479.06 1362.5 1479.86 1351.5 C1480.66 1340.49 1481.63 1317.63 1482.43 1308.63 C1483.24 1299.63 1485.42 1281.34 1486.72 1274.33 C1488.02 1267.33 1491.88 1254.62 1493.58 1248.61 C1495.28 1242.61 1499.8 1228.9 1501.3 1222.89 C1502.8 1216.89 1505.48 1202.18 1506.44 1197.17 C1507.4 1192.17 1508.83 1184.03 1509.53 1180.03 C1510.23 1176.03 1510.4 1166.08 1512.44 1162.88 Z" fill="url(#g1hand)"/>
<path d="M1614.47 1252.04 L1647.04 1233.18 L1653.9 1250.33 L1659.9 1274.33 L1661.62 1293.2 L1658.19 1315.49 L1645.33 1336.06 L1626.47 1342.92 L1614.47 1317.2 Z" fill="#cfbeab" stroke="none" stroke-width="1" fill-opacity="0.7"/>
<path d="M1485.86 1279.48 L1513.3 1272.62 L1520.16 1317.2 L1527.02 1351.5 L1520.16 1402.94 L1477.29 1402.94 L1480.72 1334.35 Z" fill="#e1d5c6" stroke="none" stroke-width="1" fill-opacity="0.8"/>
<path d="M1532.16 1327.49 L1592.17 1327.49 L1609.32 1351.5 L1602.46 1402.94 L1527.02 1402.94 L1523.59 1351.5 Z" fill="#d3c2b0" stroke="none" stroke-width="1" fill-opacity="0.6"/>
<path d="M1528.73 1075.09 C1530.1 1074.17 1532.62 1075.27 1535.59 1077.15 C1538.56 1079.02 1546.22 1085.03 1551.02 1089.15 C1555.82 1093.26 1566.57 1103.21 1571.6 1108.01 C1576.63 1112.81 1585.27 1121.16 1588.74 1125.16 C1592.22 1129.16 1597.55 1135.73 1597.66 1138.02 C1597.78 1140.3 1591.02 1139.9 1589.6 1142.3 C1588.18 1144.71 1587.6 1150.99 1587.03 1156.02 C1586.46 1161.05 1585.43 1173.4 1585.32 1180.03 C1585.2 1186.66 1585.14 1199.92 1586.17 1205.75 C1587.2 1211.58 1590.97 1218.95 1593.03 1223.75 C1595.09 1228.55 1599.43 1237.07 1601.6 1241.76 C1603.78 1246.44 1607.38 1254.1 1609.32 1258.9 C1611.26 1263.7 1614.92 1272.51 1616.18 1277.76 C1617.44 1283.02 1618.98 1294 1618.75 1298.34 C1618.52 1302.68 1616.64 1307.71 1614.47 1310.34 C1612.29 1312.97 1606.35 1316.34 1602.46 1318.06 C1598.58 1319.77 1590.12 1322.29 1585.32 1323.2 C1580.51 1324.12 1571.48 1325.03 1566.45 1324.92 C1561.42 1324.8 1551.94 1323.26 1547.59 1322.35 C1543.25 1321.43 1537.08 1319.89 1533.88 1318.06 C1530.67 1316.23 1525.76 1311.94 1523.59 1308.63 C1521.42 1305.31 1518.32 1298.91 1517.59 1293.2 C1516.85 1287.48 1517.87 1273.99 1518.1 1265.76 C1518.33 1257.53 1518.91 1240.61 1519.3 1231.47 C1519.69 1222.32 1520.44 1206.32 1521.02 1197.17 C1521.59 1188.03 1522.79 1170.88 1523.59 1162.88 C1524.39 1154.88 1526.56 1144.02 1527.02 1137.16 C1527.47 1130.3 1527.25 1118.53 1527.02 1111.44 C1526.79 1104.35 1525.07 1088.85 1525.3 1084.01 C1525.53 1079.16 1527.36 1076 1528.73 1075.09 Z" fill="url(#g1m)"/>
<path d="M1527.02 1104.58 L1551.02 1097.72 L1575.03 1116.58 L1578.46 1145.73 L1557.88 1156.02 L1532.16 1145.73 Z" fill="#efeae2" stroke="none" stroke-width="1" fill-opacity="0.7"/>
<path d="M1523.59 1180.03 L1547.59 1171.45 L1575.03 1190.32 L1581.89 1222.89 L1561.31 1248.61 L1527.02 1257.19 L1521.02 1222.89 Z" fill="#ddd6cb" stroke="none" stroke-width="1" fill-opacity="0.5"/>
<path d="M1495.29 1142.3 L1501.3 1140.59 L1511.58 1149.16 L1525.3 1155.16 L1525.3 1164.6 L1516.73 1162.88 L1506.44 1153.45 L1497.01 1149.16 Z" fill="#efcfca" stroke="none" stroke-width="1"/>
<path d="M1528.73 1132.02 L1537.3 1129.44 L1545.88 1137.16 L1557.88 1145.73 L1556.17 1151.74 L1547.59 1149.16 L1537.3 1140.59 L1529.59 1138.02 Z" fill="#efcfca" stroke="none" stroke-width="1"/>
<path d="M1535.59 1315.49 L1541.59 1320.63 L1535.59 1332.63 L1520.16 1339.49 L1503.01 1349.78 L1496.15 1349.78 L1497.87 1342.92 L1515.01 1334.35 L1530.45 1327.49 Z" fill="#efcfca" stroke="none" stroke-width="1"/>
<path d="M1605.03 1317.2 L1611.89 1317.2 L1617.04 1337.78 L1626.47 1354.92 L1629.04 1368.64 L1622.18 1370.36 L1616.18 1354.92 L1608.46 1337.78 Z" fill="#efcfca" stroke="none" stroke-width="1"/>
<path d="M1619.61 1334.35 L1640.19 1351.5 L1653.9 1368.64 L1651.33 1370.36 L1636.76 1354.92 L1617.89 1338.64 Z" fill="#dcb3ac" stroke="none" stroke-width="1"/>
</g>
<circle cx="1586.5" cy="1272.6" r="23" fill="url(#tum1)" filter="url(#blur1)"/>
<circle cx="1586.2" cy="1272.6" r="24.6" fill="none" stroke="#fff" stroke-width="4.3" stroke-dasharray="6.4 4.6"/>
</g>
<rect x="1454.4" y="1058.5" width="250.8" height="333.9" fill="none" stroke="#111" stroke-width="1.5"/>
<g clip-path="url(#ph2)">
<rect x="1717.3" y="1057.7" width="250.9" height="334.7" fill="url(#g1bg)" stroke="none" stroke-width="1"/>
<g filter="url(#blur2)">
<path d="M1710.23 1051.47 L1977.02 1051.47 L1977.02 1145.11 L1710.23 1118.6 Z" fill="#e6e6ea" stroke="none" stroke-width="1"/>
<path d="M1729.67 1051.47 L1939.92 1051.47 L1936.38 1088.57 L1929.31 1092.1 L1731.43 1089.45 Z" fill="#d3d3d7" stroke="none" stroke-width="1"/>
<path d="M1729.67 1051.47 L1844.51 1051.47 L1818.01 1065.6 L1765 1074.43 L1731.43 1076.2 Z" fill="#c3c3c9" stroke="none" stroke-width="1"/>
<path d="M1710.23 1051.47 L1731.43 1051.47 L1722.6 1069.13 L1710.23 1083.27 Z" fill="#1e1e1e" stroke="none" stroke-width="1"/>
<path d="M1710.23 1117.72 L1977.02 1144.58 L1977.02 1164.54 L1710.23 1170.19 Z" fill="#1b1b1b" stroke="none" stroke-width="1"/>
<path d="M1710.23 1381.5 L1977.02 1380.09 L1977.02 1408.36 L1710.23 1408.36 Z" fill="#474747" stroke="none" stroke-width="1"/>
<path d="M1756.17 1231.68 C1758.44 1224.46 1762.53 1204.18 1765 1196.34 C1767.48 1188.51 1774.28 1169.49 1777.37 1164.54 C1780.46 1159.59 1786.76 1154.97 1791.51 1153.94 C1796.25 1152.91 1810.79 1155.09 1818.01 1155.71 C1825.22 1156.33 1847.78 1157.59 1853.34 1159.24 C1858.91 1160.89 1863.03 1165.92 1865.71 1169.84 C1868.39 1173.76 1873.63 1188.07 1876.31 1192.81 C1878.99 1197.55 1886 1206.56 1888.68 1210.48 C1891.36 1214.39 1896.39 1222.05 1899.28 1226.38 C1902.16 1230.71 1911.04 1242.84 1913.41 1247.58 C1915.78 1252.32 1919.39 1262.69 1919.6 1267.01 C1919.8 1271.34 1917.76 1280.97 1915.18 1284.68 C1912.6 1288.39 1901.02 1294.69 1897.51 1298.82 C1894.01 1302.94 1888.24 1313.42 1885.14 1320.02 C1882.05 1326.61 1873.48 1345.05 1871.01 1355.35 C1868.54 1365.66 1879.82 1402.17 1863.94 1408.36 C1848.07 1414.54 1749.6 1416.6 1734.97 1408.36 C1720.33 1400.11 1737.88 1352.11 1738.5 1337.69 C1739.12 1323.26 1739.44 1293.96 1740.27 1284.68 C1741.09 1275.41 1743.71 1264.36 1745.57 1258.18 C1747.42 1252 1753.9 1238.89 1756.17 1231.68 Z" fill="url(#g2hand)"/>
<path d="M1871.01 1222.84 L1897.51 1235.21 L1913.41 1249.35 L1919.6 1267.01 L1915.18 1284.68 L1897.51 1298.82 L1885.14 1320.02 L1876.31 1284.68 Z" fill="#cfbeab" stroke="none" stroke-width="1" fill-opacity="0.7"/>
<path d="M1742.04 1275.85 L1779.14 1258.18 L1786.2 1320.02 L1782.67 1408.36 L1734.97 1408.36 L1738.5 1337.69 Z" fill="#e2d6c7" stroke="none" stroke-width="1" fill-opacity="0.8"/>
<path d="M1789.74 1100.94 C1790.8 1097.64 1792.92 1093.16 1795.04 1092.1 C1797.16 1091.04 1802.34 1090.87 1805.64 1092.99 C1808.94 1095.11 1815.77 1104.35 1819.77 1108 C1823.78 1111.65 1831.2 1117.07 1835.67 1120.37 C1840.15 1123.67 1851.34 1129.2 1853.34 1132.74 C1855.35 1136.27 1850.69 1142.63 1850.69 1146.87 C1850.69 1151.11 1852.87 1158.89 1853.34 1164.54 C1853.81 1170.19 1853.52 1182.21 1854.23 1189.28 C1854.93 1196.34 1857.35 1210.01 1858.64 1217.54 C1859.94 1225.08 1862.29 1239.45 1863.94 1245.81 C1865.59 1252.17 1868.3 1260.77 1871.01 1265.25 C1873.72 1269.72 1881.67 1274.43 1884.26 1279.38 C1886.85 1284.33 1890.21 1296.93 1890.45 1302.35 C1890.68 1307.77 1888.38 1316.25 1886.03 1320.02 C1883.67 1323.79 1877.14 1328.26 1872.78 1330.62 C1868.42 1332.97 1858.76 1336.39 1853.34 1337.69 C1847.92 1338.98 1837.8 1340.81 1832.14 1340.34 C1826.49 1339.86 1816.12 1336.39 1810.94 1334.15 C1805.76 1331.91 1797.04 1327.79 1793.27 1323.55 C1789.5 1319.31 1783.61 1308.47 1782.67 1302.35 C1781.73 1296.22 1784.67 1284.45 1786.2 1277.61 C1787.74 1270.78 1792.74 1258.42 1794.16 1251.11 C1795.57 1243.81 1797.04 1229.68 1796.81 1222.84 C1796.57 1216.01 1793.68 1206.71 1792.39 1199.88 C1791.09 1193.04 1788.03 1179.15 1787.09 1171.61 C1786.15 1164.07 1785.32 1150.64 1785.32 1143.34 C1785.32 1136.04 1786.5 1122.49 1787.09 1116.84 C1787.68 1111.18 1788.68 1104.23 1789.74 1100.94 Z" fill="url(#g1m)"/>
<path d="M1796.81 1199.88 L1826.84 1189.28 L1851.58 1206.94 L1856.88 1235.21 L1835.67 1252.88 L1803.87 1245.81 Z" fill="#ddd6cb" stroke="none" stroke-width="1" fill-opacity="0.5"/>
<path d="M1762.35 1175.14 L1770.3 1172.49 L1786.2 1181.33 L1787.97 1190.16 L1780.02 1189.28 L1765 1183.09 Z" fill="#efcdc6" stroke="none" stroke-width="1"/>
<path d="M1798.57 1164.54 L1808.29 1161.01 L1815.36 1165.42 L1822.42 1175.14 L1817.12 1176.91 L1805.64 1170.72 Z" fill="#efcdc6" stroke="none" stroke-width="1"/>
<path d="M1789.74 1323.55 L1795.92 1330.62 L1787.97 1341.22 L1766.77 1351.82 L1749.1 1363.3 L1745.57 1356.24 L1763.24 1344.75 L1782.67 1334.15 Z" fill="#efcdc6" stroke="none" stroke-width="1"/>
<path d="M1869.24 1325.32 L1877.19 1327.08 L1882.49 1337.69 L1902.81 1351.82 L1910.76 1369.49 L1903.7 1372.14 L1893.1 1356.24 L1874.54 1341.22 Z" fill="#efcdc6" stroke="none" stroke-width="1"/>
<path d="M1840.98 1341.22 L1851.58 1351.82 L1858.64 1381.86 L1858.64 1408.36 L1851.58 1408.36 L1847.16 1358.89 Z" fill="#e2d3cd" stroke="none" stroke-width="1"/>
</g>
<circle cx="1852.5" cy="1288.2" r="11" fill="url(#tum2)" filter="url(#blur1)"/>
<circle cx="1852.3" cy="1288.2" r="13.6" fill="none" stroke="#fff" stroke-width="3.6" stroke-dasharray="4.2 3.1"/>
</g>
<rect x="1717.3" y="1057.7" width="250.9" height="334.7" fill="none" stroke="#111" stroke-width="1.5"/>
<text x="-1" y="1517.7" font-size="50" font-weight="bold" fill="#231815">H</text>
<line x1="159.3" y1="1548.1" x2="159.3" y2="1840.6" stroke="#000" stroke-width="2.6"/>
<line x1="149.3" y1="1549.4" x2="159.3" y2="1549.4" stroke="#000" stroke-width="2.6"/>
<text x="148.5" y="1557.68" font-size="24.08" text-anchor="end" font-weight="bold" textLength="47.83" lengthAdjust="spacingAndGlyphs">1200</text>
<line x1="149.3" y1="1621.88" x2="159.3" y2="1621.88" stroke="#000" stroke-width="2.6"/>
<text x="148.5" y="1630.16" font-size="24.08" text-anchor="end" font-weight="bold" textLength="35.87" lengthAdjust="spacingAndGlyphs">900</text>
<line x1="149.3" y1="1694.35" x2="159.3" y2="1694.35" stroke="#000" stroke-width="2.6"/>
<text x="148.5" y="1702.63" font-size="24.08" text-anchor="end" font-weight="bold" textLength="35.87" lengthAdjust="spacingAndGlyphs">600</text>
<line x1="149.3" y1="1766.83" x2="159.3" y2="1766.83" stroke="#000" stroke-width="2.6"/>
<text x="148.5" y="1775.1" font-size="24.08" text-anchor="end" font-weight="bold" textLength="35.87" lengthAdjust="spacingAndGlyphs">300</text>
<line x1="149.3" y1="1839.3" x2="159.3" y2="1839.3" stroke="#000" stroke-width="2.6"/>
<text x="148.5" y="1847.58" font-size="24.08" text-anchor="end" font-weight="bold" textLength="11.96" lengthAdjust="spacingAndGlyphs">0</text>
<line x1="159.3" y1="1839.3" x2="449" y2="1839.3" stroke="#000" stroke-width="2.6"/>
<line x1="159.3" y1="1839.3" x2="159.3" y2="1846.8" stroke="#000" stroke-width="2.6"/>
<line x1="255.87" y1="1839.3" x2="255.87" y2="1846.8" stroke="#000" stroke-width="2.6"/>
<line x1="352.44" y1="1839.3" x2="352.44" y2="1846.8" stroke="#000" stroke-width="2.6"/>
<line x1="449.01" y1="1839.3" x2="449.01" y2="1846.8" stroke="#000" stroke-width="2.6"/>
<text x="159.3" y="1870.3" font-size="23.52" text-anchor="middle" font-weight="bold" textLength="11.68" lengthAdjust="spacingAndGlyphs">0</text>
<text x="255.87" y="1870.3" font-size="23.52" text-anchor="middle" font-weight="bold" textLength="23.36" lengthAdjust="spacingAndGlyphs">10</text>
<text x="352.44" y="1870.3" font-size="23.52" text-anchor="middle" font-weight="bold" textLength="23.36" lengthAdjust="spacingAndGlyphs">20</text>
<text x="449.01" y="1870.3" font-size="23.52" text-anchor="middle" font-weight="bold" textLength="23.36" lengthAdjust="spacingAndGlyphs">30</text>
<text x="306.2" y="1916" font-size="31.14" text-anchor="middle" textLength="63.34" lengthAdjust="spacingAndGlyphs">Days</text>
<text transform="translate(88.8 1698) rotate(-90)" x="0" y="0" font-size="38.53" text-anchor="middle" textLength="319.81" lengthAdjust="spacingAndGlyphs">Tumor volume (mm³)</text>
<line x1="265.53" y1="1826.74" x2="265.53" y2="1833.26" stroke="#000" stroke-width="2.6"/>
<line x1="258.33" y1="1826.74" x2="272.73" y2="1826.74" stroke="#000" stroke-width="2.6"/>
<line x1="258.33" y1="1833.26" x2="272.73" y2="1833.26" stroke="#000" stroke-width="2.6"/>
<line x1="333.13" y1="1775.28" x2="333.13" y2="1815.14" stroke="#000" stroke-width="2.6"/>
<line x1="325.93" y1="1775.28" x2="340.33" y2="1775.28" stroke="#000" stroke-width="2.6"/>
<line x1="325.93" y1="1815.14" x2="340.33" y2="1815.14" stroke="#000" stroke-width="2.6"/>
<line x1="362.1" y1="1729.38" x2="362.1" y2="1799.44" stroke="#000" stroke-width="2.6"/>
<line x1="354.9" y1="1729.38" x2="369.3" y2="1729.38" stroke="#000" stroke-width="2.6"/>
<line x1="354.9" y1="1799.44" x2="369.3" y2="1799.44" stroke="#000" stroke-width="2.6"/>
<line x1="400.73" y1="1658.12" x2="400.73" y2="1769.24" stroke="#000" stroke-width="2.6"/>
<line x1="393.53" y1="1658.12" x2="407.93" y2="1658.12" stroke="#000" stroke-width="2.6"/>
<line x1="393.53" y1="1769.24" x2="407.93" y2="1769.24" stroke="#000" stroke-width="2.6"/>
<line x1="429.7" y1="1562.69" x2="429.7" y2="1708.85" stroke="#000" stroke-width="2.6"/>
<line x1="422.5" y1="1562.69" x2="436.9" y2="1562.69" stroke="#000" stroke-width="2.6"/>
<line x1="422.5" y1="1708.85" x2="436.9" y2="1708.85" stroke="#000" stroke-width="2.6"/>
<line x1="400.73" y1="1801.86" x2="400.73" y2="1819.49" stroke="#e3201b" stroke-width="2.6"/>
<line x1="393.53" y1="1801.86" x2="407.93" y2="1801.86" stroke="#e3201b" stroke-width="2.6"/>
<line x1="393.53" y1="1819.49" x2="407.93" y2="1819.49" stroke="#e3201b" stroke-width="2.6"/>
<line x1="429.7" y1="1795.33" x2="429.7" y2="1818.52" stroke="#e3201b" stroke-width="2.6"/>
<line x1="422.5" y1="1795.33" x2="436.9" y2="1795.33" stroke="#e3201b" stroke-width="2.6"/>
<line x1="422.5" y1="1818.52" x2="436.9" y2="1818.52" stroke="#e3201b" stroke-width="2.6"/>
<path d="M159.3 1839.3 L265.53 1830.12 L294.5 1826.01 L333.13 1795.82 L362.1 1764.41 L400.73 1713.68 L429.7 1635.16" fill="none" stroke="#000" stroke-width="2.6" stroke-linejoin="round"/>
<path d="M159.3 1839.3 L265.53 1833.26 L294.5 1833.26 L333.13 1830.84 L362.1 1827.22 L400.73 1810.31 L429.7 1807.89" fill="none" stroke="#e3201b" stroke-width="2.6" stroke-linejoin="round"/>
<rect x="152.55" y="1832.55" width="13.5" height="13.5" fill="#000" stroke="none" stroke-width="1"/>
<rect x="258.78" y="1823.37" width="13.5" height="13.5" fill="#000" stroke="none" stroke-width="1"/>
<rect x="287.75" y="1819.26" width="13.5" height="13.5" fill="#000" stroke="none" stroke-width="1"/>
<rect x="326.38" y="1789.07" width="13.5" height="13.5" fill="#000" stroke="none" stroke-width="1"/>
<rect x="355.35" y="1757.66" width="13.5" height="13.5" fill="#000" stroke="none" stroke-width="1"/>
<rect x="393.98" y="1706.93" width="13.5" height="13.5" fill="#000" stroke="none" stroke-width="1"/>
<rect x="422.95" y="1628.41" width="13.5" height="13.5" fill="#000" stroke="none" stroke-width="1"/>
<rect x="152.55" y="1832.55" width="13.5" height="13.5" fill="#e3201b" stroke="none" stroke-width="1"/>
<rect x="258.78" y="1826.51" width="13.5" height="13.5" fill="#e3201b" stroke="none" stroke-width="1"/>
<rect x="287.75" y="1826.51" width="13.5" height="13.5" fill="#e3201b" stroke="none" stroke-width="1"/>
<rect x="326.38" y="1824.09" width="13.5" height="13.5" fill="#e3201b" stroke="none" stroke-width="1"/>
<rect x="355.35" y="1820.47" width="13.5" height="13.5" fill="#e3201b" stroke="none" stroke-width="1"/>
<rect x="393.98" y="1803.56" width="13.5" height="13.5" fill="#e3201b" stroke="none" stroke-width="1"/>
<rect x="422.95" y="1801.14" width="13.5" height="13.5" fill="#e3201b" stroke="none" stroke-width="1"/>
<path d="M450.8 1635.6 L459 1635.6 L459 1805.7 L450.8 1805.7" fill="none" stroke="#000" stroke-width="1.3"/>
<text transform="translate(464.6 1721.5) rotate(90)" x="0" y="0" font-size="31" text-anchor="middle" textLength="40.5" lengthAdjust="spacingAndGlyphs">***</text>
<line x1="180" y1="1572.9" x2="212" y2="1572.9" stroke="#000" stroke-width="2.4"/>
<rect x="189.25" y="1566.15" width="13.5" height="13.5" fill="#000" stroke="none" stroke-width="1"/>
<text x="228.8" y="1580.1" font-size="30.24" textLength="99.02" lengthAdjust="spacingAndGlyphs">shCTRL</text>
<line x1="180" y1="1610.5" x2="212" y2="1610.5" stroke="#e3201b" stroke-width="2.4"/>
<rect x="189.25" y="1603.75" width="13.5" height="13.5" fill="#e3201b" stroke="none" stroke-width="1"/>
<text x="228.8" y="1617.3" font-size="30.24" textLength="102.03" lengthAdjust="spacingAndGlyphs">shCCN3</text>
<text x="554.5" y="1517.7" font-size="50" font-weight="bold" fill="#231815">I</text>
<line x1="703.6" y1="1546.6" x2="703.6" y2="1834.7" stroke="#000" stroke-width="2.6"/>
<line x1="694.1" y1="1547.89" x2="703.6" y2="1547.89" stroke="#000" stroke-width="2.6"/>
<text x="688.5" y="1555.79" font-size="22.96" text-anchor="end" font-weight="bold" textLength="45.61" lengthAdjust="spacingAndGlyphs">1500</text>
<line x1="694.1" y1="1631.93" x2="703.6" y2="1631.93" stroke="#000" stroke-width="2.6"/>
<text x="688.5" y="1639.82" font-size="22.96" text-anchor="end" font-weight="bold" textLength="45.61" lengthAdjust="spacingAndGlyphs">1000</text>
<line x1="694.1" y1="1715.96" x2="703.6" y2="1715.96" stroke="#000" stroke-width="2.6"/>
<text x="688.5" y="1723.86" font-size="22.96" text-anchor="end" font-weight="bold" textLength="34.2" lengthAdjust="spacingAndGlyphs">500</text>
<line x1="694.1" y1="1800" x2="703.6" y2="1800" stroke="#000" stroke-width="2.6"/>
<text x="688.5" y="1807.89" font-size="22.96" text-anchor="end" font-weight="bold" textLength="11.4" lengthAdjust="spacingAndGlyphs">0</text>
<line x1="703.6" y1="1833.4" x2="894.8" y2="1833.4" stroke="#000" stroke-width="2.6"/>
<line x1="750.9" y1="1833.4" x2="750.9" y2="1843.4" stroke="#000" stroke-width="2.6"/>
<line x1="845.7" y1="1833.4" x2="845.7" y2="1843.4" stroke="#000" stroke-width="2.6"/>
<text transform="translate(633.2 1683.7) rotate(-90)" x="0" y="0" font-size="38.75" text-anchor="middle" textLength="321.67" lengthAdjust="spacingAndGlyphs">Tumor volume (mm³)</text>
<line x1="751.2" y1="1608.3" x2="751.2" y2="1709.4" stroke="#000" stroke-width="2.6"/>
<line x1="734.85" y1="1608.3" x2="767.55" y2="1608.3" stroke="#000" stroke-width="2.6"/>
<line x1="734.85" y1="1709.4" x2="767.55" y2="1709.4" stroke="#000" stroke-width="2.6"/>
<line x1="718.7" y1="1659" x2="784" y2="1659" stroke="#000" stroke-width="2.6"/>
<circle cx="733.3" cy="1619.6" r="5.2" fill="#000"/>
<circle cx="751.4" cy="1627.1" r="5.2" fill="#000"/>
<circle cx="769" cy="1622.1" r="5.2" fill="#000"/>
<circle cx="751.4" cy="1701.3" r="5.2" fill="#000"/>
<circle cx="751.4" cy="1726.5" r="5.2" fill="#000"/>
<rect x="841.2" y="1761" width="9" height="9" fill="#e3201b" stroke="none" stroke-width="1"/>
<rect x="824" y="1775.5" width="9" height="9" fill="#e3201b" stroke="none" stroke-width="1"/>
<rect x="834" y="1782.5" width="9" height="9" fill="#e3201b" stroke="none" stroke-width="1"/>
<rect x="850" y="1780" width="9" height="9" fill="#e3201b" stroke="none" stroke-width="1"/>
<rect x="844.5" y="1769.5" width="9" height="9" fill="#e3201b" stroke="none" stroke-width="1"/>
<line x1="845.7" y1="1769.2" x2="845.7" y2="1785.6" stroke="#000" stroke-width="2.4"/>
<line x1="829.4" y1="1769.2" x2="862" y2="1769.2" stroke="#000" stroke-width="2.4"/>
<line x1="829.4" y1="1785.6" x2="862" y2="1785.6" stroke="#000" stroke-width="2.4"/>
<line x1="813" y1="1778" x2="878.4" y2="1778" stroke="#000" stroke-width="2.4"/>
<path d="M750.9 1583.1 L750.9 1571.8 L845.2 1571.8 L845.2 1721.4" fill="none" stroke="#000" stroke-width="1.3"/>
<text x="799.2" y="1569.2" font-size="33" text-anchor="middle" textLength="26.5" lengthAdjust="spacingAndGlyphs">**</text>
<text transform="translate(768 1870) rotate(-45)" x="0" y="0" font-size="39.87" text-anchor="end" textLength="130.57" lengthAdjust="spacingAndGlyphs">shCTRL</text>
<text transform="translate(771.3 1962.3) rotate(-45)" x="0" y="0" font-size="39.87" textLength="134.53" lengthAdjust="spacingAndGlyphs">shCCN3</text>
<text x="942" y="1517.7" font-size="50" font-weight="bold" fill="#231815">J</text>
<line x1="1100.6" y1="1536" x2="1100.6" y2="1823.7" stroke="#000" stroke-width="2.6"/>
<line x1="1091.1" y1="1537.35" x2="1100.6" y2="1537.35" stroke="#000" stroke-width="2.6"/>
<text x="1088.5" y="1545.63" font-size="24.08" text-anchor="end" font-weight="bold" textLength="29.89" lengthAdjust="spacingAndGlyphs">1.5</text>
<line x1="1091.1" y1="1621.3" x2="1100.6" y2="1621.3" stroke="#000" stroke-width="2.6"/>
<text x="1088.5" y="1629.58" font-size="24.08" text-anchor="end" font-weight="bold" textLength="29.89" lengthAdjust="spacingAndGlyphs">1.0</text>
<line x1="1091.1" y1="1705.25" x2="1100.6" y2="1705.25" stroke="#000" stroke-width="2.6"/>
<text x="1088.5" y="1713.53" font-size="24.08" text-anchor="end" font-weight="bold" textLength="29.89" lengthAdjust="spacingAndGlyphs">0.5</text>
<line x1="1091.1" y1="1789.2" x2="1100.6" y2="1789.2" stroke="#000" stroke-width="2.6"/>
<text x="1088.5" y="1797.48" font-size="24.08" text-anchor="end" font-weight="bold" textLength="29.89" lengthAdjust="spacingAndGlyphs">0.0</text>
<line x1="1100.6" y1="1822.4" x2="1291.4" y2="1822.4" stroke="#000" stroke-width="2.6"/>
<line x1="1147.4" y1="1822.4" x2="1147.4" y2="1832" stroke="#000" stroke-width="2.6"/>
<line x1="1243" y1="1822.4" x2="1243" y2="1832" stroke="#000" stroke-width="2.6"/>
<text transform="translate(1036.8 1672) rotate(-90)" x="0" y="0" font-size="39.31" text-anchor="middle" textLength="263.98" lengthAdjust="spacingAndGlyphs">Tumor weight (g)</text>
<line x1="1148" y1="1611.2" x2="1148" y2="1669" stroke="#000" stroke-width="2.8"/>
<line x1="1130.4" y1="1611.2" x2="1165.6" y2="1611.2" stroke="#000" stroke-width="2.8"/>
<line x1="1130.4" y1="1669" x2="1165.6" y2="1669" stroke="#000" stroke-width="2.8"/>
<line x1="1115.2" y1="1640.4" x2="1180.8" y2="1640.4" stroke="#000" stroke-width="2.6"/>
<circle cx="1148" cy="1611.2" r="5.2" fill="#000"/>
<circle cx="1131" cy="1634.6" r="5.2" fill="#000"/>
<circle cx="1148" cy="1638.4" r="5.2" fill="#000"/>
<circle cx="1166.2" cy="1630.3" r="5.2" fill="#000"/>
<circle cx="1148" cy="1689.2" r="5.2" fill="#000"/>
<rect x="1220" y="1764" width="9" height="9" fill="#e3201b" stroke="none" stroke-width="1"/>
<rect x="1228.5" y="1760" width="9" height="9" fill="#e3201b" stroke="none" stroke-width="1"/>
<rect x="1238.5" y="1763" width="9" height="9" fill="#e3201b" stroke="none" stroke-width="1"/>
<rect x="1247.5" y="1761.5" width="9" height="9" fill="#e3201b" stroke="none" stroke-width="1"/>
<rect x="1256.5" y="1765" width="9" height="9" fill="#e3201b" stroke="none" stroke-width="1"/>
<rect x="1224" y="1764.5" width="38" height="6" fill="#111" stroke="none" stroke-width="1"/>
<line x1="1210.2" y1="1767.3" x2="1275.6" y2="1767.3" stroke="#000" stroke-width="2.4"/>
<path d="M1148 1575.5 L1148 1565.5 L1243 1565.5 L1243 1715" fill="none" stroke="#000" stroke-width="1.3"/>
<text x="1197" y="1562.9" font-size="33" text-anchor="middle" textLength="40" lengthAdjust="spacingAndGlyphs">***</text>
<text transform="translate(1164.5 1859) rotate(-45)" x="0" y="0" font-size="39.87" text-anchor="end" textLength="130.57" lengthAdjust="spacingAndGlyphs">shCTRL</text>
<text transform="translate(1167.8 1951.3) rotate(-45)" x="0" y="0" font-size="39.87" textLength="134.53" lengthAdjust="spacingAndGlyphs">shCCN3</text>
</svg></body></html>
